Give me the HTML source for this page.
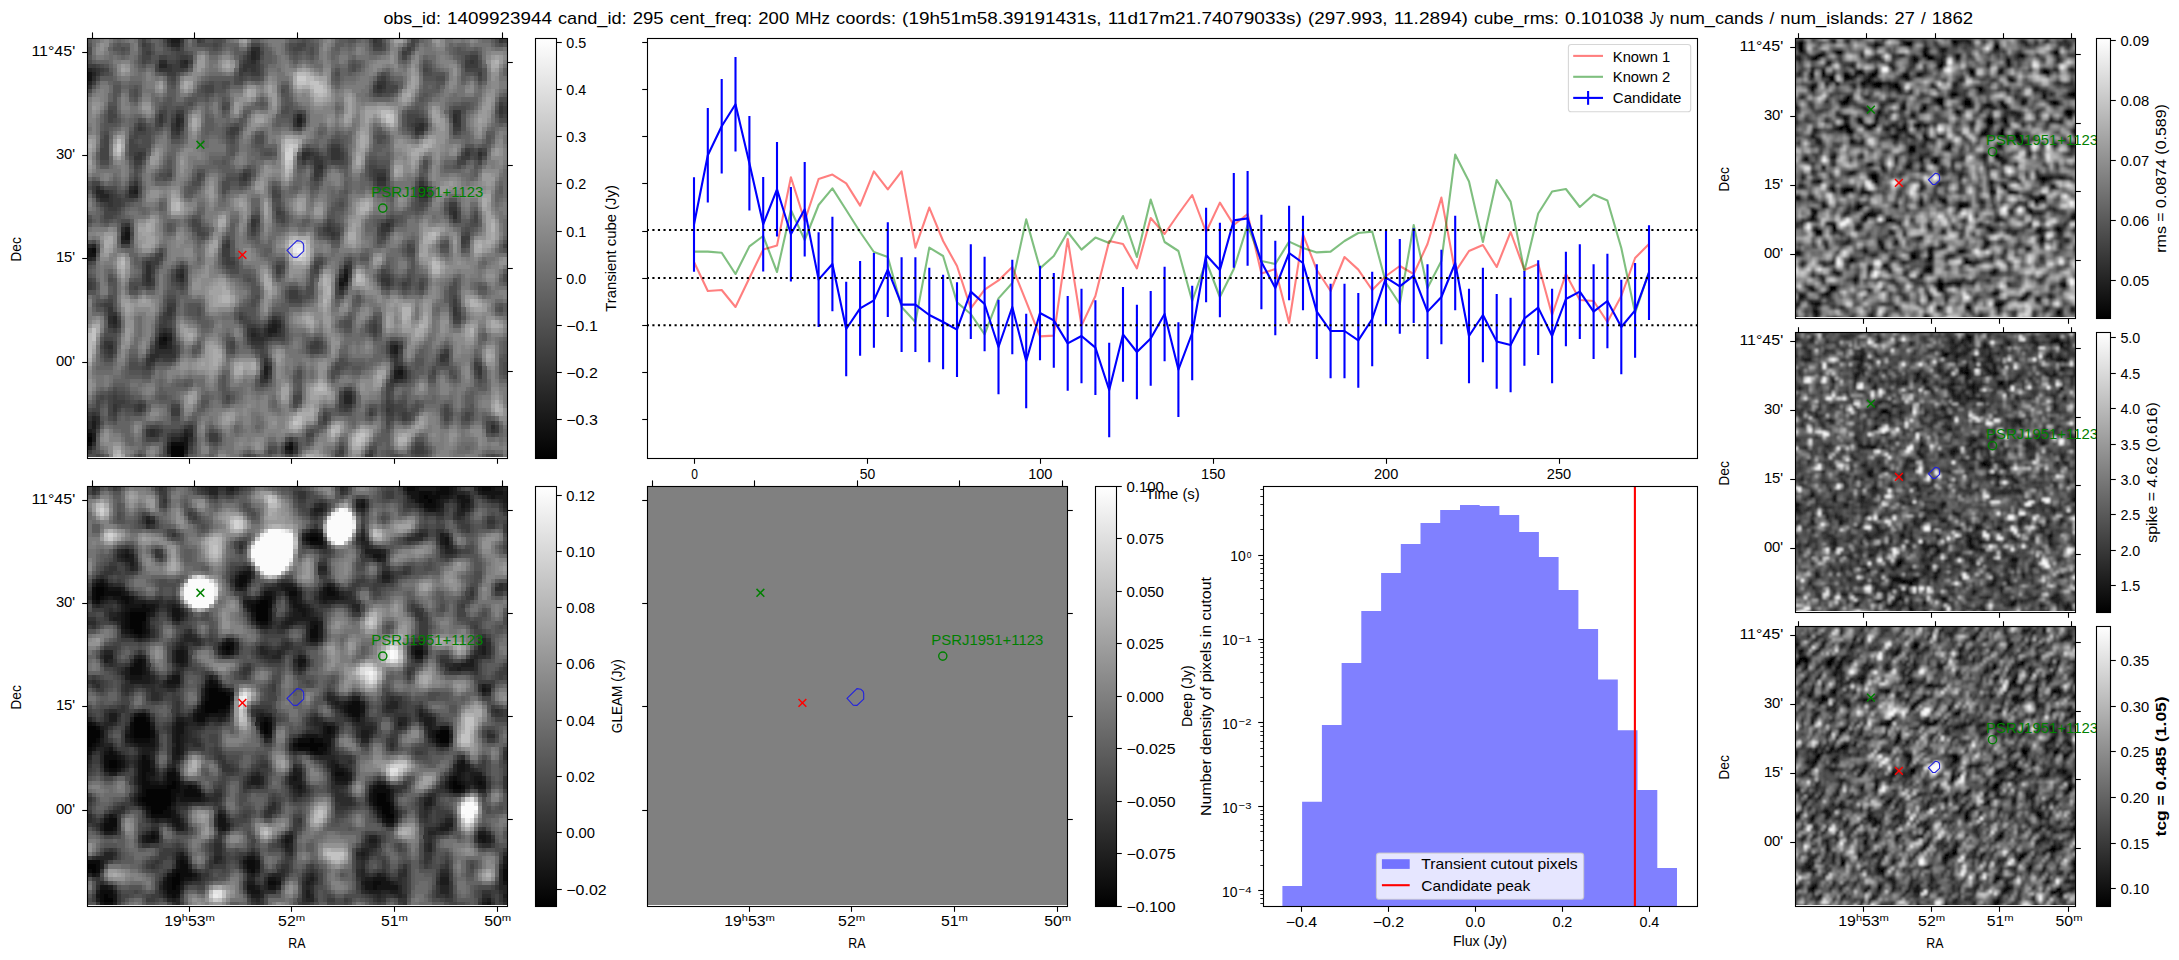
<!DOCTYPE html>
<html><head><meta charset="utf-8"><title>candidate 295</title>
<style>
html,body{margin:0;padding:0;background:#fff;}
body{width:2179px;height:960px;overflow:hidden;}
svg{display:block;font-family:"Liberation Sans",sans-serif;}
</style></head><body>
<svg width="2179" height="960" viewBox="0 0 2179 960">
<rect width="2179" height="960" fill="#fff"/>
<defs>
<filter id="sm" x="0" y="0" width="1" height="1"><feGaussianBlur stdDeviation="0.38"/></filter>
<filter id="sm2" x="0" y="0" width="1" height="1"><feGaussianBlur stdDeviation="0.36"/></filter>
<linearGradient id="gray" x1="0" y1="0" x2="0" y2="1"><stop offset="0" stop-color="#fff"/><stop offset="1" stop-color="#000"/></linearGradient>
</defs>
<text x="383.4" y="23.8" font-size="17.00" text-anchor="start" fill="#000" textLength="57.6" lengthAdjust="spacingAndGlyphs">obs_id:</text>
<text x="447.1" y="23.8" font-size="17.00" text-anchor="start" fill="#000" textLength="104.8" lengthAdjust="spacingAndGlyphs">1409923944</text>
<text x="558.0" y="23.8" font-size="17.00" text-anchor="start" fill="#000" textLength="68.6" lengthAdjust="spacingAndGlyphs">cand_id:</text>
<text x="632.7" y="23.8" font-size="17.00" text-anchor="start" fill="#000" textLength="30.9" lengthAdjust="spacingAndGlyphs">295</text>
<text x="669.7" y="23.8" font-size="17.00" text-anchor="start" fill="#000" textLength="82.5" lengthAdjust="spacingAndGlyphs">cent_freq:</text>
<text x="758.3" y="23.8" font-size="17.00" text-anchor="start" fill="#000" textLength="30.9" lengthAdjust="spacingAndGlyphs">200</text>
<text x="795.3" y="23.8" font-size="17.00" text-anchor="start" fill="#000" textLength="34.7" lengthAdjust="spacingAndGlyphs">MHz</text>
<text x="836.1" y="23.8" font-size="17.00" text-anchor="start" fill="#000" textLength="59.9" lengthAdjust="spacingAndGlyphs">coords:</text>
<text x="902.1" y="23.8" font-size="17.00" text-anchor="start" fill="#000" textLength="199.5" lengthAdjust="spacingAndGlyphs">(19h51m58.39191431s,</text>
<text x="1107.7" y="23.8" font-size="17.00" text-anchor="start" fill="#000" textLength="194.2" lengthAdjust="spacingAndGlyphs">11d17m21.74079033s)</text>
<text x="1308.0" y="23.8" font-size="17.00" text-anchor="start" fill="#000" textLength="79.6" lengthAdjust="spacingAndGlyphs">(297.993,</text>
<text x="1393.7" y="23.8" font-size="17.00" text-anchor="start" fill="#000" textLength="74.3" lengthAdjust="spacingAndGlyphs">11.2894)</text>
<text x="1474.1" y="23.8" font-size="17.00" text-anchor="start" fill="#000" textLength="84.8" lengthAdjust="spacingAndGlyphs">cube_rms:</text>
<text x="1565.1" y="23.8" font-size="17.00" text-anchor="start" fill="#000" textLength="78.4" lengthAdjust="spacingAndGlyphs">0.101038</text>
<text x="1649.6" y="23.8" font-size="17.00" text-anchor="start" fill="#000" textLength="13.9" lengthAdjust="spacingAndGlyphs">Jy</text>
<text x="1669.6" y="23.8" font-size="17.00" text-anchor="start" fill="#000" textLength="93.7" lengthAdjust="spacingAndGlyphs">num_cands</text>
<text x="1769.4" y="23.8" font-size="17.00" text-anchor="start" fill="#000" textLength="4.8" lengthAdjust="spacingAndGlyphs">/</text>
<text x="1780.3" y="23.8" font-size="17.00" text-anchor="start" fill="#000" textLength="108.1" lengthAdjust="spacingAndGlyphs">num_islands:</text>
<text x="1894.5" y="23.8" font-size="17.00" text-anchor="start" fill="#000" textLength="20.3" lengthAdjust="spacingAndGlyphs">27</text>
<text x="1920.9" y="23.8" font-size="17.00" text-anchor="start" fill="#000" textLength="4.8" lengthAdjust="spacingAndGlyphs">/</text>
<text x="1931.7" y="23.8" font-size="17.00" text-anchor="start" fill="#000" textLength="41.4" lengthAdjust="spacingAndGlyphs">1862</text>
<g clip-path="none">
<rect x="87.50" y="38.50" width="420.00" height="420.00" fill="#666"/><g transform="translate(87.50 38.50) scale(4.2000)"><rect width="100" height="100" fill="#6c6c6c"/><g transform="translate(.5 0)" fill="none" stroke-width="1.06" shape-rendering="crispEdges"><path stroke="#747474" d="M0 14v19m0 5v3m0 4v3m0 13v25M1 2v2m0 9v20m0 7v1m0 4v3m0 18v19M2 0v5m0 7v14m0 5v2m0 12v3m0 5v4m0 9v9m0 5v3M3 0v5m0 5v8m0 13v3m0 11v16m0 5v4m0 10v3m0 10v5M4 0v5m0 5v6m0 15v3m0 11v10m0 3v3m0 19v3m0 9v7M5 0v1m0 24v3m0 3v3m0 11v10m0 25v2m0 11v7M6 4v3m0 15v10m0 13v11m0 22v2m0 14v6M7 5v5m0 12v11m0 17v14m0 10v6m0 14v6M8 5v5m0 3v5m0 3v14m0 16v16m0 2v9m0 17v5M9 0v1m0 4v5m0 3v6m0 2v3m0 5v5m0 17v8m0 1v16m0 21v3M10 0v9m0 7v2m0 23v1m0 12v2m0 5v12m0 9v1m0 9v2m0 3v2M11 0v4m0 3v2m0 7v2m0 23v10m0 11v9m0 11v1m0 8v5m0 1v1M12 15v3m0 24v10m0 9v5m0 5v5m0 7v1m0 7v4M13 8v11m0 13v2m0 4v2m0 2v10m0 8v15m0 7v3M14 7v12m0 10v11m0 2v9m0 10v13m0 8v4m0 3v2m0 6v3M15 8v5m0 2v4m0 7v6m0 2v17m0 10v9m0 11v4m0 2v4m0 6v3M16 9v5m0 10v7m0 4v5m0 1v9m0 10v6m0 13v2m0 6v4m0 6v2M17 9v5m0 9v7m0 5v3m0 4v7m0 6v8m0 25v3M18 10v3m0 9v6m0 7v3m0 9v2m0 4v3m0 23v2m0 7v2M19 35v8m0 4v8m0 24v3M20 34v9m0 4v7m0 24v3M21 27v16m0 2v8m0 13v5m0 6v4M22 9v5m0 12v27m0 13v6m0 3v6m0 3v3M23 9v5m0 11v9m0 4v5m0 2v8m0 14v14m0 3v7M24 0v1m0 7v5m0 5v15m0 6v3m0 4v8m0 2v5m0 6v7m0 1v5m0 3v7M25 5v7m0 5v13m0 8v3m0 8v13m0 6v5m0 3v5m0 1v7M26 3v7m0 6v14m0 7v2m0 15v8m0 7v2m0 4v6m0 2v3m0 5v4M27 3v6m0 7v4m0 6v4m0 5v4m0 10v13m0 10v9m0 9v10M28 3v6m0 17v3m0 4v11m0 4v18m0 4v14m0 5v3m0 5v2M29 5v3m0 8v1m0 7v3m0 5v13m0 2v19m0 4v14m0 4v3M30 5v3m0 7v4m0 5v3m0 5v52m0 2v6M31 4v4m0 17v2m0 13v10m0 5v25m0 7v6m0 5v2M32 3v6m0 16v2m0 13v7m0 9v10m0 1v3m0 3v6m0 9v6m0 3v3M33 3v6m0 29v7m0 12v9m0 1v2m0 8v2m0 9v12M34 0v1m0 3v5m0 3v7m0 18v5m0 15v8m0 2v3m0 6v7m0 4v13M35 0v1m0 4v2m0 5v7m0 9v3m0 6v5m0 3v5m0 8v6m0 4v4m0 3v8m0 4v5m0 3v5M36 0v2m0 10v6m0 6v7m0 6v15m0 7v4m0 6v3m0 3v8m0 3v6m0 2v5M37 0v2m0 9v5m0 5v9m0 6v18m0 6v2m0 13v23M38 0v1m0 9v6m0 3v6m0 11v7m0 6v5m0 21v23M39 11v4m0 2v6m0 11v4m0 12v5m0 20v7m0 2v14M40 11v3m0 3v5m0 10v6m0 13v6m0 19v4m0 5v5m0 4v5M41 11v3m0 3v5m0 8v14m0 2v2m0 4v8m0 2v5m0 18v6m0 2v6M42 0v1m0 8v5m0 3v5m0 7v20m0 4v13m0 18v13M43 0v2m0 5v18m0 4v5m0 4v9m0 7v11m0 19v2m0 2v7M44 0v3m0 4v12m0 3v3m0 4v5m0 14v3m0 6v6m0 10v4m0 6v2m0 4v6M45 0v7m0 1v3m0 2v4m0 5v12m0 13v5m0 6v4m0 11v15m0 1v7M46 0v10m0 11v15m0 10v6m0 21v23M47 4v6m0 11v15m0 2v2m0 6v7m0 2v3m0 16v21M48 6v6m0 10v13m0 3v4m0 3v13m0 7v4m0 4v7m0 1v5m0 2v6M49 7v8m0 7v11m0 4v6m0 2v13m0 7v5m0 1v7m0 11v6M50 6v10m0 7v4m0 9v7m0 3v13m0 6v5m0 1v3m0 1v2m0 11v7m0 4v1M51 5v11m0 6v3m0 10v8m0 3v13m0 5v6m0 5v3m0 4v12m0 4v2M52 6v11m0 4v4m0 6v2m0 3v6m0 3v11m0 8v6m0 6v16m0 6v2M53 6v18m0 15v4m0 2v8m0 10v8m0 5v3m0 2v11m0 5v3M54 7v15m0 16v6m0 4v3m0 11v8m0 6v16m0 3v5M55 0v6m0 1v13m0 16v8m0 4v3m0 5v14m0 6v12m0 6v6M56 0v21m0 13v9m0 5v4m0 2v17m0 5v11m0 6v7M57 0v23m0 9v3m0 14v3m0 1v26m0 2v7m0 4v8M58 0v2m0 9v11m0 9v4m0 17v25m0 5v6m0 3v7M59 12v3m0 3v3m0 10v5m0 15v4m0 9v3m0 2v7m0 6v3m0 5v6M60 3v3m0 5v5m0 1v5m0 10v3m0 13v4m0 11v3m0 4v3m0 7v3m0 7v5M61 3v3m0 4v12m0 20v9m0 10v5m0 14v2m0 9v4M62 10v12m0 15v14m0 9v5m0 8v2m0 5v2m0 10v8M63 3v1m0 6v24m0 2v15m0 4v6m0 11v4m0 5v1m0 11v7M64 1v4m0 4v25m0 3v14m0 3v6m0 5v5m0 3v3m0 5v3m0 7v9M65 1v4m0 3v24m0 5v13m0 4v7m0 2v5m0 4v4m0 4v9m0 2v8M66 3v10m0 1v14m0 8v7m0 4v3m0 5v12m0 4v5m0 3v8m0 4v6M67 5v5m0 5v11m0 10v6m0 5v3m0 2v14m0 6v4m0 3v7m0 6v4M68 5v4m0 6v5m0 17v5m0 8v6m0 2v6m0 14v8m0 5v4M69 4v4m0 7v6m0 17v4m0 8v5m0 4v5m0 13v9m0 4v4M70 4v3m0 8v7m0 17v3m0 8v4m0 7v10m0 6v6M71 3v4m0 8v7m0 27v2m0 10v10m0 6v3M72 0v8m0 7v12m0 2v5m0 13v3m0 10v11m0 23v3M73 0v9m0 5v21m0 2v4m0 5v4m0 10v11m0 21v6M74 0v2m0 4v3m0 4v8m0 1v19m0 5v3m0 3v4m0 5v10m0 21v7M75 0v1m0 6v10m0 6v17m0 6v2m0 5v2m0 7v9m0 3v2m0 16v7M76 6v10m0 7v16m0 4v4m0 14v16m0 15v5M77 4v11m0 9v10m0 9v3m0 15v15m0 7v2m0 6v5M78 3v11m0 10v9m0 11v3m0 4v2m0 8v13m0 8v3m0 5v5M79 1v4m0 4v2m0 13v5m0 14v12m0 7v11m0 8v5m0 3v5M80 2v2m0 19v5m0 14v14m0 5v11m0 9v4m0 3v6M81 0v4m0 11v5m0 2v6m0 3v3m0 6v31m0 17v8M82 0v4m0 10v21m0 3v4m0 1v21m0 2v9m0 13v9m0 2v1M83 0v7m0 7v35m0 1v13m0 3v8m0 7v4m0 4v11M84 0v7m0 6v17m0 2v8m0 2v6m0 4v10m0 2v9m0 7v6m0 7v7M85 0v2m0 1v5m0 2v5m0 3v11m0 3v6m0 5v4m0 5v6m0 6v8m0 9v5m0 7v7M86 0v1m0 3v10m0 10v5m0 3v5m0 8v12m0 11v5m0 9v3m0 7v8M87 0v1m0 4v8m0 11v5m0 3v5m0 8v11m0 13v8m0 6v5m0 3v9M88 0v1m0 5v8m0 10v3m0 5v6m0 8v10m0 13v9m0 4v7m0 3v5m0 2v1M89 0v1m0 10v3m0 19v8m0 11v12m0 4v17m0 8v3m0 3v1M90 0v1m0 9v4m0 5v2m0 10v1m0 2v8m0 10v31m0 10v3m0 3v1M91 0v2m0 8v4m0 4v5m0 11v5m0 9v10m0 2v16m0 4v3m0 9v4m0 2v2M92 0v2m0 9v2m0 4v8m0 9v5m0 8v11m0 2v14m0 17v9M93 0v2m0 12v11m0 7v9m0 5v7m0 2v3m0 3v9m0 15v4m0 2v8M94 1v4m0 6v13m0 6v22m0 3v3m0 4v7m0 4v4m0 8v4m0 4v5M95 1v20m0 7v31m0 2v20m0 3v5m0 7v2M96 2v18m0 5v65m0 6v2M97 3v11m0 8v13m0 5v10m0 1v11m0 4v24m0 5v3M98 3v10m0 8v12m0 6v9m0 3v5m0 3v3m0 4v5m0 11v9m0 5v2M99 2v5m0 2v3m0 9v10m0 7v5m0 8v4m0 4v4m0 3v5m0 11v11m0 2v5"/><path stroke="#7c7c7c" d="M0 14v7m0 1v11m0 5v3m0 5v2m0 14v24M1 13v19m0 13v2m0 19v12m0 2v4M2 1v4m0 7v7m0 4v2m0 20v3m0 18v7M3 0v5m0 6v6m0 15v2m0 11v16m0 5v4m0 24v3M4 0v4m0 7v4m0 17v2m0 11v9m0 5v2m0 19v3m0 10v5M5 0v1m0 31v1m0 12v9m0 39v7M6 5v1m0 17v7m0 15v10m0 39v6M7 5v4m0 13v9m0 20v7m0 3v2m0 12v4m0 15v6M8 5v5m0 3v5m0 3v13m0 17v15m0 4v8m0 18v4M9 5v5m0 4v4m0 12v3m0 18v7m0 3v14m0 22v3M10 0v1m0 5v3m0 53v11m0 25v1M11 1v2m0 40v7m0 12v4m0 25v4M12 15v3m0 25v8m0 10v5m0 6v3m0 16v3M13 13v5m0 25v8m0 10v14m0 8v2M14 8v4m0 1v6m0 10v11m0 2v9m0 10v12m0 9v3m0 5v1m0 7v2M15 9v3m0 4v2m0 8v6m0 3v5m0 1v10m0 10v7m0 14v3m0 3v3m0 6v3M16 10v3m0 12v6m0 4v4m0 2v9m0 11v4m0 23v3m0 6v2M17 9v5m0 10v6m0 5v3m0 5v6m0 7v5m0 27v2M18 10v3m0 10v4m0 8v3M19 35v7m0 6v6m0 25v3M20 34v9m0 4v6m0 25v3M21 27v16m0 2v7m0 15v3m0 7v3M22 9v5m0 12v9m0 2v6m0 2v7m0 14v6m0 4v5m0 4v1M23 9v5m0 11v9m0 5v3m0 4v7m0 14v7m0 1v5m0 4v6M24 8v5m0 5v14m0 7v3m0 6v6m0 5v2m0 7v5m0 3v4m0 4v6M25 6v6m0 5v12m0 9v3m0 10v2m0 2v7m0 6v4m0 4v4m0 3v5M26 3v7m0 6v7m0 3v3m0 26v6m0 9v1m0 5v4m0 3v3m0 6v2M27 3v6m0 18v2m0 7v2m0 16v8m0 12v6m0 10v5m0 1v3M28 4v4m0 25v10m0 5v17m0 6v12m0 7v1m0 6v2M29 32v12m0 3v19m0 4v14m0 5v1M30 6v1m0 8v3m0 14v8m0 1v12m0 2v11m0 2v14m0 6v4M31 4v4m0 33v8m0 7v10m0 1v3m0 1v9m0 8v5m0 5v2M32 4v4m0 33v5m0 10v9m0 9v4m0 10v6m0 4v2M33 3v6m0 31v5m0 12v8m0 23v7m0 4v1M34 4v4m0 5v1m0 2v3m0 19v3m0 17v7m0 11v7m0 5v5M35 0v1m0 12v6m0 9v2m0 7v4m0 18v5m0 5v2m0 5v7m0 4v4m0 4v4M36 0v2m0 11v5m0 9v3m0 7v14m0 9v2m0 8v1m0 4v7m0 5v4m0 4v3M37 0v2m0 9v5m0 6v3m0 2v3m0 7v9m0 3v5m0 6v1m0 14v6m0 4v8m0 1v4M38 0v1m0 10v5m0 3v5m0 12v6m0 7v5m0 21v7m0 1v14M39 11v4m0 3v4m0 13v2m0 13v4m0 22v5m0 4v4m0 5v4M40 11v3m0 3v5m0 11v4m0 15v4m0 21v3m0 6v3m0 5v5M41 11v2m0 4v4m0 9v12m0 11v6m0 3v4m0 19v5m0 4v5M42 10v4m0 3v4m0 8v19m0 5v13m0 19v11M43 0v1m0 7v17m0 4v5m0 4v8m0 9v9m0 25v6M44 0v2m0 6v11m0 4v1m0 6v3m0 25v4m0 12v3m0 12v6M45 0v4m0 10v2m0 7v11m0 13v4m0 8v2m0 12v14m0 3v6M46 0v1m0 3v4m0 14v13m0 12v4m0 23v21M47 5v4m0 13v13m0 11v7m0 3v2m0 17v3m0 2v14M48 7v4m0 11v12m0 4v3m0 4v13m0 8v2m0 8v3m0 3v3m0 4v5M49 7v7m0 9v8m0 7v4m0 3v13m0 7v4m0 3v2m0 15v5M50 6v9m0 8v3m0 11v6m0 3v12m0 7v4m0 19v6M51 6v10m0 6v3m0 11v6m0 4v12m0 6v5m0 7v1m0 9v7m0 5v2M52 6v10m0 5v3m0 13v5m0 4v9m0 9v6m0 6v3m0 2v11m0 6v2M53 7v17m0 16v3m0 3v7m0 11v6m0 7v1m0 3v11m0 5v3M54 7v14m0 17v5m0 5v3m0 12v7m0 6v15m0 5v4M55 2v3m0 3v12m0 17v6m0 6v2m0 5v13m0 7v12m0 6v6M56 0v20m0 17v5m0 7v2m0 4v16m0 5v11m0 7v6M57 0v3m0 2v17m0 10v2m0 15v2m0 3v19m0 2v3m0 4v5m0 5v5m0 2v1M58 0v1m0 11v9m0 10v4m0 18v9m0 3v12m0 6v4m0 4v6M59 13v2m0 4v1m0 12v3m0 30v1m0 4v6m0 15v5M60 4v2m0 6v3m0 3v3m0 28v2m0 12v3m0 5v1m0 9v1m0 9v4M61 4v1m0 6v11m0 21v1m0 1v6m0 11v3m0 15v2m0 9v3M62 11v10m0 19v11m0 10v3m0 17v1m0 11v7M63 11v9m0 3v10m0 4v14m0 4v5m0 13v2m0 18v7M64 2v2m0 6v3m0 1v19m0 4v14m0 3v6m0 5v4m0 12v3m0 8v8M65 2v2m0 5v3m0 3v16m0 6v13m0 4v7m0 3v4m0 5v2m0 5v7m0 4v8M66 7v4m0 4v12m0 9v7m0 5v2m0 5v7m0 1v4m0 5v3m0 5v6m0 6v5M67 5v4m0 6v10m0 12v5m0 11v9m0 2v2m0 6v3m0 4v7m0 6v4M68 5v4m0 6v5m0 18v3m0 10v4m0 3v5m0 15v8m0 5v3M69 5v3m0 7v5m0 19v2m0 10v4m0 5v4m0 14v7m0 6v2M70 4v3m0 8v6m0 18v3m0 8v3m0 8v9m0 7v5M71 4v3m0 8v7m0 40v9m0 6v3M72 0v7m0 8v8m0 7v3m0 14v3m0 11v9M73 0v8m0 6v20m0 4v2m0 6v4m0 11v9m0 22v6M74 0v2m0 5v1m0 5v5m0 5v11m0 2v5m0 5v3m0 4v2m0 6v10m0 21v6M75 0v1m0 7v1m0 2v5m0 7v11m0 2v4m0 13v2m0 7v9m0 22v5M76 6v10m0 8v9m0 3v2m0 24v15m0 15v5M77 4v11m0 9v9m0 29v14m0 16v3M78 3v10m0 12v7m0 30v2m0 3v7m0 8v3m0 5v4M79 2v2m0 20v5m0 14v11m0 8v11m0 8v4m0 4v5M80 23v5m0 14v13m0 6v11m0 10v3m0 4v5M81 15v4m0 3v6m0 4v2m0 8v15m0 2v11m0 19v7M82 0v3m0 12v20m0 3v3m0 3v19m0 9v2m0 15v8M83 0v6m0 9v26m0 3v5m0 2v11m0 5v6m0 17v10M84 0v7m0 7v15m0 4v6m0 4v4m0 5v6m0 7v7m0 8v5m0 8v7M85 4v3m0 4v3m0 5v9m0 5v5m0 6v3m0 6v4m0 8v6m0 11v3m0 8v7M86 5v8m0 12v3m0 4v5m0 8v4m0 3v5m0 12v3m0 11v1m0 8v8M87 0v1m0 4v8m0 12v3m0 4v5m0 9v10m0 14v7m0 15v6M88 0v1m0 6v2m0 16v2m0 6v4m0 10v9m0 14v7m0 6v5m0 5v3M89 34v6m0 12v4m0 3v5m0 4v16M90 0v1m0 10v3m0 21v6m0 11v14m0 1v16m0 10v2m0 4v1M91 0v2m0 8v4m0 4v4m0 12v5m0 9v9m0 3v15m0 17v3m0 4v1M92 0v1m0 16v7m0 10v5m0 8v10m0 4v12m0 19v4m0 2v2M93 15v9m0 8v9m0 5v7m0 8v8m0 17v2m0 4v7M94 12v11m0 8v21m0 3v3m0 4v7m0 4v4m0 8v3m0 6v4M95 2v19m0 8v23m0 2v5m0 3v8m0 2v7m0 6v4m0 7v1M96 3v15m0 8v26m0 1v7m0 1v2m0 2v25m0 6v2M97 3v11m0 9v11m0 7v9m0 2v6m0 2v2m0 4v5m0 2v5m0 3v9m0 6v2M98 3v5m0 2v2m0 10v10m0 8v1m0 3v4m0 4v3m0 5v2m0 4v5m0 12v8m0 6v1M99 3v3m0 4v2m0 10v1m0 2v5m0 9v3m0 10v3m0 5v2m0 5v3m0 13v9m0 4v3"/><path stroke="#838383" d="M0 15v5m0 3v10m0 6v1m0 6v1m0 15v2m0 3v18M1 14v14m0 1v3m0 14v1m0 19v11m0 4v3M2 1v3m0 9v5m0 28v1m0 19v7M3 0v4m0 8v5m0 29v8m0 13v2m0 25v3M4 0v3m0 29v2m0 12v7m0 40v4M5 45v7m0 42v6M6 23v7m0 15v6m0 1v3m0 40v5M7 6v3m0 13v8m0 21v6m0 19v1m0 18v5M8 5v4m0 5v3m0 5v11m0 18v15m0 4v7m0 19v4M9 5v4m0 7v1m0 34v7m0 3v13m0 24v1M10 62v10M11 44v5m0 13v4m0 26v2M12 16v1m0 26v8m0 10v4m0 8v1m0 18v1M13 14v4m0 25v8m0 10v4m0 6v4M14 8v2m0 4v5m0 11v2m0 4v3m0 4v8m0 10v11m0 11v2m0 13v1M15 17v1m0 9v4m0 4v4m0 3v9m0 11v5m0 16v1m0 4v3m0 6v3M16 10v3m0 12v6m0 4v4m0 3v8m0 12v3m0 23v2M17 10v3m0 12v4m0 7v2m0 8v2M18 11v1m0 24v1M19 35v7m0 37v2M20 35v8m0 5v5m0 26v1M21 28v15m0 3v6m0 16v1m0 9v2M22 9v4m0 14v7m0 4v5m0 2v7m0 15v5m0 4v4M23 9v4m0 13v7m0 6v3m0 5v1m0 1v3m0 16v5m0 3v4m0 5v5M24 9v4m0 5v10m0 11v2m0 8v4m0 15v5m0 3v3m0 5v5M25 6v5m0 6v11m0 11v1m0 16v5m0 8v3m0 4v4m0 3v4M26 4v5m0 8v5m0 5v2m0 26v6m0 15v4M27 3v6m0 45v7m0 14v5m0 11v3m0 3v2M28 4v3m0 27v5m0 10v16m0 6v11m0 15v2M29 33v8m0 7v18m0 5v12M30 33v6m0 3v10m0 4v10m0 4v11M31 5v3m0 33v7m0 8v9m0 3v1m0 3v7m0 10v3m0 7v1M32 4v4m0 33v5m0 10v9m0 9v4m0 11v4m0 6v1M33 4v4m0 33v3m0 13v8m0 23v6M34 5v3m0 9v1m0 20v2m0 18v7m0 12v4m0 7v4M35 13v6m0 19v3m0 19v3m0 6v2m0 5v6m0 6v3m0 5v2M36 0v2m0 11v4m0 11v2m0 7v10m0 29v6m0 6v2m0 5v3M37 0v2m0 10v4m0 6v2m0 13v8m0 5v3m0 23v5m0 6v5m0 3v2M38 0v1m0 10v4m0 5v3m0 16v3m0 8v3m0 23v5m0 4v7m0 4v1M39 11v4m0 3v4m0 13v1m0 15v2m0 23v5m0 5v2m0 7v3M40 11v3m0 3v4m0 12v4m0 40v2m0 16v3M41 12v1m0 5v3m0 10v10m0 13v5m0 4v2m0 21v3m0 6v3M42 10v4m0 4v3m0 9v17m0 7v12m0 19v6m0 2v2M43 9v11m0 10v3m0 6v6m0 10v9m0 25v5M44 9v9m0 12v3m0 25v4m0 12v2m0 14v4M45 23v2m0 4v4m0 15v3m0 23v12m0 4v5M46 22v13m0 12v4m0 23v14m0 2v5M47 6v3m0 13v13m0 11v6m0 29v13M48 7v3m0 12v12m0 5v1m0 6v12m0 25v1m0 5v5M49 7v6m0 10v7m0 8v4m0 4v11m0 8v3m0 21v5M50 7v8m0 8v3m0 11v5m0 4v12m0 7v4m0 19v6M51 6v9m0 7v3m0 12v5m0 4v11m0 8v4m0 18v6m0 6v1M52 7v8m0 7v2m0 22v9m0 9v6m0 7v1m0 4v10m0 6v2M53 7v10m0 4v1m0 19v1m0 4v7m0 11v6m0 12v10m0 6v2M54 8v10m0 21v4m0 6v1m0 13v6m0 8v2m0 2v10m0 5v4M55 8v10m0 20v5m0 13v12m0 8v11m0 8v5M56 0v20m0 19v2m0 8v2m0 4v15m0 6v11m0 7v3m0 2v1M57 0v2m0 4v15m0 33v18m0 4v2m0 4v5m0 5v5M58 12v4m0 1v4m0 11v2m0 21v6m0 5v2m0 1v7m0 7v4m0 4v6M59 32v3m0 35v5m0 16v5M60 13v1m0 4v3m0 42v3m0 25v3M61 12v9m0 25v4m0 12v3m0 27v2M62 12v9m0 21v8m0 44v6M63 13v6m0 7v6m0 6v13m0 5v4m0 33v7M64 2v2m0 11v3m0 3v11m0 6v12m0 4v6m0 6v2m0 14v1m0 9v8M65 16v15m0 7v6m0 4v1m0 6v5m0 4v3m0 14v5m0 6v6M66 15v12m0 10v6m0 13v5m0 3v2m0 6v3m0 6v5m0 6v5M67 6v3m0 6v6m0 16v5m0 15v4m0 12v1m0 6v5m0 7v4M68 5v3m0 7v5m0 19v1m0 11v4m0 4v3m0 17v6m0 7v2M69 5v2m0 8v5m0 31v3m0 6v3m0 15v6M70 5v2m0 8v6m0 19v1m0 10v2m0 9v7m0 8v5M71 4v2m0 9v7m0 40v8m0 8v1M72 0v7m0 8v8m0 38v9M73 0v8m0 7v19m0 12v3m0 12v9m0 23v5M74 0v2m0 11v4m0 6v11m0 3v3m0 7v1m0 14v8m0 23v5M75 0v1m0 11v4m0 8v9m0 3v4m0 22v9m0 22v5M76 7v9m0 8v8m0 30v14m0 17v4M77 5v10m0 10v8m0 29v13m0 17v3M78 3v10m0 12v6m0 36v6m0 10v2m0 6v3M79 24v5m0 15v10m0 8v10m0 10v3m0 5v4M80 23v5m0 15v12m0 6v10m0 11v2m0 5v4M81 16v3m0 4v4m0 17v13m0 3v10m0 19v3m0 2v1M82 0v2m0 13v19m0 5v1m0 4v19m0 27v6M83 0v3m0 12v25m0 4v4m0 3v7m0 1v3m0 8v3m0 19v4m0 3v1M84 0v3m0 1v2m0 11v11m0 5v6m0 5v3m0 5v5m0 8v7m0 9v4m0 13v2M85 5v2m0 12v8m0 6v4m0 7v3m0 6v4m0 8v6m0 11v3m0 9v6M86 5v8m0 12v3m0 5v4m0 8v3m0 5v3m0 14v1m0 22v5M87 6v6m0 13v3m0 5v4m0 9v10m0 14v6m0 16v5M88 25v1m0 7v4m0 14v4m0 15v6m0 18v1M89 35v3m0 14v4m0 4v3m0 6v6m0 3v2M90 11v2m0 22v5m0 13v4m0 3v5m0 2v8m0 2v5M91 0v1m0 9v3m0 6v2m0 14v3m0 11v7m0 4v14m0 19v2M92 0v1m0 17v6m0 10v4m0 9v7m0 7v11m0 20v3M93 16v8m0 9v7m0 7v5m0 10v6m0 24v6M94 13v9m0 9v21m0 4v1m0 5v6m0 6v3m0 9v2m0 7v2M95 3v5m0 2v10m0 10v21m0 4v3m0 4v8m0 3v6m0 7v2M96 3v14m0 9v3m0 2v6m0 3v11m0 3v5m0 7v5m0 1v18m0 6v1M97 3v10m0 11v10m0 8v7m0 4v4m0 9v5m0 11v8m0 6v1M98 3v4m0 15v9m0 15v1m0 5v3m0 5v1m0 6v4m0 13v7M99 3v3m0 20v3m0 23v2m0 6v2m0 5v3m0 17v5m0 5v1"/><path stroke="#8b8b8b" d="M0 23v9m0 36v17M1 14v5m0 4v4m0 3v1m0 36v10m0 5v1M2 2v2m0 10v4m0 28v1m0 19v6M3 1v3m0 11v1m0 30v3m0 1v3m0 42v1M4 0v2m0 44v7m0 40v4M5 45v6m0 45v3M6 23v6m0 17v4m0 3v1m0 42v4M7 6v2m0 15v7m0 21v6m0 39v4M8 6v3m0 13v7m0 22v8m0 1v5m0 6v5m0 21v3M9 6v3m0 43v5m0 4v13M10 62v9M11 62v3m0 27v2M12 43v7m0 12v3M13 15v3m0 25v8m0 10v4m0 7v2M14 15v3m0 19v2m0 4v8m0 11v4M15 27v4m0 5v3m0 3v8m0 12v4m0 23v1m0 8v1M16 10v3m0 13v4m0 6v2m0 4v7m0 40v1M17 10v3m0 13v2m0 8v1M19 36v5M20 35v7M21 35v7m0 4v4m0 28v1M22 10v3m0 14v6m0 5v4m0 4v3m0 18v4m0 6v3M23 9v4m0 13v5m0 8v3m0 8v2m0 16v5m0 3v3m0 6v4M24 9v4m0 6v3m0 4v1m0 13v1m0 9v2m0 17v4m0 4v2m0 5v5M25 7v3m0 8v6m0 33v4m0 8v3m0 5v2m0 5v3M26 4v5m0 8v5m0 34v5m0 15v4M27 4v4m0 47v6m0 14v5m0 12v1M28 35v3m0 11v14m0 9v8M29 33v7m0 8v6m0 3v8m0 6v11M30 37v1m0 5v2m0 1v5m0 6v8m0 6v9M31 5v2m0 35v5m0 9v9m0 8v6m0 11v2m0 7v1M32 4v4m0 33v5m0 11v8m0 10v2m0 12v4m0 6v1M33 4v4m0 50v7m0 24v4M34 5v3m0 51v5m0 13v3m0 8v4M35 14v4m0 20v3m0 20v2m0 13v6m0 7v1M36 0v1m0 13v3m0 20v5m0 2v2m0 30v5m0 15v1M37 0v2m0 10v3m0 22v7m0 6v2m0 24v4m0 8v2M38 11v4m0 6v2m0 27v3m0 23v4m0 7v1M39 11v4m0 3v4m0 54v4m0 16v1M40 12v1m0 5v3m0 13v3m0 41v1m0 16v3M41 18v3m0 11v5m0 17v4m0 37v3M42 11v2m0 5v2m0 10v5m0 3v8m0 8v11M43 9v6m0 2v2m0 11v3m0 7v4m0 12v7m0 27v3M44 10v8m0 13v1m0 27v2m0 14v1m0 14v3M45 31v1m0 17v1m0 24v7m0 3v1M46 23v11m0 14v2m0 24v4m0 3v6m0 6v1M47 23v12m0 12v5m0 30v5m0 3v4M48 8v1m0 14v11m0 12v11m0 32v5M49 8v5m0 10v6m0 9v3m0 5v11m0 9v2m0 21v5M50 7v7m0 9v3m0 11v5m0 5v10m0 9v2m0 20v6M51 6v7m0 10v1m0 13v5m0 5v9m0 9v4m0 18v6m0 6v1M52 7v7m0 32v9m0 10v4m0 13v10m0 6v2M53 7v9m0 31v5m0 13v5m0 12v10m0 6v2M54 8v9m0 22v4m0 22v4m0 12v10m0 6v3M55 9v8m0 22v4m0 13v11m0 10v10m0 9v4M56 1v2m0 4v9m0 39v15m0 6v10m0 13v1M57 0v1m0 6v9m0 2v3m0 34v16m0 11v5m0 6v3M58 13v2m0 3v2m0 36v2m0 12v6m0 8v2m0 5v5M59 71v3m0 17v4M60 19v1m0 44v1m0 26v3M61 12v9m0 25v4m0 13v2M62 12v9m0 21v8m0 44v4M63 13v6m0 8v5m0 7v11m0 6v4m0 33v7M64 22v10m0 6v12m0 5v5m0 33v7M65 16v14m0 8v5m0 12v5m0 5v2m0 14v4m0 7v6M66 16v11m0 10v5m0 14v5m0 3v2m0 7v1m0 7v4m0 7v5M67 16v4m0 17v4m0 17v3m0 20v3m0 8v3M68 6v2m0 8v3m0 32v4m0 5v1m0 18v5m0 8v1M69 5v2m0 8v5m0 31v3m0 7v2m0 15v6M70 5v1m0 9v6m0 57v3M71 5v1m0 10v5m0 41v8M72 0v1m0 2v3m0 10v6m0 39v9M73 0v2m0 4v1m0 9v6m0 2v3m0 2v5m0 13v1m0 13v5m0 2v1m0 24v4M74 0v1m0 13v2m0 8v3m0 1v5m0 4v3m0 22v8m0 23v5M75 0v1m0 11v4m0 8v4m0 1v3m0 5v2m0 23v8m0 23v5M76 7v8m0 10v7m0 30v9m0 2v3m0 17v3M77 5v9m0 11v7m0 30v4m0 1v7m0 18v3M78 4v2m0 1v5m0 13v6m0 36v6m0 18v3M79 24v4m0 16v10m0 9v9m0 10v2m0 6v3M80 24v3m0 16v11m0 8v9m0 18v4M81 17v1m0 5v4m0 18v11m0 5v8M82 0v1m0 15v5m0 1v7m0 1v4m0 11v4m0 2v7m0 1v3m0 32v1M83 0v2m0 14v14m0 6v3m0 5v4m0 4v5M84 0v2m0 16v9m0 7v4m0 6v3m0 6v4m0 9v5M85 20v4m0 10v3m0 8v1m0 8v2m0 10v4M86 6v1m0 3v2m0 14v2m0 5v3m0 10v1m0 7v2m0 37v4M87 6v5m0 14v3m0 5v3m0 10v9m0 15v2m0 21v3M88 34v2m0 16v3m0 15v5M89 53v2m0 14v4M90 12v1m0 23v2m0 16v1m0 5v5m0 3v6m0 4v3M91 0v1m0 10v2m0 22v3m0 23v5m0 1v6m0 20v1M92 18v5m0 12v3m0 9v6m0 8v10m0 22v2M93 17v7m0 10v6m0 7v5m0 10v5m0 26v4M94 14v7m0 10v13m0 2v5m0 11v4m0 8v2M95 4v3m0 5v8m0 11v20m0 4v3m0 5v1m0 1v5m0 3v5M96 3v13m0 10v3m0 2v5m0 5v9m0 5v3m0 8v4m0 3v6m0 4v6M97 3v9m0 13v4m0 2v2m0 10v6m0 18v3m0 13v7M98 3v4m0 17v6m0 22v3m0 12v3m0 15v6M99 4v1m0 47v2m0 14v1m0 19v3"/><path stroke="#939393" d="M0 23v9m0 36v11m0 2v3M1 15v3m0 5v4m0 40v9M2 15v2m0 50v4M3 1v2m0 44v1m0 3v1M4 46v6m0 42v2M5 46v5M6 24v5m0 17v3m0 47v4M7 23v6m0 23v4m0 40v4M8 6v3m0 14v5m0 23v7m0 3v3m0 9v1m0 24v2M9 6v2m0 44v4m0 6v11M10 63v3m0 1v3M11 63v1M12 44v6m0 12v2M13 15v2m0 27v7m0 10v3M14 15v3m0 25v8m0 11v2M15 28v2m0 6v2m0 4v8m0 13v2M16 11v1m0 14v4m0 6v2m0 5v1m0 3v2M17 10v3M20 36v6M21 36v6m0 5v1M22 10v2m0 16v4m0 7v3m0 26v3m0 6v2M23 9v4m0 27v1m0 27v4m0 5v2m0 6v3M24 9v3m0 8v1m0 48v3m0 12v4M25 18v5m0 35v2m0 9v2m0 6v2m0 5v3M26 4v4m0 10v3m0 36v3m0 16v3M27 4v3m0 49v1m0 19v3M28 36v1m0 13v2m0 2v3m0 2v3m0 10v8M29 34v5m0 9v4m0 6v7m0 7v9M30 47v4m0 6v8m0 7v8M31 42v4m0 11v7m0 9v5M32 5v3m0 34v3m0 12v7m0 25v3M33 5v3m0 50v6m0 25v3M34 5v3m0 52v4m0 25v2M35 15v3m0 20v2m0 37v4M36 0v1m0 13v2m0 22v3m0 35v5M37 0v1m0 11v3m0 23v5m0 33v4M38 11v4m0 61v4M39 11v3m0 5v2m0 55v4M40 18v3m0 13v2m0 60v2M41 18v2m0 13v4m0 18v3M42 11v2m0 5v2m0 10v3m0 5v6m0 11v10M43 10v4m0 17v1m0 24v6M44 11v6m0 42v2m0 30v1M45 74v4M46 23v11m0 15v1m0 25v1m0 6v5M47 23v11m0 13v4m0 31v5m0 4v2M48 23v10m0 13v11m0 33v4M49 8v4m0 11v5m0 11v2m0 5v10m0 33v5M50 7v6m0 10v3m0 12v4m0 5v9m0 10v2m0 21v4M51 7v6m0 10v1m0 14v3m0 6v8m0 10v3m0 20v4m0 7v1M52 7v6m0 33v8m0 11v4m0 14v8m0 8v1M53 8v7m0 33v4m0 13v5m0 12v9m0 7v2M54 8v8m0 24v2m0 25v1m0 14v8m0 8v2M55 9v7m0 23v3m0 15v3m0 1v4m0 12v9m0 13v1M56 8v8m0 39v14m0 8v2m0 2v5M57 11v4m0 4v1m0 35v15m0 13v3m0 7v3M58 71v4m0 9v2m0 6v4M59 72v1m0 18v4M60 91v3M61 13v8m0 26v2m0 14v1M62 13v7m0 23v7m0 45v2M63 14v4m0 11v2m0 11v8m0 7v2m0 35v6M64 22v9m0 8v10m0 6v4m0 34v6M65 17v13m0 8v5m0 12v5m0 22v2m0 8v6M66 16v10m0 12v4m0 15v3m0 32v4M67 16v4m0 18v3m0 18v1m0 33v2M68 16v3m0 33v2m0 26v4M69 16v3m0 32v3m0 25v4M70 16v4m0 58v3M71 16v5m0 42v7M72 4v2m0 10v6m0 40v7M73 0v2m0 14v5m0 4v1m0 3v4m0 29v2m0 30v3M74 0v1m0 13v1m0 9v2m0 3v4m0 5v1m0 23v5m0 1v1m0 24v5M75 12v4m0 9v2m0 36v7m0 23v4M76 10v5m0 10v5m0 33v7m0 23v3M77 6v8m0 11v7m0 31v2m0 3v5m0 19v3M78 8v4m0 13v5m0 38v4m0 19v3M79 25v3m0 20v5m0 13v6m0 10v2m0 6v3M80 24v3m0 17v10m0 8v8m0 20v2M81 23v4m0 18v5m0 1v5m0 6v6M82 0v1m0 15v4m0 3v4m0 18v4m0 2v6M83 0v2m0 14v13m0 16v3m0 4v5M84 19v6m0 10v2m0 8v1m0 7v3m0 11v3M85 34v3m0 17v1m0 12v1M86 34v2m0 58v2M87 7v2m0 17v1m0 7v2m0 11v4m0 43v1M88 53v1M89 70v1M90 61v3m0 4v5M91 36v1m0 24v4m0 2v6M92 19v2m0 15v1m0 11v4m0 9v5m0 1v3M93 17v6m0 13v3m0 8v5m0 10v4M94 15v6m0 11v3m0 1v6m0 5v4m0 12v2M95 5v1m0 7v6m0 13v19m0 5v1m0 9v3m0 4v5M96 4v6m0 2v3m0 12v1m0 4v3m0 7v8m0 6v1m0 9v4m0 3v5m0 7v4M97 4v5m0 17v2m0 15v5m0 19v3m0 14v6M98 4v2m0 20v2m0 25v1m0 13v3m0 16v4M99 52v2m0 34v2"/><path stroke="#9b9b9b" d="M0 24v7m0 38v9M1 16v1m0 7v2m0 42v7M2 67v4M4 46v6M5 46v5M6 24v4m0 69v3M7 23v6m0 23v4m0 41v3M8 6v2m0 15v4m0 25v5m0 5v2m0 35v1M9 7v1m0 45v2m0 7v4m0 3v3M10 63v2M12 44v4m0 14v2M13 16v1m0 27v6m0 12v2M14 16v1m0 26v7m0 12v2M15 28v2m0 13v7M16 27v2M17 10v2M20 36v6M21 37v5M22 11v1m0 17v1m0 9v3m0 26v2M23 10v3m0 56v3M24 10v2m0 57v3m0 13v2M25 18v4m0 48v1m0 13v2M26 5v3m0 11v2m0 56v2M27 4v3m0 69v3M28 73v6M29 35v3m0 11v3m0 7v5m0 8v8M30 48v2m0 8v6m0 9v6M31 42v4m0 11v7m0 10v4M32 5v2m0 35v3m0 12v7m0 26v2M33 5v3m0 51v5m0 25v3M34 6v1m0 54v2m0 26v2M35 15v3m0 59v4M36 0v1m0 37v2m0 37v3M37 0v1m0 12v1m0 25v2m0 36v2M38 12v3m0 62v3M39 12v2m0 63v3M40 18v2m0 15v1M41 18v2m0 14v2M42 39v4m0 12v5M43 11v3m0 43v5M44 13v3M45 75v2M46 24v9m0 50v3M47 23v11m0 14v3m0 31v4M48 23v10m0 14v7m0 36v3M49 8v4m0 11v5m0 19v8m0 35v4M50 7v6m0 11v1m0 13v3m0 6v8m0 34v4M51 7v5m0 26v3m0 6v8m0 11v2m0 20v4M52 7v5m0 35v7m0 11v4m0 18v4m0 8v1M53 8v6m0 36v1m0 15v3m0 14v8m0 8v1M54 9v7m0 24v2m0 40v5m0 1v1m0 9v2M55 9v7m0 24v2m0 15v2m0 4v1m0 17v5m0 13v1M56 9v6m0 41v12m0 14v3M57 11v4m0 41v8m0 2v3m0 14v3m0 7v2M58 92v4M59 91v4M60 92v1M61 14v1m0 3v2M62 13v7m0 25v4M63 43v7m0 7v2m0 35v5M64 24v7m0 8v6m0 10v4m0 34v6M65 21v8m0 9v4m0 14v3m0 33v5M66 16v10m0 12v4m0 15v3m0 33v3M67 16v3m0 19v3m0 52v2M68 16v2m0 34v2m0 26v3M69 16v3m0 33v1m0 26v4M70 16v4m0 59v2M71 16v5m0 44v4M72 16v5m0 42v1m0 1v4M73 0v1m0 16v4m0 9v3m0 29v1m0 32v1M74 0v1m0 29v3m0 30v2m0 29v3M75 13v2m0 48v7m0 24v3M76 11v4m0 10v3m0 35v7m0 23v3M77 7v6m0 13v5m0 38v3m0 21v1M78 9v2m0 15v3m0 39v4m0 20v1M79 25v3m0 21v3m0 15v4m0 19v3M80 24v3m0 18v8m0 10v7M81 23v3m0 19v4m0 3v3M82 16v4m0 3v3m0 19v4m0 3v5M83 0v1m0 16v4m0 24v2m0 5v5M84 19v3m0 13v2m0 8v1m0 7v3M85 35v1M86 34v1M87 48v1M90 61v3m0 4v4M91 61v4m0 3v4M92 48v4m0 10v3m0 3v1M93 18v4m0 26v3m0 11v3M94 16v4m0 12v2m0 3v4m0 7v3m0 12v2M95 14v3m0 15v3m0 1v14m0 17v2m0 5v3M96 4v4m0 25v1m0 8v7m0 18v3m0 4v3m0 9v3M97 4v4m0 18v2m0 16v4m0 19v3m0 15v5M98 4v2m0 62v1m0 18v3"/><path stroke="#a3a3a3" d="M0 24v3m0 2v1m0 39v9M1 68v7M2 68v2M4 47v4M5 47v3M6 25v3m0 69v3M7 23v6m0 23v3m0 42v3M8 7v1m0 16v3m0 25v5m0 42v1M9 63v2M12 45v1M13 45v2m0 2v1m0 12v1M14 44v6M15 43v3m0 1v2M17 11v1M20 37v5M21 38v4M22 39v2M23 10v2m0 57v2M24 10v1m0 59v2m0 13v2M25 19v3M27 77v1M29 49v2m0 9v1m0 12v6M30 48v2m0 9v5m0 9v6M31 43v2m0 13v6m0 10v3M32 6v1m0 35v3m0 13v6M33 5v2m0 53v4m0 26v1M34 61v2M35 77v3M36 39v1m0 37v3M37 0v1m0 76v2M38 12v2m0 63v2M39 12v2m0 63v2M40 19v1M41 19v1M42 39v3m0 14v4M43 11v2m0 44v4M46 24v6m0 53v3M47 23v11m0 14v2m0 33v2M48 23v9m0 15v6m0 38v2M49 8v3m0 13v4m0 19v7m0 36v3M50 8v4m0 12v1m0 14v2m0 6v7m0 35v4M51 7v5m0 35v7m0 12v1m0 21v4M52 8v4m0 35v7m0 12v2m0 20v3m0 8v1M53 8v6m0 52v3m0 14v3m0 1v4m0 8v1M54 9v6m0 67v4m0 13v1M55 9v6m0 66v4M56 9v6m0 41v9m0 17v3M57 12v2m0 42v7m0 21v1M58 92v3M59 92v2M61 18v2M62 14v5m0 27v3M63 44v5m0 45v4M64 27v3m0 10v2m0 13v4m0 34v5M65 22v5m0 12v3m0 14v3m0 34v4M66 17v3m0 3v2m0 13v3m0 52v3M67 17v2m0 20v1M68 17v1M69 16v3m0 33v1m0 26v3M70 16v4m0 59v1M71 16v5m0 45v3M72 17v4M73 0v1m0 17v2m0 10v3M74 0v1m0 29v2m0 62v3M75 13v2m0 48v6m0 25v3M76 12v2m0 49v6m0 25v1M77 9v3m0 14v4M78 26v3m0 40v2m0 21v1M79 25v2m0 24v1m0 15v4m0 20v1M80 24v3m0 19v6m0 13v4M81 24v2m0 20v3m0 4v1M82 17v2m0 5v1m0 20v3m0 4v4M83 18v2m0 25v2m0 6v3M84 54v1M90 62v1m0 6v2M91 62v2m0 4v3M92 48v3m0 11v3M93 19v1m0 28v3m0 12v2M94 37v4m0 7v2M95 37v2m0 2v9m0 24v3M96 5v3m0 35v6m0 18v2m0 6v1m0 11v1M97 4v3m0 60v2m0 17v3M98 68v1m0 18v3"/><path stroke="#ababab" d="M0 25v1m0 43v8M1 68v6M2 68v2M4 48v2M5 47v2M6 25v3m0 70v2M7 24v4m0 25v2m0 43v2M8 25v1m0 26v4M14 44v2M20 38v3M21 38v3M23 10v2M24 70v1M25 19v2M30 74v4M31 43v2m0 16v2m0 12v1M32 43v1m0 15v4M33 6v1m0 53v3M35 78v2M36 77v3M38 12v2M39 77v2M42 56v3M43 58v2M46 25v2M47 24v9m0 16v1M48 24v8m0 15v6m0 38v2M49 9v2m0 13v3m0 20v7m0 36v3M50 8v4m0 35v7m0 35v4M51 8v4m0 35v7m0 35v2M52 8v4m0 35v6m0 13v2m0 21v1m0 9v1M53 9v4m0 54v1m0 20v2m0 9v1M54 9v6m0 68v2M55 10v5m0 67v3M56 10v4m0 42v8m0 18v3M57 57v5M58 92v3M59 92v2M62 46v2M63 46v2m0 47v3M64 28v2m0 26v3m0 35v4M65 23v3m0 13v3m0 14v3m0 34v4M66 39v2m0 52v2M69 17v1m0 62v1M70 17v3M71 17v3M72 17v4M73 31v1M74 95v2M75 64v4m0 26v2M76 13v1m0 50v3M77 27v1M78 26v2m0 41v2M79 26v1m0 41v2M80 25v1m0 21v2m0 17v3M81 24v2m0 20v3M82 46v2m0 4v4M83 46v1m0 6v3M91 62v2m0 5v2M92 49v2m0 11v2M93 48v3m0 12v1M94 38v2M95 48v1m0 26v1M96 5v2m0 36v5m0 19v2M97 5v2m0 61v1m0 17v3M98 88v1"/><path stroke="#b3b3b3" d="M0 70v7M1 69v4M6 26v1m0 72v1M7 24v4m0 70v2M8 52v3M20 39v2M21 39v2M32 61v2M33 61v2M36 78v1M47 24v9M48 24v7m0 17v4M49 24v3m0 20v6m0 37v3M50 8v4m0 36v5m0 37v2M51 8v3m0 37v6M52 8v3m0 37v5M53 9v3M54 10v4m0 69v1M55 10v4m0 68v2M56 11v3m0 43v2m0 3v1m0 20v1M57 59v2M58 93v2M59 92v2M63 95v2M64 56v2m0 36v3M65 40v1m0 16v1m0 35v3M66 39v2m0 53v1M70 17v2M71 17v3M72 17v4M74 95v1M75 64v3m0 28v1M76 64v2M79 68v1M80 25v1M81 46v2M82 46v2m0 5v3M83 53v3M91 62v2m0 5v1M92 63v1M93 49v1M96 44v2M97 5v1m0 81v2"/><path stroke="#bbbbbb" d="M0 70v6M1 69v3M7 24v4m0 71v1M8 53v1M21 39v2M47 24v8M48 24v7m0 17v4M49 25v1m0 22v5m0 38v1M50 8v3m0 37v5m0 37v2M51 8v3m0 37v5M52 9v2m0 38v3M53 9v3M54 10v3M55 11v3m0 69v1M56 12v1M58 93v1M64 56v2m0 36v3M65 94v2M70 17v2M71 17v3M72 18v2M82 46v1m0 6v2M83 54v1"/><path stroke="#c3c3c3" d="M1 69v3M7 25v2M47 25v6M48 25v5m0 18v3M49 25v1m0 22v5m0 38v1M50 9v2m0 37v5M51 9v2m0 37v5M53 10v1M54 10v3M55 11v2M64 95v1M65 94v1M71 18v2M72 18v2"/><path stroke="#cbcbcb" d="M7 25v2M47 26v4M48 25v4m0 20v2M49 48v4M50 9v1m0 38v5M51 9v1m0 38v4M71 18v1"/><path stroke="#d3d3d3" d="M47 27v2M48 26v3m0 20v1M49 48v4M50 48v4M51 49v3"/><path stroke="#dbdbdb" d="M49 49v3M50 49v3M51 49v2"/><path stroke="#e3e3e3" d="M49 49v2M50 49v3"/><path stroke="#ebebeb" d="M49 49v2M50 49v2"/><path stroke="#f3f3f3" d="M50 50v1"/><path stroke="#646464" d="M0 0v14m0 20v3m0 5v3m0 3v13m0 26v13M1 5v7m0 21v6m0 3v2m0 4v17m0 20v15M2 5v6m0 16v3m0 3v11m0 4v5m0 5v7m0 13v1m0 5v16M3 5v5m0 8v13m0 3v11m0 17v4m0 4v9m0 4v10m0 5v2M4 5v5m0 7v14m0 4v10m0 16v18m0 5v8m0 7v1M5 2v1m0 3v5m0 2v11m0 4v2m0 4v10m0 11v24m0 4v9M6 1v3m0 5v13m0 11v11m0 12v21m0 4v12M7 0v4m0 6v4m0 3v4m0 13v16m0 15v8m0 8v12M8 1v4m0 6v1m0 7v1m0 15v15m0 29v15M9 1v3m0 7v1m0 13v4m0 5v7m0 1v9m0 26v19M10 10v5m0 4v21m0 3v9m0 5v4m0 13v7m0 3v7m0 4v2M11 5v1m0 4v6m0 2v22m0 11v4m0 1v5m0 13v7m0 3v7m0 8v1M12 0v8m0 2v4m0 4v23m0 11v9m0 15v5m0 4v6m0 7v2M13 0v8m0 11v12m0 4v1m0 4v2m0 10v8m0 16v6m0 4v4m0 2v8M14 0v7m0 13v8m0 24v9m0 13v8m0 4v3m0 2v6M15 0v7m0 12v6m0 26v10m0 10v9m0 6v1m0 4v6M16 0v9m0 5v9m0 9v3m0 15v9m0 7v13m0 5v3m0 4v6M17 0v9m0 6v8m0 8v4m0 4v2m0 9v5m0 9v15m0 2v6m0 4v9M18 0v9m0 5v8m0 7v6m0 4v2m0 3v2m0 4v3m0 7v19m0 4v4m0 4v9M19 0v24m0 3v7m0 9v4m0 8v23m0 5v17M20 0v33m0 10v3m0 8v24m0 4v18M21 0v11m0 4v11m0 27v13m0 5v6m0 4v3m0 2v14M22 0v9m0 6v10m0 28v9m0 11v2m0 6v3m0 4v12M23 0v8m0 6v10m0 11v3m0 5v1m0 9v13m0 15v3m0 7v9M24 2v6m0 6v3m0 17v4m0 4v4m0 16v5m0 14v2m0 7v10M25 0v4m0 9v3m0 15v6m0 5v6m0 14v5m0 6v3m0 13v11M26 0v3m0 8v4m0 15v6m0 4v10m0 2v1m0 9v6m0 4v3m0 12v3M27 0v3m0 7v5m0 6v4m0 5v5m0 5v2m0 1v6m0 14v7m0 15v4M28 0v3m0 6v15m0 6v2m0 12v4m0 18v4m0 14v4m0 5v3M29 0v4m0 5v6m0 3v5m0 5v3m0 14v1m0 21v2m0 16v1m0 6v8M30 0v4m0 5v5m0 6v3m0 5v3m0 62v6M31 0v4m0 5v8m0 4v3m0 4v4m0 2v3m0 13v5m0 25v6m0 7v4M32 0v3m0 6v10m0 1v5m0 3v11m0 8v9m0 15v1m0 7v9M33 1v1m0 7v28m0 9v10m0 14v6m0 3v9M34 1v2m0 6v3m0 8v9m0 1v6m0 7v14m0 14v5m0 8v3M35 1v4m0 2v5m0 7v8m0 4v5m0 7v1m0 7v6m0 7v4m0 4v3m0 9v2m0 6v2M36 3v9m0 7v4m0 8v5m0 17v5m0 5v6m0 30v1M37 3v8m0 6v4m0 9v6m0 19v4m0 3v12m0 24v2M38 1v9m0 6v2m0 12v5m0 8v5m0 7v5m0 1v13m0 24v2M39 0v10m0 6v1m0 6v5m0 1v5m0 4v11m0 6v20m0 24v1M40 0v11m0 4v2m0 5v7m0 9v12m0 8v18m0 4v4m0 8v1m0 6v1M41 1v9m0 4v3m0 5v7m0 20v3m0 15v17m0 15v1M42 1v8m0 6v2m0 6v6m0 20v3m0 15v17m0 14v2M43 2v4m0 19v4m0 6v2m0 11v5m0 12v9m0 1v8m0 13v4M44 4v2m0 14v1m0 4v4m0 5v10m0 8v5m0 7v9m0 13v2m0 8v4M45 18v3m0 13v12m0 6v6m0 5v10m0 24v2M46 10v11m0 15v10m0 6v5m0 3v13m0 23v4M47 1v3m0 6v11m0 20v4m0 14v14m0 22v5M48 0v5m0 8v9m0 13v2m0 5v2m0 14v6m0 6v2m0 15v1m0 7v5M49 0v6m0 9v7m0 12v3m0 21v6m0 15v9m0 7v5M50 0v5m0 11v6m0 5v9m0 8v1m0 14v5m0 14v10m0 7v4M51 0v5m0 12v5m0 3v7m0 11v2m0 14v5m0 6v5m0 4v2m0 13v4M52 0v5m0 13v2m0 5v6m0 3v1m0 8v2m0 12v6m0 8v4m0 18v4M53 0v6m0 19v13m0 16v9m0 8v5m0 16v5M54 0v5m0 19v13m0 7v3m0 5v6m0 12v6m0 16v3M55 21v3m0 2v9m0 9v4m0 3v4m0 15v5m0 14v5M56 21v2m0 2v8m0 10v5m0 4v2m0 18v3m0 13v5M57 24v7m0 9v9m0 30v2m0 7v4M58 2v3m0 2v4m0 12v8m0 5v14m0 27v5m0 6v2m0 8v2M59 0v4m0 2v6m0 4v1m0 5v9m0 6v13m0 6v8m0 4v1m0 7v5m0 5v4m0 7v3M60 0v2m0 5v3m0 12v10m0 4v11m0 6v9m0 5v3m0 4v6m0 3v7m0 5v5M61 0v2m0 5v2m0 14v18m0 11v9m0 5v5m0 2v7m0 3v7m0 6v4M62 0v3m0 2v4m0 13v3m0 3v2m0 3v4m0 14v8m0 6v6m0 5v4m0 2v9M63 0v2m0 2v5m0 43v3m0 6v6m0 9v4m0 3v9M64 0v1m0 4v3m0 44v1m0 8v3m0 12v4m0 5v3M65 5v2m0 25v4m0 15v3m0 8v1m0 6v2m0 5v3M66 0v1m0 27v7m0 9v2m0 4v4m0 13v4m0 6v2m0 8v4m0 7v2M67 0v4m0 7v3m0 13v9m0 7v3m0 20v5m0 5v2m0 9v4m0 5v4M68 0v4m0 5v6m0 6v16m0 5v8m0 6v1m0 8v8m0 2v2m0 10v4m0 4v5M69 0v4m0 4v7m0 6v17m0 4v8m0 5v4m0 6v12m0 10v3m0 4v6M70 0v4m0 4v7m0 7v16m0 4v8m0 4v7m0 11v4m0 7v17M71 1v2m0 4v8m0 8v16m0 2v7m0 4v9m0 10v6m0 4v19M72 9v5m0 20v12m0 6v8m0 11v22m0 4v3M73 9v5m0 27v4m0 11v4m0 11v13m0 1v6m0 7v2M74 3v3m0 3v3m0 29v4m0 5v1m0 5v5m0 10v12m0 2v7m0 7v1M75 2v4m0 11v6m0 18v4m0 3v4m0 4v5m0 11v2m0 3v15m0 7v1M76 0v5m0 11v7m0 17v3m0 5v13m0 16v15m0 6v2M77 0v4m0 12v8m0 11v1m0 1v5m0 5v14m0 16v6m0 3v5m0 5v4M78 0v2m0 12v10m0 9v10m0 11v7m0 14v6m0 5v4m0 5v5M79 0v1m0 5v2m0 4v12m0 6v12m0 14v5m0 13v6m0 6v3m0 5v6M80 4v12m0 1v6m0 5v13m0 15v4m0 13v7m0 6v1m0 8v5M81 5v10m0 5v1m0 8v1m0 4v6m0 37v6m0 3v1m0 10v3M82 6v8m0 22v1m0 39v7m0 2v2M83 7v6m0 51v1m0 9v6M84 8v4m0 36v3m0 22v6m0 8v5M85 8v2m0 7v1m0 11v3m0 6v5m0 5v4m0 7v4m0 9v8m0 6v7M86 1v3m0 11v8m0 6v3m0 6v6m0 14v9m0 6v9m0 4v6M87 2v3m0 10v9m0 5v3m0 6v7m0 12v12m0 9v4m0 7v1M88 1v5m0 9v9m0 4v4m0 7v6m0 11v13m0 10v3m0 7v2M89 1v10m0 3v10m0 2v5m0 11v9m0 13v4m0 20v5M90 2v8m0 4v4m0 4v8m0 13v8m0 33v9m0 4v1M91 2v7m0 5v3m0 8v5m0 1v3m0 6v7m0 30v2m0 4v9M92 2v8m0 4v2m0 9v8m0 7v6m0 12v2m0 14v11m0 3v3M93 2v10m0 13v6m0 11v3m0 13v3m0 9v3m0 2v9M94 6v5m0 13v6m0 23v1m0 4v3m0 9v2m0 6v6m0 5v4m0 6v1M95 22v5m0 63v5m0 3v2M96 0v2m0 19v4m0 65v5m0 3v2M97 0v2m0 13v6m0 15v3m0 24v3m0 25v4m0 4v1M98 0v2m0 11v8m0 13v4m0 11v2m0 5v3m0 4v3m0 6v10m0 10v3m0 4v1M99 0v2m0 5v2m0 4v8m0 26v4m0 4v4m0 4v3m0 5v11"/><path stroke="#5c5c5c" d="M0 0v13m0 21v3m0 5v3m0 3v13m0 26v13M1 5v7m0 21v5m0 5v1m0 4v7m0 1v5m0 2v1m0 22v14M2 6v5m0 16v2m0 5v6m0 9v3m0 6v2m0 1v4m0 19v16M3 6v4m0 10v11m0 3v10m0 18v3m0 6v6m0 7v9m0 6v1M4 6v4m0 7v14m0 4v10m0 17v16m0 6v4m0 2v1m0 8v1M5 7v3m0 5v7m0 13v9m0 12v22m0 5v9M6 1v2m0 7v11m0 13v10m0 13v19m0 6v10M7 1v3m0 6v4m0 4v3m0 14v11m0 1v2m0 16v6m0 11v9M8 1v3m0 32v14m0 32v8M9 1v3m0 23v1m0 7v5m0 3v7m0 28v3m0 2v8M10 11v4m0 6v10m0 1v8m0 3v7m0 7v4m0 14v6m0 4v5M11 11v4m0 4v20m0 13v2m0 3v4m0 14v6m0 4v5m0 9v1M12 0v7m0 4v3m0 5v20m0 14v2m0 1v4m0 17v4m0 4v5m0 8v2M13 0v7m0 12v11m0 22v8m0 16v5m0 5v4m0 3v4m0 2v1M14 0v6m0 14v8m0 24v8m0 14v7m0 6v1m0 4v5M15 1v5m0 14v5m0 26v9m0 12v8m0 12v4M16 3v6m0 8v6m0 9v2m0 17v5m0 11v11m0 7v1m0 5v5M17 0v2m0 1v6m0 6v7m0 9v3m0 5v2m0 9v4m0 11v13m0 5v4m0 4v5m0 3v1M18 0v9m0 5v7m0 9v4m0 16v2m0 9v17m0 6v3m0 5v8M19 0v22m0 6v6m0 10v2m0 10v22m0 7v4m0 3v8M20 0v25m0 19v2m0 9v22m0 9v14M21 0v10m0 5v10m0 29v10m0 8v4m0 6v1m0 3v14M22 0v9m0 6v10m0 28v8m0 21v1m0 8v9M23 0v8m0 6v7m0 14v3m0 16v7m0 2v3m0 15v2m0 8v9M24 3v5m0 6v3m0 17v4m0 5v2m0 18v3m0 15v2m0 8v9M25 0v2m0 11v3m0 16v5m0 5v5m0 16v4m0 6v2m0 15v10M26 0v2m0 9v4m0 16v5m0 5v8m0 14v5m0 4v3m0 13v1M27 0v2m0 8v5m0 16v3m0 10v4m0 16v5m0 16v4M28 0v3m0 7v5m0 3v5m0 22v3m0 19v2m0 16v3m0 6v2M29 0v4m0 5v5m0 5v3m0 70v5m0 2v1M30 0v4m0 5v4m0 16v1m0 63v5M31 0v3m0 6v5m0 15v2m0 20v3m0 27v3m0 10v3M32 0v2m0 7v10m0 2v3m0 4v4m0 1v5m0 9v8m0 25v7M33 9v3m0 2v4m0 2v17m0 9v10m0 14v5m0 8v4M34 9v2m0 9v8m0 3v5m0 8v13m0 14v4m0 9v3M35 2v2m0 4v3m0 9v7m0 5v4m0 16v5m0 8v2m0 6v1M36 3v8m0 8v3m0 9v5m0 18v3m0 7v4M37 3v7m0 7v3m0 11v5m0 19v3m0 5v10m0 26v1M38 2v8m0 7v1m0 12v5m0 9v4m0 7v4m0 3v12m0 24v2M39 0v10m0 14v2m0 4v3m0 8v7m0 8v19m0 24v1M40 0v10m0 5v1m0 6v5m0 13v9m0 10v5m0 2v10m0 5v3m0 15v1M41 1v9m0 4v3m0 5v7m0 38v17M42 2v5m0 8v1m0 10v3m0 21v2m0 15v16m0 15v2M43 3v3m0 20v3m0 21v1m0 15v7m0 3v7m0 13v4M44 26v2m0 6v9m0 10v3m0 8v9m0 23v3M45 18v3m0 14v10m0 7v6m0 6v9m0 24v2M46 11v9m0 19v6m0 7v5m0 6v10m0 23v4M47 1v2m0 8v9m0 21v4m0 14v6m0 3v5m0 22v5M48 0v5m0 9v7m0 38v5m0 31v5M49 0v6m0 10v6m0 13v1m0 23v5m0 15v9m0 7v5M50 0v5m0 12v5m0 5v5m0 27v5m0 14v9m0 8v4M51 0v4m0 13v4m0 5v5m0 12v2m0 15v3m0 32v2M52 0v5m0 20v5m0 13v1m0 14v5m0 8v4m0 18v4M53 0v5m0 20v12m0 17v8m0 9v5m0 17v3M54 1v3m0 21v11m0 9v1m0 6v5m0 14v4m0 17v2M55 22v1m0 3v9m0 9v4m0 4v3m0 16v4m0 15v3M56 26v7m0 10v5m0 4v2m0 18v3m0 13v5M57 24v7m0 10v7m0 40v3M58 8v2m0 13v7m0 9v11m0 28v4m0 6v2M59 1v2m0 4v4m0 11v9m0 7v12m0 6v7m0 14v4m0 6v3m0 7v3M60 0v2m0 21v8m0 5v6m0 2v3m0 7v8m0 5v2m0 6v5m0 3v7m0 6v4M61 0v1m0 22v10m0 1v6m0 12v9m0 5v4m0 5v4m0 4v7m0 7v2M62 0v2m0 3v4m0 43v7m0 6v5m0 7v2m0 4v7M63 0v1m0 4v3m0 44v2m0 8v2m0 13v3m0 3v6M64 5v3m0 53v3m0 13v3M65 51v2m0 24v2M66 29v5m0 17v2m0 15v2m0 18v3m0 7v2M67 0v3m0 9v2m0 13v8m0 32v4m0 16v4m0 6v3M68 0v4m0 6v4m0 8v14m0 7v2m0 20v7m0 15v3m0 6v4M69 0v4m0 4v6m0 7v6m0 1v9m0 6v7m0 5v4m0 6v7m0 15v2m0 6v2M70 0v3m0 5v6m0 8v4m0 2v9m0 6v6m0 5v6m0 13v2m0 9v7m0 2v3m0 2v2M71 8v6m0 9v2m0 2v11m0 4v6m0 5v8m0 11v4m0 5v19M72 9v5m0 21v4m0 2v5m0 9v5m0 11v22m0 5v2M73 10v3m0 29v3m0 11v4m0 11v12m0 3v5m0 8v1M74 3v2m0 5v2m0 30v3m0 12v3m0 11v12m0 2v6m0 8v1M75 2v4m0 11v5m0 19v3m0 5v3m0 4v5m0 16v6m0 1v8m0 7v1M76 1v4m0 12v6m0 17v2m0 6v5m0 2v6m0 17v5m0 4v5m0 6v2M77 0v3m0 13v8m0 14v4m0 6v12m0 17v5m0 5v4m0 5v4M78 0v2m0 13v9m0 9v9m0 14v5m0 14v6m0 5v4m0 5v5M79 13v10m0 7v12m0 14v5m0 13v6m0 6v2m0 7v5M80 5v10m0 3v4m0 7v12m0 16v3m0 36v4M81 5v6m0 1v2m0 21v4m0 39v4m0 15v3M82 7v6m0 64v5M83 8v5m0 62v5M84 8v3m0 37v3m0 23v5m0 8v4M85 30v1m0 8v3m0 6v3m0 9v3m0 10v6m0 8v5M86 16v4m0 10v1m0 7v6m0 14v8m0 8v7m0 6v4M87 2v2m0 11v9m0 5v2m0 7v7m0 12v12m0 9v4M88 2v3m0 10v9m0 4v3m0 8v6m0 12v3m0 1v8M89 2v8m0 5v8m0 3v5m0 12v8m0 14v2m0 21v4M90 3v6m0 6v2m0 8v5m0 13v8m0 34v7M91 3v6m0 6v2m0 8v4m0 12v6m0 37v7M92 2v8m0 16v7m0 7v6m0 29v8M93 3v8m0 14v6m0 12v2m0 13v3m0 15v8M94 7v3m0 15v4m0 30v2m0 9v2m0 6v6m0 6v2m0 7v1M95 22v4m0 64v5m0 4v1M96 0v1m0 21v2m0 66v5m0 4v1M97 0v2m0 13v5m0 43v2m0 26v4m0 4v1M98 0v2m0 12v7m0 14v2m0 12v2m0 6v1m0 5v3m0 9v6m0 11v2m0 5v1M99 0v2m0 11v7m0 28v3m0 4v4m0 4v2m0 7v9"/><path stroke="#545454" d="M0 1v12m0 21v2m0 6v2m0 4v7m0 1v5m0 27v12M1 6v6m0 22v4m0 10v6m0 3v4m0 26v13M2 6v4m0 24v6m0 9v3m0 10v3m0 20v10m0 3v2M3 6v3m0 13v8m0 5v6m0 1v2m0 18v3m0 6v5m0 8v4m0 2v2m0 7v1M4 6v3m0 9v12m0 5v9m0 18v5m0 2v8m0 7v3M5 8v1m0 6v6m0 14v9m0 12v3m0 2v16m0 7v7M6 2v1m0 8v10m0 14v8m0 14v19m0 7v9M7 1v2m0 8v2m0 6v1m0 16v8m0 21v5m0 13v7M8 2v2m0 32v5m0 2v7m0 33v6M9 2v1m0 32v5m0 3v7m0 34v6M10 12v2m0 8v8m0 3v6m0 5v5m0 9v3m0 15v4m0 5v5M11 11v4m0 5v19m0 18v4m0 15v4m0 6v4m0 9v1M12 0v2m0 2v2m0 13v13m0 1v5m0 19v3m0 17v3m0 6v4m0 9v1M13 0v7m0 12v11m0 22v8m0 16v5m0 5v3m0 4v3m0 3v1M14 0v6m0 14v7m0 25v8m0 15v6m0 11v4M15 1v5m0 15v2m0 29v8m0 12v7m0 13v4M16 4v4m0 10v4m0 11v1m0 17v4m0 13v10m0 14v4M17 4v5m0 7v6m0 10v2m0 16v4m0 11v13m0 7v1m0 6v4m0 3v1M18 0v9m0 6v6m0 10v3m0 28v16m0 7v1m0 6v8M19 0v11m0 3v7m0 8v5m0 10v2m0 14v18m0 14v8M20 0v12m0 4v9m0 30v22m0 9v14M21 0v9m0 7v9m0 29v6m0 12v4m0 11v13M22 0v8m0 8v8m0 29v8m0 31v8M23 3v5m0 7v3m0 36v6m0 22v1m0 8v9M24 3v4m0 7v2m0 19v2m0 6v2m0 18v3m0 25v9M25 14v1m0 18v3m0 6v4m0 17v3m0 8v1m0 16v8M26 0v2m0 10v2m0 17v4m0 7v6m0 15v4m0 6v1M27 0v2m0 9v3m0 17v3m0 11v3m0 38v2M28 0v2m0 8v5m0 30v2m0 39v1m0 7v1M29 0v3m0 7v4m0 79v4M30 0v3m0 7v3m0 80v4M31 0v3m0 7v3m0 81v2M32 0v1m0 9v3m0 1v4m0 11v1m0 4v3m0 11v7m0 25v7M33 10v2m0 3v2m0 4v4m0 7v4m0 11v9m0 15v4m0 9v3M34 20v8m0 4v3m0 13v8m0 15v4m0 10v1M35 8v3m0 9v4m0 8v3m0 17v4m0 9v2M36 4v7m0 8v3m0 10v4m0 28v4M37 3v7m0 8v1m0 12v4m0 21v2m0 6v7m0 28v1M38 2v8m0 20v5m0 9v3m0 9v2m0 5v10m0 26v1M39 1v9m0 21v2m0 9v6m0 9v17m0 25v1M40 1v9m0 13v3m0 15v6m0 12v4m0 4v8m0 6v2M41 1v9m0 5v1m0 6v6m0 40v15M42 26v2m0 39v16M43 26v2m0 38v7m0 3v6m0 15v3M44 27v1m0 7v6m0 13v1m0 10v7m0 25v2M45 35v9m0 9v4m0 8v7M46 11v3m0 2v3m0 21v5m0 8v3m0 9v8m0 23v3M47 11v8m0 23v2m0 16v3m0 6v3m0 23v5M48 1v3m0 11v5m0 39v5m0 31v5M49 1v4m0 12v5m0 37v5m0 16v2m0 2v4m0 7v5M50 0v4m0 13v5m0 5v4m0 29v4m0 15v8m0 9v2M51 0v3m0 14v4m0 5v5m0 29v3M52 0v4m0 21v5m0 29v3m0 10v3m0 18v4M53 1v4m0 21v5m0 1v4m0 18v8m0 10v3m0 18v3M54 26v10m0 16v5m0 14v4m0 18v1M55 27v7m0 11v2m0 5v3m0 16v4m0 15v3M56 27v5m0 12v4m0 25v1m0 14v4M57 25v5m0 12v6m0 41v2M58 24v6m0 10v9m0 29v3M59 7v3m0 13v7m0 9v2m0 3v5m0 8v5m0 15v3m0 7v2m0 9v2M60 24v7m0 7v3m0 4v1m0 8v8m0 5v2m0 7v3m0 5v6m0 6v4M61 26v5m0 5v1m0 15v9m0 6v3m0 6v3m0 4v7M62 0v1m0 5v2m0 44v6m0 8v4m0 7v1m0 5v7M63 0v1m0 4v3m0 70v1m0 5v4M64 6v1m0 54v2m0 15v1M65 52v1M66 30v3m0 19v1m0 15v2m0 19v1m0 8v2M67 0v2m0 26v6m0 33v4m0 16v4m0 6v3M68 0v3m0 7v4m0 9v1m0 4v8m0 30v6m0 15v3m0 6v4M69 0v3m0 6v5m0 8v3m0 4v8m0 6v6m0 7v2m0 8v5M70 0v3m0 5v6m0 9v2m0 4v8m0 6v6m0 6v5m0 26v4M71 8v6m0 15v8m0 5v5m0 7v6m0 12v4m0 5v13m0 4v2M72 10v4m0 28v4m0 10v4m0 11v21m0 6v2M73 10v3m0 29v3m0 12v2m0 12v12m0 3v5m0 8v1M74 42v2m0 13v3m0 12v11m0 3v5m0 8v1M75 2v3m0 13v3m0 29v1m0 6v4m0 16v6m0 2v7M76 1v3m0 13v5m0 26v4m0 3v5m0 18v4m0 6v3M77 0v3m0 14v6m0 16v2m0 7v11m0 20v2m0 6v4m0 6v3M78 0v1m0 15v8m0 10v8m0 16v2m0 16v3m0 7v3m0 6v5M79 14v1m0 2v6m0 9v9m0 16v4m0 15v2m0 9v1m0 7v5M80 5v5m0 3v1m0 5v3m0 7v3m0 1v7m0 17v2m0 38v3M81 6v4m0 25v4m0 40v3m0 16v1M82 8v2m0 68v4M83 8v4m0 63v4M84 8v3m0 38v2m0 23v5m0 9v2M85 39v3m0 6v3m0 22v6m0 8v5M86 16v4m0 18v6m0 15v6m0 13v3m0 7v3M87 16v7m0 7v1m0 7v6m0 13v11m0 11v2M88 2v2m0 12v7m0 5v3m0 9v4m0 18v6M89 3v4m0 8v7m0 4v4m0 15v6m0 15v1m0 22v3M90 3v6m0 6v2m0 8v4m0 15v6m0 38v4M91 3v6m0 16v4m0 13v4m0 41v4M92 3v6m0 17v5m0 10v4m0 31v5M93 4v7m0 15v4m0 29v1m0 16v7M94 7v3m0 15v4m0 30v1m0 19v3M95 23v2m0 65v5m0 4v1M96 91v4m0 4v1M97 0v2m0 14v3m0 45v1m0 26v4m0 4v1M98 0v2m0 12v6m0 43v2m0 11v4m0 19v1M99 0v2m0 12v6m0 28v3m0 5v2m0 17v6"/><path stroke="#4c4c4c" d="M0 2v2m0 1v8m0 22v1m0 7v1m0 5v5m0 3v3m0 28v12M1 6v5m0 23v4m0 10v6m0 3v3m0 28v12M2 6v4m0 24v5m0 10v2m0 12v1m0 21v9m0 5v1M3 6v3m0 15v6m0 5v5m0 23v1m0 8v3m0 10v2m0 4v1m0 7v1M4 7v2m0 13v8m0 5v9m0 18v4m0 4v7m0 8v1M5 16v4m0 15v8m0 14v1m0 3v16m0 7v7M6 16v4m0 15v8m0 21v11m0 8v8M7 37v5m0 24v4m0 14v5M8 2v1m0 34v3m0 3v7m0 34v4M9 36v3m0 4v7m0 35v4M10 23v6m0 5v5m0 6v3m0 10v2m0 17v2m0 7v3M11 12v2m0 6v19m0 19v2m0 17v2m0 7v4M12 19v5m0 1v6m0 3v4m0 20v1m0 19v1m0 7v4m0 9v1M13 0v6m0 14v9m0 24v6m0 18v3m0 6v3M14 1v5m0 15v5m0 26v8m0 15v5m0 12v4M15 3v1m0 48v8m0 13v6m0 13v4M16 5v3m0 10v4m0 29v4m0 14v8m0 15v4M17 4v4m0 9v4m0 11v1m0 17v3m0 13v11m0 15v3M18 0v2m0 2v5m0 7v4m0 12v2m0 30v13m0 16v7M19 0v3m0 1v6m0 21v2m0 28v16m0 16v7M20 0v11m0 6v7m0 31v4m0 2v6m0 2v8m0 10v4m0 2v7M21 0v9m0 7v8m0 30v6m0 13v3m0 11v4m0 2v7M22 0v8m0 8v7m0 31v6m0 32v8M23 3v5m0 46v5m0 33v8M24 4v3m0 8v1m0 75v8M25 34v1m0 8v3m0 46v5M26 0v2m0 30v3m0 8v4m0 17v2M27 0v2m0 9v2m0 19v1m0 12v3M28 1v1m0 9v3m0 32v1M29 1v1m0 8v3m0 80v3M30 0v3m0 91v3M31 0v2m0 93v1M32 10v2m0 3v2m0 17v3m0 11v6M33 10v1m0 4v2m0 4v3m0 9v3m0 11v8m0 17v2m0 11v2M34 21v4m0 8v1m0 18v4m0 16v3M35 9v2m0 9v3m0 10v1m0 19v3M36 5v6m0 21v3m0 30v3M37 4v6m0 21v4m0 30v4m0 30v1M38 2v7m0 22v3m0 23v1m0 8v7m0 26v1M39 1v9m0 32v5m0 15v2m0 3v7m0 25v1M40 1v9m0 13v2m0 17v4m0 15v1m0 6v7M41 2v3m0 1v3m0 14v2m0 43v15M42 27v1m0 40v15M43 27v1m0 38v6m0 4v6m0 15v2M44 35v4m0 26v7m0 25v2M45 36v8m0 9v4m0 8v7M46 12v1m0 4v1m0 23v3m0 9v3m0 10v6m0 25v2M47 16v2m0 42v2m0 33v5M48 1v2m0 56v4m0 32v5M49 1v3m0 13v5m0 37v4m0 22v3m0 7v4M50 1v2m0 14v5m0 6v2m0 30v3m0 16v2m0 3v3M51 0v3m0 14v4m0 5v4m0 31v1M52 26v4m0 29v3m0 11v1m0 20v2M53 2v2m0 22v4m0 3v1m0 21v6m0 11v3m0 18v2M54 26v9m0 18v3m0 15v4M55 27v7m0 11v2m0 5v2m0 18v3m0 16v1M56 28v3m0 13v3m0 42v3M57 25v5m0 13v5m0 41v2M58 24v6m0 13v5m0 31v2M59 8v1m0 15v6m0 14v4m0 9v5m0 15v3m0 18v2M60 25v5m0 9v1m0 15v7m0 14v3m0 5v5m0 8v3M61 27v3m0 23v7m0 7v2m0 8v1m0 5v6M62 52v6m0 9v2m0 14v6M63 6v2m0 76v4M66 99v1M67 0v1m0 28v5m0 33v3m0 18v2m0 7v3M68 0v3m0 7v4m0 15v6m0 31v5m0 17v2m0 7v2M69 0v3m0 6v5m0 9v2m0 5v6m0 8v5m0 7v2m0 10v2M70 1v2m0 5v6m0 9v1m0 6v6m0 7v5m0 7v5m0 27v2M71 9v5m0 17v5m0 7v4m0 8v5m0 12v3m0 7v11M72 10v3m0 29v4m0 10v3m0 13v5m0 2v12m0 8v1M73 11v2m0 30v1m0 28v11m0 4v3m0 9v1M74 58v1m0 13v10m0 4v5M75 2v3m0 52v3m0 18v4m0 4v5M76 1v3m0 13v5m0 27v3m0 4v4m0 19v3m0 7v2M77 0v3m0 14v6m0 26v3m0 36v2m0 7v3M78 0v1m0 16v7m0 10v7m0 46v2m0 7v4M79 18v5m0 10v8m0 16v3m0 36v4M80 6v3m0 10v3m0 7v2m0 3v6m0 57v3M81 7v2m0 26v3m0 42v1M82 78v3M83 9v1m0 66v2M84 9v1m0 39v1m0 24v4M85 40v1m0 8v1m0 24v4m0 9v4M86 17v2m0 20v4m0 16v5m0 15v1m0 9v1M87 16v7m0 16v5m0 14v10m0 12v1M88 16v7m0 5v3m0 9v4m0 19v5M89 16v2m0 9v3m0 16v4m0 40v1M90 4v4m0 18v3m0 16v5m0 39v2M91 3v5m0 18v3m0 14v2m0 44v1M92 3v6m0 17v3m0 12v4m0 31v5M93 5v5m0 16v4m0 47v5M94 26v3M95 91v3m0 5v1M96 91v4m0 4v1M97 0v1m0 16v1m0 73v3m0 5v1M98 0v2m0 12v6m0 44v1M99 0v1m0 13v6m0 29v1m0 6v2m0 19v3"/><path stroke="#444444" d="M0 6v6m0 37v5m0 3v3m0 29v10M1 6v5m0 23v3m0 12v4m0 5v2m0 28v10M2 6v4m0 24v5m0 11v1m0 35v8m0 5v1M3 7v2m0 17v3m0 6v5m0 23v1m0 9v1m0 11v1M4 7v1m0 15v6m0 7v7m0 20v2m0 6v5M5 17v3m0 16v7m0 19v8m0 1v5m0 9v5M6 18v1m0 17v6m0 23v5m0 2v3m0 9v7M7 37v4m0 25v3m0 16v4M8 38v2m0 4v6m0 35v3M9 36v3m0 5v6m0 36v2M10 24v4m0 6v5m0 7v1m0 40v1M11 21v3m0 1v6m0 2v5m0 21v1m0 27v2M12 20v3m0 3v4m0 5v2m0 49v3m0 10v1M13 0v6m0 14v3m0 3v3m0 24v6m0 19v1m0 8v2M14 1v4m0 48v7m0 15v4m0 14v3M15 52v7m0 14v5m0 14v4M16 6v2m0 11v2m0 30v3m0 16v7m0 15v4M17 4v4m0 9v4m0 30v2m0 13v11m0 16v2M18 0v1m0 3v4m0 9v3m0 45v12m0 20v3M19 0v2m0 3v4m0 23v1m0 29v15m0 17v6M20 0v3m0 2v5m0 8v6m0 32v2m0 4v4m0 4v7m0 10v3m0 3v7M21 0v8m0 9v7m0 31v4m0 14v2m0 12v3m0 3v7M22 0v8m0 9v5m0 32v6m0 33v7M23 4v4m0 47v3m0 34v8M24 4v2m0 86v7M25 43v2m0 50v1M26 0v1m0 31v2m0 10v3M27 0v1m0 45v1M28 11v2M29 11v2m0 81v2M30 1v1m0 92v2M32 16v1m0 32v5M33 22v1m0 25v7m0 30v1M34 21v3m0 28v3m0 17v2M35 21v2M36 6v4m0 22v3m0 30v2M37 4v5m0 22v4m0 31v2M38 3v6m0 22v3m0 33v6m0 26v1M39 1v8m0 33v5m0 21v6M40 1v8m0 33v3m0 23v6M41 3v1m0 65v7m0 3v4M42 68v5m0 2v7M43 67v5m0 5v4m0 17v1M44 36v2m0 28v6M45 37v1m0 2v3m0 11v2m0 10v6M46 41v3m0 10v1m0 12v5m0 25v2M47 96v4M48 60v3m0 32v5M49 2v1m0 15v3m0 39v3m0 22v2m0 9v3M50 1v2m0 14v5m0 6v1m0 32v2m0 22v1M51 1v1m0 16v3m0 5v4M52 26v3m0 65v1M53 26v4m0 42v3m0 19v1M54 27v7m0 19v3m0 16v3M55 28v5m0 20v1m0 18v2M56 28v3m0 14v2m0 42v3M57 26v3m0 14v4M58 25v5m0 14v4M59 25v5m0 15v3m0 10v3m0 17v1m0 20v1M60 26v4m0 25v6m0 23v5m0 8v3M61 53v7m0 23v6M62 53v4m0 26v6M63 84v3M66 99v1M67 30v3m0 35v2m0 18v2m0 8v2M68 0v3m0 8v2m0 17v5m0 32v4M69 0v3m0 6v5m0 17v5m0 9v2M70 9v4m0 18v5m0 8v4m0 7v4M71 10v3m0 20v1m0 9v3m0 10v4m0 13v2m0 7v10M72 11v2m0 30v2m0 12v2m0 13v5m0 2v5m0 2v5M73 11v1m0 60v10m0 5v2M74 72v10m0 5v3M75 3v2m0 53v2m0 18v4m0 6v3M76 2v2m0 14v3m0 28v2m0 6v2m0 20v2m0 8v2M77 0v2m0 16v4m0 28v1m0 47v1M78 18v5m0 12v3m0 58v4M79 19v4m0 10v7m0 18v2m0 36v4M80 7v1m0 12v2m0 12v5m0 59v1M81 36v2M82 79v1M84 75v3M85 74v4m0 10v3M86 39v4M87 17v6m0 16v5m0 17v7M88 17v5m0 7v1m0 11v3m0 20v4M89 27v3m0 17v3M90 4v4m0 18v3m0 17v3m0 40v2M91 4v4m0 18v2M92 4v4m0 19v2m0 13v2m0 33v3M93 7v3m0 16v4m0 47v4M94 26v2M95 91v3M96 91v3m0 5v1M97 92v2M98 0v1m0 14v4M99 0v1m0 14v4m0 30v1"/><path stroke="#3c3c3c" d="M0 6v6m0 37v4m0 5v2m0 29v10M1 6v5m0 24v2m0 12v4m0 36v9M2 7v2m0 26v4m0 50v4M3 7v1m0 27v4M4 36v4m0 23v1m0 8v3M5 36v5m0 22v6m0 3v4M6 37v4m0 24v5m0 15v5M7 38v2m0 27v2m0 17v2M8 44v5m0 37v1M9 37v1m0 6v5M10 35v3M11 27v3m0 4v4m0 49v2M12 20v2m0 5v3m0 57v2M13 1v1m0 19v1m0 5v1m0 28v3m0 28v1M14 3v1m0 49v6m0 17v3m0 14v2M15 53v3m0 1v2m0 15v4m0 15v2M16 52v2m0 17v6m0 16v2M17 5v3m0 10v3m0 30v1m0 16v8m0 17v1M18 5v3m0 57v12M19 0v2m0 4v3m0 54v4m0 2v8m0 17v6M20 0v3m0 3v3m0 10v4m0 40v2m0 6v5m0 12v2m0 4v6M21 0v3m0 2v3m0 9v6m0 32v3m0 30v2m0 4v6M22 0v2m0 2v4m0 9v5m0 32v5m0 34v7M23 4v3m0 85v8M24 5v1m0 86v6M26 0v1M29 94v2M30 94v2M32 49v3M33 48v6M34 21v2m0 30v1M35 21v1M36 7v2m0 24v1m0 32v1M37 5v3m0 24v2M38 3v5m0 24v1m0 35v4M39 2v7m0 34v3m0 22v5M40 2v7m0 34v1m0 25v5M41 69v5m0 5v3M42 68v4m0 4v6M43 67v5m0 5v4M44 66v5M45 41v1m0 12v2m0 10v5M46 68v3M47 96v3M48 60v2m0 33v5M49 18v3m0 39v2m0 34v3M50 18v3M51 18v2m0 7v3M52 26v3M53 27v2m0 44v1M54 27v7m0 20v1m0 17v2M55 28v5M56 45v1m0 44v1M57 44v3M58 25v4m0 16v3M59 25v4m0 17v1M60 27v2m0 26v6m0 24v3m0 10v1M61 54v6m0 24v5M62 53v4m0 27v4M63 85v2M66 99v1M67 89v1m0 8v2M68 0v2m0 9v2m0 18v3m0 34v2M69 0v2m0 8v3m0 18v4M70 9v4m0 18v4m0 9v3m0 9v3M71 43v3m0 10v3m0 27v4M72 43v2m0 27v4m0 4v3m0 4v3M73 72v10M74 73v2m0 2v5M75 3v1m0 54v1m0 19v4m0 7v2M76 2v1M77 20v1M78 19v4m0 74v2M79 19v4m0 11v5m0 58v2M80 20v1m0 14v4M84 75v2M85 74v3M86 39v3M87 17v5m0 17v5m0 18v5M88 17v5m0 43v2M89 28v1m0 18v2M90 5v2m0 19v3m0 18v1M91 4v3M92 4v3m0 70v2M93 8v1m0 17v3m0 49v3M94 27v1M96 91v3M97 92v2M98 0v1m0 14v4M99 0v1m0 15v2"/><path stroke="#343434" d="M0 7v5m0 37v4m0 37v8M1 7v3m0 39v4m0 36v8M2 7v2m0 26v3m0 52v3M3 36v3M4 36v3m0 33v2M5 37v3m0 24v5m0 3v3M6 65v4m0 18v2M8 45v4M9 44v5M10 35v3M11 28v1m0 5v4M12 21v1m0 5v2m0 58v2M14 53v6m0 17v2m0 15v2M15 75v2m0 16v2M16 71v5m0 17v2M17 5v3m0 10v2m0 49v7M18 5v3m0 61v7M19 0v2m0 4v2m0 56v2m0 3v7m0 19v5M20 0v2m0 18v2m0 51v3m0 18v6M21 0v3m0 15v5m0 32v3m0 36v6M22 0v1m0 4v2m0 11v3m0 34v3m0 36v6M23 5v2m0 86v7M24 92v5M33 49v1M37 6v2m0 24v2M38 4v3m0 62v2M39 2v6m0 35v2m0 24v4M40 2v3m0 64v4M41 70v3m0 7v2M42 69v3m0 4v6M43 67v4m0 7v2M44 66v5M45 67v4M47 96v3M48 96v3M49 19v2m0 75v3M50 18v3M51 19v1m0 7v2M52 27v2M53 27v1M54 28v5M55 29v3M57 45v1M58 26v3m0 17v1M59 26v3M60 56v5M61 54v5m0 25v4M62 54v2m0 28v4M67 99v1M68 0v1M69 10v3m0 19v3M70 10v2m0 20v3m0 9v2m0 11v1M71 44v2m0 11v2m0 29v1M72 72v4m0 5v1M73 72v10M74 73v1m0 4v4M75 79v2M78 20v3M79 20v2m0 12v4M80 35v3M84 75v2M85 75v1M86 40v2M87 17v4m0 19v3m0 21v2M88 17v4M90 27v1M91 5v1M93 27v2m0 49v2M96 92v2M98 0v1m0 15v2"/><path stroke="#2c2c2c" d="M0 7v4m0 38v4m0 38v7M1 7v3m0 39v4m0 37v7M2 35v3m0 52v2M3 36v3M4 37v2M5 66v2m0 5v1M6 66v3M8 45v4M9 45v4M10 35v3M11 35v3M14 54v4M15 75v2m0 16v2M16 72v4M17 5v2m0 63v5M18 5v2m0 62v6M19 0v1m0 69v5m0 21v4M20 0v2m0 93v5M21 0v2m0 16v4m0 34v1m0 38v5M22 5v2m0 12v1m0 35v3m0 36v6M23 5v2m0 86v7M24 93v3M39 2v4m0 63v3M40 2v3m0 65v2M41 71v1M42 69v2m0 6v4M43 68v3m0 7v1M44 67v4M45 67v3M47 96v3M48 96v3M49 97v1M50 18v3M51 27v2M52 27v1M55 30v1M60 56v4M61 54v5m0 25v3M62 84v3M69 11v1m0 21v1M70 33v1M71 44v1M72 73v2M73 73v3m0 2v4M74 78v3M75 79v2M78 21v1M79 20v2m0 13v3M80 35v3M87 18v2m0 21v2M93 27v1M96 92v1"/><path stroke="#242424" d="M0 7v4m0 39v3m0 40v5M1 8v1m0 40v3m0 38v6M2 36v1M3 36v2M4 37v1M6 66v2M8 46v3M9 45v4M10 36v1M11 35v2M17 6v1m0 63v4M18 6v1m0 63v4M19 70v4m0 22v3M20 0v2m0 93v5M21 0v2m0 17v2m0 74v5M22 56v1m0 38v5M23 5v1m0 87v6M24 94v1M39 3v2m0 65v1M42 78v3M43 68v3M44 67v3M45 68v1M47 97v2M48 96v3M50 18v3M60 57v3M61 55v4m0 26v2M62 85v2M72 73v2M73 73v2m0 4v2M74 78v3M79 35v2M80 36v1"/><path stroke="#1c1c1c" d="M0 8v2m0 40v2m0 41v4M1 50v2m0 39v2m0 1v2M8 47v1M9 45v3M11 36v1M17 71v3M18 70v4M19 71v1m0 25v2M20 0v1m0 95v4M21 0v1m0 95v4M22 95v5M23 94v5M42 78v2M43 69v1M44 68v2M47 97v1M48 96v3M50 19v1M60 57v2M61 55v3M73 73v2m0 4v2M74 79v2"/><path stroke="#141414" d="M0 8v2m0 40v2m0 42v3M1 50v2M9 46v2M17 71v2M18 71v2M20 96v4M21 96v4M22 96v4M23 95v3M47 97v1M48 96v2M60 58v1M61 56v2M74 79v1"/><path stroke="#0c0c0c" d="M0 94v3M1 50v1M18 71v1M20 96v4M21 96v4M22 96v4M48 97v1"/><path stroke="#040404" d="M0 95v1M20 97v3M21 97v3M22 97v3"/></g></g>
</g>
<rect x="87.50" y="457.00" width="420.00" height="1.00" fill="#fff" stroke="none" stroke-width="1.1" />
<rect x="87.50" y="38.50" width="420.00" height="420.00" fill="none" stroke="#000" stroke-width="1.1" />
<line x1="92.50" y1="38.50" x2="92.50" y2="32.40" stroke="#000" stroke-width="1.1" />
<line x1="194.50" y1="38.50" x2="194.50" y2="32.40" stroke="#000" stroke-width="1.1" />
<line x1="297.50" y1="38.50" x2="297.50" y2="32.40" stroke="#000" stroke-width="1.1" />
<line x1="399.50" y1="38.50" x2="399.50" y2="32.40" stroke="#000" stroke-width="1.1" />
<line x1="502.50" y1="38.50" x2="502.50" y2="32.40" stroke="#000" stroke-width="1.1" />
<line x1="189.50" y1="458.50" x2="189.50" y2="463.80" stroke="#000" stroke-width="1.1" />
<line x1="291.50" y1="458.50" x2="291.50" y2="463.80" stroke="#000" stroke-width="1.1" />
<line x1="394.50" y1="458.50" x2="394.50" y2="463.80" stroke="#000" stroke-width="1.1" />
<line x1="497.50" y1="458.50" x2="497.50" y2="463.80" stroke="#000" stroke-width="1.1" />
<line x1="87.50" y1="52.50" x2="82.20" y2="52.50" stroke="#000" stroke-width="1.1" />
<line x1="87.50" y1="155.50" x2="82.20" y2="155.50" stroke="#000" stroke-width="1.1" />
<line x1="87.50" y1="258.50" x2="82.20" y2="258.50" stroke="#000" stroke-width="1.1" />
<line x1="87.50" y1="362.50" x2="82.20" y2="362.50" stroke="#000" stroke-width="1.1" />
<line x1="507.50" y1="62.50" x2="512.80" y2="62.50" stroke="#000" stroke-width="1.1" />
<line x1="507.50" y1="165.50" x2="512.80" y2="165.50" stroke="#000" stroke-width="1.1" />
<line x1="507.50" y1="268.50" x2="512.80" y2="268.50" stroke="#000" stroke-width="1.1" />
<line x1="507.50" y1="371.50" x2="512.80" y2="371.50" stroke="#000" stroke-width="1.1" />
<text x="75.2" y="56.1" font-size="14.17" text-anchor="end" fill="#000" textLength="43.8" lengthAdjust="spacingAndGlyphs">11°45'</text>
<text x="75.2" y="159.1" font-size="14.17" text-anchor="end" fill="#000" textLength="19.3" lengthAdjust="spacingAndGlyphs">30'</text>
<text x="75.2" y="262.1" font-size="14.17" text-anchor="end" fill="#000" textLength="19.3" lengthAdjust="spacingAndGlyphs">15'</text>
<text x="75.2" y="366.1" font-size="14.17" text-anchor="end" fill="#000" textLength="19.3" lengthAdjust="spacingAndGlyphs">00'</text>
<text transform="translate(21.1 249.5) rotate(-90)" font-size="14.17" text-anchor="middle" fill="#000" textLength="24.7" lengthAdjust="spacingAndGlyphs">Dec</text>
<path d="M196.5 140.9L204.3 148.7M196.5 148.7L204.3 140.9" stroke="#008000" stroke-width="1.5" fill="none"/>
<path d="M238.5 251.0L246.3 258.8M238.5 258.8L246.3 251.0" stroke="#ff0000" stroke-width="1.5" fill="none"/>
<circle cx="382.8" cy="208.1" r="4.1" fill="none" stroke="#008000" stroke-width="1.4"/>
<text x="371.3" y="196.5" font-size="14.17" text-anchor="start" fill="#008000" opacity="1.0" textLength="112.0" lengthAdjust="spacingAndGlyphs">PSRJ1951+1123</text>
<path d="M287.0 250.3L297.0 240.6L300.8 241.2L303.1 243.3L303.7 245.5L303.7 251.1L297.0 257.4L293.3 257.3Z" fill="none" stroke="#2020e0" stroke-width="1.1"/>
<rect x="535.50" y="38.50" width="21.00" height="420.00" fill="url(#gray)" stroke="none" stroke-width="1.1" />
<rect x="535.50" y="38.50" width="21.00" height="420.00" fill="none" stroke="#000" stroke-width="1.1" />
<line x1="556.50" y1="42.50" x2="561.80" y2="42.50" stroke="#000" stroke-width="1.1" />
<text x="566.3" y="47.8" font-size="14.17" text-anchor="start" fill="#000" textLength="19.9" lengthAdjust="spacingAndGlyphs">0.5</text>
<line x1="556.50" y1="89.50" x2="561.80" y2="89.50" stroke="#000" stroke-width="1.1" />
<text x="566.3" y="95.0" font-size="14.17" text-anchor="start" fill="#000" textLength="19.9" lengthAdjust="spacingAndGlyphs">0.4</text>
<line x1="556.50" y1="136.50" x2="561.80" y2="136.50" stroke="#000" stroke-width="1.1" />
<text x="566.3" y="142.2" font-size="14.17" text-anchor="start" fill="#000" textLength="19.9" lengthAdjust="spacingAndGlyphs">0.3</text>
<line x1="556.50" y1="183.50" x2="561.80" y2="183.50" stroke="#000" stroke-width="1.1" />
<text x="566.3" y="189.4" font-size="14.17" text-anchor="start" fill="#000" textLength="19.9" lengthAdjust="spacingAndGlyphs">0.2</text>
<line x1="556.50" y1="231.50" x2="561.80" y2="231.50" stroke="#000" stroke-width="1.1" />
<text x="566.3" y="236.6" font-size="14.17" text-anchor="start" fill="#000" textLength="19.9" lengthAdjust="spacingAndGlyphs">0.1</text>
<line x1="556.50" y1="278.50" x2="561.80" y2="278.50" stroke="#000" stroke-width="1.1" />
<text x="566.3" y="283.8" font-size="14.17" text-anchor="start" fill="#000" textLength="19.9" lengthAdjust="spacingAndGlyphs">0.0</text>
<line x1="556.50" y1="325.50" x2="561.80" y2="325.50" stroke="#000" stroke-width="1.1" />
<text x="566.3" y="331.0" font-size="14.17" text-anchor="start" fill="#000" textLength="31.5" lengthAdjust="spacingAndGlyphs">−0.1</text>
<line x1="556.50" y1="372.50" x2="561.80" y2="372.50" stroke="#000" stroke-width="1.1" />
<text x="566.3" y="378.2" font-size="14.17" text-anchor="start" fill="#000" textLength="31.5" lengthAdjust="spacingAndGlyphs">−0.2</text>
<line x1="556.50" y1="419.50" x2="561.80" y2="419.50" stroke="#000" stroke-width="1.1" />
<text x="566.3" y="425.4" font-size="14.17" text-anchor="start" fill="#000" textLength="31.5" lengthAdjust="spacingAndGlyphs">−0.3</text>
<text transform="translate(615.7 248.4) rotate(-90)" font-size="14.17" text-anchor="middle" fill="#000" textLength="126.5" lengthAdjust="spacingAndGlyphs">Transient cube (Jy)</text>
<g clip-path="none">
<rect x="87.50" y="486.50" width="420.00" height="420.00" fill="#666"/><g transform="translate(87.50 486.50) scale(4.2000)"><rect width="100" height="100" fill="#5c5c5c"/><g transform="translate(.5 0)" fill="none" stroke-width="1.06" shape-rendering="crispEdges"><path stroke="#040404" d="M0 57v5m0 28v1M1 57v4m0 29v2M2 24v3m0 31v2M3 24v2M4 97v2M5 65v2m0 31v1M6 65v2M10 30v4M11 30v5m0 20v5M12 30v5m0 20v5M13 30v2m0 23v5m0 14v1M14 56v4m0 12v4M15 72v6M16 72v6M17 72v6M18 72v5M19 71v5M20 70v2m0 21v3M21 92v3M28 51v3M29 48v6M30 48v6M31 49v4M32 49v4M33 38v1m0 11v2M40 28v4M41 27v5M42 27v5m0 24v3M50 61v1M51 61v1M52 61v1M53 12v1m0 47v3M54 12v1m0 48v2M55 61v1M69 73v3M70 73v5M71 75v4M72 78v1M80 2v1M81 3v1M83 59v1M84 58v3M85 58v3M87 70v2M88 71v1"/><path stroke="#0c0c0c" d="M0 56v1m0 5v1m0 26v1m0 1v1M1 24v3m0 34v1m0 27v1M2 23v1m0 3v1m0 29v1m0 2v1m0 28v3M3 23v1m0 2v1m0 69v3M4 24v2m0 38v3m0 13v2m0 14v1m0 2v1M5 25v1m0 37v2m0 2v1m0 11v3m0 14v2m0 1v1M6 25v1m0 38v1m0 2v1m0 11v2M7 25v1m0 39v2M8 26v1M9 26v2m0 2v4M10 29v1m0 4v1m0 8v2m0 11v4M11 29v1m0 12v3m0 15v1M12 29v1m0 5v1m0 5v4m0 9v1m0 5v1m0 13v1M13 28v2m0 2v3m0 19v1m0 5v1m0 3v10m0 1v1M14 29v1m0 25v1m0 4v1m0 4v3m0 2v2m0 4v1M15 58v2m0 11v1m0 6v1m0 4v1M16 71v1m0 6v1M17 71v1m0 6v1M18 71v1m0 5v2M19 68v3m0 5v3m0 14v4M20 68v2m0 2v3m0 17v1m0 3v2M21 70v3m0 18v1m0 3v2M22 89v5M23 72v2m0 16v3M24 71v3m0 18v1M25 72v2M26 54v2m0 17v1M27 52v4M28 48v3m0 3v1M29 46v2M30 47v1M31 48v1m0 4v1M32 38v1m0 14v1M33 37v1m0 1v1m0 9v1m0 2v1M34 37v2M36 21v3M37 21v2M38 89v2M39 28v2m0 59v3M40 27v1M41 32v1m0 23v2M42 26v1m0 5v1m0 22v1M43 26v3m0 27v3m0 35v1M44 94v1M48 25v1M49 25v1m0 35v1M50 60v1m0 1v1M51 60v1m0 1v1M52 12v1m0 47v1m0 1v1M53 11v1m0 1v1m0 20v2M54 11v1m0 1v1m0 19v3m0 24v1m0 2v1M55 12v2m0 46v1m0 1v2M56 61v2M57 24v2m0 31v2M58 25v1M59 68v1M60 68v1M62 52v2M63 51v4M64 51v4M68 72v4m0 18v2M69 71v2m0 3v1m0 17v1M70 71v2m0 5v1M71 72v3m0 4v1M72 76v2m0 1v1M76 0v1M77 0v1M78 39v1M79 1v3m0 35v1M80 1v1m0 1v2M81 1v2m0 1v1M82 2v3M83 1v2m0 55v1m0 1v1M84 0v2M85 0v2M86 70v2M87 69v1m0 2v1M88 70v1m0 1v1M89 71v1M93 70v1M94 0v1M95 0v1M99 91v3"/><path stroke="#141414" d="M0 63v1M1 27v1m0 28v1m0 5v1m0 29v1M2 61v1m0 35v1M3 22v1m0 35v2m0 35v1m0 3v1M4 23v1m0 2v1m0 36v1m0 3v1m0 11v1m0 15v1M5 24v1m0 37v1m0 15v1M6 24v1m0 1v1m0 36v1m0 17v1m0 15v2M7 24v1m0 1v1m0 37v1m0 2v1M8 25v1m0 1v1m0 2v4m0 31v2M9 16v1m0 11v2m0 4v1m0 24v1M10 26v3m0 16v1m0 14v1M11 28v1m0 6v1m0 5v1m0 3v1m0 8v1M12 28v1m0 16v1m0 15v1m0 3v6m0 2v1m0 1v1M13 35v1m0 5v4m0 16v1M14 28v1m0 1v1m0 3v1m0 26v1m0 2v1m0 3v2m0 7v1m0 5v2M15 28v2m0 27v1m0 2v2m0 5v2m0 1v1m0 11v1m0 1v1M16 70v1m0 12v1M18 70v1m0 23v2M19 46v1m0 45v1m0 4v1M20 29v2m0 14v2m0 20v1m0 7v1m0 1v3m0 11v1M21 29v3m0 7v3m0 3v2m0 9v8m0 5v1m0 3v1m0 5v2m0 8v2m0 6v1M22 39v3m0 14v3m0 12v4m0 13v1m0 5v1M23 71v1m0 2v1m0 14v1m0 3v1M24 74v1m0 16v1m0 1v1M25 54v2m0 15v1m0 2v1m0 17v1M26 53v1m0 18v1m0 1v1M27 51v1M28 47v1M29 54v1M30 46v1m0 7v1M31 54v1m0 23v3M32 37v1m0 1v1m0 8v1m0 5v1m0 24v3M33 53v1M34 39v1m0 9v1M35 22v2M37 20v1m0 2v1m0 65v1M38 20v2m0 5v2m0 59v1m0 2v1m0 3v1M39 27v1m0 2v1m0 57v1m0 6v2M40 32v1m0 56v2m0 5v1M41 26v1m0 28v1m0 2v1M42 25v1m0 33v1M43 25v1m0 3v3m0 23v1m0 3v1m0 33v1m0 1v1M44 93v1m0 1v1M45 94v1M47 24v1m0 59v1M48 24v1m0 1v1M49 24v1m0 1v3m0 33v1m0 6v1M50 28v2m0 11v2m0 28v1M51 29v2m0 10v1M52 11v1m0 47v1M53 32v2m0 2v1m0 22v1m0 3v1M54 32v1m0 3v1m0 22v1M55 11v1M56 24v3m0 30v4m0 2v1M57 26v1m0 32v3M58 24v1m0 1v1m0 30v2M59 25v2m0 39v2m0 1v1M60 67v1m0 1v1M61 52v2m0 14v2M62 51v1m0 2v1M64 55v1M65 4v1m0 47v2M66 94v2M67 73v2m0 19v2M68 16v1m0 54v1m0 21v1M69 16v1m0 60v1m0 15v1m0 1v1M70 79v1m0 13v3M71 94v2M72 75v1m0 19v1M73 95v1M76 1v1M77 1v2M78 0v4m0 34v1m0 1v1M79 38v1m0 1v1M81 5v1M82 1v1m0 3v1m0 52v2M83 0v1m0 2v2M84 2v1m0 54v1m0 3v1M85 2v1m0 9v2m0 43v1m0 3v1M86 0v2m0 67v1M88 2v1m0 63v4M89 2v3m0 60v3m0 2v1m0 1v1M90 3v1M92 69v2M93 0v1m0 68v1m0 1v1m0 11v1M94 1v1m0 46v1m0 21v2m0 11v2M95 1v1m0 97v1M96 0v3M97 1v1M98 1v1M99 90v1m0 3v1"/><path stroke="#1c1c1c" d="M1 23v1M2 22v1m0 69v1m0 3v1m0 1v1M3 27v1m0 29v1m0 2v2m0 18v2m0 7v2M4 40v2m0 20v1m0 19v1M5 26v1m0 13v1m0 13v2m0 12v1m0 13v1m0 12v1M6 31v1m0 22v2m0 12v1m0 9v1m0 17v1m0 2v1M7 27v1m0 2v2M8 16v1m0 7v1m0 3v2m0 4v1m0 29v1M9 15v1m0 1v1m0 7v1m0 17v3m0 12v1m0 1v1M10 16v3m0 16v1m0 6v1m0 3v1m0 8v1M11 27v1m0 18v1m0 14v1m0 12v1M12 27v1m0 12v1m0 5v1m0 17v1m0 6v2M13 27v1m0 17v2m0 15v2m0 12v1m0 6v2M14 8v1m0 22v3m0 1v1m0 8v3m0 7v1m0 7v2m0 14v1M15 30v1m0 25v1m0 5v1m0 2v2m0 2v1M16 28v1m0 50v1m0 2v1m0 1v1M17 70v1M18 69v1m0 23v1m0 2v1M19 47v1m0 19v1m0 11v1M20 28v1m0 2v1m0 15v1m0 9v4m0 1v3m0 11v1m0 3v1m0 17v1M21 55v1m0 8v1m0 3v1m0 5v1m0 3v1m0 2v1m0 6v1M22 30v1m0 7v1m0 3v1m0 12v1m0 3v5m0 6v1m0 9v2m0 5v1m0 7v1M23 39v3m0 14v1m0 31v1M25 93v1M26 52v1m0 3v1M27 50v1m0 5v1m0 16v2M28 46v1m0 8v1M29 45v1M31 38v1m0 8v1m0 7v1m0 25v1M32 78v1M33 36v1m0 11v1m0 31v1M34 0v1m0 49v1M35 21v1M36 20v1m0 3v1M37 27v1m0 62v1M38 22v1m0 6v1m0 64v1m0 1v1M39 31v1m0 37v2m0 21v1m0 1v1m0 2v1M40 55v1m0 13v2m0 20v1m0 3v1m0 1v1M41 33v1m0 20v1M42 33v1M43 32v1M44 25v2M45 93v1M46 23v2M47 23v1m0 1v1m0 6v1m0 50v1m0 1v1M48 23v1m0 3v1m0 3v2m0 36v2m0 12v2M49 29v3m0 28v1m0 6v2m0 1v2M50 25v3m0 2v2m0 8v1m0 27v3m0 1v1M51 12v1m0 15v1m0 2v1m0 10v1m0 16v1M52 13v1m0 15v3m0 62v1m0 1v2M53 10v1m0 20v1m0 61v1M54 5v1m0 4v1m0 20v1M55 5v1m0 8v1m0 10v2m0 5v4m0 23v1M56 27v1m0 28v1M57 23v1m0 38v2M58 59v1m0 5v4M59 51v1m0 18v1M60 26v1m0 25v1m0 17v1M61 51v1m0 15v1m0 2v1M62 68v2M63 50v1m0 4v1M64 4v1m0 45v1M65 3v1m0 8v1m0 38v1m0 2v1m0 3v2m0 27v1m0 6v1M66 15v1m0 42v2m0 33v1M67 15v1m0 56v1m0 2v1m0 8v1m0 8v1m0 2v1M68 15v1m0 60v1m0 7v1m0 11v1M69 15v1m0 1v1m0 52v1m0 7v1m0 13v1m0 3v1M70 16v1m0 4v1M71 21v1m0 49v1m0 8v1M72 72v3m0 5v1m0 13v1m0 1v1M73 77v2m0 17v1M74 56v1M75 0v1M77 38v2M79 0v1m0 3v1m0 32v1m0 16v1M80 0v1m0 4v1m0 49v2m0 18v1M81 0v1m0 54v5m0 14v2M82 0v1m0 59v1M83 5v1m0 55v1M84 3v2m0 6v3m0 67v1m0 11v2M85 14v1m0 55v2m0 8v2m0 11v2M86 2v1m0 56v1m0 12v1m0 7v1M87 0v2m0 66v1M88 3v1m0 39v1m0 21v1M89 5v1m0 36v1m0 25v2M90 2v1m0 1v1m0 37v1m0 23v2m0 2v2M91 41v2m0 25v3M92 68v1m0 2v1M93 1v1m0 66v1m0 13v1m0 1v1M94 38v2m0 7v1m0 21v1m0 12v1m0 16v1M95 2v1m0 45v1m0 34v2m0 13v1M97 0v1m0 1v1M98 0v1m0 1v1M99 1v3m0 84v2m0 7v1"/><path stroke="#242424" d="M0 55v1m0 8v1m0 27v1M2 28v1m0 27v1m0 5v1m0 25v1M3 62v4m0 22v1M4 22v1m0 4v1m0 11v1m0 16v2m0 3v1m0 16v1m0 8v2M5 23v1m0 6v2m0 7v1m0 1v1m0 14v1m0 4v1m0 25v2M6 30v1m0 51v1M7 16v1m0 15v1m0 30v1M8 15v1m0 1v1m0 26v1m0 22v1M9 35v1m0 21v1m0 7v2M10 19v1m0 41v1M11 26v1m0 13v1m0 24v2m0 2v2m0 2v1m0 1v1M12 36v1m0 25v2M13 40v1M14 7v1m0 19v1m0 15v1m0 38v1M15 8v1m0 18v1m0 17v2m0 16v2m0 14v1M16 27v1m0 1v1m0 29v3m0 6v2M17 79v1m0 15v1M18 46v2m0 20v1m0 10v1m0 17v1M19 28v2m0 15v1m0 52v1M20 39v3m0 14v1m0 4v1m0 3v2M21 28v1m0 9v1m0 3v1m0 1v1m0 2v1m0 27v1m0 11v1m0 10v2M22 29v1m0 1v1m0 5v1m0 37v1m0 3v1M23 35v2m0 1v1m0 3v1m0 12v1m0 1v4m0 14v1m0 18v1M24 35v2m0 18v2m0 33v1M25 36v1m0 16v1m0 2v1M26 92v2M27 48v2M28 74v1M29 0v2m0 53v1M30 0v2m0 53v1m0 32v2M31 39v1m0 37v1m0 10v1M32 55v1M33 0v1m0 53v1m0 26v1M34 36v1M35 24v1m0 12v2M37 24v1m0 3v1m0 59v1M38 19v1m0 50v1m0 21v2M39 87v1m0 5v1M40 26v1m0 27v1m0 1v1m0 11v1m0 19v1m0 9v1M41 38v2m0 29v2m0 25v2M42 39v1m0 14v1m0 5v1m0 33v2M43 24v1m0 8v1m0 20v1M44 24v1m0 2v1m0 12v1m0 51v1M45 23v2m0 14v2m0 51v1m0 2v1M46 32v2m0 50v1M47 31v1m0 1v1m0 52v1M48 28v1m0 1v1m0 30v2m0 22v2M49 32v1m0 8v1m0 30v1M50 43v1m0 23v1m0 5v1M51 11v1m0 28v1m0 30v2M52 28v1m0 3v5m0 26v1m0 29v1m0 1v1m0 2v1M53 29v2m0 61v1m0 1v1m0 2v2M54 6v1m0 7v1m0 40v2M55 4v1m0 14v1m0 7v1m0 8v1m0 19v3m0 5v1M56 13v2m0 4v1m0 44v1M57 27v1m0 22v1m0 5v1m0 7v3M58 23v1m0 3v1m0 22v2m0 4v1m0 7v1m0 4v1M59 24v1m0 27v1m0 4v1m0 7v1M60 25v1m0 25v1m0 1v1m0 12v1M61 26v1m0 27v1M63 28v1M64 3v1m0 24v2m0 26v1m0 30v1M65 5v1m0 5v1m0 1v1m0 41v3m0 2v1m0 25v1m0 1v1m0 2v3m0 1v1M66 13v2m0 42v1m0 2v1m0 25v2m0 8v1M67 16v1m0 40v2m0 12v1m0 11v1m0 1v1M68 83v1m0 1v1M69 97v1M70 15v1m0 1v1m0 2v1m0 1v1m0 47v1m0 21v1m0 3v1M71 20v1m0 1v1m0 29v1m0 40v1m0 2v1M72 51v2M73 51v2m0 26v1m0 14v1M74 55v1m0 39v3M75 55v2M76 2v1M77 3v1M78 37v1M79 11v1m0 41v1m0 1v1M80 39v1m0 14v1m0 19v1m0 1v1M81 82v1m0 2v2M82 55v3m0 24v1M83 57v1m0 23v1M84 5v1m0 74v1m0 11v1m0 2v2M85 3v1m0 7v1m0 3v1m0 63v1m0 12v1m0 2v2M86 14v2m0 27v1m0 14v1m0 1v1m0 18v1M87 2v1m0 39v2m0 22v2M88 1v1m0 2v3m0 35v1M89 1v1m0 4v1m0 36v1M90 5v1m0 35v1m0 1v1m0 24v2M91 43v1m0 23v1M92 0v1m0 39v1M93 38v2m0 32v1M94 36v2m0 11v1m0 22v1m0 25v1M95 47v1M98 3v1m0 87v5M99 0v1m0 3v1m0 90v2m0 1v1"/><path stroke="#2c2c2c" d="M0 26v1m0 5v1m0 32v1m0 12v2M1 0v1m0 21v1m0 5v1m0 3v1m0 13v1m0 16v1m0 24v1M2 47v1m0 32v1m0 14v1M3 21v1m0 6v1m0 11v1m0 15v1m0 9v1m0 12v1m0 14v1M4 54v2m0 2v3m0 7v1m0 20v1M5 27v1m0 1v1m0 12v1m0 10v1M6 23v1m0 3v1m0 25v1m0 2v1m0 5v1m0 14v1m0 9v1M7 15v1m0 1v1m0 5v1m0 4v2m0 24v1m0 22v1M8 35v1m0 7v1m0 32v1M9 18v1m0 27v3m0 12v1m0 2v1M10 15v1m0 25v1m0 5v1m0 6v1m0 10v1m0 8v1M11 18v2m0 16v1m0 27v1m0 2v2M13 36v1m0 10v1m0 5v1M14 9v1m0 37v1M15 34v2m0 11v4m0 4v1m0 25v1M16 46v1m0 2v2m0 7v1m0 3v1m0 4v1m0 13v1M17 27v2m0 18v1m0 21v1m0 24v1m0 1v1M18 28v1M19 27v1m0 2v1m0 17v1m0 17v1M20 27v1m0 16v1m0 3v1m0 50v1M21 32v1m0 4v1m0 5v1m0 10v1m0 10v1m0 10v2M22 36v1m0 6v1m0 20v1m0 31v1M23 30v1m0 6v1m0 23v2m0 7v1m0 9v2M24 34v1m0 19v1m0 2v4m0 9v1m0 4v1m0 18v1M25 35v1m0 1v1m0 19v1m0 2v2m0 29v1M26 36v2m0 19v1m0 3v1m0 9v1M28 0v1m0 44v1m0 10v1M29 74v1M30 45v1m0 27v2m0 4v2m0 4v3M31 37v1m0 35v1m0 8v1m0 2v3m0 1v1M32 77v1M33 1v1m0 77v1M34 1v1m0 20v1m0 25v1m0 2v1M35 0v1m0 19v1m0 18v1M36 14v1m0 74v1M37 19v1m0 6v1m0 64v1M38 26v1m0 42v1m0 1v1m0 15v1M39 20v2m0 10v1m0 35v1m0 29v1M40 33v1m0 19v1m0 17v1m0 20v1m0 6v1M41 25v1m0 27v1m0 41v1M42 24v1m0 13v1m0 1v1m0 52v1m0 2v1M43 39v2m0 19v1m0 15v2m0 14v1m0 3v1M44 32v1m0 6v1m0 15v2m0 18v2m0 19v1M45 25v1m0 7v1M46 38v2m0 45v1m0 5v2M47 37v2M48 29v1m0 38v1m0 2v1m0 10v1m0 4v1M49 23v1m0 18v1m0 20v1m0 2v1m0 6v1M50 24v1m0 7v1m0 26v1M51 13v1m0 13v1m0 4v1m0 10v1m0 26v1m0 23v5M52 58v1m0 33v1M53 5v2m0 7v1m0 22v1m0 17v2m0 1v1m0 36v2M54 4v1m0 21v1m0 3v1m0 6v1m0 19v2m0 5v1m0 28v1M55 6v1m0 3v1m0 9v1m0 3v1m0 6v1m0 23v1M56 4v2m0 14v1m0 2v1M57 49v1M58 60v4m0 6v2M59 27v1m0 22v1m0 7v1m0 5v1m0 6v4M60 0v1m0 26v1m0 43v1m0 1v3M61 25v1m0 1v1m0 38v1m0 7v2M62 25v3m0 22v1m0 4v1m0 9v1m0 1v1m0 6v2M63 27v1m0 1v1m0 26v1M64 5v1m0 6v1m0 44v3m0 28v1m0 2v2M65 10v1m0 3v1m0 74v2m0 5v1M66 4v1m0 11v1m0 39v1m0 27v2m0 2v1m0 3v1M67 14v1m0 41v1m0 2v1m0 26v1M68 17v1m0 39v1m0 12v1m0 6v1m0 14v1m0 4v1M69 84v1m0 13v1M70 97v1M71 51v1m0 1v1M72 21v1m0 28v1m0 2v1m0 7v1m0 9v1M73 72v1m0 3v1m0 20v1M74 57v1m0 34v3M75 1v1m0 89v2m0 4v1M76 3v1m0 8v1M77 12v1m0 27v1M78 4v1m0 6v2m0 28v1M79 12v1m0 23v1m0 4v1M80 11v1m0 26v1m0 18v1m0 19v2m0 6v2M81 54v1m0 5v1m0 12v1m0 2v1m0 4v1m0 1v2M82 73v3m0 5v1M83 6v1m0 75v1m0 11v1M84 6v1m0 7v1m0 56v1m0 10v1m0 8v1M85 42v1m0 26v1m0 2v1m0 18v1m0 5v1M86 13v1m0 28v1m0 25v1m0 12v1M87 3v1m0 11v1M88 7v1M89 64v1M90 1v1M91 3v2m0 35v1m0 30v1M92 39v1m0 1v3m0 23v1M93 37v1m0 2v1m0 6v2M94 2v1m0 37v1m0 44v1m0 11v1M95 37v3m0 9v1m0 9v1m0 22v1m0 2v1m0 11v1M96 3v1m0 55v1m0 24v1m0 14v1M97 3v1m0 20v1m0 28v1M98 23v2m0 65v1m0 5v1M99 5v1m0 81v1m0 11v1"/><path stroke="#343434" d="M0 25v1m0 5v1m0 14v1m0 19v1m0 7v1M1 1v1m0 29v1m0 1v1m0 13v1m0 7v1m0 23v2M2 0v1m0 20v1m0 24v1m0 16v1m0 17v1m0 11v2m0 4v1M3 39v1m0 27v1m0 14v1m0 8v1M4 20v2m0 6v3m0 11v1m0 10v1M5 19v2m0 7v1m0 28v1m0 19v1m0 8v1M6 19v1m0 9v1m0 2v1m0 8v2m0 45v1m0 6v1M7 33v1m0 9v2m0 8v1m0 1v1m0 12v1m0 7v1m0 1v4m0 15v2M8 23v1m0 21v1m0 1v2m0 3v2m0 9v1m0 13v1M9 19v1m0 22v1m0 6v1m0 6v1m0 10v1M10 25v1m0 22v1m0 15v1m0 1v1m0 8v1M11 17v1m0 29v1m0 14v1m0 8v2M12 26v1m0 12v1m0 7v1m0 5v1m0 22v1m0 6v2M13 7v2m0 68v1m0 4v1m0 2v1M14 36v1m0 5v1m0 5v1m0 30v1m0 5v1M15 7v1m0 1v1m0 21v1m0 1v1m0 10v1m0 35v1m0 9v1M16 15v2m0 13v1m0 14v1m0 1v2m0 31v1m0 8v1M17 0v1m0 15v1m0 9v1m0 2v1m0 16v1m0 1v3m0 17v1m0 28v1M18 3v1m0 23v1m0 1v1m0 18v1m0 18v1m0 24v1M19 57v2m0 21v1m0 10v1M20 11v1m0 20v1m0 5v1m0 3v1m0 12v1m0 25v1m0 5v2m0 1v1M21 51v3m0 13v1m0 18v1M22 35v1m0 8v3m0 7v1m0 21v1m0 1v1m0 7v1M23 31v1m0 2v1m0 41v1m0 10v1M24 37v1m0 23v1M25 58v2m0 10v1m0 4v1m0 18v1M26 60v1m0 14v1m0 18v1M27 0v1m0 46v1m0 9v1m0 17v1m0 16v2M28 1v1m0 71v1m0 18v1M29 73v1m0 15v2M30 2v1m0 53v1m0 15v1m0 2v1m0 2v1m0 5v1M31 0v1m0 45v1m0 9v1m0 7v1m0 7v1m0 1v1m0 1v1m0 6v2M32 0v1m0 35v1m0 3v1m0 24v3m0 14v1m0 5v2M33 40v1m0 14v1m0 10v2M34 21v1m0 1v1m0 43v1m0 12v1M36 13v1m0 5v1m0 68v1m0 1v1M37 25v1m0 17v2m0 25v2m0 22v2M38 23v1m0 6v1m0 12v1m0 53v1M39 26v1m0 26v2m0 16v1m0 14v1m0 12v1M40 38v2m0 17v1m0 9v1m0 19v1m0 6v1M41 40v1m0 18v1m0 6v1m0 1v1m0 2v1m0 26v2M42 34v1m0 18v1m0 12v1m0 10v2M43 38v1m0 2v1m0 36v1M44 23v1m0 4v1m0 1v2m0 1v1m0 7v1m0 15v1m0 19v1M45 32v1m0 1v1m0 3v1m0 2v1m0 49v1M46 22v1m0 2v1m0 5v1m0 2v1m0 2v1m0 45v1m0 6v1m0 2v1M47 22v1m0 3v1m0 3v1m0 38v2m0 16v1m0 2v2M48 33v1m0 3v2m0 21v1m0 11v1M49 40v1m0 2v1m0 30v1M50 1v2m0 36v1m0 4v1m0 18v1m0 2v1m0 12v1M51 1v2m0 60v1m0 9v1m0 19v1m0 5v1M52 10v1m0 26v1m0 3v2m0 13v1m0 15v1m0 26v1M53 28v1m0 28v1m0 33v1M54 7v1m0 1v1m0 15v1m0 1v1m0 1v1m0 24v1m0 37v1m0 1v1M55 18v1m0 9v1m0 1v1M56 15v1m0 2v1m0 9v1m0 36v1M57 28v1m0 22v1m0 15v1M58 49v1m0 2v1m0 19v1M59 53v1m0 2v1m0 6v1m0 11v2M60 1v1m0 52v1m0 9v2m0 6v1m0 3v1M61 0v1m0 54v1m0 8v2m0 5v1m0 1v1m0 2v1M62 28v1m0 35v1m0 1v1m0 3v1M63 26v1m0 48v1M64 13v1m0 72v1m0 2v2m0 2v1M65 6v1m0 8v1m0 69v1M66 3v1m0 8v1m0 39v1m0 2v1m0 18v1m0 8v1M67 76v1m0 10v1m0 4v1m0 4v1M68 56v1m0 1v1m0 27v1m0 11v1M69 21v2m0 56v1m0 3v1m0 1v1M70 18v2m0 32v2m0 26v1m0 10v1m0 6v1M71 19v1m0 30v1m0 41v1m0 4v1M72 20v1m0 1v1m0 37v1m0 1v1m0 30v1m0 3v1M73 50v1m0 2v5m0 13v1m0 21v1M74 50v3m0 1v1m0 16v2m0 4v2m0 12v1m0 6v1M75 20v1m0 33v1m0 2v1m0 13v1m0 18v1m0 2v4m0 1v2M76 4v1m0 39v1m0 10v1M77 4v1m0 32v1M78 29v2m0 22v2M79 5v1m0 4v1m0 19v2m0 20v1m0 21v5M80 6v1m0 3v1m0 26v1m0 15v1m0 4v1m0 20v1m0 1v4m0 2v3M81 6v1m0 70v1m0 9v2M82 6v1m0 54v1m0 21v1M83 10v3m0 59v1m0 7v1m0 12v1m0 1v3M84 10v1m0 4v1m0 25v1m0 20v1m0 7v1m0 1v1m0 6v1m0 17v1M85 16v1m0 24v1m0 1v1m0 34v1m0 3v1m0 7v1M86 3v1m0 8v1m0 3v1m0 40v1m0 20v1m0 15v4M87 6v2m0 65v1M88 0v1m0 63v1m0 8v1M89 7v1M90 65v1m0 6v1M91 2v1m0 22v1m0 40v1M92 1v1m0 42v1m0 38v2M93 36v1m0 30v1m0 17v1m0 13v1M94 35v1m0 32v1m0 12v1m0 14v1M95 3v1m0 4v1m0 27v1m0 3v1m0 17v1m0 11v2m0 24v1M96 8v1m0 44v1m0 29v1m0 14v1M97 54v1m0 40v1M98 4v1m0 48v2m0 42v2M99 23v2m0 38v2m0 4v3"/><path stroke="#3c3c3c" d="M0 24v1m0 2v1m0 5v1m0 20v1m0 12v1m0 7v1m0 1v1m0 2v1m0 7v1M1 29v1m0 15v1m0 18v2m0 12v1m0 14v1m0 3v2M2 29v1m0 2v1m0 15v1m0 15v2m0 13v1M3 20v1m0 8v1m0 11v1m0 4v3m0 6v1m0 31v1M4 19v1m0 11v1m0 6v1m0 47v1m0 7v1M5 18v1m0 3v1m0 9v1m0 5v1m0 21v1M6 0v1m0 15v3m0 1v1m0 7v1m0 9v3m0 2v1m0 17v1m0 14v1m0 9v1M7 20v1m0 1v1m0 19v1m0 9v1m0 3v1m0 5v1m0 19v1m0 13v1m0 2v1M8 18v1m0 17v1m0 5v1m0 3v1m0 2v1m0 8v5m0 5v1m0 6v1M9 14v1m0 5v1m0 3v1m0 11v1m0 15v4m0 6v2m0 11v2M10 20v1m0 15v1m0 32v2m0 2v1M11 16v1m0 36v1m0 9v1M13 26v1m0 51v1M14 41v1m0 7v2m0 2v1m0 27v1m0 8v1m0 7v1M15 32v1m0 21v1m0 30v1m0 3v1m0 7v2M16 26v1m0 4v1m0 2v2m0 21v1m0 5v1m0 2v1m0 18v1m0 4v1m0 5v2M17 1v1m0 13v1m0 67v2m0 2v3m0 3v1M18 0v3m0 1v1m0 44v1m0 7v1m0 28v3m0 9v1M19 31v1m0 24v1m0 2v5m0 1v1m0 20v2M20 26v1m0 10v1m0 5v1m0 5v6m0 31v1m0 2v1M21 27v1m0 8v1m0 11v1m0 1v1m0 15v1m0 15v1m0 2v1M22 32v1m0 14v1m0 21v1m0 7v1m0 4v1m0 14v1m0 1v1M23 29v1m0 13v1m0 10v1m0 8v1m0 15v1m0 2v1m0 12v1M24 6v1m0 31v1m0 1v3m0 19v1m0 26v1M25 7v1m0 54v1M26 0v1m0 50v1m0 6v2m0 2v1m0 28v1M27 1v1m0 34v2m0 23v2m0 9v1m0 21v1M28 44v1m0 30v1m0 15v1m0 1v1M29 2v1m0 33v1m0 19v1m0 18v1m0 9v2m0 1v1M30 37v2m0 23v3m0 25v1M31 1v1m0 61v1m0 1v1m0 5v1m0 3v1m0 14v1M32 1v1m0 45v1m0 16v1m0 21v2m0 2v1M33 68v1m0 9v1M34 20v1m0 19v1m0 11v1m0 13v1m0 1v1m0 10v1M35 1v1m0 17v1m0 16v1m0 30v1m0 20v1M36 0v1m0 14v1m0 9v1m0 18v1m0 42v1M37 13v1m0 15v1m0 15v1m0 23v1m0 2v1m0 5v1m0 8v1M38 31v1m0 10v1m0 1v1m0 23v1M39 67v1M40 40v1m0 11v1m0 13v1m0 26v1M41 24v1m0 9v1m0 2v1m0 14v1m0 12v1m0 1v1m0 22v2m0 2v1M42 23v1m0 13v1m0 3v1m0 10v1m0 12v1m0 1v4m0 21v1M43 23v1m0 10v1m0 17v2m0 21v1M44 29v1m0 4v1m0 3v1m0 8v2m0 5v1m0 19v1M45 26v1m0 4v1m0 43v2m0 7v2M46 36v1m0 3v1m0 45v1M47 27v1m0 8v1m0 2v1m0 42v1m0 5v2m0 2v1M48 22v1m0 40v1m0 9v1m0 14v1M49 1v1m0 36v2m0 19v1m0 19v5M50 3v1m0 34v1m0 35v1m0 5v1m0 18v1M51 3v1m0 21v2m0 6v1m0 2v2m0 1v1m0 18v1m0 9v2m0 22v1M52 14v1m0 12v1m0 27v1m0 1v1m0 13v1m0 1v1m0 17v1M53 7v1m0 19v1m0 26v1m0 9v1m0 25v1m0 8v1M54 28v1m0 62v1m0 6v1M55 3v1m0 11v1m0 5v1m0 7v1m0 35v1M56 17v1m0 3v2m0 27v1m0 4v1m0 10v1M57 15v1m0 6v1m0 75v1M58 73v1m0 24v1M59 54v2m0 3v1m0 17v1M60 24v1m0 25v1m0 4v2m0 20v1M61 1v1m0 48v1m0 21v1m0 25v1M62 24v1m0 51v1M63 23v3m0 4v1m0 18v1m0 7v1m0 7v1m0 2v1m0 5v1M64 11v1m0 10v2m0 3v1m0 2v1m0 63v2M65 9v1m0 6v2m0 4v1m0 27v1m0 10v1M66 5v1m0 11v1m0 33v1m0 1v2m0 6v1m0 11v1m0 1v1m0 13v1m0 1v1m0 5v1M67 17v1m0 37v1M68 14v1m0 8v2m0 53v1m0 8v1M69 23v1m0 45v1m0 21v1m0 7v1M70 23v1m0 27v1m0 37v2M71 1v2m0 12v1m0 33v1m0 4v1m0 5v2M72 1v2m0 51v1m0 4v1M73 20v2m0 36v4m0 11v1m0 1v1M74 0v1m0 19v1m0 32v1m0 45v1M75 2v3m0 7v1m0 6v1m0 31v3m0 16v1M76 13v1m0 5v2m0 22v1m0 1v1m0 8v1m0 1v1M77 11v1m0 16v2m0 11v1m0 1v1M78 36v1m0 15v1m0 2v1m0 7v1M79 29v1m0 2v4m0 20v1m0 6v1m0 15v1M80 31v6m0 3v1m0 18v1m0 13v1m0 6v1m0 9v1M81 61v1m0 16v3m0 8v1M82 54v1m0 17v1m0 3v1m0 3v1m0 3v3M83 7v1m0 5v1m0 42v1m0 5v1m0 8v1m0 1v1m0 2v4m0 12v1M84 7v1m0 8v1m0 23v1m0 1v1m0 13v1m0 20v2m0 11v1M85 4v2m0 34v1m0 15v1m0 5v1m0 14v1m0 11v1m0 8v1M86 41v1m0 2v1m0 16v1m0 5v1m0 5v1m0 18v2m0 4v1M87 4v2m0 8v1m0 1v1m0 27v1m0 20v1M88 8v1m0 6v1m0 28v1M89 8v2m0 18v1m0 12v1M90 6v1m0 2v2m0 15v1M91 1v1m0 3v1m0 18v1m0 1v1m0 17v1M92 33v1m0 4v1M93 2v1m0 32v1m0 5v1m0 4v1m0 19v1m0 14v1m0 16v1M94 46v1m0 18v3m0 5v1M95 7v1m0 1v1m0 36v1m0 13v1m0 8v1M96 7v1m0 1v1m0 36v2m0 4v1m0 1v1m0 3v1m0 1v1m0 24v1m0 10v2M97 23v1m0 1v1m0 70v1M98 5v1m0 19v1m0 18v2m0 43v1m0 9v1M99 6v1m0 2v2m0 32v2m0 8v2m0 7v1m0 2v1m0 20v1"/><path stroke="#444444" d="M0 0v2m0 21v1m0 6v1m0 14v1m0 1v1m0 5v1m0 14v1m0 4v1m0 2v1M1 30v1m0 23v1m0 11v2m0 6v1m0 6v1M2 1v1m0 29v1m0 1v1m0 11v1m0 9v1m0 10v1M3 31v2m0 20v2m0 13v1m0 9v1m0 14v1M4 32v1m0 10v1m0 2v2m0 21v1m0 7v1m0 5v1M5 21v1m0 21v1m0 8v1m0 5v1m0 10v1m0 13v1m0 5v1M6 15v1m0 6v1m0 14v1m0 6v1m0 7v1m0 4v1M7 0v1m0 17v2m0 1v1m0 12v5m0 6v1m0 29v1m0 11v2M8 14v1m0 4v4m0 27v2m0 2v4m0 39v2M9 50v2m0 16v1m0 5v1m0 22v1M10 14v1m0 25v1m0 8v1m0 3v1m0 8v2m0 3v2m0 7v1M11 20v1m0 4v1m0 13v1m0 8v1m0 27v1m0 19v1M12 8v1m0 28v1m0 44v1m0 2v1M13 6v1m0 2v1m0 29v1m0 8v1m0 30v1m0 1v1M14 80v1m0 8v1m0 7v1M15 36v1m0 14v1m0 39v1M16 0v1m0 7v2m0 22v2m0 17v1m0 4v1m0 31v1m0 2v1m0 2v2m0 2v1M17 2v3m0 12v1m0 12v1m0 14v1m0 11v2m0 2v1m0 5v1m0 12v1m0 4v2m0 3v1m0 1v1M18 26v1m0 3v1m0 14v1m0 4v1m0 5v1m0 1v1m0 32v1M19 10v2m0 14v1m0 11v4m0 2v1m0 4v2m0 13v1m0 23v1m0 10v1M20 10v1m0 74v1M21 11v1m0 21v1m0 1v1m0 13v1M22 28v1m0 4v2m0 16v3m0 31v1m0 12v1M23 32v2m0 43v2m0 7v1M24 7v1m0 22v2m0 1v1m0 5v1m0 3v1m0 9v1m0 27v1m0 6v1M25 6v1m0 27v1m0 3v1m0 4v1m0 8v1M26 1v1m0 33v1m0 59v1M27 44v3m0 11v1m0 1v1m0 30v1m0 3v1M28 36v1m0 20v1m0 32v1M29 35v1m0 1v1m0 6v1m0 12v1m0 1v2m0 1v2m0 23v1m0 3v3M30 36v1m0 2v1m0 17v1m0 1v3m0 9v1m0 4v2m0 3v1m0 1v1M31 40v1m0 21v1m0 3v1m0 3v1M32 56v1m0 11v6m0 2v1m0 8v1m0 5v1M33 2v1m0 62v1m0 21v3M34 2v1m0 16v1m0 4v1m0 28v1m0 11v1m0 15v1m0 6v1M35 13v2m0 10v1m0 40v1m0 1v1m0 10v2m0 6v1m0 1v1M36 26v1m0 11v1m0 4v1m0 1v1m0 32v2M37 0v1m0 13v1m0 3v1m0 23v1m0 34v1m0 1v1m0 12v2m0 2v1M38 72v1m0 4v2m0 7v1m0 11v1M39 22v1m0 16v1m0 12v1m0 13v1m0 17v2M40 65v1m0 20v1M41 41v1m0 9v1m0 12v1m0 24v1m0 2v2M42 35v2m0 14v1m0 9v1m0 9v1m0 4v1m0 20v1M43 35v1m0 1v1m0 4v1m0 4v5m0 9v1m0 5v1m0 6v1M44 35v1m0 6v1m0 3v1m0 2v2m0 2v1m0 4v1m0 14v1m0 11v1M45 22v1m0 12v1m0 1v1m0 4v1m0 12v1m0 18v1m0 2v1m0 12v1m0 5v1M46 35v1m0 5v1m0 47v1m0 4v1M47 28v2m0 4v1m0 36v1M48 39v1m0 19v1m0 7v1m0 6v1m0 14v3M49 0v1m0 1v1m0 30v1m0 3v1m0 6v1m0 19v2m0 12v1m0 5v3M50 0v1m0 3v1m0 28v1m0 3v1m0 40v1m0 2v1m0 16v1M51 4v2m0 4v1m0 3v1m0 20v1m0 2v1m0 5v1m0 22v1m0 6v1M52 1v2m0 2v2m0 33v1m0 5v1m0 43v1M53 4v1m0 4v1m0 15v2m0 45v1M54 3v1m0 4v1m0 15v1m0 70v3M55 7v1m0 9v1m0 5v1m0 13v1m0 54v3M56 3v1m0 2v1m0 5v1m0 3v1m0 12v1m0 4v2m0 13v1M57 4v1m0 9v1m0 1v1m0 3v1m0 27v1m0 6v1m0 12v5m0 24v1m0 1v1M58 28v1m0 26v1m0 43v1M59 23v1m0 38v1m0 15v1M60 57v1m0 5v1m0 14v1M61 24v1m0 3v1m0 48v1m0 21v1M62 29v1m0 26v1m0 16v1m0 24v1M63 58v1m0 5v1m0 1v2m0 1v1m0 6v1M64 14v1m0 34v1m0 10v1m0 14v1m0 20v1M65 7v2m0 9v1m0 2v1m0 1v1m0 4v2m0 54v1m0 12v1M66 11v1m0 10v2m0 48v1m0 9v1m0 7v1M67 23v2m0 35v1m0 9v1m0 6v1m0 4v1m0 5v1m0 9v1M68 22v1m0 2v1m0 29v1m0 3v1m0 22v1m0 8v1m0 7v1M69 14v1m0 3v1m0 1v1m0 3v2m0 60v3M70 1v2m0 47v1m0 3v1m0 28v2m0 3v1m0 10v1M71 0v1m0 15v1m0 6v1m0 38v1m0 7v1m0 10v1m0 8v2M72 0v1m0 22v1m0 25v1m0 5v1m0 2v1m0 22v1m0 10v1M73 22v1m0 39v1m0 11v1m0 5v1m0 11v1M74 1v1m0 19v1m0 36v1m0 17v1m0 8v2m0 3v1M75 5v1m0 7v1m0 36v1m0 21v1m0 4v1M76 5v1m0 32v2m0 11v3m0 16v1m0 19v7M77 13v1m0 28v1m0 1v1m0 7v4M78 5v1m0 22v1m0 2v1m0 10v1m0 19v1m0 12v1M79 6v1m0 44v1m0 10v1m0 26v1M80 7v1m0 1v1m0 2v1m0 17v1m0 29v4M81 10v2m0 78v1M82 10v2m0 65v3m0 7v1m0 8v2M83 8v2m0 45v1m0 18v2m0 7v1m0 7v1M84 9v1m0 59v1m0 3v1m0 2v1m0 21v1M85 6v1m0 3v1m0 6v1m0 26v1m0 23v1m0 4v1m0 14v1M86 4v1m0 6v1m0 65v1m0 4v1m0 8v1m0 7v1M87 79v3m0 17v1M88 9v1m0 18v3M89 0v1m0 9v1m0 4v1m0 11v1m0 1v2m0 13v1M90 7v2m0 6v1m0 9v1m0 1v1m0 12v1m0 3v1M91 0v1m0 31v2m0 5v1m0 50v1M92 2v1m0 29v1m0 1v1m0 10v1m0 20v1m0 5v1m0 9v1M93 34v1m0 7v4m0 3v1m0 46v2M94 3v1m0 46v1m0 7v2M95 35v1m0 14v1m0 21v1M96 4v1m0 33v2m0 55v1M97 4v1m0 3v1m0 35v2m0 6v1m0 2v1m0 3v1m0 34v1m0 2v3M98 43v1m0 11v1m0 31v2M99 8v1m0 5v1m0 27v1m0 2v1m0 9v1m0 10v3m0 3v1"/><path stroke="#4c4c4c" d="M0 52v1m0 45v1M1 21v1m0 26v1m0 4v1m0 14v1m0 6v1m0 20v1M2 20v1m0 9v1m0 9v1m0 12v2m0 12v1m0 10v1m0 3v1m0 4v1M3 19v1m0 10v1m0 11v1m0 2v1m0 3v1m0 2v1m0 33v1m0 5v1M4 18v1m0 29v1m0 3v1m0 37v1M5 0v1m0 16v1m0 19v1m0 6v1m0 1v2m0 11v1m0 16v1M6 21v1m0 23v1m0 14v1m0 14v1m0 7v1M7 6v2m0 6v1m0 24v1m0 1v1m0 4v3m0 2v1m0 5v1m0 3v1m0 21v1m0 2v1M8 37v1m0 58v1M9 21v1m0 15v1m0 3v1m0 27v1m0 7v1m0 18v1M10 37v1m0 33v2m0 23v2M11 15v1m0 21v1M12 7v1m0 1v1m0 9v1m0 18v1m0 9v1m0 31v2m0 14v1M13 37v1m0 42v1m0 9v1m0 6v1M14 6v1m0 19v1m0 13v1m0 10v1m0 39v1m0 7v1M15 15v1m0 10v1m0 16v1m0 44v1m0 10v1M16 36v1m0 7v1m0 10v1m0 8v2m0 26v2M17 22v4m0 5v2m0 18v1m0 4v1m0 2v2m0 1v1m0 19v1m0 8v1m0 6v1M18 22v2m0 7v1m0 48v1m0 4v1m0 3v2M19 23v1m0 13v1m0 13v1m0 3v1m0 29v1m0 3v2M20 12v1m0 10v3m0 10v1M21 12v1m0 9v1m0 11v1m0 49v1M22 48v3m0 14v1M23 44v1m0 8v1M24 5v1m0 26v1m0 43v1m0 5v1m0 12v1M25 0v1m0 7v1m0 22v1m0 10v1m0 1v1m0 45v1m0 4v1M26 7v2m0 29v1m0 4v2m0 2v4m0 19v1M27 9v1m0 21v1m0 11v1m0 15v1m0 3v1M28 30v2m0 5v1m0 20v6m0 21v2m0 2v1m0 4v1M29 34v1m0 23v1m0 2v1m0 2v1m0 7v1m0 11v1M30 3v1m0 31v1m0 22v1m0 11v1m0 20v1m0 1v1M31 2v1m0 33v1m0 20v1m0 11v1m0 21v2M32 2v1m0 60v1m0 10v1m0 8v1m0 8v1M33 20v3m0 24v1m0 8v1m0 7v1m0 4v1m0 12v1m0 7v2M34 18v1m0 28v1m0 6v1m0 9v1m0 22v1m0 1v1M35 15v1m0 2v1m0 21v1m0 3v2m0 18v2m0 12v1m0 7v1m0 3v1M36 1v1m0 16v1m0 8v1m0 9v1m0 1v1m0 27v9m0 1v1m0 2v1m0 10v1M37 4v1m0 7v1m0 17v1m0 37v1m0 4v2m0 1v1M38 0v1m0 4v1m0 18v2m0 6v1m0 12v1m0 21v1m0 8v1m0 2v1m0 2v2m0 1v1m0 13v1M39 6v1m0 12v1m0 13v1m0 4v1m0 1v1m0 1v2m0 11v1m0 16v1m0 4v1m0 5v1M40 25v1m0 11v1m0 3v1m0 16v1m0 5v1m0 7v1M41 23v1m0 11v2m0 23v1m0 11v1m0 4v2m0 9v1M42 42v1m0 5v3m0 13v1m0 7v1m0 18v1m0 6v2M43 36v1m0 29v1m0 1v1m0 4v1m0 11v2M44 36v2m0 7v1m0 5v2m0 6v1m0 18v1m0 7v1m0 4v1M45 27v1m0 8v1m0 6v4m0 7v1m0 18v1m0 12v1M46 26v1m0 3v1m0 11v1m0 12v1m0 14v1m0 3v1m0 12v2M47 21v1m0 13v1m0 25v2m0 9v2M48 0v1m0 20v1m0 14v1m0 3v3m0 38v1M49 3v1m0 71v1m0 11v1M50 5v1m0 39v1m0 12v1m0 6v1m0 9v1m0 1v1m0 15v2m0 2v1M51 0v1m0 5v1m0 17v1m0 9v1m0 10v2m0 8v3m0 33v1M52 3v2m0 20v2m0 11v1m0 4v1m0 3v1m0 6v1m0 19v1M53 1v3m0 4v1m0 29v1m0 2v2m0 3v2m0 5v1m0 17v1m0 1v1M54 2v1m0 12v1m0 22v1m0 14v1m0 11v1m0 24v1m0 8v1M55 8v2m0 6v1m0 5v1m0 31v1m0 36v1m0 3v1M56 30v4m0 2v1m0 30v1m0 28v3M57 5v1m0 13v1m0 1v1m0 7v1m0 17v1M58 15v1m0 6v1m0 23v1m0 1v1m0 4v1m0 20v1m0 22v1M59 0v1m0 27v1m0 20v1m0 29v1m0 18v2M60 2v1m0 25v1m0 29v1m0 39v2M61 56v1m0 6v1m0 14v1m0 18v1M62 0v1m0 22v1m0 53v1m0 19v1m0 1v1M63 3v2m0 17v1m0 36v1m0 26v6m0 5v1M64 2v1m0 3v1m0 11v2m0 1v1m0 2v1m0 51v1m0 8v1m0 11v1M65 2v1m0 16v1m0 55v1m0 7v1M66 6v1m0 55v1m0 8v1m0 4v1m0 21v1M67 13v1m0 8v1m0 29v1m0 25v1m0 12v1m0 7v1M68 26v1m0 42v1m0 9v1m0 8v1M69 19v1m0 32v8m0 22v1m0 6v2M70 0v1m0 2v1m0 3v1m0 6v1m0 9v1m0 23v2m0 19v1m0 12v1M71 3v1m0 13v2m0 14v1m0 14v1m0 10v1m0 29v1m0 8v1M72 19v1M73 0v3m0 46v1m0 35v1m0 5v1m0 6v1M74 2v2m0 8v2m0 5v1m0 53v1m0 5v1M75 21v1m0 22v1m0 41v1m0 2v1M76 11v1m0 16v2m0 10v1m0 1v1m0 7v1m0 18v1m0 1v1m0 17v1m0 7v1M77 5v1m0 13v2m0 6v1m0 2v1m0 5v1m0 14v1m0 10v2M78 10v1m0 2v1m0 21v1m0 15v1m0 12v1m0 9v1m0 1v2M79 9v1m0 32v1m0 18v1m0 2v1m0 15v1m0 4v4m0 1v1M80 8v1m0 10v1m0 32v1m0 11v1M81 7v1m0 1v1m0 8v2m0 13v1m0 15v2m0 2v1m0 8v1m0 9v1M82 7v1m0 1v1m0 39v2m0 11v1m0 25v3m0 4v1m0 2v1M83 14v1m0 25v2m0 7v1m0 4v1m0 8v1m0 26v1m0 7v1M84 8v1m0 8v1m0 10v2m0 13v1m0 11v1m0 7v1m0 11v1m0 7v1m0 4v2M85 7v1m0 68v1m0 10v1m0 11v1M86 5v3m0 48v1m0 32v2M87 8v1m0 32v1m0 22v1m0 32v2M88 16v1m0 10v1m0 3v1m0 9v1m0 57v1M89 26v1m0 4v1m0 41v1m0 25v1M90 0v1m0 13v1m0 9v1m0 6v2M91 9v2m0 3v2m0 7v1m0 48v1m0 16v1m0 1v1M92 3v2m0 15v6m0 5v1m0 3v3m0 8v1m0 49v2M93 20v2m0 9v3m0 31v1m0 7v1m0 21v1M94 8v2m0 20v1m0 3v1m0 6v1m0 3v1m0 18v1m0 9v1m0 11v1m0 8v1M95 4v1m0 36v1m0 9v1m0 5v1m0 7v4m0 7v2m0 3v1m0 13v1M96 6v1m0 30v1m0 2v1m0 4v1m0 2v1m0 8v1m0 12v1m0 11v1M97 7v1m0 1v1m0 36v1m0 11v1m0 1v1m0 24v2M98 6v3m0 24v1m0 18v1m0 12v2m0 3v1m0 5v1m0 9v1M99 7v1m0 3v1m0 1v1m0 1v1m0 9v1m0 5v2"/><path stroke="#545454" d="M0 22v1m0 5v2m0 4v1m0 34v1m0 11v1m0 11v1m0 3v1m0 1v1M1 2v1m0 31v1m0 41v2m0 16v2m0 3v1M2 19v1m0 19v1m0 9v1m0 2v1m0 15v1M3 0v1m0 17v1m0 14v1m0 4v1m0 12v1m0 17v1m0 13v1M4 17v1m0 19v1m0 6v2m0 3v1m0 35v1M5 16v1m0 28v1m0 2v1m0 36v1m0 8v1M6 1v1m0 31v1m0 2v1m0 9v2m0 3v1m0 6v1m0 10v1m0 15v1m0 3v1M7 1v1m0 2v2m0 2v1m0 31v1m0 8v2m0 7v1m0 1v1m0 28v1m0 5v1M8 6v3m0 29v1m0 2v1m0 32v1m0 3v1m0 8v2m0 10v1M9 22v2m0 74v1M10 21v1m0 2v1m0 13v2m0 10v1m0 1v1m0 42v1M11 8v2m0 28v1m0 56v1m0 1v1M12 6v1m0 11v1m0 6v1m0 51v3m0 15v1m0 1v1M13 38v1m0 10v1m0 2v1m0 36v1m0 1v1m0 4v1m0 1v1M14 37v1m0 14v1M15 52v2m0 42v1M16 1v1m0 5v1m0 9v1m0 4v2m0 1v1m0 28v1m0 31v2m0 11v1M17 9v1m0 23v3m0 19v1m0 25v1M18 5v1m0 4v1m0 5v1m0 7v2m0 25v1m0 3v1m0 3v4m0 3v1m0 17v1M19 0v1m0 2v1m0 18v1m0 1v2m0 6v1m0 9v2m0 8v1m0 1v1m0 26v1M20 22v1m0 10v1m0 48v1m0 1v1M21 23v1m0 2v1m0 56v1M22 11v2m0 70v2M23 4v3m0 38v3m0 4v1m0 11v1m0 18v1m0 1v1m0 10v1M24 44v1m0 7v1m0 27v1m0 6v1M25 1v1m0 30v2m0 7v1M26 9v1m0 21v1m0 10v1m0 2v2m0 49v1M27 8v1m0 1v1m0 19v1m0 40v1m0 24v1M28 2v1m0 6v1m0 25v1m0 28v1m0 3v1m0 3v1m0 14v1M29 3v1m0 27v3M30 34v1m0 30v1m0 16v1m0 9v1M31 45v1m0 12v4m0 5v2m0 24v1M32 75v1m0 8v1m0 8v1M33 19v1m0 15v1m0 27v1m0 6v1m0 6v1m0 8v1m0 5v1M34 35v1m0 19v1m0 7v1m0 5v1m0 8v1m0 7v1m0 3v1M35 2v1m0 60v1m0 5v1m0 11v1M36 12v1m0 3v2m0 22v1m0 1v1m0 20v2m0 11v1m0 9v1M37 1v1m0 3v1m0 9v1m0 22v4m0 25v1m0 7v1m0 4v2m0 4v1M38 4v1m0 1v1m0 5v1m0 5v1m0 19v2m0 1v1m0 31v1m0 1v1m0 4v2m0 2v1M39 5v1m0 1v1m0 15v1m0 17v1m0 22v2m0 10v1m0 1v1M40 21v2m0 11v1m0 7v1m0 20v1m0 21v1M41 42v1m0 5v1m0 1v1m0 10v1m0 1v1M42 47v1m0 14v2m0 11v1m0 3v1M43 46v1m0 15v1m0 2v1m0 3v2m0 1v1m0 6v1m0 11v1m0 5v1M44 43v2m0 15v1m0 11v1m0 11v1m0 12v1M45 28v1m0 1v1m0 16v3m0 6v1m0 26v1m0 5v1m0 7v1M46 0v1m0 42v1m0 10v1m0 14v1m0 1v3m0 1v1M47 0v1m0 39v1m0 14v1m0 4v1m0 7v1m0 5v1m0 18v1M48 1v1m0 41v1m0 13v2m0 5v1m0 10v1m0 16v1M49 4v1m0 17v1m0 35v1m0 18v1m0 10v1m0 2v1m0 7v1M50 6v1m0 5v1m0 10v1m0 12v1m0 9v2m0 9v1m0 6v1m0 11v1m0 5v1m0 9v1m0 2v2M51 15v1m0 31v1m0 18v1m0 8v1m0 2v3M52 0v1m0 6v1m0 1v1m0 14v1m0 14v1m0 5v1m0 24v1M53 24v1m0 20v1m0 43v1M54 46v1m0 4v2m0 18v2M55 2v1m0 47v2m0 14v1m0 5v1m0 23v3M56 48v1m0 2v1m0 19v2m0 22v1M57 3v1m0 13v2m0 27v1m0 5v1m0 43v1M58 16v1m0 28v1m0 1v1m0 6v1m0 20v1m0 3v2M59 1v2m0 57v2m0 18v1M60 62v1m0 16v1m0 12v1M61 57v1M62 1v1m0 28v1m0 18v1m0 7v2m0 4v1m0 7v2m0 8v1M63 13v1m0 78v2m0 2v1m0 1v1M64 10v1m0 4v1m0 1v1m0 2v1m0 5v1m0 47v1M65 20v1m0 41v1m0 11v1m0 1v1m0 5v1m0 15v1M66 2v1m0 4v2m0 1v1m0 7v1m0 2v1m0 28v1m0 19v1M67 3v2m0 20v1m0 25v1m0 1v2m0 24v1m0 9v2M68 21v1m0 30v1m0 1v1m0 34v1M69 1v3m0 22v1m0 24v1m0 28v1M70 6v1m0 1v1m0 16v1m0 33v2m0 20v1m0 3v1m0 1v1M71 7v1m0 6v1m0 9v1m0 9v1m0 12v1m0 34v3m0 3v1M72 3v1m0 10v1m0 9v1m0 8v1m0 22v2m0 5v1m0 27v1m0 6v1M73 3v1m0 9v1m0 5v1m0 3v1m0 62v1m0 12v1M74 4v2m0 43v1m0 12v1m0 7v1m0 16v1m0 1v1M75 6v1m0 36v1m0 1v1m0 3v1m0 8v1m0 17v1m0 1v1m0 6v1m0 1v2M76 18v1m0 2v1m0 5v1m0 9v1m0 3v1m0 4v1m0 10v1m0 14v1m0 25v1M77 18v1m0 26v1m0 10v1m0 12v1m0 5v2M78 19v2m0 11v3m0 8v1m0 6v1m0 10v1m0 16v1M79 7v2m0 10v2m0 7v1m0 21v1m0 6v1m0 15v1m0 7v2m0 1v1m0 6v1M80 18v1m0 1v1m0 20v1m0 8v2m0 13v1m0 25v1M81 8v1m0 3v1m0 4v1m0 13v2m0 1v1m0 4v1m0 23v3m0 25v1m0 5v1M82 8v1m0 3v1m0 5v2m0 43v1m0 27v4M83 15v3m0 11v1m0 20v1m0 19v1m0 13v1m0 1v4M84 26v2m0 11v1m0 9v2m0 23v1m0 12v1M85 39v1m0 9v2m0 4v1m0 7v1m0 11v1m0 7v1M86 17v1m0 22v1m0 11v2m0 8v1m0 3v1m0 7v1m0 1v1m0 11v1M87 52v2m0 24v1m0 3v1m0 12v2M88 10v1m0 3v1m0 48v1m0 19v1M89 16v1m0 15v1M90 11v1m0 4v1m0 11v1m0 35v1m0 24v4m0 6v1M91 6v1m0 1v1m0 2v1m0 1v1m0 2v1m0 4v2m0 4v1m0 3v1m0 2v1m0 10v1m0 46v1M92 9v2m0 5v4m0 6v1m0 20v2m0 36v1m0 3v2m0 4v1m0 2v2M93 3v1m0 5v1m0 8v2m0 2v1m0 7v1m0 55v1M94 4v1m0 2v1m0 21v1m0 1v1m0 10v3m0 12v1m0 2v1m0 14v2m0 3v1M95 5v2m0 27v1m0 10v1m0 6v2m0 32v1M96 5v1m0 18v2m0 9v2m0 4v1m0 2v1m0 6v1m0 3v1m0 13v1m0 1v1m0 5v1m0 8v1M97 5v2m0 26v2m0 8v1m0 12v2m0 12v1m0 5v2m0 6v1m0 8v1M98 9v1m0 4v1m0 7v1m0 11v1m0 7v1m0 3v1m0 9v1m0 7v1m0 2v3m0 1v1m0 3v1m0 1v1m0 7v1M99 12v1m0 9v1m0 7v1m0 2v1m0 12v1m0 9v1m0 16v4m0 5v2m0 1v1"/><path stroke="#646464" d="M0 2v1m0 18v1m0 18v1m0 3v1m0 6v1m0 30v1m0 13v1M1 39v2m0 3v1m0 4v1m0 37v1M2 2v1m0 13v2m0 16v1m0 6v1m0 2v1m0 5v1m0 18v1m0 6v1m0 6v1m0 2v1M3 15v1m0 59v2m0 7v1M4 33v1m0 41v1M5 1v1m0 31v1m0 15v2m0 23v1M6 3v4m0 7v1m0 19v2m0 13v2m0 33v1m0 9v1M7 69v1M8 9v1m0 30v1m0 28v1M9 7v1m0 1v1m0 29v1m0 31v2m0 13v1m0 12v1M10 7v1m0 2v1m0 11v2m0 63v1m0 2v1m0 7v1M11 6v1m0 3v1m0 10v1m0 2v1m0 27v1m0 25v1m0 3v2m0 1v1m0 3v2M12 5v1m0 4v1m0 6v1m0 6v1m0 24v1m0 39v1m0 1v1M13 5v1m0 82v1m0 6v1M14 10v1m0 11v1m0 15v2m0 46v1m0 5v1M15 6v1m0 7v1m0 6v1m0 1v1m0 13v1m0 48v2m0 5v3M16 21v1m0 2v1m0 18v1M17 7v1m0 6v1m0 6v1m0 31v1M18 6v1m0 1v1m0 6v1m0 5v1m0 14v1m0 1v1m0 13v3m0 10v1M20 0v1m0 8v1m0 24v1M21 13v1m0 7v1m0 2v1M22 3v2m0 9v3m0 50v1M23 2v1m0 11v1m0 3v1m0 2v1m0 27v2m0 46v2M24 1v1m0 2v1m0 13v1m0 27v1m0 1v1m0 28v1m0 1v1m0 6v1m0 9v1M25 9v1m0 5v5m0 20v1m0 7v1m0 2v1m0 11v1m0 12v1m0 19v1M26 11v1m0 6v2m0 10v1m0 1v1m0 1v1m0 34v1m0 20v1M27 2v1m0 15v1m0 13v1m0 9v1m0 26v2m0 5v1M28 7v1m0 26v1m0 3v1m0 32v1m0 4v1m0 7v1m0 10v1M29 4v1m0 3v2m0 58v1M30 5v1m0 25v1M31 4v1m0 30v1M32 3v1m0 16v1m0 14v1M33 17v1m0 6v1m0 20v2m0 15v1m0 30v1M34 15v2m0 45v1m0 7v1m0 6v1M35 3v1m0 8v1m0 13v1m0 8v1m0 5v1m0 1v1m0 3v2m0 13v1m0 7v3m0 3v1m0 14v1M36 5v1m0 23v2m0 31v1m0 29v2m0 2v1m0 2v1M37 32v1m0 29v1m0 1v3m0 18v1m0 13v1M38 3v1m0 3v1m0 5v1m0 19v1m0 3v1m0 24v1m0 1v2M39 8v1m0 15v1m0 20v2m0 15v1m0 10v2m0 4v1m0 1v1M40 5v1m0 2v1m0 26v1m0 7v1m0 3v1m0 12v1m0 13v3M41 74v2m0 9v1M42 22v1m0 20v1m0 2v1m0 38v1m0 1v1M43 45v1m0 17v2M44 0v1m0 21v1m0 44v1m0 1v1m0 1v1M45 51v2m0 16v3m0 16v1M46 21v1m0 23v1m0 7v1M47 43v1m0 13v3m0 15v1M48 20v1m0 14v1m0 8v1m0 31v2m0 15v1M49 5v1m0 28v1m0 11v2m0 2v3m0 3v1m0 36v1M50 35v1m0 13v7m0 27v1m0 1v2m0 3v1M51 48v1m0 4v1m0 10v1M52 8v1m0 60v1m0 19v1M53 0v1m0 43v1m0 6v1m0 13v1m0 18v1m0 2v2M54 16v2m0 3v2m0 21v1m0 21v1m0 21v1M55 38v1m0 1v3m0 2v4m0 3v2m0 13v1m0 2v1m0 2v1M56 2v1m0 42v1m0 8v1m0 14v1m0 3v1m0 7v1m0 8v1M57 31v1m0 3v1m0 18v1m0 40v1M58 21v1m0 74v1M59 15v2m0 30v2M60 36v1m0 12v1m0 9v1m0 22v1m0 8v1m0 1v1M61 23v1m0 38v1m0 19v1m0 8v1m0 1v1M62 22v1m0 36v1m0 19v1m0 2v1m0 8v3M63 5v1m0 8v1m0 3v3m0 27v1m0 11v1m0 2v1m0 6v1m0 2v1m0 8v1m0 2v1m0 13v1M64 7v1m0 1v1m0 30v1m0 22v1m0 1v4m0 8v1m0 3v4M65 40v1m0 32v1m0 3v1m0 3v1M66 19v2m0 7v1m0 9v2m0 29v1M67 2v1m0 2v1m0 12v1m0 31v1m0 11v1M68 1v1m0 2v1m0 22v1M69 4v1m0 1v1m0 1v1m0 59v1M70 5v1m0 56v1M71 4v1m0 3v1m0 17v1m0 58v1m0 1v1M72 25v1m0 8v1m0 9v1m0 1v2m0 22v1m0 15v1m0 2v1m0 9v1M73 4v1m0 40v1m0 24v1m0 16v1m0 1v1M74 23v2m0 19v2m0 14v1m0 2v1m0 10v1m0 9v1M75 11v1m0 2v1m0 7v1m0 2v1m0 20v1m0 28v1M76 14v1m0 15v1m0 42v2m0 11v2M77 6v1m0 3v1m0 14v1m0 9v1m0 10v1m0 26v1m0 3v1m0 18v2M78 9v1m0 39v1m0 15v1m0 7v1m0 5v1m0 8v1m0 2v4M79 21v1m0 21v1m0 5v1m0 10v1m0 31v2M80 17v1m0 48v1m0 5v1m0 20v1m0 3v1M81 37v1m0 13v2m0 40v3M82 13v1m0 2v1m0 9v1m0 2v2m0 1v1m0 1v1m0 4v2m0 7v1m0 2v1M83 43v1m0 4v1m0 2v1m0 1v1M84 48v1m0 2v1m0 1v1M85 18v1m0 7v1m0 18v1m0 2v1m0 3v2m0 10v1M86 8v2m0 16v2m0 17v1m0 18v1m0 18v1M87 10v1m0 15v1m0 4v2m0 12v1m0 4v1m0 26v1m0 14v1M88 50v3m0 31v1m0 12v1M89 21v1m0 29v1m0 31v1m0 8v1M90 20v1m0 8v1m0 15v1m0 3v2m0 43v1m0 2v1M91 18v2m0 15v3m0 11v1m0 33v2m0 9v1M92 12v2m0 13v1m0 2v1m0 34v1m0 15v1m0 9v1m0 2v1M93 16v1m0 6v1m0 5v1m0 28v2m0 29v2m0 3v1M94 5v2m0 11v3m0 7v1m0 22v1m0 9v1m0 1v1M95 32v2m0 20v3m0 17v1m0 4v1M96 10v1m0 15v1m0 5v1m0 32v1m0 15v1m0 12v1M97 14v1m0 21v6m0 9v1m0 9v1m0 3v1m0 9v1m0 2v1m0 3v1m0 7v3M98 10v1m0 2v1m0 21v1m0 5v1m0 5v1m0 11v3m0 10v1m0 10v2M99 57v1m0 23v1"/><path stroke="#6c6c6c" d="M0 6v2m0 33v1m0 7v1m0 20v1m0 1v1m0 10v1M1 8v1m0 2v1m0 7v1m0 31v1m0 31v1M2 11v1m0 3v1m0 57v1m0 11v1M3 1v1m0 68v1m0 3v1M4 15v1m0 20v1m0 34v1m0 1v2m0 18v1M5 8v1m0 62v3M6 70v1m0 2v1M7 9v1m0 63v1M8 1v3m0 9v1m0 59v1m0 5v1m0 1v1m0 8v1M9 6v1m0 71v1m0 5v2m0 4v1M10 86v1m0 7v1M11 13v1m0 36v1m0 28v3m0 4v3m0 5v1m0 3v1M12 15v2m0 4v1m0 65v2m0 5v1m0 3v1M13 10v1m0 8v3m0 2v1m0 62v1M14 15v1m0 5v1m0 1v1m0 1v1m0 61v1M15 25v1m0 15v1M16 2v1m0 3v1m0 30v1M17 6v1m0 11v1m0 18v1m0 26v2M18 7v1m0 25v1m0 1v1m0 3v5m0 20v1m0 16v1m0 1v1M19 5v1m0 2v1m0 12v1m0 11v1m0 48v2M20 21v1M21 25v1M22 2v1m0 7v1m0 6v1M23 0v2m0 5v1m0 3v3m0 5v2M24 2v2m0 10v1m0 4v1m0 31v1m0 17v1m0 8v1m0 5v2M25 2v1m0 7v1m0 3v1m0 34v1m0 19v1m0 10v1m0 2v1m0 3v1m0 1v1M26 2v1m0 30v1m0 7v1m0 34v1m0 9v1M27 6v1m0 4v1m0 52v1m0 1v1m0 20v1m0 9v1M28 3v1m0 16v1m0 12v1m0 31v2m0 3v1M29 5v3m0 21v1m0 9v1m0 3v1m0 21v1m0 13v2m0 2v1M30 29v2m0 35v1m0 1v1m0 25v1M31 27v1m0 13v1m0 52v1M32 19v1m0 2v1m0 18v1m0 3v1m0 12v1m0 2v1M33 14v3m0 8v1m0 15v1m0 16v1m0 15v1m0 1v1m0 8v1M34 41v1m0 29v4m0 7v1m0 9v1M35 4v1m0 37v1m0 15v1m0 26v1M36 31v1m0 50v1m0 2v1M37 6v1m0 4v1m0 24v1m0 24v1m0 21v2m0 13v1M38 2v1m0 49v1m0 1v1m0 6v1M39 4v1m0 6v1m0 22v1m0 16v1m0 5v5m0 18v1M40 20v1m0 25v1m0 1v1m0 12v1m0 21v1M41 43v1m0 2v1m0 32v1M42 88v2M43 0v1m0 21v1m0 21v1m0 39v1m0 5v1m0 7v2M44 62v1m0 7v1m0 8v1m0 8v2m0 8v1M45 1v1m0 55v1m0 10v1m0 29v1M46 46v1m0 1v3m0 10v2m0 5v1m0 9v1m0 17v3M47 2v1m0 41v1m0 8v1m0 22v3m0 2v1m0 12v1M48 3v1m0 44v3m0 4v1m0 42v2M49 6v1m0 13v2m0 13v1m0 19v1m0 41v1M50 7v1m0 2v1m0 6v1m0 66v1m0 4v1M51 8v2m0 6v1m0 6v1m0 28v1m0 12v1m0 16v1m0 2v2m0 2v1M52 48v1m0 3v1m0 14v2m0 7v2m0 6v1M53 23v1m0 24v1m0 21v1M54 48v2m0 20v1m0 12v5M55 1v1m0 37v1m0 3v2m0 37v2m0 5v1M56 7v1m0 29v1m0 14v1m0 29v1M57 32v1m0 1v1m0 1v1m0 16v1m0 25v1m0 11v1m0 2v1M58 14v1m0 2v1m0 1v2m0 9v1m0 13v1M59 22v1m0 6v1m0 14v1m0 37v1m0 9v1M60 3v1m0 11v2m0 12v1m0 5v1m0 1v1M61 30v1m0 4v1m0 13v1m0 46v1M62 2v1m0 28v1m0 58v1m0 3v2M63 0v2m0 10v1m0 19v1m0 8v1m0 36v1m0 1v1M64 8v1m0 30v1m0 8v1m0 13v1m0 6v1M65 37v1m0 26v1m0 13v1m0 20v1M66 27v1m0 1v1m0 7v1m0 26v1M67 1v1m0 4v2m0 19v1m0 9v1m0 25v1M68 0v1m0 19v1m0 29v1m0 17v1M69 5v1m0 21v1m0 21v1M70 27v1m0 4v1m0 13v1m0 9v2m0 5v1M71 5v1m0 7v1m0 13v1m0 16v1m0 11v2m0 28v1M72 4v1m0 1v2m0 4v1m0 3v1m0 1v1m0 68v2M73 5v1m0 9v1m0 9v1m0 18v1m0 3v1m0 32v1m0 6v1M74 7v1m0 10v1m0 6v1M75 24v1m0 1v4m0 12v1m0 5v1m0 12v1m0 1v1m0 10v1m0 4v1M76 22v1m0 1v1m0 11v1m0 10v2m0 12v1m0 16v1m0 6v1M77 14v1m0 2v1m0 4v1m0 1v1m0 6v1m0 2v1m0 14v1m0 18v1m0 2v2m0 5v1m0 9v1M78 7v1m0 18v1m0 17v1m0 41v2m0 7v2M79 17v1m0 9v1m0 30v2m0 6v1m0 27v3m0 2v1M80 13v1m0 7v1m0 6v1m0 13v1m0 51v3m0 1v2M81 16v1m0 12v1m0 6v1m0 11v1m0 50v1M82 15v1m0 5v1m0 3v1m0 1v2m0 2v1m0 9v1M83 21v1m0 2v1m0 8v2m0 31v1m0 2v1M84 19v1m0 32v1m0 12v1m0 1v1m0 16v2M85 25v1m0 4v1m0 34v2M86 28v3m0 8v1m0 8v1m0 37v1M87 11v2m0 4v1m0 15v1m0 6v1m0 14v5m0 2v1m0 12v2m0 11v2m0 1v1M88 11v1m0 21v1m0 11v1m0 7v1m0 20v1m0 6v1m0 11v1m0 2v1M89 22v1m0 1v1m0 8v1m0 6v1m0 4v1m0 3v1m0 34v1m0 4v3m0 1v1m0 3v1M90 17v1m0 16v1m0 4v1m0 48v1m0 6v2M91 28v1m0 1v1m0 15v3m0 39v1M92 6v2m0 80v1m0 3v2M93 5v1m0 1v1m0 3v1m0 16v1m0 45v1m0 12v2M94 17v1m0 3v1m0 34v1m0 5v1m0 24v1M95 28v1m0 33v2M96 31v1m0 40v1m0 2v1m0 3v2m0 6v1M97 10v1m0 4v1m0 32v1m0 30v1m0 1v1m0 6v2M98 16v1m0 14v1m0 4v1m0 3v1m0 33v1m0 3v1m0 3v1M99 16v1m0 9v1m0 8v1m0 4v1m0 6v1m0 10v1m0 1v1"/><path stroke="#747474" d="M0 8v4m0 3v2m0 18v1m0 3v1m0 2v2m0 6v1m0 43v1M1 7v1m0 7v4m0 22v1m0 8v1m0 19v1m0 1v1M2 8v1m0 5v1m0 23v1m0 3v2m0 26v1m0 13v1M3 9v1m0 4v1m0 19v1m0 2v1m0 33v1m0 1v1M4 1v1m0 70v1m0 18v1M5 2v1m0 4v1m0 26v2m0 54v1M6 71v2m0 17v1M7 13v1m0 76v1m0 3v1M8 80v1M9 0v1m0 4v1m0 4v1m0 72v1m0 10v1M10 6v1m0 4v2m0 65v1m0 5v2m0 5v1m0 7v1M11 5v1m0 5v1m0 10v2m0 27v1m0 39v1M12 4v1m0 9v1m0 7v2m0 26v2m0 47v1M13 22v2m0 68v1m0 1v1M14 0v1m0 4v1m0 8v1m0 5v1m0 72v1m0 1v1M15 1v1m0 15v1m0 6v1M16 3v2m0 13v1m0 23v1M17 11v1m0 31v1M18 34v1m0 47v1M19 6v2m0 27v1M20 1v1m0 1v2m0 8v1M21 0v1m0 2v1M22 0v2m0 3v1m0 14v1m0 6v1M23 10v1m0 17v1m0 36v1M24 9v3m0 1v1m0 6v1m0 28v2M25 11v1m0 38v1m0 35v1m0 1v1M26 15v3m0 21v1m0 41v2m0 2v1m0 1v1m0 9v1M27 20v1m0 13v1m0 49v1m0 3v2M28 5v2m0 11v1m0 23v1M29 10v1m0 8v2m0 19v1m0 26v1m0 9v2M30 9v1m0 18v1m0 12v1m0 25v1M31 5v1m0 14v1m0 7v1m0 5v1m0 9v1M32 4v1m0 13v1m0 4v1m0 2v2m0 31v2m0 33v1M33 4v1m0 8v1m0 30v1m0 30v1m0 7v1m0 15v1M34 4v1m0 7v1m0 13v1m0 16v1m0 15v1m0 15v2m0 8v1m0 12v1M35 30v2m0 17v1m0 7v1m0 1v1m0 22v1m0 9v1m0 5v1M36 32v1m0 2v1m0 25v1m0 35v2M37 33v1m0 1v1M38 10v1m0 23v1m0 1v1m0 23v1M39 1v1m0 7v2m0 1v1m0 22v2m0 10v1M40 0v1m0 3v1m0 4v1m0 34v1m0 5v1m0 28v1M41 5v2M42 0v1M43 88v2M44 66v1m0 16v1M45 61v2m0 19v1M46 2v1m0 44v1m0 3v2m0 4v1M47 48v3m0 1v1m0 11v1m0 2v1m0 30v1M48 4v1m0 40v3m0 3v4M49 19v1m0 33v2m0 39v1M50 87v2M51 49v1m0 1v1m0 31v2M52 23v1m0 41v2m0 11v1m0 1v4m0 3v2M53 16v1m0 33v1m0 15v1m0 8v1m0 7v1M54 0v1m0 66v1m0 6v1m0 7v1M55 68v2m0 14v1M56 40v2m0 2v1m0 8v1m0 26v1m0 2v1M57 2v1m0 10v1m0 19v1m0 10v1m0 29v1m0 7v1m0 9v2M58 0v1m0 1v1m0 15v1m0 16v1m0 46v1M59 17v1m0 17v2m0 54v1m0 1v1m0 2v1M60 38v1m0 6v1m0 15v1m0 21v1m0 12v1M61 15v1m0 6v1m0 11v1m0 1v1m0 22v1m0 23v1m0 6v1m0 3v1M62 3v1m0 10v1m0 6v1m0 10v1m0 1v1m0 27v1m0 20v4m0 2v1M63 15v1m0 1v1m0 15v2m0 5v1m0 38v1m0 3v2M64 1v1m0 30v3m0 3v1m0 2v1m0 31v1m0 25v1M65 1v1m0 23v2m0 9v1m0 28v1m0 2v3m0 1v1m0 6v2M66 1v1m0 23v1m0 10v1m0 3v1m0 8v1m0 18v1M67 0v1m0 7v1m0 3v1m0 7v1m0 7v1m0 7v1m0 1v2m0 24v1m0 3v1M68 5v1m0 1v1m0 5v1m0 5v1m0 41v1M69 48v1m0 12v1M70 9v1m0 3v1M71 31v1m0 32v1M72 5v1m0 20v1m0 4v1M73 6v2m0 10v1m0 13v2m0 12v1m0 36v1M74 11v1m0 34v1m0 1v1m0 31v1M75 7v1m0 15v1m0 23v1m0 11v1m0 24v1M76 17v1m0 5v1m0 34v1m0 9v1M77 23v1m0 8v2m0 13v2m0 8v1m0 29v1m0 10v2M78 8v1m0 8v1m0 4v1m0 25v1m0 8v1m0 2v1m0 7v2m0 10v1m0 4v1m0 11v1m0 1v1M79 26v1m0 40v1m0 29v2M80 16v1m0 10v1m0 39v1M81 13v1m0 7v1m0 4v1m0 14v1m0 25v1M82 14v1m0 37v1m0 14v1M83 22v1m0 8v2m0 11v1m0 7v1m0 14v2M84 20v1m0 3v1m0 6v1m0 2v1m0 10v1m0 20v1M85 47v1m0 36v2M86 18v1m0 6v1m0 5v4m0 49v2M87 34v1m0 14v1m0 10v2m0 22v1m0 2v1m0 2v1M88 17v1m0 3v1m0 3v1m0 28v1m0 33v1m0 3v1m0 1v2M89 12v2m0 3v1m0 2v1m0 2v1m0 58v1m0 5v1m0 5v3M90 19v1m0 28v1m0 2v1m0 11v1m0 9v1m0 9v2M91 29v1m0 20v1m0 34v1M92 28v2m0 20v1m0 35v1M93 6v1m0 8v1m0 8v4m0 29v1m0 2v1m0 2v1m0 15v1M94 11v1m0 10v1m0 4v1m0 66v1M95 18v1m0 7v2m0 59v1m0 6v1M96 22v1m0 4v1m0 2v1M97 13v1m0 13v1m0 3v1m0 30v1m0 1v1m0 7v1m0 7v1M98 27v1m0 2v1m0 6v1m0 1v1m0 11v1m0 21v1m0 7v1M99 28v1m0 7v2m0 21v1m0 18v1m0 1v1"/><path stroke="#7c7c7c" d="M0 3v1m0 1v1m0 6v3m0 5v1m0 50v1m0 12v1m0 2v1m0 7v1M1 12v1m0 1v1m0 20v1m0 6v2m0 40v1m0 1v1M2 12v2m0 58v1M3 10v1m0 61v1M4 14v1m0 19v2M5 3v1m0 10v1M6 9v1M7 70v1m0 1v1M8 70v3m0 21v1M9 12v1M10 83v1m0 9v1M11 0v1m0 11v1m0 86v1M12 0v1m0 91v1M13 0v1m0 3v1m0 10v1m0 2v1m0 74v1M14 1v1m0 14v1m0 7v1m0 69v1M15 20v1m0 17v1m0 1v1M16 5v1m0 5v1m0 8v1M17 19v2m0 20v2M18 12v1m0 1v1m0 3v1M19 34v1M20 2v1m0 5v1M21 1v2m0 1v1m0 4v1m0 4v2M22 6v1m0 11v1M23 8v1M24 12v1m0 51v1m0 32v1m0 1v1M25 4v1m0 7v2m0 6v1m0 63v2M26 5v1m0 6v1m0 1v1m0 5v1m0 19v1m0 27v1m0 11v1m0 2v2m0 4v1M27 17v1m0 15v1m0 5v1m0 1v1m0 23v1M28 4v1m0 6v1m0 27v1m0 56v1M29 66v1m0 14v1M30 6v1m0 1v1m0 11v1M31 9v1m0 9v1m0 1v1m0 4v1m0 2v1m0 1v3M32 17v1m0 6v2m0 2v1m0 15v1M33 26v1m0 32v1m0 1v1m0 22v1m0 9v1M34 30v2m0 2v1m0 26v1m0 31v1M35 5v1m0 21v1m0 4v1m0 28v1m0 31v5M36 11v1m0 35v1m0 36v1M37 34v1m0 25v1M38 17v1m0 17v1m0 11v1m0 11v1M39 3v1M40 10v1m0 34v1m0 3v1M41 0v1m0 3v1m0 2v2m0 75v1M42 44v2M43 80v1M44 63v1m0 1v1m0 33v1M45 58v1m0 1v1m0 18v1M46 60v1m0 2v1M47 3v1m0 16v1m0 24v3m0 3v1m0 27v2m0 16v1m0 1v1M48 5v1M49 7v1m0 88v1M50 8v2m0 8v1m0 3v1M51 50v1m0 36v1M52 16v1m0 34v1m0 27v1M53 49v1m0 19v1m0 12v1M54 69v1M55 74v1m0 6v1M56 1v1m0 9v1m0 27v1m0 2v2m0 40v1m0 4v1M57 6v1m0 71v1m0 4v1m0 6v1M58 1v1m0 29v1m0 4v1m0 46v1m0 7v3m0 1v1M59 4v1m0 13v4m0 8v1m0 6v1m0 5v1m0 39v1M60 17v1m0 4v1m0 7v1m0 3v1m0 4v3m0 2v1m0 1v1m0 13v1m0 33v1M61 16v1m0 14v1m0 1v1m0 6v2m0 42v1m0 10v1M62 15v1m0 4v1m0 12v1m0 1v1m0 5v1m0 6v1m0 11v1m0 26v2M63 16v1m0 30v1m0 13v2m0 8v2M64 35v1m0 1v1m0 40v1m0 1v1M65 31v1m0 3v1m0 30v2m0 3v1M66 26v1m0 38v1M67 19v1m0 29v1M68 6v1m0 1v1m0 27v2m0 11v1M69 13v1m0 20v2m0 26v1M70 28v1m0 2v1m0 3v1m0 28v1m0 3v1M71 9v1m0 18v1m0 6v1m0 7v1M72 8v1m0 8v1m0 9v1m0 15v1m0 20v1M73 11v1m0 14v1m0 20v1M74 15v1m0 10v1m0 16v1m0 3v1M75 17v1m0 12v1m0 7v1m0 21v1M76 35v1m0 28v1m0 14v1M77 60v1m0 4v1m0 13v1m0 5v2M78 14v1m0 10v1m0 40v2m0 4v1m0 9v3m0 13v1M79 48v1m0 19v1m0 3v1M80 26v1m0 21v1M81 25v1m0 1v2m0 42v1M82 22v1m0 1v1m0 10v1m0 2v1m0 3v1m0 27v1M83 23v1M84 21v1m0 1v1m0 9v1m0 13v1M85 19v1m0 4v1m0 6v1m0 1v2m0 3v1m0 7v1M86 46v2M87 25v1m0 59v2M88 13v1m0 6v1m0 13v1m0 5v1m0 8v1m0 12v1m0 17v1m0 4v1m0 1v1m0 1v1m0 1v1M89 52v1m0 32v1M90 18v1m0 16v2m0 9v1M91 64v1m0 17v1M92 64v1m0 8v1m0 13v1M93 12v3m0 46v2m0 28v1M94 16v1m0 6v1m0 28v1m0 35v3M95 17v1m0 1v2m0 2v3M96 14v2m0 12v2m0 32v1m0 1v1M97 16v1m0 4v1m0 27v2m0 12v1M98 11v2m0 8v1m0 6v2m0 8v1m0 9v1m0 30v2M99 21v1m0 5v1m0 10v2m0 8v1m0 2v1m0 27v1"/><path stroke="#838383" d="M0 4v1m0 12v1m0 20v1M1 3v1m0 9v1m0 24v1m0 32v1m0 13v1M2 35v1m0 35v1M3 2v1m0 5v1m0 4v1m0 21v2M4 2v1m0 5v2m0 82v1M5 4v1m0 1v1m0 2v1M7 71v1M9 4v1m0 6v1m0 70v1m0 8v1m0 1v1M10 0v1m0 4v1m0 73v1m0 2v1m0 9v1M11 4v1m0 87v2M12 1v1m0 1v1m0 89v1M13 1v1m0 12v1m0 1v2M14 19v1M15 11v1m0 1v1m0 4v2m0 19v1M16 13v1m0 5v1m0 21v1M17 38v1M18 20v1M19 13v1m0 2v1M20 5v3M21 16v1m0 3v1M22 19v1m0 3v1M23 9v1m0 56v1m0 1v1M24 98v1M25 3v1m0 73v1m0 1v1m0 17v1M26 13v1m0 50v1m0 2v1m0 20v1M27 5v1m0 10v1m0 23v1m0 57v1M28 29v1m0 10v2m0 57v1M29 41v2m0 39v1M30 7v1m0 2v1m0 8v1m0 23v1M31 8v1m0 13v1m0 7v1M32 5v1m0 3v1m0 6v1m0 17v1M33 12v1m0 14v1m0 6v1m0 8v1m0 16v1M34 5v1m0 26v2m0 8v1m0 17v1m0 33v1M35 28v2m0 3v2m0 25v1M36 33v2m0 23v3m0 22v1M37 47v1m0 11v1M38 8v1m0 5v1m0 40v1m0 2v1M39 2v1M40 3v1m0 78v1M41 9v1m0 11v1m0 22v2M42 84v1M44 1v1m0 62v1m0 15v1M45 59v1m0 3v1m0 3v1M46 58v2m0 19v1m0 1v1m0 17v1M47 95v1M48 6v1m0 87v1m0 2v1M49 8v1m0 8v2m0 76v1M50 19v2M51 17v1m0 70v1M52 49v1M53 17v1m0 4v1m0 44v2m0 7v1m0 4v1M54 68v1M55 0v1m0 84v1m0 2v1M56 38v1m0 35v1M57 37v1m0 3v1m0 33v1m0 1v1m0 6v1M58 5v1m0 26v1m0 1v1m0 8v1m0 40v1m0 9v1M59 31v1m0 2v1m0 3v1m0 3v1m0 41v1m0 9v2M60 18v4m0 9v1m0 1v1m0 8v2m0 3v2m0 35v1m0 5v1m0 4v1M61 3v1m0 10v1m0 2v1m0 3v1m0 10v1m0 4v3m0 20v2M62 4v1m0 8v1m0 2v4m0 20v1m0 1v1m0 18v1M63 35v1m0 3v1m0 2v1M64 0v1m0 35v1m0 10v1m0 22v1m0 8v1M65 34v1m0 6v1m0 6v1M66 0v1m0 34v1m0 30v2M67 9v1m0 25v1m0 4v1m0 24v3M68 28v1m0 6v1m0 2v2m0 22v2m0 3v1M69 9v1m0 18v1m0 4v1m0 2v1m0 10v1m0 15v1m0 3v1M70 45v1M71 12v1m0 16v2m0 38v1M72 11v1M73 16v1m0 14v1m0 2v1m0 8v1m0 20v1m0 17v1M74 17v1m0 9v1m0 41v1M75 15v1m0 21v1m0 1v1m0 1v1M76 7v1m0 2v1m0 4v2m0 14v1m0 27v2m0 23v1M77 7v1m0 8v1m0 50v1m0 16v1M78 23v2m0 20v1m0 1v1m0 22v1m0 10v1M79 14v1m0 1v1m0 5v1M80 43v1M81 14v2m0 26v1M82 23v1m0 19v1m0 3v1M83 38v1m0 6v1m0 1v1M84 22v1m0 9v1m0 5v1m0 7v1M85 32v1M86 19v1m0 15v1M87 35v1m0 12v1M88 12v1m0 9v1m0 1v1m0 30v1m0 23v1m0 6v1m0 3v1M89 34v2m0 51v1M90 37v2m0 8v1m0 37v1M91 51v1M92 80v1M93 51v1m0 23v1m0 2v1m0 14v1M94 25v2m0 28v1M95 11v1m0 4v1m0 4v2m0 65v1M96 13v1m0 2v6m0 41v1m0 9v2m0 13v2M97 28v3m0 43v1M98 17v1M99 17v1"/><path stroke="#8b8b8b" d="M0 18v2m0 16v1M1 6v1M5 5v1m0 87v1M6 13v1M8 10v1m0 1v1m0 78v1M9 1v1m0 1v1m0 75v1m0 12v1M10 80v2M12 2v1m0 8v1m0 1v1M13 2v2M14 11v1m0 5v2M15 2v1m0 2v1M16 38v1M17 12v2m0 25v2M18 13v1m0 5v1M19 15v1m0 1v1M21 5v1m0 11v1M22 7v1m0 1v1M23 22v1m0 44v1M25 78v1m0 20v1M26 3v1m0 94v1M27 3v1m0 8v1m0 2v1m0 64v2m0 1v1m0 15v1M28 17v1m0 59v1m0 5v1m0 13v1M29 18v1m0 76v1M30 21v1m0 20v1M31 6v1m0 3v1m0 7v1m0 6v1m0 16v1M32 10v1m0 4v1m0 13v1m0 12v1m0 56v1M33 5v1m0 5v1m0 16v4m0 10v1m0 55v1M34 11v1m0 15v1m0 1v1m0 53v2m0 10v1m0 1v1M35 11v1m0 38v1m0 5v1m0 26v2M36 6v1M37 7v1m0 2v1m0 47v1M38 9v1m0 47v1M39 48v1M40 1v1m0 78v2M41 3v1M42 80v1M44 82v1M45 2v1m0 18v1m0 58v2m0 17v1M46 3v1m0 63v1M47 4v2m0 59v2m0 29v1M48 7v1m0 11v1M49 16v1M50 21v1M51 22v1M52 22v1m0 27v1M53 18v4M54 75v1m0 5v1M55 86v2M56 0v1M57 0v2m0 38v1m0 1v2m0 32v1M58 33v1m0 3v1m0 52v1M59 14v1m0 24v3M60 14v1m0 17v1M61 18v3m0 21v1m0 2v1m0 2v1m0 36v1M62 36v1m0 10v1M63 36v1m0 9v1M64 72v1M65 0v1M66 30v1M67 29v1M68 40v1m0 23v1m0 1v1M69 37v1m0 26v1M70 29v2m0 5v1m0 6v2M71 10v2M72 9v2m0 17v1m0 1v1m0 4v1M73 8v1m0 8v1m0 9v1M74 8v1m0 7v1m0 11v5m0 50v1M75 16v1m0 14v1m0 4v1m0 3v1m0 23v1m0 3v1m0 11v1M76 32v3M77 9v1m0 5v1m0 42v2M78 16v1m0 29v1m0 11v2m0 11v1M79 25v1m0 18v1m0 24v1M80 14v2m0 6v1m0 2v1m0 42v1M81 22v1m0 24v1m0 20v1M82 44v3m0 21v1M83 35v1m0 10v1M84 35v1M85 20v1m0 2v1m0 11v1M86 24v1m0 13v1M87 18v1m0 1v2m0 17v1m0 6v1M88 23v1m0 11v1m0 10v1m0 9v1M89 18v2m0 16v1m0 9v1m0 1v1m0 4v1m0 8v1m0 23v1M90 52v1m0 29v1m0 4v1M91 86v2M92 58v3m0 2v1M93 56v1m0 35v1M94 12v1m0 2v1m0 8v1m0 28v2M95 15v1m0 73v2M96 11v1m0 78v1m0 2v1M97 11v2m0 4v4m0 52v1M98 18v1m0 1v1m0 28v2M99 49v1"/><path stroke="#939393" d="M0 37v1m0 47v2M1 36v2M2 3v1m0 3v1m0 29v1M3 11v1M4 3v1M6 93v1M7 10v1m0 80v1m0 1v1M8 93v1M9 2v1m0 77v2M10 4v1M11 1v1m0 1v1M12 12v1M13 11v1m0 1v1M14 2v1m0 1v1m0 8v1M15 12v1M16 12v1m0 26v2M19 14v1m0 5v1M20 14v1m0 5v1M21 6v3M22 8v1M24 21v1M25 29v1m0 34v1m0 3v1m0 29v1M26 4v1m0 72v1m0 1v1m0 19v1M27 4v1m0 9v1m0 62v1m0 4v1M28 79v2m0 17v1M29 11v1m0 9v1m0 77v1M30 18v1m0 8v1M31 7v1m0 15v1m0 19v1M32 6v1m0 1v1m0 2v1m0 1v2m0 15v4m0 9v1M33 10v1m0 21v2m0 61v1M34 28v1m0 67v1M35 55v1M38 51v1m0 4v1M39 18v1m0 31v1M40 2v1m0 8v1M41 80v1M42 4v3m0 1v1M43 83v1M44 81v1M45 64v1m0 1v1M46 4v3m0 57v1m0 15v1M47 6v3M48 8v1m0 86v2M49 9v1M51 18v3M52 17v1M53 77v1M55 80v1M56 8v1m0 70v1m0 5v1M57 39v1m0 45v1m0 3v1M58 40v3m0 42v1M59 32v2m0 51v1m0 4v1M60 85v1M61 43v2m0 1v2m0 41v1M62 39v1m0 3v1m0 2v1M63 6v1m0 4v1m0 25v2M64 42v1m0 3v1m0 24v1M65 32v2M67 10v2M68 9v1m0 24v1m0 6v1m0 6v1m0 16v1M69 29v1m0 2v1m0 5v1m0 26v2M70 10v1m0 1v1m0 52v1M71 65v1M72 29v1M73 10v1m0 19v1M74 33v1m0 30v1M75 8v1m0 1v1m0 21v1M76 80v1M77 8v1m0 57v1m0 13v1m0 2v1M78 15v1M79 15v1m0 31v1M80 71v1M81 24v1m0 18v1M82 36v2m0 31v1M85 21v2M86 20v2m0 1v1M87 19v1m0 2v3m0 22v1M88 19v1m0 16v1m0 11v1m0 8v1m0 17v1m0 2v1M89 39v1m0 7v1M90 62v1m0 23v1M91 63v1m0 9v1M92 51v1m0 9v2M93 76v2M94 13v2m0 76v1M95 12v3M96 12v1m0 78v1M98 19v1M99 18v1m0 1v1m0 29v1"/><path stroke="#9b9b9b" d="M1 4v2M2 36v1M3 12v1M4 7v1m0 5v1M5 91v1M6 91v1M8 11v1m0 80v1M10 1v1m0 1v1M11 2v1M14 3v1m0 8v1M15 3v2M19 18v1M20 15v2M21 18v2M24 65v1m0 2v1M26 65v2m0 11v1M27 13v1m0 65v1M28 16v1m0 61v1m0 2v2M30 99v1M31 17v1m0 6v1m0 74v1M32 7v1m0 4v1m0 82v1M33 6v1m0 2v1m0 87v1M34 6v1M35 6v1m0 44v4M36 57v1M38 15v2M41 1v2m0 7v1m0 72v1M42 1v1m0 5v1m0 1v1M43 1v1m0 6v1M44 8v1M45 5v4m0 56v1M46 7v2M49 10v1M51 21v1M52 18v4M53 78v1m0 1v1M55 75v1M56 75v1m0 12v1M57 38v1M58 38v2M60 4v1M61 86v1M62 37v2m0 5v2M63 43v1m0 1v1M65 47v1M66 34v1m0 6v1m0 6v1M67 34v1m0 6v1m0 6v1M68 29v1M69 30v2m0 7v4m0 3v1M70 11v1m0 25v1m0 4v1m0 23v2M71 36v1M73 9v1m0 18v2m0 5v1M74 10v1m0 23v1m0 7v1m0 38v1M75 33v3m0 47v1M76 8v1m0 56v1m0 1v1m0 15v1M77 81v2M79 23v2m0 45v2M80 44v1m0 2v1M81 23v1m0 20v1m0 1v1m0 23v1M85 36v2M86 22v1m0 13v2M87 36v1M88 18v1m0 28v1m0 10v1m0 2v1M89 37v1m0 36v1m0 6v1M91 52v1m0 9v1m0 18v1M92 57v1M93 52v1m0 2v1M94 93v1M96 92v1M99 19v1"/><path stroke="#a3a3a3" d="M3 3v1M4 10v1M5 13v1m0 78v1M6 10v1M7 12v1m0 79v1M10 2v1M13 12v1M19 19v1M20 17v1M22 26v1M24 66v1M27 29v1m0 48v1M28 12v1m0 1v2M29 17v1m0 10v1M30 11v1m0 83v1M31 11v1M32 98v1M33 7v2m0 87v1M36 48v1M37 57v1M39 49v1M43 7v1m0 73v1M44 6v2M45 3v1M46 65v2M47 9v1M48 9v1M49 15v1M53 79v1M54 76v1m0 3v1M60 89v1M61 88v1M68 12v1M71 42v1M72 65v1M73 69v1M74 9v1M75 9v1M76 9v1M79 45v2M80 23v2m0 44v2M81 45v1m0 23v1M83 36v2M84 37v1M87 38v1M88 39v1m0 19v1M89 38v1m0 15v1M90 53v1M91 53v1m0 7v1M92 52v1m0 26v1M94 92v1M95 91v1m0 1v1"/><path stroke="#ababab" d="M3 7v1M4 4v1M6 92v1M7 11v1M20 18v2M24 67v1M25 67v1M28 13v1m0 7v1M30 17v1m0 4v1M31 16v1m0 78v1M34 10v1M36 10v1M37 8v2m0 43v1M38 48v1M39 13v1M41 81v1M42 3v1m0 17v1m0 61v1M43 5v2m0 2v1m0 72v1M44 5v1M45 4v1M46 9v1M49 11v1M56 10v1m0 65v1m0 1v1m0 7v1M58 86v1m0 2v1M59 86v1M60 86v1M61 4v1m0 82v1M63 44v1M64 45v1M65 46v1M66 31v1m0 1v1M67 30v1M68 33v1m0 8v1m0 4v1M69 10v1m0 1v1m0 30v1M70 38v1M72 36v1m0 5v1m0 26v1M73 42v1M74 35v3m0 44v1M75 81v1M76 66v1m0 14v2M80 45v2M84 36v1M87 37v1M88 37v1m0 22v1m0 15v2M89 55v3M91 59v2M92 53v4M93 53v2"/><path stroke="#b3b3b3" d="M2 6v1M4 6v1M5 10v1M6 12v1M22 24v1M25 65v2M26 29v1M29 12v1m0 3v1m0 81v1M31 12v4M34 7v1M35 10v1M36 7v1m0 48v1M37 54v1m0 1v1M40 19v1M41 82v1M42 2v1m0 78v1M44 2v1m0 6v1m0 11v1M45 9v1M46 20v1M54 77v1M55 76v1m0 2v1M56 9v1m0 67v1m0 9v1M57 86v1m0 1v1M59 89v1M62 5v1M65 42v1M66 47v1M68 30v1M69 45v1M70 41v1M71 37v1m0 28v1m0 1v1M73 36v1m0 28v1M74 38v1m0 29v1M75 67v1m0 14v1M88 38v1M89 58v1m0 2v1m0 18v1M90 54v1m0 6v1m0 19v1M91 54v1m0 3v1M92 74v1M95 92v1"/><path stroke="#bbbbbb" d="M2 4v1M4 5v1m0 6v1M24 28v1M29 13v3m0 80v1M30 12v2m0 2v1M34 9v1M35 7v1M37 48v1m0 3v1m0 2v1M43 4v1M44 4v1M48 18v1M49 12v1m0 1v1M54 78v2M60 88v1M61 13v1M64 43v1M66 32v1M67 33v1m0 13v1M68 10v1m0 20v2M69 11v1m0 32v1M74 41v1m0 23v1M75 65v1M91 57v1m0 22v1"/><path stroke="#c3c3c3" d="M2 5v1M3 4v1M4 11v1M6 11v1M22 25v1M30 14v2m0 10v1M31 98v1M32 96v2M34 8v1M36 55v1M38 50v1M42 82v1M43 2v1m0 18v1M44 3v1M49 13v1M55 77v2M57 87v1M58 87v2M59 87v2M60 87v1M62 12v1M64 44v1M65 45v1M66 42v1M67 31v1m0 10v1M68 11v1M70 39v2M71 67v1M73 37v1M74 39v1M89 59v2M90 55v6M91 55v2M92 78v1"/><path stroke="#cbcbcb" d="M3 6v1M5 12v1M23 27v1M25 21v1M29 97v1M30 98v1M36 8v2m0 39v1m0 3v2M38 49v1M40 12v1M41 20v1M42 10v1M43 3v1M47 19v1M48 10v1M59 5v1M63 7v1m0 2v1M66 46v1M67 32v1M68 43v1m0 2v1M71 38v1M72 37v1m0 28v1M74 40v1m0 26v1M75 66v1M89 79v1"/><path stroke="#d3d3d3" d="M3 5v1M5 11v1M27 21v1M30 23v1M35 8v2M57 12v1M58 13v1M71 41v1M73 66v1m0 1v1M74 66v1M90 74v1m0 5v1"/><path stroke="#dbdbdb" d="M29 22v1M36 52v1M37 51v1M39 17v1M57 7v1M65 43v2M66 45v1M67 46v1M68 45v1M72 68v1M73 38v1m0 2v1"/><path stroke="#e3e3e3" d="M23 23v1M26 21v1M30 96v1M31 96v2M37 49v1M41 11v1M47 10v1M66 43v1M67 43v1M68 44v1M72 38v1m0 2v1m0 25v1M73 67v1M89 75v1M91 74v1m0 4v1M92 75v1"/><path stroke="#ebebeb" d="M30 24v2m0 71v1M36 50v2M39 14v1M48 17v1M58 6v1M63 8v1M66 44v1M67 45v1M71 39v2M92 77v1"/><path stroke="#f3f3f3" d="M37 50v1M46 10v1M61 5v1M63 9v1M67 44v1M73 39v2M89 78v1M90 79v1"/><path stroke="#fbfbfb" d="M23 24v3M24 22v6M25 22v7M26 22v7M27 22v7M28 22v7M29 23v5M39 15v2M40 13v6M41 12v8M42 11v10M43 10v11M44 10v11M45 10v11M46 11v9M47 11v8M48 11v6M57 8v4M58 7v6M59 6v8M60 5v9M61 6v7M62 6v6M72 39v2M89 76v2M90 75v4M91 75v4M92 76v1"/></g></g>
</g>
<rect x="87.50" y="905.00" width="420.00" height="1.00" fill="#fff" stroke="none" stroke-width="1.1" />
<rect x="87.50" y="486.50" width="420.00" height="420.00" fill="none" stroke="#000" stroke-width="1.1" />
<line x1="92.50" y1="486.50" x2="92.50" y2="480.40" stroke="#000" stroke-width="1.1" />
<line x1="194.50" y1="486.50" x2="194.50" y2="480.40" stroke="#000" stroke-width="1.1" />
<line x1="297.50" y1="486.50" x2="297.50" y2="480.40" stroke="#000" stroke-width="1.1" />
<line x1="399.50" y1="486.50" x2="399.50" y2="480.40" stroke="#000" stroke-width="1.1" />
<line x1="502.50" y1="486.50" x2="502.50" y2="480.40" stroke="#000" stroke-width="1.1" />
<line x1="189.50" y1="906.50" x2="189.50" y2="911.80" stroke="#000" stroke-width="1.1" />
<line x1="291.50" y1="906.50" x2="291.50" y2="911.80" stroke="#000" stroke-width="1.1" />
<line x1="394.50" y1="906.50" x2="394.50" y2="911.80" stroke="#000" stroke-width="1.1" />
<line x1="497.50" y1="906.50" x2="497.50" y2="911.80" stroke="#000" stroke-width="1.1" />
<line x1="87.50" y1="500.50" x2="82.20" y2="500.50" stroke="#000" stroke-width="1.1" />
<line x1="87.50" y1="603.50" x2="82.20" y2="603.50" stroke="#000" stroke-width="1.1" />
<line x1="87.50" y1="706.50" x2="82.20" y2="706.50" stroke="#000" stroke-width="1.1" />
<line x1="87.50" y1="810.50" x2="82.20" y2="810.50" stroke="#000" stroke-width="1.1" />
<line x1="507.50" y1="510.50" x2="512.80" y2="510.50" stroke="#000" stroke-width="1.1" />
<line x1="507.50" y1="613.50" x2="512.80" y2="613.50" stroke="#000" stroke-width="1.1" />
<line x1="507.50" y1="716.50" x2="512.80" y2="716.50" stroke="#000" stroke-width="1.1" />
<line x1="507.50" y1="819.50" x2="512.80" y2="819.50" stroke="#000" stroke-width="1.1" />
<text x="75.2" y="504.1" font-size="14.17" text-anchor="end" fill="#000" textLength="43.8" lengthAdjust="spacingAndGlyphs">11°45'</text>
<text x="75.2" y="607.1" font-size="14.17" text-anchor="end" fill="#000" textLength="19.3" lengthAdjust="spacingAndGlyphs">30'</text>
<text x="75.2" y="710.1" font-size="14.17" text-anchor="end" fill="#000" textLength="19.3" lengthAdjust="spacingAndGlyphs">15'</text>
<text x="75.2" y="814.1" font-size="14.17" text-anchor="end" fill="#000" textLength="19.3" lengthAdjust="spacingAndGlyphs">00'</text>
<text x="164.2" y="926.1" font-size="14.17" text-anchor="start" fill="#000" textLength="17.6" lengthAdjust="spacingAndGlyphs">19</text>
<text x="181.8" y="920.8" font-size="9.92" text-anchor="start" fill="#000" textLength="6.1" lengthAdjust="spacingAndGlyphs">h</text>
<text x="188.0" y="926.1" font-size="14.17" text-anchor="start" fill="#000" textLength="17.6" lengthAdjust="spacingAndGlyphs">53</text>
<text x="205.6" y="920.8" font-size="9.92" text-anchor="start" fill="#000" textLength="9.4" lengthAdjust="spacingAndGlyphs">m</text>
<text x="278.1" y="926.1" font-size="14.17" text-anchor="start" fill="#000" textLength="17.6" lengthAdjust="spacingAndGlyphs">52</text>
<text x="295.7" y="920.8" font-size="9.92" text-anchor="start" fill="#000" textLength="9.4" lengthAdjust="spacingAndGlyphs">m</text>
<text x="380.9" y="926.1" font-size="14.17" text-anchor="start" fill="#000" textLength="17.6" lengthAdjust="spacingAndGlyphs">51</text>
<text x="398.5" y="920.8" font-size="9.92" text-anchor="start" fill="#000" textLength="9.4" lengthAdjust="spacingAndGlyphs">m</text>
<text x="484.2" y="926.1" font-size="14.17" text-anchor="start" fill="#000" textLength="17.6" lengthAdjust="spacingAndGlyphs">50</text>
<text x="501.8" y="920.8" font-size="9.92" text-anchor="start" fill="#000" textLength="9.4" lengthAdjust="spacingAndGlyphs">m</text>
<text x="296.8" y="948.0" font-size="14.17" text-anchor="middle" fill="#000" textLength="17.2" lengthAdjust="spacingAndGlyphs">RA</text>
<text transform="translate(21.1 697.5) rotate(-90)" font-size="14.17" text-anchor="middle" fill="#000" textLength="24.7" lengthAdjust="spacingAndGlyphs">Dec</text>
<path d="M196.5 588.9L204.3 596.7M196.5 596.7L204.3 588.9" stroke="#008000" stroke-width="1.5" fill="none"/>
<path d="M238.5 699.0L246.3 706.8M238.5 706.8L246.3 699.0" stroke="#ff0000" stroke-width="1.5" fill="none"/>
<circle cx="382.8" cy="656.1" r="4.1" fill="none" stroke="#008000" stroke-width="1.4"/>
<text x="371.3" y="644.5" font-size="14.17" text-anchor="start" fill="#008000" opacity="1.0" textLength="112.0" lengthAdjust="spacingAndGlyphs">PSRJ1951+1123</text>
<path d="M287.0 698.3L297.0 688.6L300.8 689.2L303.1 691.3L303.7 693.5L303.7 699.1L297.0 705.4L293.3 705.3Z" fill="none" stroke="#2020e0" stroke-width="1.1"/>
<rect x="535.50" y="486.50" width="21.00" height="420.00" fill="url(#gray)" stroke="none" stroke-width="1.1" />
<rect x="535.50" y="486.50" width="21.00" height="420.00" fill="none" stroke="#000" stroke-width="1.1" />
<line x1="556.50" y1="495.50" x2="561.80" y2="495.50" stroke="#000" stroke-width="1.1" />
<text x="566.3" y="500.5" font-size="14.17" text-anchor="start" fill="#000" textLength="28.7" lengthAdjust="spacingAndGlyphs">0.12</text>
<line x1="556.50" y1="551.50" x2="561.80" y2="551.50" stroke="#000" stroke-width="1.1" />
<text x="566.3" y="556.8" font-size="14.17" text-anchor="start" fill="#000" textLength="28.7" lengthAdjust="spacingAndGlyphs">0.10</text>
<line x1="556.50" y1="607.50" x2="561.80" y2="607.50" stroke="#000" stroke-width="1.1" />
<text x="566.3" y="613.1" font-size="14.17" text-anchor="start" fill="#000" textLength="28.7" lengthAdjust="spacingAndGlyphs">0.08</text>
<line x1="556.50" y1="663.50" x2="561.80" y2="663.50" stroke="#000" stroke-width="1.1" />
<text x="566.3" y="669.4" font-size="14.17" text-anchor="start" fill="#000" textLength="28.7" lengthAdjust="spacingAndGlyphs">0.06</text>
<line x1="556.50" y1="720.50" x2="561.80" y2="720.50" stroke="#000" stroke-width="1.1" />
<text x="566.3" y="725.7" font-size="14.17" text-anchor="start" fill="#000" textLength="28.7" lengthAdjust="spacingAndGlyphs">0.04</text>
<line x1="556.50" y1="776.50" x2="561.80" y2="776.50" stroke="#000" stroke-width="1.1" />
<text x="566.3" y="782.0" font-size="14.17" text-anchor="start" fill="#000" textLength="28.7" lengthAdjust="spacingAndGlyphs">0.02</text>
<line x1="556.50" y1="832.50" x2="561.80" y2="832.50" stroke="#000" stroke-width="1.1" />
<text x="566.3" y="838.3" font-size="14.17" text-anchor="start" fill="#000" textLength="28.7" lengthAdjust="spacingAndGlyphs">0.00</text>
<line x1="556.50" y1="889.50" x2="561.80" y2="889.50" stroke="#000" stroke-width="1.1" />
<text x="566.3" y="894.6" font-size="14.17" text-anchor="start" fill="#000" textLength="40.3" lengthAdjust="spacingAndGlyphs">−0.02</text>
<text transform="translate(622.2 696.2) rotate(-90)" font-size="14.17" text-anchor="middle" fill="#000" textLength="73.9" lengthAdjust="spacingAndGlyphs">GLEAM (Jy)</text>
<g clip-path="none">
<rect x="647.50" y="486.50" width="420.00" height="420.00" fill="#808080"/>
</g>
<rect x="647.50" y="905.00" width="420.00" height="1.00" fill="#fff" stroke="none" stroke-width="1.1" />
<rect x="647.50" y="486.50" width="420.00" height="420.00" fill="none" stroke="#000" stroke-width="1.1" />
<line x1="652.50" y1="486.50" x2="652.50" y2="480.40" stroke="#000" stroke-width="1.1" />
<line x1="754.50" y1="486.50" x2="754.50" y2="480.40" stroke="#000" stroke-width="1.1" />
<line x1="857.50" y1="486.50" x2="857.50" y2="480.40" stroke="#000" stroke-width="1.1" />
<line x1="959.50" y1="486.50" x2="959.50" y2="480.40" stroke="#000" stroke-width="1.1" />
<line x1="1062.50" y1="486.50" x2="1062.50" y2="480.40" stroke="#000" stroke-width="1.1" />
<line x1="749.50" y1="906.50" x2="749.50" y2="911.80" stroke="#000" stroke-width="1.1" />
<line x1="851.50" y1="906.50" x2="851.50" y2="911.80" stroke="#000" stroke-width="1.1" />
<line x1="954.50" y1="906.50" x2="954.50" y2="911.80" stroke="#000" stroke-width="1.1" />
<line x1="1057.50" y1="906.50" x2="1057.50" y2="911.80" stroke="#000" stroke-width="1.1" />
<line x1="647.50" y1="500.50" x2="642.20" y2="500.50" stroke="#000" stroke-width="1.1" />
<line x1="647.50" y1="603.50" x2="642.20" y2="603.50" stroke="#000" stroke-width="1.1" />
<line x1="647.50" y1="706.50" x2="642.20" y2="706.50" stroke="#000" stroke-width="1.1" />
<line x1="647.50" y1="810.50" x2="642.20" y2="810.50" stroke="#000" stroke-width="1.1" />
<line x1="1067.50" y1="510.50" x2="1072.80" y2="510.50" stroke="#000" stroke-width="1.1" />
<line x1="1067.50" y1="613.50" x2="1072.80" y2="613.50" stroke="#000" stroke-width="1.1" />
<line x1="1067.50" y1="716.50" x2="1072.80" y2="716.50" stroke="#000" stroke-width="1.1" />
<line x1="1067.50" y1="819.50" x2="1072.80" y2="819.50" stroke="#000" stroke-width="1.1" />
<text x="724.2" y="926.1" font-size="14.17" text-anchor="start" fill="#000" textLength="17.6" lengthAdjust="spacingAndGlyphs">19</text>
<text x="741.8" y="920.8" font-size="9.92" text-anchor="start" fill="#000" textLength="6.1" lengthAdjust="spacingAndGlyphs">h</text>
<text x="748.0" y="926.1" font-size="14.17" text-anchor="start" fill="#000" textLength="17.6" lengthAdjust="spacingAndGlyphs">53</text>
<text x="765.6" y="920.8" font-size="9.92" text-anchor="start" fill="#000" textLength="9.4" lengthAdjust="spacingAndGlyphs">m</text>
<text x="838.1" y="926.1" font-size="14.17" text-anchor="start" fill="#000" textLength="17.6" lengthAdjust="spacingAndGlyphs">52</text>
<text x="855.7" y="920.8" font-size="9.92" text-anchor="start" fill="#000" textLength="9.4" lengthAdjust="spacingAndGlyphs">m</text>
<text x="940.9" y="926.1" font-size="14.17" text-anchor="start" fill="#000" textLength="17.6" lengthAdjust="spacingAndGlyphs">51</text>
<text x="958.5" y="920.8" font-size="9.92" text-anchor="start" fill="#000" textLength="9.4" lengthAdjust="spacingAndGlyphs">m</text>
<text x="1044.2" y="926.1" font-size="14.17" text-anchor="start" fill="#000" textLength="17.6" lengthAdjust="spacingAndGlyphs">50</text>
<text x="1061.8" y="920.8" font-size="9.92" text-anchor="start" fill="#000" textLength="9.4" lengthAdjust="spacingAndGlyphs">m</text>
<text x="856.8" y="948.0" font-size="14.17" text-anchor="middle" fill="#000" textLength="17.2" lengthAdjust="spacingAndGlyphs">RA</text>
<path d="M756.5 588.9L764.3 596.7M756.5 596.7L764.3 588.9" stroke="#008000" stroke-width="1.5" fill="none"/>
<path d="M798.5 699.0L806.3 706.8M798.5 706.8L806.3 699.0" stroke="#ff0000" stroke-width="1.5" fill="none"/>
<circle cx="942.8" cy="656.1" r="4.1" fill="none" stroke="#008000" stroke-width="1.4"/>
<text x="931.3" y="644.5" font-size="14.17" text-anchor="start" fill="#008000" opacity="1.0" textLength="112.0" lengthAdjust="spacingAndGlyphs">PSRJ1951+1123</text>
<path d="M847.0 698.3L857.0 688.6L860.8 689.2L863.1 691.3L863.7 693.5L863.7 699.1L857.0 705.4L853.3 705.3Z" fill="none" stroke="#2020e0" stroke-width="1.1"/>
<rect x="1095.50" y="486.50" width="21.00" height="420.00" fill="url(#gray)" stroke="none" stroke-width="1.1" />
<rect x="1095.50" y="486.50" width="21.00" height="420.00" fill="none" stroke="#000" stroke-width="1.1" />
<line x1="1116.50" y1="486.50" x2="1121.80" y2="486.50" stroke="#000" stroke-width="1.1" />
<text x="1126.4" y="491.7" font-size="14.17" text-anchor="start" fill="#000" textLength="37.5" lengthAdjust="spacingAndGlyphs">0.100</text>
<line x1="1116.50" y1="538.50" x2="1121.80" y2="538.50" stroke="#000" stroke-width="1.1" />
<text x="1126.4" y="544.2" font-size="14.17" text-anchor="start" fill="#000" textLength="37.5" lengthAdjust="spacingAndGlyphs">0.075</text>
<line x1="1116.50" y1="591.50" x2="1121.80" y2="591.50" stroke="#000" stroke-width="1.1" />
<text x="1126.4" y="596.7" font-size="14.17" text-anchor="start" fill="#000" textLength="37.5" lengthAdjust="spacingAndGlyphs">0.050</text>
<line x1="1116.50" y1="643.50" x2="1121.80" y2="643.50" stroke="#000" stroke-width="1.1" />
<text x="1126.4" y="649.2" font-size="14.17" text-anchor="start" fill="#000" textLength="37.5" lengthAdjust="spacingAndGlyphs">0.025</text>
<line x1="1116.50" y1="696.50" x2="1121.80" y2="696.50" stroke="#000" stroke-width="1.1" />
<text x="1126.4" y="701.7" font-size="14.17" text-anchor="start" fill="#000" textLength="37.5" lengthAdjust="spacingAndGlyphs">0.000</text>
<line x1="1116.50" y1="748.50" x2="1121.80" y2="748.50" stroke="#000" stroke-width="1.1" />
<text x="1126.4" y="754.2" font-size="14.17" text-anchor="start" fill="#000" textLength="49.1" lengthAdjust="spacingAndGlyphs">−0.025</text>
<line x1="1116.50" y1="801.50" x2="1121.80" y2="801.50" stroke="#000" stroke-width="1.1" />
<text x="1126.4" y="806.7" font-size="14.17" text-anchor="start" fill="#000" textLength="49.1" lengthAdjust="spacingAndGlyphs">−0.050</text>
<line x1="1116.50" y1="853.50" x2="1121.80" y2="853.50" stroke="#000" stroke-width="1.1" />
<text x="1126.4" y="859.2" font-size="14.17" text-anchor="start" fill="#000" textLength="49.1" lengthAdjust="spacingAndGlyphs">−0.075</text>
<line x1="1116.50" y1="906.50" x2="1121.80" y2="906.50" stroke="#000" stroke-width="1.1" />
<text x="1126.4" y="911.7" font-size="14.17" text-anchor="start" fill="#000" textLength="49.1" lengthAdjust="spacingAndGlyphs">−0.100</text>
<text transform="translate(1192.0 696.2) rotate(-90)" font-size="14.17" text-anchor="middle" fill="#000" textLength="61.8" lengthAdjust="spacingAndGlyphs">Deep (Jy)</text>
<g clip-path="none">
<rect x="1795.50" y="38.50" width="280.00" height="280.00" fill="#666"/><g transform="translate(1795.50 38.50) scale(2.8000)" filter="url(#sm)"><rect width="100" height="100" fill="#717171"/><g transform="translate(.5 0)" fill="none" stroke-width="1.06" shape-rendering="crispEdges"><path stroke="#050505" d="M0 24v1m0 51v1m0 18v1m0 3v1M1 1v3m0 72v1M2 1v4m0 75v1m0 11v1M3 43v1M5 12v2m0 3v1m0 46v1m0 24v1M6 7v1m0 9v1m0 43v3m0 25v1M7 6v2m0 60v2m0 24v1m0 2v2M8 5v2m0 61v2m0 24v1M9 5v1m0 6v1m0 72v1M10 5v1m0 6v1m0 46v1m0 20v1m0 10v1M11 91v1M12 8v1m0 4v2m0 73v2M13 0v1m0 12v2m0 27v1m0 10v1m0 12v2m0 20v2M14 4v1m0 63v1m0 14v1M15 4v2m0 26v1m0 50v1M16 4v1m0 26v2M17 13v1m0 8v2m0 4v1m0 2v1m0 22v2M18 12v2m0 7v2m0 8v2m0 20v2M19 13v1m0 6v1m0 11v2m0 19v1m0 25v1M20 9v1m0 23v1m0 2v1m0 16v1m0 24v2M21 85v2M22 12v1m0 46v2m0 6v1M23 12v1m0 16v1m0 29v2M24 15v3m0 36v1m0 8v2m0 10v1M25 63v1M26 14v1m0 16v1m0 13v1m0 9v1m0 6v1m0 19v1M27 12v2m0 17v1m0 16v3m0 11v1M28 2v1m0 9v1m0 3v1m0 13v2m0 16v4M29 2v1m0 12v3m0 8v3M30 15v2m0 55v3M31 46v1M32 32v1m0 48v1M33 64v1M34 10v1m0 11v1m0 42v1m0 3v1m0 8v1M35 16v2m0 16v2m0 36v1M36 16v2m0 17v1M37 18v1M38 13v1m0 9v2m0 7v1M39 1v1m0 10v2m0 16v2m0 13v1m0 37v1M40 1v2m0 36v2m0 4v1M41 1v1m0 25v1m0 10v3m0 36v1M42 7v1m0 19v1m0 11v2m0 36v2M43 7v1m0 22v2M44 12v1m0 17v1m0 12v1m0 14v1m0 12v1m0 12v1M45 24v2m0 20v1m0 5v2M46 3v4m0 17v2m0 8v2m0 46v1m0 16v1M47 6v2m0 70v1m0 3v1M48 6v2m0 67v4m0 3v1M49 43v2M50 22v1m0 20v2M51 9v2m0 10v3m0 62v4m0 6v1M52 8v2m0 11v3m0 33v1m0 29v3M53 58v1M54 38v2m0 47v1M55 20v1m0 17v1m0 48v1M56 0v2m0 17v2m0 66v1M57 1v1m0 4v1m0 12v2m0 5v1m0 60v1M58 6v1m0 19v1m0 32v2m0 26v1M59 0v1m0 13v1m0 44v2m0 14v2M60 0v1m0 21v2m0 35v1m0 15v1m0 3v1M61 22v2m0 35v1m0 19v2m0 14v2M62 11v2m0 9v2m0 56v1m0 15v1M63 11v2m0 67v1M65 17v2M66 17v2M67 33v1m0 7v2M68 23v1m0 4v2m0 43v1M69 23v1m0 3v4m0 20v1m0 15v2M70 29v2m0 23v2m0 12v1m0 14v1M71 2v2m0 37v2m0 40v1m0 6v2M72 2v2m0 34v1m0 3v1m0 21v1m0 25v1m0 3v2M73 11v1m0 11v1m0 8v3m0 3v1m0 55v1M74 23v2m0 3v2m0 3v2m0 17v2M75 7v1m0 16v1m0 4v2M76 8v2m0 4v1M77 14v1M78 34v1M79 33v3M80 5v2m0 29v2M81 6v1m0 15v2m0 13v1m0 54v1M82 91v2M83 61v1m0 13v1M84 61v2M85 57v1M86 57v2m0 9v1m0 24v1M87 56v2m0 10v1m0 3v1M88 11v1m0 8v1m0 28v2m0 5v2m0 13v1M89 11v2m0 37v1M90 12v1M92 5v1m0 16v2M93 4v2m0 61v2m0 28v1M94 29v1m0 38v1m0 28v2M95 87v2M96 26v1M97 25v3M98 19v2m0 5v2m0 10v1M99 19v2m0 12v1m0 29v1"/><path stroke="#0f0f0f" d="M0 56v1M1 4v1m0 2v1M2 49v1m0 15v1m0 25v1M3 42v1M5 56v1m0 31v1M6 10v1m0 2v1m0 50v1m0 29v1M7 99v1M8 50v2M9 13v1m0 55v1m0 21v1M10 60v1m0 12v1M12 53v1m0 36v1M13 54v1m0 13v1M14 15v1m0 51v1m0 20v2M16 22v1M17 53v1M18 0v1m0 13v1m0 13v1m0 1v1m0 2v1M19 21v1m0 26v1m0 5v1m0 23v1M20 37v1m0 9v1m0 6v1M21 60v1M22 28v2M23 30v1m0 6v1M25 15v1m0 9v1m0 5v1m0 30v1m0 1v1m0 10v1M26 15v1m0 65v1M27 16v1M28 11v1m0 1v1M29 51v1M30 17v1m0 8v1M32 80v1M33 65v1M34 9v1m0 54v1M35 22v1m0 36v1m0 5v1m0 12v1M36 34v1M37 32v1M38 25v1M39 2v1m0 29v1M40 13v2M41 2v1m0 75v1M42 6v1m0 31v1M43 12v1M44 13v1m0 17v1m0 10v1m0 42v1M45 30v1m0 11v1M46 36v1M47 35v1m0 39v1m0 3v1m0 1v1M48 74v1m0 17v1M49 17v1M50 21v1M52 4v1m0 69v1M55 19v1m0 57v1M58 75v2M59 48v1M60 80v1M61 21v1M63 30v1M65 66v1M66 34v1M67 34v1m0 39v1M68 30v1m0 1v2m0 33v1m0 4v1M69 31v1m0 46v1M70 24v1m0 26v1m0 1v1m0 2v1m0 34v1M71 95v1M72 37v1m0 58v1M73 22v1M74 32v1m0 10v2m0 49v1M75 18v1m0 33v1M76 54v1M77 54v1M78 35v1M79 36v1M80 34v1M81 30v1M82 75v1M83 41v1M84 56v1M85 98v1M87 49v2m0 20v1M88 51v1M89 20v1m0 28v1m0 46v1M90 11v1m0 38v1M91 22v1m0 26v1M92 4v1m0 32v2M93 22v2m0 74v1M94 49v1M95 49v1M96 88v1M97 20v1M98 11v1M99 62v1m0 1v1m0 3v1"/><path stroke="#191919" d="M0 57v1M1 12v1m0 44v1m0 19v1m0 14v1M2 20v1m0 31v1M4 43v1M5 18v1m0 75v1M6 16v1m0 1v1m0 15v2m0 61v1M7 32v1m0 18v1m0 9v2m0 32v1M8 36v2M9 6v1m0 4v1m0 47v1m0 20v1m0 3v1m0 1v1M10 13v1m0 32v1m0 11v1m0 13v1M11 8v1m0 7v1m0 63v1m0 9v1M12 66v1m0 13v1M13 79v2m0 2v1M14 16v1m0 15v1m0 66v1M15 16v1m0 10v1m0 56v1M16 5v1m0 17v1M17 12v1m0 1v1m0 15v1M18 20v1m0 2v1m0 38v1m0 9v1M19 14v1m0 16v1m0 4v1m0 35v1M20 10v1m0 2v1m0 34v1m0 50v1M21 12v2M22 11v1m0 49v1M23 11v1m0 3v2m0 11v1m0 25v2M24 12v1m0 17v1m0 22v1M25 14v1m0 30v1m0 8v1m0 21v1M26 13v1m0 18v1m0 11v1m0 18v1m0 25v1M27 63v1m0 13v1m0 20v2M28 15v1m0 1v1m0 10v1m0 33v2M29 49v1m0 22v1M30 2v1M31 45v1m0 28v2m0 5v1M32 64v2M33 15v2m0 65v1M34 16v2m0 12v1m0 4v1M35 10v1m0 19v1m0 5v1M36 18v1m0 13v1m0 26v1m0 12v1m0 23v1M37 17v1M38 1v1m0 29v1M39 14v1m0 69v1M40 34v1m0 9v1m0 1v1M42 8v1m0 26v1m0 40v1M44 25v1m0 31v1m0 1v1M45 4v2m0 6v1m0 25v1m0 4v2m0 2v1m0 10v1m0 25v1M46 30v2M47 66v2m0 15v1m0 8v1M48 43v1m0 37v1M49 7v1M50 42v1m0 53v1M51 57v1M52 3v1m0 3v1m0 50v1m0 9v1m0 21v1M53 3v1m0 35v1m0 17v1M54 77v1M55 37v1M56 67v1m0 9v1M57 0v1m0 6v1m0 8v1m0 8v1M59 42v2m0 14v1m0 11v1M60 35v1m0 29v1M61 0v1M62 1v1m0 22v1m0 5v1m0 48v1M63 87v1M66 33v1m0 24v1M69 24v1m0 29v1m0 28v1M70 28v1M71 82v1m0 11v1M72 33v1m0 7v1m0 55v1M73 12v1m0 29v2m0 20v1m0 30v1M75 28v1m0 6v1m0 17v1M76 7v1M77 15v1m0 10v1m0 23v1M78 26v1m0 23v1m0 4v1M79 6v1m0 20v1M80 27v1m0 7v1m0 57v1M81 93v1M82 22v1m0 14v1M83 40v1M85 18v1m0 39v1M86 62v1m0 29v1M87 62v1m0 4v1m0 1v1M88 12v1m0 6v1m0 1v1m0 46v1m0 3v1M90 49v1m0 10v1M91 28v2m0 22v1m0 39v1M94 67v1m0 1v1m0 3v2m0 12v1M96 87v1M97 19v1M98 25v1m0 37v1m0 32v1M99 32v1m0 5v1"/><path stroke="#222222" d="M0 77v1m0 16v1M1 6v1m0 45v1m0 3v1m0 34v1M4 42v1M5 7v1m0 15v1m0 33v1m0 5v1m0 29v1M6 0v1m0 5v1m0 4v2m0 19v2m0 13v1m0 3v1m0 5v1m0 10v1m0 15v1m0 11v1M7 16v1m0 18v2m0 13v1m0 45v1M9 46v1m0 3v1M10 11v1M11 13v1m0 8v1m0 43v1M12 42v1M13 1v1m0 39v1m0 2v2M14 5v1m0 35v2M15 31v1M16 54v1m0 41v1M17 21v1m0 5v1m0 4v1m0 29v1m0 10v1M18 29v1M19 9v1m0 24v1m0 2v1m0 9v1m0 12v1M20 14v1m0 1v2m0 14v1M21 37v1m0 9v1m0 19v1m0 19v1M22 58v1m0 7v1m0 1v1M23 5v1m0 36v1m0 21v1m0 2v1M24 24v1m0 12v1m0 17v1m0 20v1M25 16v1m0 4v1m0 33v1M26 25v1m0 22v1m0 41v1M27 15v1m0 14v1m0 13v2m0 15v1M28 1v1m0 4v1m0 22v1m0 47v1M29 6v2m0 3v2m0 12v1m0 24v1m0 11v1M30 7v1m0 17v1m0 9v1M31 16v1m0 6v1m0 11v1m0 37v1M32 15v1m0 24v1m0 34v1M33 17v1m0 4v1m0 9v1M34 31v1m0 2v1m0 33v1m0 17v1M35 31v1m0 11v1m0 52v1M36 65v1M37 6v1m0 26v1m0 31v1M38 12v1m0 66v2M39 33v1m0 12v1M40 38v1M41 34v2m0 8v2m0 30v1M43 13v1m0 57v1m0 5v2M44 53v1M45 20v1m0 5v1m0 18v1m0 13v1M46 23v1m0 59v1M47 3v1m0 1v1m0 30v1m0 39v1m0 14v1M48 79v1m0 3v1M49 6v1m0 9v1m0 5v1m0 7v1m0 11v1M50 87v2M51 8v1m0 38v1m0 3v2M52 6v1m0 3v1m0 13v1m0 9v2m0 10v3m0 20v1m0 3v1M53 4v1M54 37v1m0 40v1M55 39v1M56 16v1M57 2v1M58 0v2m0 12v1m0 33v2m0 8v1m0 29v1M59 15v1m0 70v1M60 21v1m0 36v1m0 5v1m0 11v1m0 1v1M61 1v1m0 22v1m0 33v1M62 10v1m0 76v1m0 7v1M63 13v1M64 17v1m0 61v2m0 11v2M66 25v1m0 40v1m0 31v1M67 23v2m0 7v1m0 10v1m0 29v1M68 9v1m0 14v1m0 6v1m0 2v1M69 52v1M70 45v1m0 32v1m0 5v1M71 54v1M72 12v1m0 21v1m0 28v1M73 10v1m0 41v1M74 76v2M75 8v2m0 21v1m0 11v1m0 24v1M76 68v1M77 61v2M78 20v1m0 12v1m0 35v1M79 5v1m0 20v1m0 23v1M81 0v2m0 19v1m0 14v1M82 1v2m0 52v1m0 3v1M83 66v1m0 24v1M85 17v1m0 44v1m0 36v1M86 17v2m0 28v2M87 86v1M88 18v1M89 0v2m0 17v1m0 1v1m0 46v1M90 29v1m0 66v1M91 19v1m0 3v1m0 29v1m0 6v1M92 29v1m0 19v1m0 2v2m0 7v1M93 6v2m0 3v1m0 3v1m0 33v1M94 7v1m0 62v1M95 68v1M96 0v1m0 24v1m0 40v1m0 5v1M97 2v1m0 69v1M98 10v1m0 4v1m0 81v1M99 18v1m0 2v1m0 74v1"/><path stroke="#2c2c2c" d="M0 6v2m0 15v1m0 1v1m0 3v2m0 35v1M1 93v2M2 21v1m0 59v1M3 65v1m0 14v1m0 11v1M4 64v1m0 23v1M5 10v2m0 2v1m0 19v2m0 25v1M6 95v1m0 2v1M7 10v1m0 6v1m0 15v1m0 3v1m0 26v1m0 2v1M8 95v1m0 2v1M9 10v1m0 14v1m0 11v1m0 7v1m0 12v1m0 1v1m0 7v1M10 45v1m0 39v1M11 9v1m0 5v1m0 13v1m0 44v1m0 17v1M12 0v1m0 14v1m0 4v1m0 70v1M13 12v1m0 2v1m0 16v1m0 10v1m0 25v1m0 25v1M15 22v1m0 3v1M16 27v1m0 25v1m0 15v1M17 29v1M18 1v1m0 25v1m0 20v1m0 12v1m0 11v1m0 5v1m0 1v1M19 22v1m0 48v1M20 8v1m0 11v1m0 65v1M21 17v1m0 41v1m0 1v1m0 17v1M22 37v1m0 47v1M23 6v1m0 34v1m0 33v1M24 14v1m0 10v1m0 10v1m0 28v1m0 8v1M25 20v1m0 5v1M26 12v1m0 3v1m0 3v1m0 28v1m0 33v1m0 14v1M27 2v1m0 4v1m0 6v1m0 2v1m0 37v1M28 3v1m0 3v1M29 1v1m0 27v1m0 18v1m0 24v1M30 23v2m0 2v1M31 0v1m0 14v1m0 31v1m0 41v1M32 16v1m0 10v1m0 3v1m0 66v1M33 9v1m0 21v1m0 37v1M34 77v1M35 6v1m0 8v1m0 26v1m0 26v1m0 3v1m0 13v1M36 15v1m0 15v1m0 1v1m0 2v1m0 5v1m0 30v1M37 13v1m0 5v1m0 4v2m0 22v1m0 17v1M38 92v1M39 24v1m0 4v1m0 39v1m0 22v1M40 12v1m0 6v1M41 7v1m0 2v1m0 7v2m0 21v1m0 4v1m0 39v1M42 31v1M43 8v1m0 23v1m0 43v1M44 46v2m0 6v1M45 6v1m0 27v1m0 2v1m0 13v1m0 19v1m0 11v1m0 3v1M46 2v1m0 8v2m0 7v1m0 16v1m0 3v1m0 39v1M47 30v1m0 10v1m0 35v1m0 21v1M48 36v1m0 20v1m0 9v1m0 25v1M49 21v1M50 2v1m0 4v1m0 9v1M51 3v1m0 3v1m0 26v1m0 8v1M52 5v1M53 6v1m0 31v1m0 34v1m0 13v1m0 4v1M56 2v1m0 14v2m0 24v2m0 1v2M57 5v1m0 9v1m0 1v1m0 12v1M58 5v1m0 1v1m0 19v1m0 22v1m0 10v1M59 22v2m0 15v1m0 7v1m0 1v1m0 2v2m0 11v1m0 2v2m0 17v1M60 19v1m0 4v1m0 35v1m0 25v1M61 78v1M62 6v1m0 90v1M64 63v1m0 22v1M65 19v1m0 15v1m0 17v1m0 25v1m0 19v1M66 19v1m0 22v1m0 56v1M67 18v1m0 39v1m0 12v2M68 41v1m0 4v1m0 39v1M69 8v2m0 22v1m0 1v1m0 15v1m0 2v1m0 1v1m0 17v1M70 23v1m0 28v1m0 14v1m0 9v1M71 1v1m0 2v1m0 19v1m0 39v1m0 3v1M72 11v1m0 31v1m0 47v1m0 1v1M73 24v1m0 3v1m0 8v1m0 6v1m0 27v1M74 4v1m0 22v1m0 2v1m0 17v1m0 29v1M75 6v1m0 16v1m0 1v3M76 18v1m0 7v1m0 53v1m0 6v1M77 55v1m0 13v1M78 27v1m0 16v1m0 9v1m0 13v1M79 7v1m0 20v1m0 26v1m0 2v1m0 14v1M80 0v1m0 21v1m0 35v1m0 33v1M81 5v1m0 49v1M82 48v1m0 11v1m0 13v1M83 56v1m0 3v1m0 1v1m0 11v1M84 57v1M85 1v1M86 26v1m0 1v1m0 20v1m0 19v1M87 18v1m0 6v1m0 47v1m0 4v1m0 13v2M88 37v1m0 32v1m0 14v1M89 18v1m0 38v1m0 39v1M90 22v1m0 68v2M91 91v1M92 11v1m0 48v1M93 8v1m0 20v1m0 15v1M94 1v2m0 20v1m0 47v1m0 24v1m0 2v1M95 29v1m0 37v1m0 18v1m0 10v1M96 1v1m0 14v1m0 10v1m0 21v1M97 16v1m0 24v1M98 16v1m0 20v1m0 1v1m0 10v1m0 13v1M99 11v1m0 14v1m0 7v1m0 62v1"/><path stroke="#363636" d="M0 1v1m0 32v1m0 32v1m0 28v1M1 8v1m0 4v1m0 23v1m0 15v1m0 11v2M2 0v1m0 4v1m0 37v1m0 4v1m0 1v1m0 2v1m0 12v1m0 12v1m0 13v1M3 4v2m0 85v1M4 6v1m0 10v1m0 11v1m0 26v2m0 31v1m0 3v1M5 6v1m0 9v1m0 7v1m0 35v1M6 44v1m0 3v1m0 1v1m0 5v1m0 3v1m0 12v1m0 19v1M7 42v1m0 27v1m0 22v1M8 10v1m0 59v1m0 22v1m0 3v1M9 4v1m0 33v3m0 51v1M10 6v1m0 15v1m0 2v1m0 3v1M11 25v1m0 33v1m0 13v1M12 48v2m0 15v1m0 26v2M13 4v1m0 47v1m0 37v1m0 8v1M14 27v1m0 3v1m0 34v1m0 17v1M15 6v2m0 11v1m0 18v1m0 60v1M16 55v1m0 17v1m0 21v1M17 9v1m0 53v1m0 8v1m0 23v1M18 9v1m0 50v1m0 19v1M19 0v1m0 58v1m0 1v2m0 36v1M20 22v1m0 62v1M21 11v1m0 4v1m0 6v1m0 12v1m0 41v1m0 5v1M22 0v1m0 41v1m0 43v1M23 24v1m0 11v1m0 29v1M24 13v1m0 6v1m0 10v1m0 27v1M25 13v1m0 10v1m0 7v1m0 25v1m0 11v1M26 7v1m0 13v1m0 32v1m0 44v1M27 32v1m0 14v1m0 33v1m0 15v1M28 27v1m0 19v1M29 52v1m0 18v1M30 44v2m0 15v2m0 12v1M31 8v1m0 15v1m0 7v1m0 47v1m0 13v1M32 22v1m0 5v1m0 6v1m0 11v1m0 22v1m0 11v1M33 18v1m0 2v1m0 12v2m0 27v1m0 4v1m0 14v1m0 2v1m0 7v1M34 5v2m0 1v1m0 6v1M35 7v1m0 29v1m0 6v1m0 15v1m0 3v1m0 6v1m0 14v1m0 8v1M36 6v1m0 23v1m0 12v1m0 16v1m0 26v1M37 0v1m0 25v1m0 27v2m0 35v1M38 0v1m0 1v1m0 3v1m0 7v1m0 7v1m0 5v1m0 1v1m0 2v1m0 57v1M39 34v1m0 23v1m0 11v1m0 8v2m0 12v1M40 10v2m0 29v1m0 1v1M41 6v1m0 1v2m0 16v1m0 16v1m0 20v1M42 9v1m0 16v1m0 1v1m0 1v1m0 19v1m0 35v1M43 6v1m0 68v1m0 11v1M44 20v1m0 5v1m0 2v1m0 8v1m0 2v1m0 28v1m0 5v1m0 10v1M45 3v1m0 9v1m0 9v1m0 7v1m0 3v1m0 5v1m0 15v1m0 24v1M46 1v1m0 8v1m0 22v1m0 4v1m0 8v1m0 31v1m0 18v1M47 4v1m0 69v1m0 5v1m0 9v1m0 2v1M48 16v2m0 62v1M49 36v2m0 16v2m0 18v2m0 11v1M50 1v1m0 6v3m0 12v1m0 3v1m0 2v1m0 3v1m0 17v1m0 2v1M51 4v1m0 6v1m0 30v1m0 1v1m0 11v1m0 17v1m0 20v1M52 45v1m0 5v1m0 34v1m0 9v1M53 47v1m0 11v1m0 8v1m0 5v1m0 3v1m0 9v1m0 1v2m0 1v1M54 51v1m0 40v1M55 0v1m0 20v1M56 21v1m0 23v1M57 18v1m0 24v1m0 42v1m0 1v1M58 15v1m0 3v2m0 4v1m0 16v2m0 10v1m0 31v1M59 1v1m0 11v1m0 40v1M60 1v1m0 1v1m0 14v1m0 1v1m0 21v1m0 5v1M61 87v1M62 0v1m0 1v1m0 18v1m0 9v1M63 23v1m0 5v1m0 1v1m0 47v1m0 6v1M65 36v1m0 20v1m0 34v1M66 24v1m0 32v1m0 1v2M67 1v1m0 27v1M68 8v1m0 59v1m0 5v1m0 3v1M69 5v1m0 27v1m0 38v1m0 13v1M70 4v1m0 9v1m0 10v1m0 5v1m0 27v2m0 21v1m0 7v1M71 38v1m0 16v1m0 9v1m0 18v1M72 4v1m0 34v1m0 25v1m0 17v1M73 29v1m0 9v1m0 53v1M74 22v1m0 2v2m0 4v1m0 3v1m0 6v1m0 8v1m0 12v1m0 10v1M75 17v1m0 26v1M76 13v1m0 41v1m0 5v1m0 26v1M77 27v1m0 21v1m0 18v1m0 29v1M78 6v1m0 14v1m0 6v1m0 16v1m0 3v1m0 9v1m0 37v2M79 18v1m0 1v1m0 47v1m0 5v1m0 10v1M80 1v1m0 2v1m0 18v1m0 2v1m0 1v1m0 4v1m0 39v1M81 31v1M82 21v1m0 14v1m0 1v1m0 19v1m0 2v1M83 2v1m0 36v1m0 15v1m0 11v1m0 22v1M84 30v1m0 4v1m0 49v1M85 2v1m0 32v1m0 20v1m0 40v1M86 1v1m0 23v1m0 1v1m0 22v1m0 5v1M87 11v1m0 29v1m0 6v1m0 2v1m0 18v1M88 7v1m0 54v1m0 6v1m0 8v1M89 30v2m0 13v1m0 5v1M90 0v1m0 29v1m0 17v1M91 20v1m0 29v1m0 37v1M92 10v1m0 56v2M93 16v1m0 20v1m0 23v1m0 7v1m0 1v1M94 15v2m0 13v1m0 57v1M95 1v1m0 33v1m0 14v1m0 11v1m0 6v1m0 28v2M96 2v1m0 17v1m0 15v1m0 34v1M97 1v1m0 1v1m0 24v1m0 8v1m0 7v1M98 18v1m0 2v1m0 6v1m0 11v2M99 0v1m0 16v1m0 7v1m0 11v1m0 7v1m0 29v1"/><path stroke="#404040" d="M0 2v1m0 9v2m0 12v3m0 8v1m0 37v1M1 11v1m0 9v1m0 3v1m0 47v1m0 1v1m0 4v1m0 14v1M2 7v1m0 2v2m0 52v1m0 11v1M3 20v1m0 7v2m0 19v1m0 38v1m0 8v1m0 1v1M4 5v1m0 22v1m0 6v1M5 29v1m0 14v1m0 20v1m0 18v1M6 14v1m0 4v1m0 4v2m0 15v1m0 41v1m0 4v1m0 1v1m0 8v1M7 5v1m0 20v1m0 14v1m0 5v1m0 15v1M8 25v2m0 5v1m0 2v1m0 2v1m0 41v1m0 3v2M9 36v1m0 42v1m0 14v1M10 9v2m0 4v1m0 58v1m0 4v1m0 1v1m0 4v2m0 4v1M11 14v1m0 13v1m0 31v1m0 4v1m0 28v1M12 9v1m0 23v1m0 7v1m0 10v1m0 42v1M13 31v1m0 8v1m0 8v1m0 15v1m0 16v1m0 13v1M14 0v2m0 17v1m0 6v1m0 10v2m0 15v1m0 14v1m0 25v1M15 33v1m0 25v1m0 8v2m0 18v1M16 7v2m0 19v1m0 4v1m0 38v1m0 10v1M17 0v1m0 14v1M18 47v1m0 49v1M19 12v1m0 3v1m0 6v1m0 6v1m0 12v1M20 21v1m0 38v2m0 36v1M21 9v1m0 38v1M22 30v1m0 53v1M23 53v1m0 11v1M24 6v1m0 14v1M25 17v1m0 12v1m0 13v1m0 41v1M26 2v1m0 5v1m0 17v1m0 34v1m0 8v1m0 6v1M27 82v1M28 61v1m0 14v1M29 10v1m0 3v1m0 15v1m0 30v1m0 4v1m0 19v1M30 1v1m0 4v1m0 36v1m0 2v1m0 19v1m0 4v1m0 22v1M31 26v2m0 3v1m0 8v1m0 3v1m0 10v1m0 10v1m0 5v1M32 23v1m0 9v1m0 12v1m0 29v1m0 17v1m0 4v1M33 26v1m0 6v1m0 47v1m0 9v1M34 7v1m0 3v1m0 6v1m0 2v1m0 4v1m0 21v1m0 10v1m0 19v1m0 3v1m0 3v1m0 6v1M35 5v1m0 3v1m0 1v1m0 6v1m0 2v1m0 36v1m0 16v1m0 1v1M36 14v1m0 4v1m0 9v1m0 26v1m0 21v1m0 9v1m0 6v1M37 5v1m0 8v1m0 1v1m0 6v1m0 10v2m0 43v1m0 8v3M38 19v1m0 28v1m0 20v1m0 23v1M39 11v1m0 7v1m0 2v2m0 1v1m0 2v1m0 6v1m0 1v1m0 2v1m0 3v1m0 12v1m0 2v2M40 33v1m0 8v1m0 18v1m0 17v1m0 3v1M41 14v1m0 13v1m0 21v1m0 14v1m0 13v1M42 36v1m0 34v1m0 3v1m0 11v1M43 43v1m0 28v1m0 12v2M44 21v1m0 15v1m0 6v1m0 6v1m0 8v1m0 11v1m0 4v1M45 0v1m0 18v1m0 19v1m0 45v1M46 9v1m0 22v1m0 9v1m0 10v1m0 36v1M47 12v1m0 7v1m0 10v1m0 8v1M48 30v1m0 11v1m0 15v1m0 9v1M49 1v1m0 29v1m0 21v1m0 2v1M50 6v1m0 21v1m0 27v1m0 32v1m0 5v1M51 6v1m0 21v1m0 6v1m0 12v1m0 36v1m0 4v1M52 25v1M53 5v1m0 2v1m0 20v1m0 16v1m0 1v1m0 2v1m0 17v1M54 3v1m0 16v1m0 61v1m0 5v1m0 2v1m0 1v1M55 18v1m0 59v1M56 15v1m0 70v1M57 33v1m0 13v1m0 11v3M58 30v1m0 2v1m0 13v1m0 4v2M59 19v2m0 5v1m0 13v2m0 4v1M60 2v1m0 33v1m0 9v1M61 2v1m0 7v2m0 6v1m0 41v1m0 14v1m0 18v1M62 13v1m0 45v1M63 24v1m0 44v2m0 22v1m0 4v1M64 27v1m0 34v1M65 26v1m0 7v1m0 2v1m0 16v1m0 3v1m0 8v1m0 12v1m0 17v1M66 14v1m0 11v1m0 14v1m0 37v1M67 14v1m0 2v1m0 1v1m0 24v1m0 14v2m0 37v1M68 10v1m0 2v1m0 28v1m0 2v1m0 1v1M69 15v2m0 9v1m0 19v1m0 22v1m0 9v1m0 4v1m0 6v1M70 3v1m0 11v1m0 30v1m0 3v1m0 6v2m0 10v1m0 9v1M71 14v1m0 45v1m0 2v1m0 25v1M72 1v1m0 4v1m0 11v1m0 53v1M73 17v1m0 13v1m0 16v1m0 2v1m0 6v1m0 18v2m0 17v1M74 10v2m0 37v1m0 7v1m0 35v1M75 10v1m0 23v1m0 1v1m0 32v1m0 5v2m0 3v1m0 6v1m0 5v1M76 10v1m0 14v1m0 1v1m0 3v1m0 4v1m0 13v1m0 11v1m0 4v1m0 1v1m0 11v1m0 1v1M77 60v1m0 27v1m0 8v1M78 5v1m0 1v1m0 6v1m0 21v1m0 37v1M79 4v1m0 3v2m0 9v1m0 1v1m0 7v1m0 7v1m0 13v1m0 7v1m0 33v1M80 7v1m0 10v1m0 2v1m0 8v1m0 37v1m0 16v1M81 7v1m0 50v2m0 8v1M82 6v1m0 16v1m0 6v1m0 36v1M83 11v1m0 26v1m0 3v1M84 16v2m0 18v1m0 18v1m0 7v1M85 19v1m0 10v1M86 6v1m0 79v1M87 37v1m0 2v1m0 22v2m0 14v1m0 5v1m0 1v1M88 10v1m0 14v1m0 12v1m0 13v1m0 20v1m0 5v1m0 6v1m0 10v1M89 10v1m0 37v1m0 7v1m0 4v1M90 19v1m0 31v1M91 11v1m0 36v1m0 12v1m0 27v1M92 19v1m0 68v1m0 3v1M93 3v1m0 42v1m0 1v1m0 21v1m0 5v1m0 22v1M94 5v1m0 42v1m0 13v1m0 9v1M95 0v1m0 1v1m0 13v1m0 3v1m0 7v1m0 1v1m0 35v1m0 3v5m0 14v1m0 6v1M96 35v1m0 29v1m0 1v1M97 21v1m0 16v1m0 10v1m0 14v2m0 5v1M98 2v1m0 2v2m0 7v1m0 2v1m0 31v1M99 5v2m0 9v1m0 33v1"/><path stroke="#4a4a4a" d="M0 3v1m0 27v1m0 1v1m0 31v1m0 24v1m0 7v1M1 0v1m0 4v1m0 14v1m0 3v1m0 5v1m0 3v1m0 32v1m0 22v1M2 6v1m0 5v1m0 3v1m0 25v1m0 14v1m0 19v1M3 1v1m0 14v1m0 35v2m0 10v1M4 7v1m0 8v1m0 6v1m0 70v1m0 2v1M5 22v1m0 15v1m0 8v1m0 7v1m0 6v1m0 32v1M6 23v1m0 14v1m0 6v2m0 18v1m0 1v1m0 6v1M7 34v1m0 8v1m0 4v2m0 7v2m0 6v1m0 23v2M8 1v1m0 5v1m0 25v1m0 6v2m0 49v1M9 1v1m0 12v1m0 11v1m0 24v1m0 35v1M10 4v1m0 9v1m0 1v1m0 15v1m0 5v1m0 8v1m0 42v1M11 21v1m0 1v1m0 9v1m0 59v1M12 29v1m0 2v1m0 10v2m0 9v1m0 24v1m0 14v1m0 4v1M13 19v2m0 9v1m0 2v1m0 3v2m0 11v2m0 26v1m0 14v2M14 18v1m0 31v1m0 10v1m0 10v1m0 3v1m0 5v1M15 15v1m0 21v1m0 34v1m0 3v1m0 18v1M16 6v1m0 12v1m0 4v1m0 45v1m0 13v1M17 8v1m0 1v2m0 12v1m0 8v1m0 13v2m0 48v1M18 8v1m0 6v1m0 36v1m0 2v1m0 15v1m0 10v1m0 3v1M19 1v1m0 6v1m0 10v1m0 7v2m0 13v1m0 30v1m0 6v1m0 4v2M20 19v1m0 3v1m0 10v2m0 36v1m0 19v1M21 10v1m0 3v1m0 38v2m0 3v1m0 7v1m0 1v1M22 13v1m0 9v2m0 22v1m0 7v1m0 22v1m0 3v2M23 0v1m0 3v1m0 12v1m0 20v1m0 39v1M24 29v1m0 15v1m0 6v1m0 9v1m0 14v1M25 46v1m0 12v1m0 11v1m0 2v1m0 14v1M26 17v1m0 1v1m0 19v1m0 7v1m0 8v1m0 12v1m0 6v1M27 6v1m0 4v1m0 10v1m0 37v1m0 15v1m0 19v1M28 8v1m0 77v1m0 10v1m0 1v1M29 54v1m0 19v1m0 1v2m0 16v1M30 8v1m0 9v1m0 3v1m0 13v1m0 12v3m0 33v1M31 1v2m0 14v1m0 4v1m0 2v1m0 17v1m0 10v1m0 10v1m0 4v2M32 17v1m0 16v1m0 18v1m0 9v1m0 31v1M33 4v1m0 3v1m0 18v1m0 2v1m0 9v1m0 37v3m0 11v1m0 2v1M34 36v1m0 12v1m0 41v1m0 3v1M35 8v1m0 23v2m0 12v1M36 37v1m0 6v1m0 3v1m0 6v1m0 10v1m0 30v1M37 2v1m0 24v2m0 2v1m0 9v1m0 7v1m0 6v1m0 23v1m0 16v1M38 5v1m0 12v1m0 7v2m0 1v1m0 5v2m0 10v1m0 4v2m0 14v1m0 1v1m0 12v2M39 0v1m0 35v1m0 15v1m0 6v1m0 22v1m0 8v1M40 0v1m0 6v3m0 25v1m0 37v1m0 6v1m0 11v2M41 0v1m0 10v1m0 25v1m0 4v1m0 39v1M42 10v1m0 2v1m0 20v1m0 2v1m0 3v1m0 1v1m0 35v1m0 1v1M43 29v1m0 8v3m0 1v1m0 7v1m0 43v1M44 7v1m0 16v1m0 7v1m0 6v2m0 9v1m0 1v1m0 22v1m0 2v1m0 7v1M45 11v1m0 9v1m0 7v1m0 6v1m0 17v1M46 0v1m0 6v1m0 18v1m0 12v2m0 5v1m0 5v1m0 25v1m0 1v1m0 8v1M47 23v2m0 17v1M48 23v1m0 32v1m0 9v1M49 2v1m0 20v1m0 3v1m0 1v1m0 27v1m0 20v1M50 29v1m0 23v2m0 20v1m0 10v1M51 2v1m0 2v1m0 12v1m0 1v1m0 6v1m0 1v1m0 15v2m0 50v1M52 28v2m0 9v1m0 12v1m0 3v1M53 7v1m0 1v1m0 4v1m0 9v1m0 27v1m0 1v1m0 22v1M54 4v1m0 14v1m0 9v1m0 22v1m0 5v1m0 22v1M55 1v1m0 38v1m0 2v4m0 39v1m0 1v1M56 3v1m0 1v2m0 61v1M57 3v1m0 10v1m0 12v1m0 3v1m0 10v1m0 5v1m0 9v1m0 3v1m0 13v2M58 2v1m0 10v1m0 2v3m0 21v2m0 9v1m0 3v1m0 12v1m0 1v1M59 18v1m0 2v1m0 13v1m0 2v1m0 16v1m0 15v1m0 8v2M60 14v1m0 32v1m0 18v1m0 7v1m0 12v1m0 8v1M61 3v4m0 29v1m0 11v1m0 27v1m0 9v1m0 10v1M62 5v1m0 23v1m0 7v1m0 56v1M63 2v1m0 4v1m0 2v1m0 70v1m0 10v1M64 85v1m0 13v1M65 42v1m0 13v1m0 28v1M66 23v1m0 43v1m0 15v1M67 0v1m0 24v1m0 40v2m0 2v1m0 7v1m0 4v1m0 2v1M68 5v1m0 10v1m0 1v2m0 2v1m0 4v1m0 15v2m0 3v1M69 14v1m0 3v1m0 3v1m0 2v1m0 9v1m0 9v1m0 20v1m0 10v1M70 34v1m0 57v1M71 0v1m0 4v1m0 19v1m0 3v2m0 3v1m0 5v1m0 4v2m0 4v1m0 7v1m0 2v1m0 4v1m0 24v2M72 5v1m0 16v1m0 59v1m0 1v1m0 4v1m0 8v1M73 4v1m0 11v1m0 1v1m0 78v1M74 5v1m0 6v1m0 4v2m0 39v1m0 6v1m0 2v1m0 3v1M75 19v1m0 22v1m0 22v1m0 17v1M76 15v1m0 3v1m0 4v1m0 5v1m0 4v1m0 5v1m0 40v1m0 1v1m0 7v2M77 9v1m0 3v1m0 11v1m0 9v1m0 51v1m0 4v1M78 15v1m0 3v1m0 9v1m0 40v1m0 16v2M79 44v1m0 9v1m0 14v1M80 8v2m0 10v1m0 43v1M81 2v1m0 24v1m0 1v1m0 8v1m0 28v1M82 49v1m0 6v1m0 33v1M83 16v1m0 19v2m0 19v1M84 2v1m0 8v1m0 42v1m0 43v1M85 0v1m0 25v1m0 9v1m0 24v1m0 1v1m0 4v2m0 23v1M86 2v1m0 2v1m0 34v1m0 20v1m0 5v1m0 4v1M87 6v2m0 4v1m0 4v1m0 1v1m0 22v1m0 9v1m0 5v1m0 2v1m0 15v1m0 16v1M88 1v1m0 42v2m0 2v1m0 12v1m0 2v2m0 1v1m0 12v1m0 15v1M89 22v1m0 6v1m0 2v1m0 51v1M90 1v1m0 11v1m0 4v1m0 1v1m0 10v1m0 27v1m0 1v1m0 6v1m0 26v1M91 4v2m0 6v1M92 6v1m0 8v2m0 7v1m0 23v1m0 13v1m0 13v1m0 21v2M93 1v1m0 8v1m0 22v1m0 4v1m0 5v1m0 8v1m0 3v1m0 4v1m0 3v1m0 15v1m0 13v1M94 6v1m0 1v1m0 13v1m0 5v1m0 21v1m0 10v1m0 4v1m0 8v1m0 6v1M95 7v1m0 28v1m0 11v1m0 12v1M96 21v1m0 19v1m0 3v1m0 4v1m0 11v1m0 18v1m0 4v1m0 7v1M97 0v1m0 4v2m0 3v2m0 5v1m0 6v1m0 53v1M98 1v1m0 10v1m0 19v2m0 11v1m0 16v1m0 32v1M99 10v1m0 1v1m0 2v1m0 23v2m0 33v1"/><path stroke="#535353" d="M0 53v1M1 9v1m0 16v1m0 2v1m0 6v1m0 14v1m0 6v1M2 8v2m0 3v1m0 37v1m0 15v1M3 3v1m0 2v1m0 14v1m0 13v1m0 5v1m0 6v1m0 30v1m0 13v1m0 4v1M4 13v1m0 8v1m0 4v1m0 16v1m0 20v1m0 30v1m0 1v2M5 36v1m0 6v1m0 7v1m0 38v1m0 5v2M6 8v2m0 5v1m0 10v1m0 2v1m0 6v2m0 20v1m0 13v1M7 0v1m0 2v1m0 11v1m0 9v1m0 1v1m0 10v1m0 13v1m0 21v1m0 9v1M8 2v1m0 36v1m0 18v1m0 2v1m0 17v1m0 12v1m0 3v1m0 2v1M9 32v1m0 8v1m0 5v1m0 22v1M10 23v2m0 3v1m0 65v1M11 5v1m0 1v1m0 9v1m0 6v1m0 7v1m0 39v1m0 2v1m0 5v1m0 7v1m0 9v1M12 1v1m0 5v1m0 4v1m0 6v1m0 3v2m0 14v2m0 4v1M13 11v1m0 27v1m0 21v2m0 21v1M14 12v1m0 4v1m0 15v1m0 6v1m0 3v2m0 7v1m0 5v2m0 16v1m0 12v1M15 8v1m0 9v1m0 1v2m0 1v1m0 26v1m0 22v1m0 1v1m0 13v1m0 6v1M16 9v1m0 27v1m0 25v1m0 10v1M17 1v1m0 2v1m0 14v2m0 31v1m0 3v1m0 4v1m0 7v2m0 8v1M18 11v1m0 7v1m0 39v1m0 18v1M19 3v1m0 6v1m0 18v1m0 5v1m0 16v1m0 24v1M20 15v1m0 2v1m0 19v1m0 38v1M21 0v1m0 7v1m0 13v1m0 5v1m0 9v1m0 36v1m0 16v1m0 1v2m0 2v1M22 38v1m0 36v1m0 3v1m0 7v1m0 6v1M23 13v1m0 6v1m0 2v1m0 21v2m0 9v1m0 6v1m0 4v1m0 2v1m0 4v1M24 5v1m0 1v1m0 3v1m0 6v1m0 19v1m0 3v1m0 15v1m0 12v1m0 6v1m0 7v1m0 5v1M25 7v2m0 3v1m0 34v2m0 20v1m0 7v1m0 14v1M26 22v1m0 23v1m0 12v1M27 3v1m0 4v1m0 9v2m0 1v1m0 17v2m0 37v1m0 11v1m0 4v1M28 5v1m0 4v1m0 3v1m0 6v2m0 3v1m0 68v2m0 1v1M29 13v1m0 7v2m0 47v1m0 4v1m0 9v1M30 14v1m0 13v1m0 5v1m0 7v1m0 9v1m0 1v1m0 12v2M31 7v1m0 26v1m0 1v1m0 5v1m0 24v1m0 8v1m0 5v1m0 16v1M32 0v1m0 17v1m0 2v1m0 33v1m0 10v1m0 4v1m0 14v1M33 3v1m0 15v1m0 3v1m0 46v1m0 4v1m0 14v1m0 2v1m0 3v1M34 47v1m0 15v1m0 6v1m0 4v1m0 6v1m0 10v1M35 3v2m0 9v1m0 14v1m0 15v1m0 30v1m0 20v1M36 5v1m0 1v1m0 2v1m0 2v1m0 7v2m0 31v1m0 2v2m0 5v1m0 25v2M37 1v1m0 27v1m0 6v1m0 10v1m0 5v1m0 10v1m0 2v1M38 40v2m0 3v2m0 20v1m0 13v1M39 38v2m0 1v1m0 5v1m0 8v1m0 11v1M40 3v1m0 33v1m0 19v1m0 14v1m0 3v1m0 5v1m0 2v1M41 3v1m0 9v1m0 22v1m0 10v1m0 23v1m0 9v1M42 0v2m0 3v1m0 58v3m0 5v1m0 15v2M43 0v1m0 20v1m0 5v2m0 7v2m0 3v1m0 16v1m0 15v1m0 6v1m0 6v1m0 4v1M44 0v1m0 3v1m0 1v1m0 12v1m0 25v1m0 10v1m0 22v1m0 1v1m0 1v1m0 10v2M45 1v1m0 31v1m0 6v1m0 19v1m0 9v1m0 8v1m0 1v1m0 4v1m0 1v1m0 6v1m0 3v1M46 13v1m0 45v1m0 27v2m0 6v1M47 2v1m0 8v1m0 13v1m0 8v1m0 4v1m0 28v1m0 29v1M48 5v1m0 15v2m0 12v1m0 1v1m0 2v2M49 0v1m0 27v1m0 48v1M50 3v1m0 9v1m0 4v1m0 7v1m0 18v1m0 11v1m0 16v1M51 58v1m0 16v1M52 14v1m0 5v1m0 51v1m0 24v1M53 15v1m0 9v1m0 2v1m0 5v2m0 17v1m0 2v1m0 3v1m0 18v1m0 9v1M54 5v1m0 41v1m0 6v1m0 4v1M55 3v3m0 41v1m0 19v1m0 23v1M56 4v1m0 19v1m0 1v1m0 15v1m0 16v1m0 6v1m0 11v1M57 8v1m0 4v1m0 10v1m0 42v2m0 6v1M58 29v1m0 4v1m0 4v1M59 2v2m0 8v1m0 12v1m0 1v1m0 6v1m0 29v1m0 9v1m0 7v2m0 1v1M60 25v1m0 15v1m0 1v1m0 9v2m0 13v1m0 16v1m0 9v1M61 7v1m0 12v1M62 3v2m0 2v1m0 24v1m0 5v3m0 17v1M63 3v1m0 13v1m0 4v1m0 9v1M64 13v1m0 4v1m0 18v1m0 14v2m0 12v2m0 10v1m0 12v1m0 2v1M65 14v1m0 10v1m0 1v1m0 13v1m0 6v1m0 1v1m0 1v1m0 2v1m0 30v1m0 4v1M66 0v1m0 15v1m0 18v1m0 7v1m0 9v1m0 16v2m0 2v1m0 9v3m0 5v1M67 13v1m0 14v1m0 16v1m0 11v1m0 17v1m0 3v1m0 4v1m0 14v1M68 14v1m0 2v1m0 2v2m0 29v1m0 14v1m0 2v1m0 1v1m0 7v1m0 3v1m0 3v1m0 3v1m0 6v1M69 6v1m0 6v1m0 5v1m0 29v1m0 6v1m0 7v1m0 22v1M70 5v1m0 21v1m0 4v2M71 15v1m0 45v1M72 23v2m0 42v2M73 25v1m0 1v1m0 13v1m0 3v1m0 1v1m0 1v1m0 23v1m0 9v2M74 6v2m0 31v3m0 14v1m0 38v1M75 13v1m0 35v1m0 1v1m0 2v1m0 9v1m0 2v1m0 6v1m0 4v1m0 4v1m0 9v1M76 6v1m0 10v1m0 19v1m0 6v1m0 4v1m0 3v1M77 6v3m0 25v1m0 6v1m0 2v1m0 25v1m0 12v1m0 15v1M78 18v1m0 41v1m0 12v1m0 1v1m0 1v1m0 14v1m0 6v1M79 0v2m0 8v1m0 11v1m0 26v1m0 22v1m0 4v1m0 6v1m0 1v3m0 3v1M80 2v1m0 16v1m0 9v1m0 8v1m0 12v1m0 3v1m0 16v1m0 1v1m0 9v1m0 1v1M81 73v1m0 17v1M82 0v1m0 13v3m0 16v1m0 5v1m0 1v1m0 5v1m0 45v1M83 3v1m0 11v1m0 18v1m0 19v1M84 24v1m0 15v2m0 24v1m0 17v1m0 14v1M85 16v1m0 5v1m0 6v1m0 1v1m0 21v1m0 31v1m0 6v1M86 19v1m0 9v1m0 29v1m0 3v1m0 16v2m0 12v1m0 2v2M87 21v1m0 4v1m0 1v1m0 9v2m0 15v1m0 18v1m0 5v1M88 8v1m0 49v1m0 18v1m0 6v1M89 44v1m0 13v1m0 1v1m0 24v1m0 5v1m0 3v1M90 21v1m0 1v1m0 4v1m0 18v1m0 49v1M91 51v1m0 7v1m0 12v1m0 20v1m0 2v1m0 2v1M92 20v2m0 49v1m0 5v1m0 13v1m0 5v1M93 2v1m0 9v1m0 4v1m0 63v1M94 17v1m0 58v1m0 4v1m0 8v1M95 23v1m0 2v1m0 36v1m0 11v1m0 9v1m0 7v3M96 3v1m0 13v1m0 1v1m0 28v1m0 24v1m0 15v1M97 18v1m0 21v1m0 9v1M98 24v1m0 43v1M99 31v1m0 9v1m0 4v1m0 14v1m0 7v1m0 25v1"/><path stroke="#5d5d5d" d="M0 0v1m0 4v1m0 16v1m0 35v1m0 14v1m0 15v1m0 3v1M1 10v1m0 22v1m0 4v1m0 10v1m0 24v1M2 19v1m0 9v2m0 3v1m0 23v1m0 14v1m0 16v1M3 2v1m0 7v2m0 38v1m0 6v1m0 29v1m0 2v1m0 5v1M4 18v1m0 5v1m0 9v1m0 23v1m0 1v1m0 2v1m0 10v1m0 17v1M5 0v1m0 7v1m0 10v1m0 5v1m0 2v1m0 8v1m0 4v1m0 5v1m0 4v2M6 1v1m0 18v1m0 9v2m0 10v1m0 6v1m0 2v1m0 18v1m0 13v1M7 1v1m0 29v1m0 12v1M8 4v1m0 37v1m0 6v1m0 17v1m0 18v1M9 24v1m0 36v1m0 10v1m0 20v1m0 1v1M10 1v1m0 24v1m0 10v1m0 19v1m0 26v1M11 12v1m0 40v1m0 25v1m0 8v1M12 16v1m0 4v2m0 5v1m0 21v1m0 16v1m0 1v1m0 11v1m0 1v1m0 12v1M13 3v1m0 4v1m0 20v1m0 51v1M14 3v1m0 3v1m0 12v3m0 20v1m0 7v1m0 3v1m0 17v1m0 20v1m0 1v1M15 3v1m0 13v1m0 10v1m0 29v1m0 32v1M16 10v3m0 3v1m0 4v1m0 4v1m0 20v2m0 10v1m0 2v1m0 5v1m0 2v1m0 16v1m0 10v1M17 16v1m0 64v1m0 6v1m0 6v1M18 16v1m0 7v1m0 9v1m0 14v1m0 13v1m0 21v1m0 10v1m0 1v1M19 2v1m0 12v1m0 1v1m0 20v1m0 19v1m0 22v1m0 16v1M20 52v1m0 6v1m0 2v1m0 10v1m0 13v1m0 3v1M21 15v1m0 8v1m0 4v1m0 2v2m0 42v2m0 4v2m0 7v1m0 1v1m0 5v1M22 27v1m0 8v1m0 4v1m0 1v1m0 10v1m0 1v1m0 8v1m0 10v1M23 7v1m0 6v1m0 4v1m0 14v2m0 7v1m0 14v1m0 2v1M24 23v1m0 2v1m0 19v1m0 23v1m0 22v1M25 1v1m0 36v1m0 43v1m0 4v1m0 8v1m0 1v2M26 1v1m0 16v1m0 5v1m0 5v1m0 27v1m0 12v1m0 3v1m0 4v1m0 3v1m0 1v1m0 4v1M27 1v1m0 18v1m0 4v1m0 25v1m0 34v1m0 2v1M28 4v1m0 4v1m0 34v1m0 15v1m0 5v1m0 27v1M29 3v1m0 1v1m0 2v1m0 26v1m0 2v1m0 14v1m0 6v1m0 8v1m0 25v1M30 29v1m0 39v2m0 5v1m0 18v1M31 18v1m0 9v1m0 1v1m0 2v1m0 7v1m0 6v3m0 2v1m0 2v1m0 5v1m0 32v1M32 8v1m0 17v1m0 9v1m0 2v1m0 1v1m0 6v1m0 3v1m0 1v1m0 14v1m0 19v1m0 7v1M33 14v1m0 5v1m0 4v1m0 2v2m0 18v1m0 28v1m0 9v1m0 10v1M34 4v1m0 18v1m0 1v1m0 3v1m0 2v1m0 27v1m0 11v1m0 3v1m0 8v1m0 4v1m0 1v1m0 3v2M35 47v2m0 19v1m0 1v1m0 3v1m0 4v1M36 26v1m0 14v1m0 7v1m0 24v1m0 14v1M37 15v1m0 6v1m0 55v1m0 8v1m0 8v1m0 1v1M38 34v1m0 2v1m0 16v2m0 6v1m0 12v1m0 12v1M39 6v1m0 3v1m0 4v1m0 4v2m0 54v1M40 6v1m0 8v1m0 2v1m0 8v2m0 1v2m0 15v1m0 3v1m0 6v1m0 18v1m0 6v1m0 1v1M41 5v1m0 19v1m0 46v1m0 7v1M42 11v2m0 29v1m0 1v1m0 2v1m0 14v1m0 17v1M43 22v1m0 3v1m0 20v1m0 11v1m0 1v1m0 5v1m0 5v1m0 5v2m0 10v2M44 11v1m0 49v1m0 18v1M45 75v2m0 3v1M46 75v1M47 1v1m0 35v1m0 20v1m0 6v1m0 28v1M48 3v1m0 8v1m0 7v1m0 8v1m0 14v1m0 10v1m0 31v1m0 3v1M49 8v1m0 17v1m0 31v1m0 17v1m0 2v1m0 1v2M50 5v1m0 5v1m0 2v1m0 16v1m0 3v1m0 15v1m0 45v1M51 12v2m0 10v1m0 1v1m0 33v1m0 8v1m0 3v1M52 42v1m0 16v2m0 34v1M53 21v1m0 15v1m0 17v1m0 26v1m0 11v1m0 3v1M54 18v1m0 21v1m0 14v1m0 23v1m0 6v1M55 2v1m0 48v1M56 25v1m0 6v1m0 4v2m0 9v1M57 4v1m0 16v1m0 7v1m0 2v1m0 21v1M58 8v1m0 12v1m0 1v1m0 4v1m0 2v1m0 33v1m0 3v1m0 1v1m0 2v1m0 2v1m0 3v1M59 11v1m0 4v2m0 26v1m0 6v1m0 15v1m0 9v1m0 10v1M60 4v1m0 10v1m0 18v1m0 4v1m0 12v1m0 2v1m0 11v1m0 1v1m0 3v1m0 25v1M61 9v1m0 2v1m0 6v1m0 10v1m0 6v1m0 11v1m0 15v1m0 6v2M62 17v1m0 68v1m0 3v1m0 7v1M63 1v1m0 4v1m0 20v1m0 10v2m0 48v1m0 5v1m0 2v1M64 8v1m0 3v1m0 3v1m0 2v1m0 8v1m0 13v1m0 11v4M65 9v1m0 6v1m0 3v1m0 28v1m0 1v1m0 7v2m0 23v1m0 8v1M66 1v1m0 2v1m0 27v1m0 21v1m0 6v1m0 3v1M67 9v1m0 6v1m0 23v1m0 28v1m0 15v1m0 4v1M68 6v2m0 4v1m0 22v1m0 13v2m0 1v1m0 31v2M69 4v1m0 5v1m0 6v1m0 29v1m0 15v1m0 21v1m0 6v1M70 0v1m0 17v1m0 16v1m0 28v1m0 8v1m0 2v1M71 6v1m0 11v1m0 4v1m0 9v1m0 5v1m0 3v1m0 9v1m0 42v1M72 7v1m0 2v1m0 2v1m0 1v1m0 1v1m0 11v1m0 2v1m0 13v1m0 4v1m0 10v1m0 10v1M73 3v1m0 26v1m0 15v1m0 16v1m0 1v1m0 24v1M74 9v1m0 28v1m0 6v1m0 1v1m0 25v2m0 8v2M75 4v2m0 8v1m0 17v1m0 4v1m0 3v1m0 24v1m0 6v1m0 3v1M76 28v2m0 12v2m0 19v1m0 33v1M77 20v1m0 15v1m0 3v1m0 22v1m0 3v1m0 12v1m0 3v1M78 4v1m0 5v1m0 14v1m0 6v1m0 7v1m0 35v1m0 7v3M79 32v1m0 12v1m0 2v1m0 22v1M80 3v1m0 55v1m0 9v1m0 10v1m0 6v1M81 15v1m0 1v1m0 2v1m0 5v1m0 6v2m0 29v1m0 4v1m0 4v1m0 5v1M82 3v1m0 1v1m0 28v1m0 5v1m0 1v1m0 11v1m0 11v1m0 9v1M83 1v1m0 8v1m0 13v1m0 10v1m0 49v1m0 6v1M84 3v1m0 11v1m0 7v1m0 5v1m0 1v1m0 21v1m0 15v1m0 5v1m0 14v2M85 3v1m0 19v1m0 3v1m0 19v1m0 32v1M86 16v1m0 5v1m0 18v1m0 9v1m0 1v1m0 17v1M87 20v1m0 22v1m0 21v1M88 6v1m0 10v1m0 13v2m0 6v1m0 2v1m0 12v1m0 7v1m0 10v1m0 12v1m0 3v1m0 3v1M89 17v1m0 28v2m0 24v1M90 10v1m0 41v1m0 19v1M91 18v1m0 2v1m0 5v1m0 62v1m0 4v1M92 3v1m0 4v2m0 18v1m0 4v1m0 5v1m0 4v2m0 4v1m0 6v3m0 27v1m0 1v1m0 6v1M93 0v1m0 13v1m0 9v1m0 5v1m0 16v1m0 2v1m0 7v1m0 1v1m0 13v1m0 2v1m0 9v1M94 20v1m0 36v1m0 7v1m0 20v1m0 4v1M95 17v1m0 9v1m0 13v1m0 39v2m0 7v1M96 37v1m0 23v1m0 1v2m0 3v1m0 6v1m0 9v1m0 9v1m0 3v1M97 15v1m0 47v1m0 2v1m0 13v2m0 12v1M98 0v1m0 12v1m0 32v1m0 8v1m0 42v1M99 14v1m0 12v1m0 23v1m0 4v1m0 10v1m0 8v1m0 7v1m0 13v1"/><path stroke="#676767" d="M0 4v1m0 3v1m0 7v1m0 15v1m0 2v2m0 15v1M1 16v1m0 14v1m0 16v1m0 1v1m0 8v1m0 21v1M2 15v1m0 15v1m0 1v1m0 7v1m0 5v1m0 8v1m0 11v2M3 7v1m0 19v1m0 2v2m0 2v1m0 9v1m0 13v1m0 15v2m0 13v1M4 30v1m0 10v1m0 11v1m0 5v1m0 15v1m0 14v1m0 4v1M5 9v1m0 5v1m0 11v1m0 5v1m0 7v1m0 3v1m0 4v1m0 1v1m0 5v1m0 14v2m0 8v1m0 14v1M6 3v1m0 18v1m0 20v1m0 25v1m0 6v1M7 2v1m0 1v1m0 3v2m0 8v3m0 8v2m0 29v1m0 12v1M8 27v1m0 6v1m0 8v1m0 3v1m0 4v1m0 6v2m0 4v1m0 10v1m0 13v1M9 9v1m0 23v1m0 23v1m0 15v1m0 2v1m0 21v1M10 33v1m0 5v1m0 10v1m0 15v1m0 4v1m0 3v1M11 6v1m0 19v1m0 20v1M12 4v1m0 20v1m0 21v1m0 3v1m0 16v1m0 15v1m0 2v1M13 48v1m0 11v1m0 9v1m0 20v2M14 6v1m0 4v1m0 22v1m0 21v1m0 14v1M15 25v1m0 15v1m0 12v1m0 19v1m0 12v1M16 3v1m0 14v1m0 30v1m0 2v1m0 39v1m0 4v1M17 5v1m0 65v1m0 2v1m0 5v1m0 5v2m0 10v1M18 2v1m0 7v1m0 29v1m0 29v1m0 16v1M19 4v1m0 44v1m0 20v1m0 11v1m0 8v2m0 4v1M20 0v1m0 3v1m0 26v1m0 10v1m0 28v1m0 12v1m0 8v1m0 1v1M21 18v1m0 33v1m0 4v1m0 4v1m0 2v1m0 6v1m0 1v1m0 5v1m0 7v1M22 4v2m0 9v2m0 17v1m0 11v1m0 10v1m0 13v1m0 5v1m0 3v1m0 7v1m0 5v1M23 25v1m0 1v1m0 16v1m0 2v1m0 22v1m0 6v1M24 8v1m0 10v1m0 15v1m0 5v1m0 2v1m0 2v1m0 39v1m0 8v1M25 2v1m0 19v1m0 4v1m0 53v1m0 1v3M26 40v1m0 27v1m0 16v1m0 11v1M27 54v1m0 13v1m0 1v1m0 20v1M28 0v1m0 17v1m0 6v1m0 8v1m0 10v1m0 6v1m0 1v2m0 8v1m0 10v1m0 2v1M29 0v1m0 17v1m0 5v1m0 9v1m0 9v1m0 2v1m0 7v1m0 7v1m0 3v2M30 0v1m0 46v1m0 5v1m0 1v1m0 4v1m0 21v1m0 3v1m0 2v1M31 29v1m0 9v1m0 12v1m0 4v1m0 10v2m0 16v1m0 11v1M32 3v2m0 9v1m0 4v1m0 4v1m0 4v1m0 26v2m0 9v2m0 5v1m0 4v1M33 36v1m0 12v1m0 3v1m0 22v1m0 19v1M34 33v1m0 24v1m0 12v1M35 2v1m0 35v1m0 2v1m0 15v1m0 30v1m0 2v1M36 0v1m0 24v1m0 19v1m0 15v1m0 9v1m0 3v1m0 1v1m0 1v1M37 12v1m0 17v1m0 31v1m0 11v2m0 16v1M38 15v1m0 1v1m0 3v1m0 37v1m0 4v1m0 22v1m0 1v2m0 7v1M39 9v1m0 17v1m0 14v1m0 5v1m0 4v1m0 1v1m0 6v1m0 10v1M40 20v1m0 29v1m0 9v1m0 1v1m0 28v1M41 49v1m0 11v1m0 1v1m0 2v1m0 18v1M42 25v1m0 20v1m0 14v1m0 12v1m0 7v1m0 15v1M43 11v1m0 4v1m0 3v1m0 12v1m0 1v1m0 30v1m0 3v1m0 13v1M44 3v1m0 1v1m0 10v1m0 5v1m0 10v1m0 21v1m0 26v1m0 5v1M45 2v1m0 6v2m0 39v1m0 21v1M46 19v1m0 1v1m0 22v2m0 12v1m0 1v1m0 23v1m0 6v1m0 4v1M47 0v1m0 12v1m0 3v1m0 29v1m0 7v1m0 1v1m0 31v1M48 0v3m0 21v1m0 39v2m0 7v1M49 5v1m0 29v1m0 2v1m0 41v1m0 11v1M50 4v1m0 7v1m0 20v1m0 26v1M51 14v1m0 4v1m0 21v1m0 13v1m0 5v1m0 10v1M52 2v1m0 8v1m0 3v1m0 3v1m0 6v2m0 10v1m0 10v1m0 11v1m0 5v1m0 7v1m0 9v1m0 5v1M53 0v1m0 1v1m0 33v1m0 8v1m0 35v1m0 13v1M54 2v1m0 18v1m0 8v1m0 5v1m0 13v1m0 2v1m0 40v1M55 36v1m0 13v1m0 15v1m0 9v1m0 5v1M56 30v2m0 1v1m0 24v1m0 17v1m0 11v1m0 2v1M57 34v1m0 6v1m0 7v2m0 34v1m0 8v1M58 3v1m0 7v2m0 9v1m0 34v1m0 24v1m0 6v1m0 4v1M59 5v2m0 21v1m0 7v2m0 7v1m0 4v1m0 15v1m0 12v1M60 11v1m0 25v1m0 2v1m0 4v1m0 3v1m0 20v1m0 6v1m0 5v1M61 8v1m0 8v1m0 11v1m0 5v1m0 10v2m0 26v1m0 15v1M62 9v1m0 40v2m0 23v2m0 1v1m0 2v1m0 6v1M63 0v1m0 27v1m0 4v1m0 6v1m0 11v1m0 25v1m0 20v1M64 3v1m0 5v1m0 1v1m0 2v1m0 11v1m0 7v1m0 3v1m0 2v1m0 28v1m0 10v1m0 5v1m0 10v1M65 3v1m0 17v2m0 20v1m0 17v2m0 2v1M66 2v1m0 2v1m0 3v1m0 5v1m0 6v1m0 27v1m0 24v1m0 2v1m0 8v1m0 3v1m0 5v1M67 5v1m0 1v1m0 7v1m0 14v2m0 36v1m0 18v1m0 1v1m0 1v2m0 1v1M68 11v1m0 3v1m0 9v2m0 11v1m0 1v1m0 22v1m0 26v1m0 1v1M69 7v1m0 12v2m0 26v1m0 11v1m0 21v1M70 8v1m0 10v1m0 24v1m0 16v1m0 3v2m0 5v1m0 13v1M71 37v1m0 14v1m0 5v1m0 7v1m0 2v1m0 16v1M72 0v1m0 13v1m0 1v1m0 8v1m0 2v1m0 1v1m0 9v1m0 25v1m0 10v1m0 8v1m0 5v1M73 5v2m0 2v1m0 16v1m0 8v1m0 21v1m0 9v1m0 3v1M74 3v1m0 63v1m0 11v1M75 11v2m0 45v1m0 19v1M76 51v1m0 27v1m0 18v1M77 5v1m0 12v2m0 8v1m0 30v1m0 14v1M78 8v2m0 12v1m0 25v1m0 14v1m0 19v1M79 2v1m0 8v1m0 5v1m0 5v1m0 23v1m0 16v1m0 5v1m0 4v2M80 17v1m0 13v1m0 31v1m0 3v1m0 2v2m0 5v1m0 3v1M81 3v2m0 3v1m0 2v1m0 2v1m0 1v1m0 11v1m0 27v1m0 6v1m0 13v2m0 2v1M82 7v1m0 3v2m0 44v1m0 4v1m0 5v1M83 6v1m0 2v1m0 11v1m0 8v1m0 2v1m0 14v2m0 15v1m0 3v2M84 1v1m0 8v1m0 14v1m0 38v2m0 1v1m0 6v1M85 5v2m0 13v2m0 3v1m0 8v1m0 15v2m0 2v1M86 0v1m0 20v1m0 21v1m0 2v1m0 32v1m0 5v1m0 1v1M87 2v1m0 7v1m0 13v1m0 2v1m0 1v1m0 17v1m0 33v1m0 9v1M88 24v1m0 15v2m0 1v1m0 48v1m0 5v1M89 7v1m0 54v1m0 4v1M90 46v1m0 6v1m0 29v1m0 6v1m0 2v1M91 1v1m0 8v1m0 19v1m0 31v1m0 24v1M92 7v1m0 28v1m0 9v1m0 16v1m0 18v1M93 9v1m0 11v1m0 34v1m0 15v2m0 1v1m0 7v1m0 4v1M94 0v1m0 32v2m0 21v1m0 6v2m0 24v1M95 19v1m0 1v1m0 12v1m0 18v2m0 9v2m0 10v1M96 24v1m0 3v1m0 15v1m0 9v1m0 19v1m0 5v1m0 12v1M97 4v1m0 37v1m0 3v1m0 26v1m0 5v1m0 8v1m0 6v3M98 3v1m0 38v1m0 13v1m0 15v1M99 1v1m0 2v1m0 8v1m0 21v1m0 8v1"/><path stroke="#7b7b7b" d="M0 14v1m0 35v1m0 9v1m0 1v2m0 4v1m0 3v1m0 18v1M1 22v1m0 45v2m0 26v1M2 14v1m0 10v1m0 2v1m0 11v1m0 3v1m0 14v1m0 10v1m0 4v1m0 11v1m0 11v1M3 0v1m0 14v1m0 35v1m0 4v1m0 2v1m0 13v1m0 3v2M4 10v2m0 3v1m0 9v2m0 11v1m0 13v1m0 20v1m0 5v1m0 4v1m0 6v1M5 1v1m0 3v1m0 33v1m0 6v1m0 12v1m0 17v1m0 14v1m0 6v1M6 39v2m0 29v1m0 4v1m0 6v1M7 11v1m0 2v1m0 9v1m0 20v1m0 25v1m0 3v1m0 7v1m0 7v1M8 3v1m0 9v2m0 4v1m0 26v1m0 10v1m0 4v1m0 12v1m0 2v1m0 10v1M9 2v1m0 12v1m0 13v1m0 5v1m0 20v1m0 14v1m0 18v1M10 7v1m0 23v1m0 8v1m0 27v1m0 19v1m0 4v1m0 1v1M11 4v1m0 15v1m0 6v1m0 10v2m0 1v1m0 3v2m0 2v1m0 4v1m0 12v1m0 16v1m0 2v1m0 10v1M12 37v1m0 23v1m0 13v1m0 6v1M13 2v1m0 13v1m0 6v2m0 10v1m0 37v1M14 23v1m0 12v1m0 15v1m0 4v1m0 7v1m0 25v1m0 1v1M15 11v2m0 11v1m0 15v1m0 4v1m0 10v1m0 4v1m0 20v1m0 11v1M16 15v1m0 1v1m0 7v1m0 10v1m0 21v1m0 16v1m0 11v1m0 1v1m0 4v1M17 3v1m0 3v1m0 10v1m0 32v1m0 47v1M18 4v1m0 31v2m0 1v1m0 1v1m0 9v1m0 4v2m0 10v1m0 14v2M19 11v1m0 6v1m0 5v1m0 16v1m0 2v1m0 12v1m0 25v1m0 12v1M20 3v1m0 20v1m0 2v4m0 15v1m0 2v1m0 5v1m0 2v1m0 15v1m0 1v1m0 5v2m0 10v1M21 30v2m0 3v1m0 6v1m0 13v1m0 14v1m0 18v1m0 6v1M22 1v1m0 4v1m0 7v1m0 2v1m0 7v1m0 7v1m0 10v2m0 7v1m0 10v1m0 4v1m0 10v1m0 7v1M23 3v1m0 4v1m0 30v2m0 11v1m0 16v1m0 4v1m0 7v1m0 10v2M24 1v1m0 20v1m0 4v1m0 15v1m0 12v1m0 3v1m0 7v2M25 18v2m0 17v1m0 1v1m0 9v1m0 18v1m0 3v2m0 4v1m0 12v1M26 41v1m0 22v1m0 14v1m0 12v1m0 3v1M27 26v1m0 44v1m0 2v1m0 5v1M28 32v1m0 6v1m0 28v2m0 2v1m0 1v1m0 16v1M29 9v1m0 10v1m0 10v1m0 33v1m0 12v1M30 12v1m0 26v3m0 35v1m0 3v1m0 8v1M31 63v1M32 9v1m0 10v1m0 4v1m0 23v1m0 1v1m0 20v1m0 10v1m0 9v1M33 12v1m0 28v1m0 16v2m0 1v2m0 4v1M34 2v1m0 9v1m0 7v1m0 40v1m0 12v1M35 23v1m0 32v1m0 5v2m0 19v2m0 5v1M36 3v1m0 5v1m0 18v1m0 9v1m0 7v1m0 6v1M37 37v1m0 2v1m0 11v1m0 6v3m0 31v1M38 44v1m0 4v1m0 7v1m0 7v1m0 31v1M39 5v1m0 1v2m0 45v1M40 29v1m0 18v2m0 2v1m0 28v1m0 12v1M41 15v1m0 1v1m0 15v1m0 14v1m0 25v1m0 14v1m0 3v1m0 5v1M42 3v1m0 14v2m0 4v1m0 4v1m0 3v1m0 17v1m0 21v1m0 23v1m0 1v1M43 23v1m0 1v1m0 31v1M44 17v2m0 48v1m0 5v1m0 18v1M45 14v1m0 1v2m0 78v1m0 1v1M46 22v1m0 43v1m0 30v1M47 9v1m0 6v1m0 4v1m0 7v1m0 13v1m0 16v1m0 1v2m0 5v1m0 14v1m0 2v1m0 7v1M48 4v1m0 3v1m0 6v1m0 15v1m0 16v1m0 4v1m0 5v1m0 9v1M49 24v1m0 7v1m0 6v1m0 1v1m0 29v1m0 14v1m0 6v1M50 0v1m0 15v1m0 20v1m0 20v2m0 10v1m0 14v1m0 7v1M51 1v1m0 28v1m0 22v1M52 18v1m0 21v2m0 1v1m0 9v1m0 1v1M53 13v1m0 5v1m0 3v1m0 2v2m0 21v1m0 11v2m0 9v1M54 0v1m0 23v2m0 54v1m0 2v2M55 24v1m0 16v1m0 6v2m0 8v1m0 5v1m0 20v1m0 4v1M56 49v3M57 44v1m0 6v1m0 14v1m0 7v1m0 3v1M58 24v1m0 19v1m0 1v1m0 17v1m0 27v1M59 7v1m0 21v1m0 1v1m0 1v1m0 22v1m0 27v1m0 7v1m0 5v1M60 5v1m0 1v1m0 4v1m0 15v3m0 13v1m0 26v1m0 9v2m0 5v1m0 5v1M61 52v1m0 3v1m0 9v1m0 10v1m0 21v1M62 8v1m0 9v1m0 6v1m0 7v1m0 36v1m0 3v1M63 9v1m0 11v1m0 4v1m0 10v1m0 3v1m0 9v1m0 21v1m0 11v1M64 7v1m0 27v1m0 7v1m0 3v1m0 3v1m0 8v1M65 28v1m0 4v1m0 13v1M66 3v1m0 2v1m0 14v1m0 6v1m0 7v1m0 15v1m0 19v1m0 20v1M67 22v1m0 12v1m0 2v1m0 8v1m0 13v1m0 2v1m0 23v1m0 8v1M68 54v1m0 4v2m0 9v1m0 18v1m0 7v1M69 0v1m0 10v2m0 25v2m0 19v1m0 5v1M70 6v1m0 6v1m0 2v1m0 22v1m0 40v1m0 8v1m0 5v1M71 8v1m0 13v1m0 21v1m0 28v1m0 7v1m0 6v1m0 8v1M72 31v1m0 12v2m0 1v2m0 3v1m0 5v2m0 1v1M73 13v1m0 36v1m0 34v1m0 12v1M74 13v1m0 23v1m0 8v1m0 3v1m0 3v1m0 11v1m0 2v1m0 1v1M75 1v1m0 18v1m0 12v1m0 6v1m0 7v1m0 7v2m0 23v2m0 3v1m0 5v1M76 1v2m0 13v1m0 6v1m0 8v1m0 1v1m0 5v1m0 19v1m0 3v1m0 8v1m0 11v1m0 13v1M77 16v2m0 11v1m0 2v1m0 4v1m0 5v1m0 31v1M78 23v1m0 17v1m0 19v1m0 31v1M79 30v1m0 15v1m0 42v1m0 7v1M80 11v1m0 20v1m0 21v1m0 23v1M81 32v1m0 37v1m0 1v1m0 13v1M82 8v2m0 3v1m0 3v1m0 2v1m0 3v1m0 10v1m0 14v1m0 20v1m0 8v2M83 5v1m0 1v1m0 6v1m0 2v1m0 7v1m0 17v1m0 1v2m0 21v1M84 19v1m0 22v1m0 3v1m0 5v1m0 15v1m0 1v1M85 40v1m0 3v1m0 1v1m0 8v1m0 23v1m0 1v1m0 2v1m0 4v1M86 7v1m0 23v1m0 2v3m0 7v1m0 9v1m0 18v1M87 5v1m0 10v1m0 5v1m0 8v1m0 13v1m0 42v2m0 5v1M88 9v1m0 65v1m0 5v1m0 17v1M89 8v1m0 16v1m0 33v1m0 9v1m0 7v1m0 2v1m0 2v1m0 14v1M90 4v2m0 48v1m0 3v1m0 23v1M91 17v1m0 16v3m0 1v1m0 8v1m0 10v1m0 12v1m0 1v1m0 3v2m0 4v1m0 14v1M92 0v1m0 50v1m0 17v1m0 11v1m0 8v1M93 13v1m0 4v3m0 7v1m0 3v1m0 1v1m0 55v1m0 1v1M94 4v1m0 6v1m0 2v1m0 4v1m0 4v1m0 1v1m0 4v2m0 4v1m0 8v2m0 5v1m0 4v1m0 33v1M95 18v1m0 5v1m0 6v1m0 5v1m0 2v1m0 4v1M96 5v1m0 1v1m0 7v1m0 2v1m0 3v2m0 5v2m0 22v1m0 23v1m0 1v1m0 2v1m0 15v1M97 67v2m0 20v1m0 8v1M98 61v1m0 7v1m0 5v1m0 18v1M99 7v1m0 22v1m0 5v1m0 36v1m0 9v1"/><path stroke="#848484" d="M0 15v1m0 30v2m0 3v1m0 9v1m0 7v2m0 15v1M1 15v1m0 7v1m0 4v1m0 3v1m0 10v2m0 1v1m0 13v1m0 9v1m0 7v1M2 17v1m0 18v1m0 1v2m0 21v1m0 10v1m0 1v1m0 13v1m0 5v1m0 1v1M3 8v1m0 15v2m0 36v2m0 22v1M4 20v1m0 27v1m0 1v2m0 24v1m0 3v1m0 6v1M5 40v1m0 31v1m0 5v1m0 6v1m0 1v1M6 21v1m0 31v1m0 5v1m0 6v1m0 25v1M7 23v1m0 16v1m0 15v1m0 2v1m0 26v1M8 0v1m0 11v1m0 2v2m0 6v1m0 21v1m0 2v1m0 17v1M9 22v1m0 4v2m0 20v1m0 4v1m0 7v1m0 4v1m0 7v1m0 2v1m0 9v1m0 7v1M10 30v1m0 5v1m0 18v2m0 12v1m0 6v1m0 20v3M11 10v1m0 8v1m0 14v1m0 5v1m0 10v2M12 2v1m0 2v1m0 20v1m0 4v1m0 2v1m0 1v1m0 26v1m0 9v1M13 22v1m0 4v2m0 35v1m0 11v1m0 21v1M14 8v1m0 16v1m0 44v1m0 4v1m0 2v1m0 6v1m0 6v1M15 1v1m0 33v2m0 5v1m0 14v1m0 28v1m0 6v1M16 35v1m0 25v1m0 2v1m0 20v2m0 4v1m0 1v1M17 6v1m0 10v1m0 16v1m0 2v1m0 12v1m0 32v3m0 3v1M18 17v1m0 24v2m0 2v1m0 3v1m0 18v1m0 19v1m0 1v2M19 40v1m0 47v1m0 1v1M20 1v2m0 2v1m0 33v1m0 17v1m0 5v1m0 1v1m0 9v1M21 5v1m0 19v1m0 8v1m0 14v1m0 14v1m0 24v1m0 6v1M22 3v1m0 18v1m0 8v1m0 3v1m0 26v1m0 7v1m0 1v1m0 25v1M23 1v1m0 8v1m0 10v1m0 4v1m0 45v1m0 10v1m0 2v1m0 8v1m0 3v1M24 3v1m0 35v1m0 11v1m0 9v1m0 26v1M25 0v1m0 5v1m0 4v1m0 21v1m0 19v1m0 25v1m0 13v1M26 23v1m0 19v1m0 44v1M27 23v1m0 3v3m0 11v1m0 24v1m0 12v1m0 12v1M28 20v1m0 12v1m0 1v1m0 2v1m0 4v1m0 15v1m0 13v1m0 19v1M29 39v1m0 2v1m0 16v1m0 36v1M30 3v1m0 15v1m0 1v1m0 9v1m0 33v1m0 12v1m0 14v1M31 14v1m0 4v1m0 40v1m0 18v1M32 2v1m0 10v1m0 48v1m0 10v1m0 16v1m0 1v1m0 3v1M33 24v1m0 12v1m0 12v1m0 4v1m0 29v1m0 13v1M34 40v3m0 55v1M35 0v1m0 19v1m0 4v1m0 66v1M36 8v1m0 3v1m0 10v1m0 39v1m0 16v1m0 3v1M37 43v2m0 12v1m0 10v1m0 7v1m0 7v1m0 10v1M38 7v1m0 1v1m0 1v1m0 39v1m0 14v1m0 11v1m0 20v1M39 26v1m0 40v1m0 6v1m0 15v1m0 3v1M40 5v1m0 15v2m0 1v3m0 32v1m0 10v1m0 4v1m0 14v1m0 6v1M41 20v1m0 2v1m0 43v1m0 22v1M42 15v3m0 2v1m0 11v1m0 25v1m0 11v1m0 21v1m0 1v1M43 3v1m0 5v1m0 4v2m0 1v1m0 16v1m0 16v1m0 30v1m0 12v1m0 2v1M44 8v1m0 5v1m0 12v2m0 5v1m0 13v2m0 16v1m0 24v1m0 1v1M45 8v1m0 9v1m0 55v1m0 2v1M46 17v1m0 30v1m0 18v1m0 8v1m0 9v1m0 7v1M47 18v1m0 3v1m0 30v2m0 18v1m0 14v1M48 27v2m0 9v1m0 8v1m0 46v1M49 4v1m0 4v1m0 2v1m0 32v1m0 18v1m0 4v2m0 2v1M50 41v1m0 4v1m0 20v1m0 1v1m0 22v1m0 1v1M51 59v1m0 7v1m0 16v1m0 8v2M52 12v2m0 16v1m0 23v1m0 15v1m0 22v1m0 5v1M53 1v1m0 61v1m0 16v1m0 4v1m0 10v2M54 1v1m0 12v1m0 12v1m0 28v1m0 3v1m0 11v1m0 1v1M55 6v1m0 9v1m0 13v1m0 23v1m0 13v1m0 3v1m0 10v2M56 12v1m0 26v1m0 15v1m0 1v1m0 15v1m0 21v1M57 11v1m0 16v1m0 9v1m0 1v1m0 16v1m0 5v1m0 27v1M58 9v1m0 46v1m0 5v1m0 4v1m0 23v1M59 61v1m0 11v1m0 19v1M60 6v1m0 3v1m0 52v1m0 20v1M61 31v1m0 6v1m0 2v1m0 8v1m0 38v1m0 8v1M62 48v1m0 7v1m0 16v1m0 3v1m0 11v1m0 3v1M63 4v1m0 13v1m0 6v1m0 36v2m0 4v1m0 2v1m0 5v1M64 2v1m0 33v1m0 3v1m0 4v2m0 1v1m0 20v1m0 2v1m0 10v1m0 6v1M65 0v1m0 1v1m0 2v1m0 4v1m0 13v1m0 13v1m0 6v1m0 41v1M66 8v1m0 1v1m0 16v1m0 1v1m0 7v1m0 2v1m0 3v1m0 3v2m0 6v1m0 11v1m0 13v1m0 6v1M67 11v2m0 8v1m0 15v1m0 1v1m0 8v1m0 16v1M68 57v1m0 19v1m0 10v1M69 36v1m0 24v1m0 18v1m0 7v1M70 1v1m0 5v1m0 1v1m0 28v1M71 12v1m0 6v1m0 11v2m0 17v1m0 47v1M72 8v1m0 40v1M73 2v1m0 12v1m0 5v1m0 34v1m0 17v2M74 16v1m0 19v1m0 18v1m0 40v2M75 2v2m0 34v1m0 24v1M76 45v1m0 12v1m0 6v1m0 9v1M77 2v2m0 17v1m0 20v1m0 5v1m0 4v1m0 19v1m0 11v1m0 3v1M78 0v4m0 12v1m0 20v1m0 5v1m0 3v1m0 23v2m0 16v1m0 6v1M79 24v1m0 32v1M80 47v1m0 31v1M81 10v1m0 8v1m0 27v1m0 4v1m0 13v1m0 4v1m0 3v2M82 32v1m0 12v2M83 20v1m0 37v2m0 13v1m0 10v1M84 0v1m0 6v1m0 4v1m0 7v2m0 21v3m0 5v1m0 40v1M85 4v1m0 10v1m0 27v1m0 5v1m0 14v1m0 5v1m0 20v1m0 2v1M86 3v1m0 19v1m0 53v1m0 10v2m0 1v1m0 4v1M87 30v1m0 15v1m0 43v1m0 5v1m0 1v1M88 26v1m0 9v1m0 9v1m0 29v1m0 11v1m0 1v1m0 3v1M89 5v2m0 16v1m0 66v1M90 27v1m0 39v1m0 10v1M91 0v1m0 5v1m0 2v1m0 3v1m0 18v2M92 2v1m0 11v1m0 11v1m0 5v1m0 1v1m0 37v1m0 20v1M93 26v1m0 9v1m0 15v1m0 36v1M94 25v1m0 1v1m0 7v2m0 4v1m0 12v2m0 27v1m0 9v1m0 1v1M95 42v1M96 34v1m0 11v1m0 22v1m0 27v1M97 31v1m0 12v1m0 16v1m0 14v2m0 15v1m0 5v1M98 22v2m0 5v1m0 1v1m0 2v1m0 12v2m0 2v1m0 2v1m0 21v2M99 2v1m0 44v1m0 22v1m0 28v1"/><path stroke="#8e8e8e" d="M0 17v1m0 23v1m0 2v1m0 47v1M1 14v1m0 12v1m0 26v1m0 30v2M2 22v1m0 1v1m0 12v1m0 25v1m0 18v1m0 3v1m0 2v1m0 8v1M3 9v1m0 2v2m0 9v1m0 2v1m0 6v1m0 20v1m0 5v2m0 4v1m0 3v1M4 1v1m0 2v1m0 3v1m0 12v1m0 39v1m0 16v1M5 68v1m0 2v1M6 2v1m0 51v1m0 32v1m0 3v1M7 13v1m0 25v1m0 32v1m0 7v1m0 7v1m0 3v1M8 17v2m0 1v1m0 7v1m0 34v1m0 10v1m0 12v2M9 7v1m0 10v2m0 14v1m0 28v1m0 10v1m0 8v1m0 15v1M10 18v1m0 2v1m0 5v1m0 13v1m0 9v1m0 2v1m0 23v1M11 0v1m0 17v1m0 12v1m0 5v1m0 4v1m0 33v1m0 19v2M12 27v1m0 36v1m0 5v1m0 27v1M13 17v1m0 8v1m0 20v1m0 26v1m0 22v1M14 13v1m0 60v1m0 4v1m0 18v1M15 44v1m0 17v1m0 4v1m0 9v1M16 1v1m0 27v1m0 15v1m0 14v1m0 21v1m0 15v1M17 2v1m0 23v1m0 9v1m0 21v1m0 33v1M18 18v1m0 16v1m0 2v1m0 35v1M19 46v1m0 8v1m0 11v2m0 7v1M20 41v1m0 22v1m0 2v1m0 13v1m0 6v1M21 19v1m0 7v1m0 15v1m0 7v1M22 7v1m0 18v1m0 22v2m0 41v1m0 6v1M23 33v1m0 28v1m0 24v2M24 2v1m0 6v1m0 23v2m0 13v1m0 46v1M25 35v2m0 43v1m0 14v1M26 3v1m0 30v1m0 7v1m0 24v1m0 19v1m0 6v1M27 4v1m0 4v1m0 77v1m0 5v1M28 40v1m0 5v1m0 45v1M29 41v1m0 4v1m0 43v2m0 7v1M30 11v1m0 1v1m0 18v1m0 26v1m0 24v1m0 14v1M31 3v1m0 1v1m0 31v1m0 52v1M32 37v1m0 5v1m0 16v2m0 15v1m0 7v1m0 5v1M33 2v1m0 8v1m0 1v1m0 24v1m0 33v1m0 11v1m0 4v1M34 13v1m0 13v1m0 10v2m0 40v2M35 55v1m0 37v1M36 4v1m0 22v1m0 40v2m0 15v1m0 12v1M37 10v1m0 34v2m0 4v1m0 20v1m0 13v1m0 12v1M38 8v1m0 29v2m0 2v1m0 28v1m0 2v1M39 3v1m0 14v1m0 67v2m0 9v1M40 23v1m0 29v1m0 10v2m0 1v2m0 29v1M41 22v1m0 60v1m0 8v1m0 4v1M42 21v1m0 26v1m0 42v1M43 24v1m0 20v1m0 3v1m0 47v1M44 15v1M45 27v1m0 27v1m0 17v1M46 14v1m0 36v1m0 3v1m0 1v1m0 4v1M47 44v1M48 10v1m0 3v1m0 83v1M49 18v1m0 15v1m0 25v1m0 11v1m0 11v1m0 11v1M50 24v2m0 12v1m0 29v1m0 2v1m0 4v1M51 17v1m0 21v2m0 9v1m0 3v1m0 11v1m0 3v2m0 6v1m0 13v1M52 0v1m0 32v1m0 3v1m0 33v1m0 5v1m0 1v1m0 4v1M53 18v1m0 23v1m0 32v1M54 13v1m0 12v1m0 22v1m0 15v1m0 1v1m0 27v1M55 15v1m0 13v1m0 22v1m0 3v1m0 16v1m0 20v1M56 8v1m0 45v1m0 5v2m0 10v1m0 11v1m0 7v1m0 1v1m0 1v1M57 9v1m0 12v1m0 16v1m0 25v1m0 7v1m0 18v2m0 2v2M58 10v1m0 55v1m0 17v1m0 5v1m0 4v1M59 32v1m0 39v1m0 21v1M60 8v1m0 7v1m0 10v1m0 23v1m0 4v2M61 39v1m0 5v1m0 9v1m0 15v1m0 12v2M62 20v1m0 20v1m0 10v1m0 46v1M63 5v1m0 13v2m0 23v1m0 8v1m0 6v2m0 27v2M64 0v1m0 20v3m0 9v1m0 10v1m0 14v1m0 5v1m0 8v1m0 20v1M65 23v1m0 16v1m0 3v1m0 1v1m0 25v2m0 7v2m0 11v1M66 7v1m0 23v1m0 23v1M67 4v1m0 22v1m0 8v1m0 26v1m0 13v1m0 4v1M68 82v1M69 40v1m0 48v1m0 8v1M70 42v1m0 19v1m0 11v2m0 5v1m0 6v1M71 35v1m0 40v1m0 2v1M72 19v1m0 1v1m0 47v1M73 0v1M74 19v1m0 1v1m0 41v1M75 0v1m0 38v1m0 5v1m0 39v1m0 9v2m0 1v1M76 3v1m0 1v1m0 5v2m0 39v1m0 6v1m0 12v1m0 16v1M77 24v1M78 12v1m0 11v1m0 39v1M79 12v1m0 1v2m0 22v2m0 16v1m0 21v1m0 19v1M80 15v1m0 23v1m0 17v1m0 18v1m0 5v2M81 13v1m0 25v1m0 8v1m0 8v1m0 4v1m0 2v1m0 21v1m0 8v1M82 4v1m0 5v1m0 61v1m0 12v1M83 0v1m0 43v1m0 8v1m0 27v1m0 4v1m0 2v1M84 5v1m0 8v1m0 17v1m0 17v1m0 22v1m0 2v1m0 12v1M85 11v1m0 29v1m0 3v1M86 15v1m0 29v1m0 9v1M87 9v1m0 26v1m0 38v2m0 7v1m0 14v1M88 5v1m0 27v1m0 13v1m0 41v1M89 2v1m0 6v1m0 14v1m0 8v1m0 3v1m0 17v1m0 7v1m0 1v1m0 10v1m0 4v1m0 5v1M90 9v1m0 6v1m0 18v1m0 8v1m0 12v1m0 4v1m0 13v2m0 7v1m0 1v1m0 11v1M91 2v2m0 22v1m0 4v1m0 25v1m0 17v1m0 10v1M92 40v1m0 2v1m0 31v1m0 3v1m0 6v1M93 39v2m0 2v1m0 20v1m0 15v1M94 60v1m0 24v1M95 5v1m0 78v1M96 4v1m0 27v1m0 10v1m0 26v1m0 19v1M97 74v1M98 7v1m0 57v1m0 7v1m0 9v1m0 15v1M99 3v1m0 4v1m0 13v1m0 19v1m0 5v1m0 5v1m0 2v1m0 13v1m0 6v1"/><path stroke="#989898" d="M0 20v1m0 33v1m0 23v1m0 6v1m0 1v1M1 17v1m0 23v2m0 18v1m0 27v1M2 26v1m0 27v1m0 5v1m0 24v1M3 36v1m0 31v1m0 16v1m0 8v1M4 0v1m0 30v1m0 5v1m0 11v1m0 12v1m0 14v1m0 5v1m0 1v1M5 20v1m0 11v1m0 16v1m0 29v1m0 11v1M6 86v1M7 22v1m0 55v2M8 8v1m0 20v1m0 1v1m0 22v2m0 15v1m0 11v1M9 0v1M10 2v1m0 41v1m0 17v2m0 1v1m0 4v1m0 6v1m0 18v1M11 11v1m0 32v1m0 12v1m0 3v1m0 9v1m0 13v1M12 6v1m0 3v1m0 6v1m0 17v1m0 23v1m0 12v1m0 5v1m0 18v1M13 10v1m0 14v1m0 30v1m0 18v1M14 2v1m0 21v1m0 4v1m0 50v2M15 0v1m0 45v1m0 5v1M16 0v1m0 13v1M17 25v1m0 14v1m0 26v1M18 26v1m0 63v1M19 5v1m0 20v1m0 42v1m0 19v1m0 3v1M20 7v1m0 36v1m0 21v1m0 1v1m0 21v1M21 1v1m0 1v1m0 17v1m0 17v1m0 1v1m0 8v1m0 12v1M22 8v1m0 1v1m0 28v1m0 23v1m0 10v1M23 2v1m0 6v1m0 12v1m0 27v2m0 5v1m0 26v2m0 6v1M24 40v1m0 56v2M25 29v1m0 12v2m0 22v2M26 9v1m0 56v1m0 5v2m0 19v1M27 5v1m0 18v1m0 13v1m0 3v1m0 30v1M28 19v1m0 16v1m0 16v1m0 2v1m0 33v1M29 4v1m0 28v1m0 6v1m0 15v1m0 35v1M30 9v1m0 10v1m0 35v1m0 1v1M31 6v1m0 2v1m0 28v1m0 20v1m0 4v1m0 12v1m0 9v1M32 38v1m0 5v1m0 33v1M33 0v1m0 45v1m0 4v1m0 22v1M34 0v1m0 42v1m0 10v2m0 11v1m0 20v1M35 54v1m0 34v1m0 8v1M36 1v1m0 22v1m0 42v1m0 26v1M37 3v1m0 4v2m0 1v1m0 65v1m0 16v1M38 10v1m0 32v1m0 42v1m0 7v1M39 49v1m0 13v1m0 14v1m0 19v1M40 4v1m0 50v1m0 7v1m0 2v1m0 2v1M41 30v2m0 38v1m0 23v1M43 10v1m0 8v1m0 33v1m0 1v2m0 8v1m0 17v1m0 15v1M44 2v1m0 32v1m0 26v1m0 33v1M45 28v1m0 20v1m0 44v1M46 16v1m0 1v1m0 44v1m0 5v3m0 13v1m0 6v1M47 14v1m0 37v1M48 9v1m0 8v1m0 33v1m0 7v2m0 1v1m0 7v2m0 13v1M49 33v1m0 13v1m0 13v1m0 1v1m0 33v1M50 19v1m0 12v1m0 6v2m0 21v1m0 15v1m0 1v2m0 2v1m0 5v1M51 36v1m0 12v1m0 15v1m0 14v2m0 16v2M52 1v1m0 79v2m0 11v1M53 16v1m0 14v2m0 11v1m0 25v1m0 5v1m0 6v2M54 15v1m0 26v2m0 1v1m0 16v1m0 3v1m0 1v1m0 20v1m0 8v1M55 25v2m0 4v1m0 25v1m0 5v1m0 29v1M56 9v1m0 12v1m0 4v1m0 1v1m0 4v1m0 28v1m0 17v2m0 14v1M57 52v2m0 10v1m0 6v1m0 9v1m0 2v1m0 4v1M58 37v1m0 34v2m0 4v1M59 8v1m0 80v1m0 7v1M60 31v1M61 13v1m0 67v1M62 16v1m0 2v1m0 24v1m0 2v1m0 23v2m0 10v1M63 34v1m0 8v1m0 6v1m0 4v5m0 24v1M64 4v1m0 19v2m0 5v1m0 7v1m0 9v2m0 17v1m0 8v1m0 4v1M65 15v1m0 48v1m0 9v1M66 30v1m0 31v1m0 1v1M67 49v6m0 25v1M68 4v1m0 56v1m0 13v1m0 4v1m0 12v1m0 1v1M69 37v1m0 3v1m0 55v1M70 17v1m0 2v2m0 14v1m0 56v2m0 1v1M71 9v1m0 6v1m0 4v1M72 35v1m0 14v1m0 20v1m0 15v1M73 1v1m0 6v1m0 27v1m0 18v1m0 10v1m0 19v1m0 2v1M74 0v1m0 89v1M75 15v2m0 5v1M76 38v1m0 31v1m0 5v1m0 14v1m0 2v1M77 1v1m0 20v2m0 15v1m0 18v1m0 7v1m0 4v1m0 19v1m0 4v1M78 39v1m0 16v1m0 34v1M79 16v1m0 24v1m0 40v1m0 7v1M80 16v1m0 31v1m0 16v1m0 9v1m0 18v1m0 2v1M81 25v1m0 25v1m0 1v1m0 6v1m0 21v1m0 14v1M82 26v1m0 16v2m0 32v1m0 6v1M83 4v1m0 21v1m0 4v2m0 18v1m0 19v1m0 21v1M84 4v1m0 3v2m0 17v1m0 9v1m0 9v1m0 10v1m0 21v1m0 6v1m0 8v1M85 67v1m0 7v1m0 11v2m0 1v1M86 4v1m0 6v2m0 20v1m0 5v1m0 42v1m0 12v1M87 0v1m0 14v1m0 16v1m0 21v1m0 4v1M88 13v1m0 79v1M89 4v1m0 21v1m0 16v1M90 14v2m0 10v1m0 9v1m0 18v1m0 7v1m0 22v1m0 11v1M91 8v1m0 5v1m0 10v1m0 58v1M92 13v1m0 13v1m0 7v1m0 18v1m0 1v1m0 27v1M93 31v1m0 22v1m0 10v1m0 12v1m0 7v1M94 13v1m0 26v1m0 1v1m0 1v1m0 14v1m0 34v1M95 3v1m0 29v1m0 10v1m0 1v2m0 3v1m0 6v1M96 11v1m0 35v1m0 36v1m0 7v1M97 9v1m0 3v2m0 14v1m0 3v1m0 13v1m0 39v1m0 2v1M98 36v1m0 7v1m0 22v1m0 2v1m0 3v1m0 6v2m0 1v1M99 23v1m0 4v1m0 36v1m0 6v1m0 9v1"/><path stroke="#a2a2a2" d="M0 19v1m0 22v1m0 28v1m0 8v1M1 18v1m0 20v1m0 5v1m0 16v1m0 8v1m0 10v1m0 14v2M2 18v1m0 8v1m0 18v1m0 8v1m0 15v1m0 23v1M3 14v1m0 3v1m0 19v3m0 14v1m0 16v1m0 22v1M4 33v1m0 5v1m0 29v1M5 4v1m0 16v1m0 60v1M6 78v1M7 21v1m0 31v1M8 53v1m0 2v1m0 24v1M9 3v1m0 27v1m0 10v1m0 5v1M10 34v1m0 13v2m0 39v1M11 2v1m0 32v2m0 31v1m0 14v1M12 11v1m0 6v1m0 52v1m0 4v1M13 6v1m0 2v1m0 49v1M14 46v1m0 39v1M15 9v1m0 20v1m0 17v1M16 40v2m0 2v1M17 35v1m0 5v1m0 15v1m0 35v2M18 5v1m0 1v1m0 69v1M19 51v1m0 22v1M20 25v1m0 14v1m0 15v1M21 7v1M22 2v1m0 15v2m0 20v1m0 10v2m0 38v1M23 48v1m0 32v1m0 8v1M24 50v1m0 6v1m0 24v1m0 2v1M25 9v1m0 18v1m0 5v1m0 6v1m0 18v1M26 0v1m0 27v1M27 0v1m0 9v1m0 54v1m0 6v1m0 10v1m0 1v1m0 2v1M28 23v1m0 13v1m0 47v1M29 19v1m0 37v2m0 23v1m0 4v1m0 9v1M30 10v1m0 46v1m0 5v1m0 19v1M31 4v1m0 8v1m0 7v1m0 61v1m0 9v1M32 1v1m0 10v1m0 46v1M33 7v1m0 34v1m0 13v2m0 15v1m0 14v1M34 24v1m0 20v1m0 4v1m0 5v2m0 31v1m0 9v1M35 1v1M36 50v1m0 19v1m0 10v1m0 1v1m0 8v1M37 58v1m0 10v1m0 13v1M38 3v1m0 46v1m0 34v1m0 10v1M39 50v1m0 26v1m0 11v1M40 54v1m0 32v1m0 8v1m0 2v1M41 16v1m0 12v1m0 30v1m0 27v1m0 2v1M42 57v1m0 1v2M43 2v1m0 15v1m0 29v1m0 14v2M44 65v1M45 15v1m0 46v1m0 6v1m0 19v2m0 6v1M46 27v1m0 28v1m0 8v1m0 2v1m0 4v1m0 3v1M48 19v1m0 29v1m0 38v1M49 46v1m0 4v1m0 14v1m0 32v1M50 15v1m0 48v1m0 1v1m0 5v2m0 5v1M51 76v1m0 2v1M52 62v1m0 17v1m0 2v1M53 12v1m0 28v1m0 1v1m0 55v1M54 17v1m0 13v1m0 3v1m0 5v1m0 2v1m0 24v1M55 13v2m0 7v2m0 3v1m0 4v1m0 62v1M56 36v1m0 19v1m0 8v1m0 8v2m0 7v1m0 6v1M57 10v1m0 26v1m0 7v1m0 10v1m0 12v1m0 2v1m0 9v1m0 7v1M58 45v1m0 34v1m0 16v2M59 91v1M60 89v1M61 28v1m0 15v1m0 8v1m0 7v1m0 1v1m0 18v1M62 28v1m0 17v1m0 21v1m0 15v1m0 7v1M63 42v1m0 11v1m0 11v2m0 4v1m0 9v2M64 6v1m0 8v1m0 81v1M65 6v2m0 60v2M66 38v1m0 6v1m0 1v1m0 15v1m0 30v2M67 96v1M68 55v1m0 9v1m0 28v1m0 1v1M69 1v1m0 1v1m0 58v1m0 7v2m0 3v2m0 19v1M70 37v1m0 5v1m0 3v1m0 1v1M71 11v1m0 5v1m0 29v1M72 36v1m0 37v1m0 1v1m0 4v1m0 6v1M73 19v1m0 59v1m0 2v1m0 8v2m0 6v1M74 14v1m0 44v1m0 20v1m0 4v3M75 61v1m0 27v1M76 0v1m0 3v1m0 34v1M77 31v1m0 32v1m0 7v1m0 3v1m0 2v1M78 78v1m0 3v1M79 13v1m0 17v1m0 11v1m0 16v1m0 19v1m0 10v1m0 2v1m0 1v1M80 12v1m0 1v1m0 29v1m0 4v1m0 6v1m0 32v1m0 1v1m0 4v1M81 83v1m0 10v1M82 53v1m0 9v1m0 1v1m0 12v2m0 9v1M83 13v1m0 49v1M84 33v1m0 5v1m0 53v3M85 7v1m0 24v1m0 27v1m0 11v2m0 2v1m0 1v1m0 16v1M86 60v1m0 13v1m0 1v1m0 13v1M87 3v1m0 19v1m0 9v1M88 28v1m0 31v1m0 22v1M89 28v1m0 7v1m0 3v1m0 41v1m0 5v2m0 4v1m0 4v1M90 6v1m0 17v1m0 8v2m0 29v1m0 8v1M91 7v1m0 31v1m0 4v1m0 1v1M92 31v1m0 41v1m0 6v1m0 14v1M93 41v1m0 13v1m0 23v1m0 4v1M94 38v1m0 45v1M95 12v1m0 19v1m0 10v1m0 8v1m0 4v1m0 25v1M96 12v1m0 20v1m0 4v1m0 19v1M97 7v1m0 27v1m0 17v1m0 6v1m0 8v2m0 11v1M98 60v1m0 29v1M99 29v1m0 13v1m0 8v1m0 7v1m0 33v1"/><path stroke="#acacac" d="M0 18v1m0 69v1M1 63v1m0 23v1M3 47v1m0 36v1M4 2v1m0 6v1m0 22v1m0 14v1m0 22v1m0 1v1m0 13v1M5 2v1m0 28v1m0 35v1M6 81v1M7 12v1m0 42v1m0 25v1m0 5v1M8 30v1m0 42v1M9 16v1m0 72v1M10 0v1m0 34v1M11 3v1m0 58v1m0 1v1m0 4v1m0 8v1m0 3v1m0 3v1M13 85v1M14 63v1M15 2v1m0 7v1m0 32v1m0 19v1m0 2v1m0 30v2M16 2v1m0 36v1m0 17v1m0 18v1m0 1v1M17 43v1m0 1v1m0 18v1m0 10v1m0 15v1M18 25v1m0 18v1m0 48v1M19 7v1m0 17v1m0 24v1m0 5v1m0 9v1M20 26v1m0 43v1M21 6v1m0 13v1m0 5v1m0 17v1M22 32v1m0 63v2M23 73v1m0 22v1m0 1v1M24 10v1m0 69v2m0 1v1m0 10v1M25 3v1m0 36v1M26 35v1M27 35v1m0 22v1M28 41v2m0 38v2m0 5v2M29 84v1m0 4v1M30 79v1M31 78v1m0 18v1M32 5v1M34 1v1m0 26v1m0 15v1m0 8v1M35 39v1m0 40v1m0 1v1m0 16v1M37 38v2m0 30v2m0 13v1M38 73v1M39 64v1m0 23v1m0 7v1m0 2v1M40 95v1M41 21v1m0 34v1m0 2v1m0 8v1m0 27v1M42 95v1M43 68v1M44 64v1m0 4v1m0 19v2m0 7v2M45 66v1m0 24v1M46 28v1m0 35v1m0 7v1m0 20v1M47 15v1m0 11v1m0 18v1m0 23v1m0 15v1m0 9v2M48 50v2m0 10v1m0 7v1m0 19v1M49 85v1m0 8v2M50 48v1m0 14v1m0 13v1m0 4v2M51 0v1m0 32v1m0 4v1m0 23v1m0 14v1m0 13v1M52 16v1m0 59v1M53 10v1M54 22v1m0 38v1m0 13v1M55 28v1m0 24v1m0 8v1m0 16v2m0 17v1M56 11v1m0 23v1m0 57v1m0 4v1M57 83v1m0 14v1M58 35v1m0 27v1m0 32v1m0 2v1M59 10v1m0 84v2M60 9v1M61 34v1m0 19v1m0 12v1m0 1v2m0 20v1M62 26v1m0 18v1m0 9v1m0 5v1M63 15v1m0 31v1m0 27v2M64 88v2M65 29v2m0 1v1m0 55v2m0 5v2M66 77v1m0 3v1m0 14v1M67 56v1M68 62v1M69 43v1m0 37v1m0 17v1M70 12v1M71 36v1m0 37v2m0 4v1M72 26v2m0 29v1m0 41v1M73 14v1m0 54v1M74 1v2m0 12v1m0 4v1m0 61v1M75 21v1m0 40v1m0 8v1m0 18v2M76 33v1m0 14v1m0 7v1m0 14v1m0 24v1M77 11v1m0 34v1m0 30v1M78 30v1m0 22v1m0 12v1m0 23v1M79 52v1m0 9v1m0 2v1m0 15v1m0 17v1M80 46v1m0 6v1M81 42v1m0 3v1m0 2v1m0 11v1m0 26v1m0 1v1M82 25v1m0 1v1m0 23v1m0 30v1m0 3v1M83 52v1m0 27v1m0 6v1M84 13v1m0 14v1m0 52v1m0 1v1m0 4v1M85 12v1m0 1v1m0 18v1m0 8v1m0 28v1m0 2v1m0 2v1m0 4v2M86 32v1m0 4v1m0 37v1M87 13v1m0 46v1m0 21v1M88 3v1m0 12v1m0 6v1m0 29v1M89 16v1m0 22v1m0 30v1m0 2v1m0 1v1m0 17v1M90 2v1m0 4v2m0 16v1m0 30v1m0 22v1M91 45v1m0 9v1m0 10v1m0 7v1m0 4v1m0 1v1m0 3v1M92 41v1m0 32v1m0 10v1M93 27v1m0 14v1m0 50v1M94 43v1M95 55v1m0 4v1m0 17v1M96 8v1m0 42v1m0 3v1m0 35v1M97 30v1m0 25v1m0 27v2M98 30v1m0 4v1m0 21v1m0 21v1m0 9v1m0 3v1M99 53v1m0 36v1"/><path stroke="#b5b5b5" d="M0 39v2m0 2v1m0 35v1m0 1v1m0 2v1M1 40v1m0 43v1M2 23v1M3 71v1m0 10v1M4 40v1m0 4v1m0 25v1m0 9v1M5 3v1m0 62v1m0 2v2m0 9v2m0 4v1M7 54v1M8 22v1M9 8v1m0 8v1m0 46v1m0 1v1M10 3v1m0 15v1m0 62v2M11 63v1m0 13v1M12 77v1m0 7v1M13 57v1M14 48v1m0 48v1M15 47v1m0 17v1M16 90v1M17 38v1m0 3v1m0 1v1M18 66v1m0 8v1m0 19v1M19 75v1M20 6v1m0 38v1m0 5v1m0 37v1M21 40v1m0 4v1m0 23v1M22 9v1m0 10v1m0 52v1M23 80v1M24 49v1m0 34v1m0 5v2M25 50v1m0 43v1M26 29v1m0 35v1M27 57v1M28 24v1m0 32v1M29 98v1M30 4v1m0 86v2M31 12v1m0 7v1m0 63v1M32 7v1m0 76v1M33 6v1M35 40v1m0 12v1m0 13v1m0 13v1M36 39v2m0 11v1m0 40v1m0 5v1M37 4v1m0 77v1M38 4v1m0 67v1M39 16v1M40 89v1M41 52v1m0 42v1M42 68v1m0 14v1m0 12v1M43 69v1m0 26v1M44 9v2m0 52v1m0 4v1M45 64v2m0 1v1M47 28v1m0 20v1m0 21v1M48 34v1M49 62v1m0 2v1m0 23v1m0 1v1m0 6v1M50 65v1m0 32v2M51 15v1m0 21v1m0 44v2M52 17v1m0 48v1M53 17v1m0 53v1M54 23v1m0 9v1m0 36v1M55 12v1m0 20v1m0 1v1m0 24v1m0 10v1m0 2v2m0 13v1M56 10v1m0 41v1m0 11v1m0 4v1m0 1v1M57 70v1M58 36v1M59 63v1m0 26v1M60 50v1M61 16v1m0 9v1m0 15v1m0 25v1m0 24v1M62 14v1m0 28v1m0 22v1m0 15v1m0 2v1M63 36v1m0 8v2m0 1v2m0 14v1M64 1v1m0 30v1M65 1v1m0 29v1m0 43v1M66 76v1M67 3v1m0 58v1m0 13v1M68 2v1m0 53v1M69 42v1m0 50v1M70 70v1m0 26v2M71 26v1M72 53v1m0 1v1M73 54v1M74 70v1m0 18v1m0 2v1m0 5v1M75 59v1m0 10v1m0 28v1M76 77v1m0 12v1M77 0v1m0 11v1m0 17v1m0 7v1m0 17v1m0 8v1m0 28v1M78 42v1m0 22v1m0 14v1M79 53v1M80 62v1m0 3v1M81 44v2m0 4v1m0 48v1M82 28v1m0 23v1m0 11v1M83 64v1m0 7v1m0 9v1m0 11v1m0 4v1M84 79v1M85 10v1M86 84v1M87 4v1M88 4v1m0 22v1m0 31v1m0 22v1M89 38v1m0 3v1m0 23v1M90 71v1m0 3v1m0 5v1M91 40v4m0 12v1m0 7v1M92 42v1M93 35v1m0 15v1m0 33v1M95 11v1m0 1v2m0 23v1M96 10v1m0 2v1m0 25v1m0 20v1M97 34v1m0 8v1m0 7v1M98 8v1m0 44v1m0 26v1M99 88v2m0 1v1"/><path stroke="#bfbfbf" d="M1 83v1M2 45v1m0 38v1M3 67v1m0 15v1M4 3v1M6 79v1M7 82v1M8 72v1M9 21v1m0 8v1m0 12v1m0 21v1m0 16v1M10 53v1m0 10v1M11 43v1m0 26v1M13 58v1M14 10v1m0 53v1M15 13v1m0 15v1m0 34v1M16 42v2m0 23v1m0 9v1m0 3v1M17 39v1M18 6v1m0 69v1M19 45v1m0 18v1m0 30v1M20 50v1M21 2v1m0 67v1M22 21v1M23 32v1m0 16v1M25 5v1M26 10v1m0 26v1M28 58v1M29 32v1m0 31v1M30 80v1m0 15v1M31 96v1M34 52v1M35 28v1M38 77v1M39 66v1m0 28v1M41 32v1m0 36v1M42 56v1m0 12v1M44 97v1M45 63v1m0 28v1M47 45v1m0 5v1m0 20v1M48 32v1m0 52v1M49 19v1M51 64v1M52 31v1M53 64v1M54 9v1m0 2v1m0 3v1m0 15v1m0 1v1m0 36v1M55 69v1M56 28v1m0 50v2M57 80v1M59 9v1M60 61v1m0 28v1m0 2v1M61 14v1m0 17v1m0 10v1m0 18v1M62 27v1m0 6v2m0 29v1M63 65v1M64 5v1m0 90v1M65 11v1m0 27v1m0 37v1M66 11v2m0 26v1m0 6v1M67 55v1M69 2v1M70 10v2m0 87v1M71 20v1m0 6v1m0 21v1m0 49v1M72 56v1m0 18v1m0 3v1M73 60v1m0 9v1M76 21v2m0 34v1m0 20v1m0 16v1M77 90v1m0 4v1M78 31v1m0 6v1m0 18v1m0 23v1m0 12v2M79 66v1m0 12v1M80 13v1m0 26v1m0 2v1m0 1v1m0 44v1M81 43v1m0 51v1M82 18v1m0 68v1m0 6v1m0 1v1m0 2v1M83 19v1m0 68v1m0 9v1M84 48v2m0 27v1m0 4v1M85 13v1M86 8v1m0 1v1m0 3v1m0 50v1M87 14v1m0 19v1M88 15v1M89 3v1m0 10v2m0 25v1m0 11v1M90 3v1m0 36v1M92 64v1M93 95v1M94 9v1m0 41v2M95 4v1m0 75v1M96 14v1m0 37v1m0 4v1m0 25v1M97 57v1m0 1v1m0 23v1m0 2v1m0 4v2M98 43v1m0 41v1m0 2v1m0 2v1M99 79v1m0 13v1"/><path stroke="#c9c9c9" d="M2 83v1M3 37v1m0 7v1M4 68v1M6 80v1M9 20v1m0 31v2M11 55v2M12 55v1m0 30v1M13 86v1M15 14v1M16 79v1M18 45v1M19 6v1m0 58v1m0 28v1M20 69v1M23 97v1M26 5v1M27 52v1M29 81v1M30 98v1M31 92v1M33 1v1m0 41v1M35 24v1m0 2v1m0 22v1M36 82v1M38 95v1M39 4v1m0 60v1M40 16v1M41 84v1M42 54v1M43 52v1M45 68v1M46 15v1M47 50v1m0 34v1M48 33v1m0 11v2m0 42v1m0 5v1M49 48v1M50 91v1M52 65v1M53 66v1M54 7v1M55 9v1m0 51v1M56 53v1m0 35v1m0 9v1M57 35v1m0 63v1M60 32v2M61 33v1M62 53v1m0 8v1m0 4v1M63 35v1M65 12v1M67 81v1M68 81v1M69 95v1M70 48v1m0 22v1M71 10v1m0 37v1M72 20v1m0 33v1M73 62v1m0 24v1M74 81v1m0 6v1m0 2v1m0 7v1M75 47v1M77 47v1m0 30v1M79 95v1M80 42v1m0 52v1m0 2v1M81 41v1m0 47v1m0 8v1M82 19v1m0 63v1m0 4v1m0 8v1M83 18v1m0 8v2m0 48v1m0 5v1m0 11v1M84 59v1m0 11v2m0 5v1M85 65v1M86 13v1M87 83v1M88 14v1M89 27v1m0 6v2M90 65v1m0 3v1M91 69v1M92 55v1m0 38v1M94 10v1m0 28v1m0 38v1m0 1v1M95 39v1m0 16v1m0 2v1M96 9v1M97 58v1M98 52v1M99 81v1"/><path stroke="#d3d3d3" d="M0 83v1M1 88v1M4 82v1M8 21v1M12 58v1M14 9v1m0 37v1M15 81v1M16 65v1M17 77v1m0 12v1M18 94v1M23 91v1M25 10v1m0 41v1M26 4v1M27 36v2m0 46v1M28 79v1M29 83v1m0 4v1M30 87v2M31 91v1M33 45v1M36 51v1M40 17v1M41 53v1M42 55v1m0 28v1M45 93v1M46 50v1M48 97v1M50 50v1M52 63v2M54 96v2m0 1v1M55 10v1m0 23v1m0 61v2m0 1v1M57 79v1M58 79v1M61 27v1M71 70v2M72 70v1M73 20v1m0 60v1M75 46v1m0 13v1M77 52v1M78 79v1M79 42v1M80 41v1m0 57v1M81 40v1M83 96v2M84 38v1M85 37v1M86 38v1m0 27v1m0 16v1M88 34v1M89 54v1m0 19v1M90 37v1m0 5v1m0 36v1M96 59v1M97 8v1M98 66v1M99 58v2m0 6v1m0 19v1m0 5v1"/><path stroke="#dddddd" d="M0 82v1M3 46v1M10 20v1m0 21v1m0 9v1M12 57v1M16 80v1M25 4v1M26 36v1m0 14v1m0 1v1M27 53v1M34 51v1M35 52v1M40 88v1M46 49v1M49 90v1M51 16v1m0 14v1M52 32v1M53 11v1m0 53v1M55 11v1m0 58v1M56 70v1M57 36v1M60 91v1M61 15v1M62 15v1m0 26v1m0 11v1M65 76v1M68 76v1M72 80v1M73 61v1m0 18v1M74 62v1M76 46v1M77 57v1M78 52v1M79 61v1M80 60v1M82 95v1m0 2v1M83 78v2M85 8v1m0 30v1m0 26v1M86 9v1M87 35v1M88 54v1M90 39v1m0 1v1m0 24v1M91 65v1m0 4v1M92 65v1M95 9v1m0 69v1M97 52v1M98 92v1M99 80v1m0 6v1"/><path stroke="#e6e6e6" d="M4 46v1m0 19v1M8 82v1M12 56v1M15 78v1M17 76v1M25 51v1M29 79v1M30 97v1M39 17v1M41 54v2M42 52v2M48 96v1M49 50v1M51 63v1M54 8v1m0 1v1M55 7v1M59 62v1M60 62v1m0 29v1M64 75v2M69 94v1M73 88v1M90 42v1m0 31v1M91 80v1M93 94v1M98 59v1"/><path stroke="#f0f0f0" d="M17 66v1M18 64v1M28 80v1M32 6v1M33 44v1M62 63v2M68 3v1M85 9v1M88 35v1M94 79v1M95 10v1M96 56v1"/><path stroke="#fafafa" d="M4 67v1M10 43v1M15 79v2M16 66v1M17 65v1M18 65v1M26 52v1M28 83v2M29 80v1M30 64v1M31 10v2M32 10v2M35 51v1M49 49v1M50 49v1M51 32v1M54 11v1M55 8v1M61 92v1M74 60v2M76 47v1M80 61v1M85 38v1M90 38v1m0 31v1M98 58v1m0 27v2"/></g></g>
</g>
<rect x="1795.50" y="317.00" width="280.00" height="1.00" fill="#fff" stroke="none" stroke-width="1.1" />
<rect x="1795.50" y="38.50" width="280.00" height="280.00" fill="none" stroke="#000" stroke-width="1.1" />
<line x1="1798.50" y1="38.50" x2="1798.50" y2="33.20" stroke="#000" stroke-width="1.1" />
<line x1="1866.50" y1="38.50" x2="1866.50" y2="33.20" stroke="#000" stroke-width="1.1" />
<line x1="1935.50" y1="38.50" x2="1935.50" y2="33.20" stroke="#000" stroke-width="1.1" />
<line x1="2003.50" y1="38.50" x2="2003.50" y2="33.20" stroke="#000" stroke-width="1.1" />
<line x1="2071.50" y1="38.50" x2="2071.50" y2="33.20" stroke="#000" stroke-width="1.1" />
<line x1="1863.50" y1="318.50" x2="1863.50" y2="323.80" stroke="#000" stroke-width="1.1" />
<line x1="1931.50" y1="318.50" x2="1931.50" y2="323.80" stroke="#000" stroke-width="1.1" />
<line x1="1999.50" y1="318.50" x2="1999.50" y2="323.80" stroke="#000" stroke-width="1.1" />
<line x1="2068.50" y1="318.50" x2="2068.50" y2="323.80" stroke="#000" stroke-width="1.1" />
<line x1="1795.50" y1="47.50" x2="1790.20" y2="47.50" stroke="#000" stroke-width="1.1" />
<line x1="1795.50" y1="116.50" x2="1790.20" y2="116.50" stroke="#000" stroke-width="1.1" />
<line x1="1795.50" y1="185.50" x2="1790.20" y2="185.50" stroke="#000" stroke-width="1.1" />
<line x1="1795.50" y1="254.50" x2="1790.20" y2="254.50" stroke="#000" stroke-width="1.1" />
<line x1="2075.50" y1="54.50" x2="2080.80" y2="54.50" stroke="#000" stroke-width="1.1" />
<line x1="2075.50" y1="123.50" x2="2080.80" y2="123.50" stroke="#000" stroke-width="1.1" />
<line x1="2075.50" y1="191.50" x2="2080.80" y2="191.50" stroke="#000" stroke-width="1.1" />
<line x1="2075.50" y1="260.50" x2="2080.80" y2="260.50" stroke="#000" stroke-width="1.1" />
<text x="1783.2" y="51.1" font-size="14.17" text-anchor="end" fill="#000" textLength="43.8" lengthAdjust="spacingAndGlyphs">11°45'</text>
<text x="1783.2" y="120.1" font-size="14.17" text-anchor="end" fill="#000" textLength="19.3" lengthAdjust="spacingAndGlyphs">30'</text>
<text x="1783.2" y="189.1" font-size="14.17" text-anchor="end" fill="#000" textLength="19.3" lengthAdjust="spacingAndGlyphs">15'</text>
<text x="1783.2" y="258.1" font-size="14.17" text-anchor="end" fill="#000" textLength="19.3" lengthAdjust="spacingAndGlyphs">00'</text>
<text transform="translate(1728.6 179.5) rotate(-90)" font-size="14.17" text-anchor="middle" fill="#000" textLength="24.7" lengthAdjust="spacingAndGlyphs">Dec</text>
<path d="M1867.0 105.7L1874.8 113.5M1867.0 113.5L1874.8 105.7" stroke="#008000" stroke-width="1.5" fill="none"/>
<path d="M1895.0 179.0L1902.8 186.8M1895.0 186.8L1902.8 179.0" stroke="#ff0000" stroke-width="1.5" fill="none"/>
<circle cx="1992.5" cy="151.7" r="4.1" fill="none" stroke="#008000" stroke-width="1.4"/>
<text x="1986.0" y="144.5" font-size="14.17" text-anchor="start" fill="#008000" opacity="1.0" textLength="112.0" lengthAdjust="spacingAndGlyphs">PSRJ1951+1123</text>
<path d="M1928.5 179.7L1935.2 173.3L1937.7 173.7L1939.2 175.1L1939.6 176.5L1939.6 180.3L1935.2 184.5L1932.7 184.4Z" fill="none" stroke="#2020e0" stroke-width="1.1"/>
<rect x="2096.50" y="38.50" width="14.00" height="280.00" fill="url(#gray)" stroke="none" stroke-width="1.1" />
<rect x="2096.50" y="38.50" width="14.00" height="280.00" fill="none" stroke="#000" stroke-width="1.1" />
<line x1="2110.50" y1="40.50" x2="2115.80" y2="40.50" stroke="#000" stroke-width="1.1" />
<text x="2120.4" y="45.5" font-size="14.17" text-anchor="start" fill="#000" textLength="28.7" lengthAdjust="spacingAndGlyphs">0.09</text>
<line x1="2110.50" y1="100.50" x2="2115.80" y2="100.50" stroke="#000" stroke-width="1.1" />
<text x="2120.4" y="105.6" font-size="14.17" text-anchor="start" fill="#000" textLength="28.7" lengthAdjust="spacingAndGlyphs">0.08</text>
<line x1="2110.50" y1="160.50" x2="2115.80" y2="160.50" stroke="#000" stroke-width="1.1" />
<text x="2120.4" y="165.7" font-size="14.17" text-anchor="start" fill="#000" textLength="28.7" lengthAdjust="spacingAndGlyphs">0.07</text>
<line x1="2110.50" y1="220.50" x2="2115.80" y2="220.50" stroke="#000" stroke-width="1.1" />
<text x="2120.4" y="225.8" font-size="14.17" text-anchor="start" fill="#000" textLength="28.7" lengthAdjust="spacingAndGlyphs">0.06</text>
<line x1="2110.50" y1="280.50" x2="2115.80" y2="280.50" stroke="#000" stroke-width="1.1" />
<text x="2120.4" y="285.9" font-size="14.17" text-anchor="start" fill="#000" textLength="28.7" lengthAdjust="spacingAndGlyphs">0.05</text>
<text transform="translate(2165.9 178.4) rotate(-90)" font-size="14.17" text-anchor="middle" fill="#000" textLength="148.6" lengthAdjust="spacingAndGlyphs">rms = 0.0874 (0.589)</text>
<g clip-path="none">
<rect x="1795.50" y="332.50" width="280.00" height="280.00" fill="#444"/><g transform="translate(1795.50 332.50) scale(2.8000)" filter="url(#sm2)"><rect width="100" height="100" fill="#535353"/><g transform="translate(.5 0)" fill="none" stroke-width="1.06" shape-rendering="crispEdges"><path stroke="#050505" d="M0 61v1M4 75v1M5 58v1M7 86v1M13 17v1M14 65v1M21 97v1M23 40v1M24 47v1M25 40v1M26 40v1m0 9v1M27 40v1M28 19v1m0 13v1m0 6v1m0 14v1M29 1v1m0 67v1M30 28v1m0 56v1M31 28v1m0 19v1M32 28v1M34 54v1m0 34v1m0 7v1M35 88v1m0 7v1M36 82v2m0 4v1M37 81v2m0 5v1m0 5v1M38 72v1m0 15v1M39 88v1M40 76v1m0 12v1m0 8v1M41 89v1m0 8v2M42 88v1M45 40v1M46 17v1M47 83v1M49 63v1M50 76v3m0 6v1M52 95v1M53 7v2m0 86v1M54 7v1M55 30v1m0 3v1m0 7v1M57 8v1M59 3v1m0 41v1M60 14v1M61 1v1m0 10v3M62 1v2m0 70v2m0 1v1M63 18v1m0 57v1M64 70v1M66 74v1M67 4v1m0 41v2M69 7v2M70 89v1M71 14v1M72 51v1m0 17v2M73 17v2M74 47v1M77 81v1m0 14v2M78 81v1M79 15v1M80 32v1M81 86v1M88 39v1M90 67v1M91 72v1M92 15v1M93 2v1M94 9v1m0 10v1M95 9v1m0 10v1M96 23v1M97 97v1M99 59v1"/><path stroke="#0f0f0f" d="M0 62v2M5 67v1m0 21v1M10 43v1M11 65v1M12 31v1M13 77v1M14 58v2m0 15v1M16 50v1m0 16v2M17 93v1M21 15v1M22 12v1m0 27v1m0 52v1M24 40v1m0 24v1M25 64v1m0 7v1M26 17v1m0 31v1m0 1v1M27 10v1m0 30v1m0 7v1M28 30v1M29 8v1m0 24v1m0 36v1m0 25v1M30 95v1M31 27v1m0 67v1M32 27v1m0 20v1M33 28v1m0 62v1M34 88v1M35 97v1M36 95v1M37 28v1m0 43v1M38 60v1m0 28v1M39 69v1M41 45v1m0 27v1m0 14v1M42 67v1M43 14v2m0 72v1M44 43v1M45 17v1m0 21v1m0 36v1m0 4v1M46 66v1m0 29v1M47 76v1M48 76v1m0 3v1M49 87v1M50 64v1m0 22v1M51 77v2m0 5v2M52 19v1m0 10v1m0 12v1m0 17v1m0 5v1M54 14v1m0 15v1M55 18v1m0 1v1M56 18v1m0 1v1m0 21v1M59 2v1m0 10v2m0 10v1M60 7v1m0 37v1m0 44v1M61 15v2m0 6v1m0 48v1M62 19v1M63 9v1m0 9v1m0 1v1m0 16v1m0 3v1m0 49v1M64 38v1m0 30v1M65 20v1m0 48v1M66 23v1m0 17v1m0 4v1m0 30v1M67 99v1M68 13v1m0 33v1m0 46v1M69 90v1M70 90v1M71 37v1m0 12v1M72 18v1m0 35v1M73 91v1M75 3v1M76 89v1M78 73v1m0 22v1M79 23v1M80 31v1m0 36v1M82 40v1M84 73v1m0 9v1M85 3v1M87 97v1M89 14v1M90 15v1m0 56v1M91 3v1m0 4v1m0 6v1m0 59v1M92 2v2m0 10v1m0 48v1M94 3v2m0 90v1M95 3v3m0 6v2m0 30v1M96 98v1M97 3v1m0 49v1M98 15v1m0 83v1M99 99v1"/><path stroke="#191919" d="M0 2v1M1 19v2m0 40v1M2 52v1M3 5v1m0 3v1M4 9v1M5 2v1m0 6v1M6 57v2m0 6v1m0 1v1M7 29v1M9 32v1M10 62v1M11 40v1m0 25v1M12 56v1M13 25v1m0 33v1m0 15v1M14 66v1m0 7v1M16 84v1M17 53v1m0 7v1M18 61v1M19 79v2m0 7v1M21 9v1m0 6v1m0 20v1m0 7v1m0 47v1M22 9v1m0 4v2m0 53v1m0 11v1m0 14v2M23 8v3m0 47v1m0 16v1M24 13v1m0 69v1m0 4v1M25 84v2M26 73v1m0 5v1m0 4v1M27 51v1m0 3v1m0 23v1M28 26v1m0 7v1M29 2v1m0 27v1m0 59v1m0 4v1M30 24v1m0 40v2m0 17v1M31 41v1m0 43v1m0 6v1M33 29v1m0 67v1M34 74v1m0 9v1m0 2v1m0 2v2M35 26v1m0 60v1m0 7v1M36 81v1m0 5v1M37 60v1m0 26v1m0 7v1M38 18v1m0 32v1m0 43v1M39 17v1m0 29v1m0 41v1m0 2v1M40 45v1m0 42v1m0 1v1m0 2v1M41 3v1m0 80v1m0 5v1M42 17v1m0 30v1m0 38v1M43 16v1m0 37v1M44 14v1m0 25v1m0 14v1M45 44v1m0 21v2m0 7v1m0 20v1M46 77v1m0 21v1M47 19v1m0 57v1m0 6v1M48 81v1M49 76v1M50 63v1m0 8v1m0 13v1M51 13v1M52 7v1m0 18v2m0 34v1m0 31v1M53 30v1m0 30v1m0 5v1m0 26v1M54 15v1m0 18v1M55 2v1M56 3v1m0 17v2m0 20v1m0 20v1M57 4v1m0 5v1m0 31v1m0 21v1m0 14v1M58 13v1m0 8v2m0 45v2M59 12v1M60 4v1m0 8v1M61 2v1m0 8v1m0 7v1m0 65v1M62 3v1m0 19v1m0 15v2m0 7v1m0 26v1m0 5v1M63 20v1m0 61v1M64 77v1m0 14v1M65 19v1m0 3v1m0 49v2M66 47v1m0 21v1M67 5v1m0 6v1m0 53v1m0 7v1M68 45v2m0 3v1m0 39v1M69 0v1m0 8v2m0 2v2m0 32v1M70 10v2m0 2v1m0 19v1M71 12v2m0 22v1m0 51v1M72 7v1m0 6v1m0 2v1m0 34v1M73 70v1m0 21v1M74 17v1m0 1v1m0 28v1m0 29v1M75 31v1m0 15v1m0 40v1M76 3v2m0 12v2M77 17v1m0 34v1m0 20v1m0 6v1m0 2v1M78 26v1m0 4v1m0 21v1m0 26v1m0 14v1M79 31v1m0 21v1m0 2v1M80 56v1m0 10v1m0 27v1M81 66v1m0 20v1M84 1v1M86 4v1M87 69v1m0 20v1M88 97v1M89 8v1m0 76v1M90 7v2m0 64v1m0 1v1M91 94v1M92 25v3m0 66v1M93 3v1m0 5v1m0 36v1m0 46v1m0 2v1M94 8v1m0 78v1m0 2v1M95 19v1m0 3v1m0 43v1M96 5v1m0 3v1m0 36v1M99 75v1"/><path stroke="#222222" d="M0 72v1M1 63v2m0 10v1m0 2v1M2 9v1m0 23v1M3 41v1M4 46v1m0 29v1M5 6v1m0 49v2M6 2v1m0 65v1m0 1v1m0 20v1m0 7v1M7 30v1m0 54v1m0 1v1M8 27v1M9 14v1m0 34v1M10 0v1m0 39v1m0 22v1M11 3v1m0 27v1M12 11v1m0 60v1m0 2v1m0 7v1m0 15v1M13 31v1m0 26v1m0 14v2m0 1v1m0 7v1m0 14v1M14 57v1m0 6v1m0 34v1M15 67v2M16 66v1m0 26v1M18 96v1M19 23v1m0 59v2M20 44v1m0 35v1M21 8v1m0 5v1m0 2v2m0 32v1M22 11v1M23 6v2m0 3v1m0 1v1m0 33v1m0 4v1m0 6v2m0 7v1m0 5v1M24 7v2m0 5v1m0 18v1m0 7v1m0 16v2m0 6v1m0 18v1m0 7v1M25 50v1m0 14v1m0 7v1m0 9v1M26 10v1m0 5v1m0 24v1M27 34v1m0 15v1m0 38v1M28 7v1m0 10v1m0 22v1m0 12v1m0 1v1m0 4v1m0 6v1m0 3v1m0 16v1m0 1v2M29 3v1m0 20v2m0 13v1m0 6v1m0 9v1m0 14v1m0 4v2M30 2v1m0 26v1m0 40v2m0 4v1M31 13v1m0 17v1m0 38v1m0 5v2m0 6v1M32 36v1m0 33v1m0 21v1m0 1v1m0 2v1M33 30v1m0 56v1m0 2v1m0 7v1M34 17v1m0 8v1m0 46v1m0 22v1M35 84v1M36 4v1m0 12v1m0 76v1M37 83v1m0 5v1m0 2v2m0 4v1M38 28v1m0 44v1m0 7v1m0 15v1M39 18v1m0 26v2m0 1v1m0 21v1m0 22v1M40 58v1m0 2v1m0 22v1m0 7v1m0 4v1M41 27v1m0 43v2m0 23v1M42 45v1m0 8v1m0 13v1M43 42v2m0 9v1m0 1v2m0 1v1m0 9v1m0 18v1M44 13v1m0 12v1m0 3v1m0 8v1m0 1v2m0 1v1m0 11v1m0 11v1M45 43v1m0 19v1m0 16v1m0 4v2m0 10v1M46 16v1m0 11v2m0 33v1m0 11v2m0 6v1m0 2v1M47 10v1m0 4v1m0 4v1m0 36v1m0 6v1M48 6v1m0 13v1M49 31v1m0 47v1m0 5v2m0 1v1M50 17v2m0 54v1m0 5v1M51 11v1m0 18v1m0 5v1m0 6v1m0 28v1M52 6v1m0 1v1m0 51v1m0 37v2M53 15v1m0 11v1m0 1v1m0 3v1M54 0v1m0 7v1m0 10v2m0 8v1m0 19v1m0 31v1m0 9v1M55 3v1m0 3v1m0 11v1m0 6v1m0 2v1m0 13v1M56 2v1m0 2v2m0 9v2m0 5v1m0 17v1M57 5v1m0 1v1m0 1v1m0 5v1m0 6v2m0 17v1m0 27v2M58 7v2m0 5v1m0 50v1m0 13v1M59 7v1m0 13v1M60 2v1m0 9v1m0 12v1m0 54v1M61 0v1m0 4v2m0 11v1m0 21v1m0 27v1m0 5v3m0 7v1M62 5v2m0 7v2m0 22v1m0 33v1m0 4v1m0 2v1m0 14v1M63 5v1m0 16v2m0 13v1m0 3v1m0 3v1m0 2v1m0 28v1m0 3v1m0 11v1M64 9v1m0 2v1m0 6v2m0 2v1m0 17v1m0 26v1m0 4v1M65 70v1m0 4v1m0 1v1m0 20v1M66 18v1m0 18v1m0 56v1m0 2v2M67 3v1m0 20v1m0 2v2m0 48v1m0 20v1M68 4v1m0 3v3m0 1v1m0 38v1m0 28v1M69 5v2m0 36v2m0 1v1m0 1v1m0 40v1M70 9v1m0 2v1m0 2v1m0 22v1m0 19v1m0 27v1m0 1v1M71 11v1m0 3v1m0 35v1m0 18v1m0 16v1M72 46v1m0 6v1M73 4v2m0 33v1m0 6v1m0 20v1M74 18v1m0 1v1m0 21v2m0 13v1m0 21v1M75 21v1m0 26v1m0 2v1m0 32v2M76 51v1m0 36v1m0 8v1M77 51v1M78 17v1m0 24v1m0 9v1m0 3v1m0 25v2M79 22v1m0 9v1m0 48v1M80 15v1m0 17v1m0 23v1m0 11v1m0 26v1M82 39v1m0 10v1M83 23v1m0 6v1m0 8v3m0 53v1M84 2v2m0 12v1m0 27v1m0 17v1m0 23v1m0 11v1M85 5v1m0 35v1m0 41v1m0 10v2M86 3v1m0 34v1m0 55v1M87 39v1m0 10v1m0 9v1M88 38v1m0 32v1M89 39v1m0 29v1M90 1v1m0 40v1m0 23v1m0 7v1M91 7v1m0 1v1m0 20v1m0 31v1m0 8v1m0 1v1m0 21v1M92 22v2m0 11v1m0 59v1M93 33v1m0 41v1m0 18v1M94 2v1m0 16v1m0 47v1m0 13v1m0 4v1M95 18v1m0 24v1m0 1v2m0 19v1m0 20v1M96 10v1m0 86v1m0 1v1M97 2v1m0 49v1m0 45v1M98 37v1m0 60v1M99 13v1m0 1v1m0 42v1m0 1v1"/><path stroke="#2c2c2c" d="M0 8v1m0 29v1m0 21v1m0 7v1m0 7v1m0 16v1M1 2v1m0 10v2m0 13v2m0 22v1m0 14v1m0 8v1m0 16v1M2 5v1m0 21v1m0 4v1m0 18v1m0 2v1M3 10v1m0 48v1m0 3v1m0 12v1M4 0v1m0 5v2m0 20v1m0 16v1m0 16v2m0 25v1M5 3v1m0 3v2m0 19v1m0 13v1m0 19v1m0 3v1m0 1v1m0 10v1m0 8v1M6 1v1m0 62v1m0 6v1m0 10v1m0 7v1M7 28v1m0 8v1m0 21v3M8 30v1m0 49v1m0 5v2m0 5v2M9 21v1m0 7v1m0 3v1m0 19v1M10 6v2m0 25v1m0 8v1m0 1v1m0 1v1m0 2v1m0 3v1m0 10v1m0 6v1M11 6v1m0 55v1m0 1v1m0 7v1m0 17v1M12 25v1m0 14v1m0 6v1m0 14v1m0 4v1m0 22v1m0 3v1M13 16v1m0 9v1m0 5v1m0 15v1m0 11v1m0 31v1M14 3v1m0 56v1m0 10v1m0 1v1m0 2v1m0 8v1m0 12v1M15 50v1m0 14v2M16 5v1m0 46v1m0 12v1m0 13v1m0 3v1M17 1v1m0 48v1m0 11v1m0 4v1M18 1v1m0 19v1m0 29v1m0 2v1m0 4v1m0 2v1m0 11v1m0 4v1m0 13v1M19 0v1m0 58v1m0 13v1m0 13v1M20 1v1m0 7v1m0 33v1m0 4v1m0 15v1m0 7v2M21 38v1m0 13v1M22 0v1m0 7v1m0 4v1m0 24v2m0 20v1m0 16v2m0 3v1M23 12v1m0 26v1m0 1v1m0 13v1m0 5v2m0 15v1m0 4v1m0 5v2m0 2v1M24 6v1m0 2v1m0 5v1m0 18v1m0 25v1m0 11v1m0 21v1M25 41v1m0 4v2m0 1v1m0 10v1m0 1v1m0 8v1M26 39v1m0 32v1m0 4v1m0 2v1m0 4v1M27 19v1m0 28v1m0 7v2m0 15v1m0 3v1M28 14v1m0 5v1m0 32v1m0 3v1m0 11v1m0 8v1m0 11v1M29 13v2m0 23v1m0 33v1m0 13v2m0 3v1M30 17v1m0 9v1m0 18v1m0 1v1m0 26v1m0 12v1m0 2v1m0 4v1M31 17v1m0 6v1m0 15v1m0 8v1m0 21v1m0 3v1M32 7v1m0 5v1m0 10v1m0 52v1m0 15v1M33 12v1m0 7v2m0 9v1m0 6v2m0 14v1m0 19v1m0 7v2M34 29v1m0 8v1m0 14v1m0 29v1m0 14v1M35 64v1m0 18v1M36 18v1m0 7v1m0 62v1m0 6v1m0 2v1M37 18v1m0 10v2m0 42v2m0 5v1M38 17v1m0 7v1m0 22v1m0 1v1m0 1v1m0 16v1m0 1v1m0 10v1M39 15v2m0 41v1m0 9v1m0 16v1M40 46v1M41 4v1m0 41v1m0 14v1m0 12v1m0 18v1m0 1v1m0 1v1M42 7v1m0 6v1m0 38v1m0 12v1m0 7v1m0 14v1m0 9v1M43 17v1m0 48v1m0 22v1M44 15v2m0 14v1m0 26v1m0 10v1M45 16v1m0 15v1m0 21v1m0 22v1M46 18v2m0 20v1m0 19v1m0 1v1m0 15v1m0 2v1m0 2v2m0 11v1M47 28v1m0 25v1m0 8v1m0 25v1M48 21v1m0 10v2m0 20v1m0 2v1m0 2v1m0 2v1m0 15v1M49 6v1m0 14v2m0 4v3m0 22v2m0 2v1m0 3v1m0 3v1m0 10v1M50 29v1m0 1v1m0 56v1M51 12v1m0 1v1m0 51v1m0 6v1m0 19v2M52 13v1m0 52v1M53 14v1m0 45v1m0 5v1m0 9v1m0 4v1M54 18v1m0 14v1m0 22v1m0 11v2m0 5v1m0 19v1M55 1v1m0 2v3m0 9v1m0 4v1m0 9v1m0 1v1m0 15v1m0 29v3M56 4v1m0 2v1m0 36v1m0 38v1m0 9v1M57 18v1m0 18v1m0 15v1m0 11v1m0 9v1m0 2v1m0 4v1M58 3v2m0 7v1m0 5v1m0 5v1m0 17v1m0 21v1m0 8v1m0 4v1m0 4v1m0 3v1M59 20v1M60 3v1m0 2v1m0 1v1m0 7v2m0 2v3m0 23v1M61 7v1m0 9v1m0 4v1m0 1v1m0 25v1m0 3v1m0 12v1m0 5v1m0 21v1m0 2v1M62 13v1m0 2v1m0 1v1m0 1v1m0 16v1m0 7v1m0 7v2m0 2v1m0 24v1M63 1v1m0 6v1m0 1v1m0 6v1m0 14v1m0 10v2m0 26v1m0 1v1m0 1v1M64 10v1m0 7v1m0 2v1m0 34v1m0 41v1M65 0v1m0 17v1m0 21v2m0 14v1m0 11v1m0 3v1M66 5v1m0 1v1m0 7v1m0 8v1m0 11v1m0 3v1m0 34v1m0 2v1M67 10v2m0 3v1m0 7v1m0 17v1m0 3v1m0 19v1m0 1v1m0 26v1M68 5v1m0 8v1m0 26v2m0 5v1m0 3v1m0 12v2m0 3v1m0 13v1m0 14v1M69 50v2m0 28v1m0 3v2m0 8v1M70 13v1m0 21v1m0 1v1m0 12v2m0 5v1m0 9v1m0 5v1m0 4v1m0 2v1M71 46v1m0 35v1m0 6v1M72 19v1m0 7v1m0 15v1m0 13v1M73 11v1m0 33v1m0 1v1m0 3v1m0 4v2m0 11v1m0 20v1M74 46v1m0 9v1M75 19v1m0 10v1m0 11v1m0 14v1m0 21v1m0 7v1m0 1v1m0 3v2m0 2v1M76 47v1m0 8v2m0 23v1m0 4v1m0 3v1m0 5v1M77 31v3m0 21v2m0 15v1m0 9v1m0 7v1M78 16v1m0 6v1m0 6v1m0 1v1m0 41v1m0 9v1m0 12v1M79 9v1m0 6v1m0 50v2m0 11v1M80 66v1M81 95v1M82 38v1m0 3v1m0 37v1m0 14v1M83 11v1m0 4v1m0 27v1m0 22v1M84 40v2m0 30v1m0 9v1m0 2v1m0 3v1m0 4v1M85 2v1m0 3v1m0 11v1m0 2v2m0 17v1m0 12v1m0 8v1m0 17v1M86 37v1m0 17v1m0 12v1m0 2v1m0 18v2M87 12v1m0 24v2m0 22v1m0 8v2m0 26v1M88 34v1m0 28v1m0 5v2m0 14v1M89 1v1m0 7v1m0 5v1m0 18v1m0 32v1M90 14v1m0 20v1m0 32v1m0 30v1M91 2v1m0 13v1m0 5v1m0 8v1m0 3v1m0 27v1m0 10v1m0 1v1M92 9v1m0 3v1m0 39v2m0 9v1m0 28v1m0 2v1M93 1v1m0 6v1m0 1v1m0 4v1m0 5v1m0 4v1m0 20v1m0 42v1m0 4v1m0 1v1M94 5v1m0 1v1m0 2v1m0 1v2m0 7v1m0 6v1m0 4v1m0 9v2m0 15v4m0 4v1m0 11v1m0 13v1M95 80v1m0 5v1m0 9v2M96 3v1m0 8v1M97 4v3m0 5v1m0 2v1m0 14v1m0 3v1m0 11v1m0 49v1M98 16v3m0 17v1m0 22v1M99 14v1m0 22v1m0 18v2m0 4v2"/><path stroke="#363636" d="M0 1v1m0 5v1m0 2v1m0 12v1m0 3v1m0 22v1m0 13v1m0 2v1M1 22v1m0 15v1m0 7v1m0 1v1m0 13v1m0 14v1M2 8v1m0 6v1m0 3v1m0 21v1m0 22v1M3 4v1m0 1v1m0 18v2m0 4v1m0 8v1m0 28v1M4 3v1m0 4v1m0 1v1m0 13v2m0 32v1m0 9v1m0 5v1m0 15v1M5 10v1m0 32v1m0 1v2m0 26v3m0 6v1M6 3v1m0 70v1m0 2v1M7 62v1m0 11v1m0 1v2m0 13v3M8 18v1m0 6v2m0 2v1m0 1v1m0 27v1m0 1v1M9 50v1m0 1v1m0 8v2m0 8v1m0 23v1M10 1v1m0 59v1m0 11v1M11 2v1m0 38v1m0 1v1m0 9v2m0 16v1m0 1v1M12 6v1m0 9v1m0 9v2m0 4v1m0 6v1m0 1v1m0 4v1m0 8v1m0 9v1m0 7v2m0 13v1m0 2v1M13 6v1m0 11v2m0 20v1m0 21v1m0 2v1m0 6v1m0 18v1M14 25v1m0 55v1m0 2v1m0 1v1M15 4v1m0 16v1m0 22v1m0 6v1m0 10v1M16 1v1m0 7v1m0 32v1m0 42v1m0 3v1M17 5v2m0 2v1m0 32v1m0 11v3m0 26v4m0 5v1m0 1v1M18 2v1m0 36v1m0 15v1m0 10v2m0 19v2m0 6v1M19 1v1m0 28v1m0 12v1m0 14v1m0 11v3m0 1v1m0 3v1m0 2v1m0 9v1M20 0v1m0 7v1m0 5v1m0 9v1m0 5v1m0 14v1m0 7v1m0 25v1m0 4v1m0 2v2M21 7v1m0 4v1m0 31v1m0 10v1m0 8v1m0 4v1M22 6v1m0 9v1m0 11v2m0 2v1m0 2v3m0 3v2m0 2v1m0 9v1m0 3v1m0 29v2M23 0v1m0 13v1m0 6v1m0 55v1m0 1v2m0 13v1M24 10v1m0 10v1m0 9v2m0 2v1m0 10v1m0 1v1m0 3v1m0 8v2m0 1v1m0 21v1m0 2v1M25 27v2m0 10v1m0 8v1m0 12v1m0 1v1M26 0v1m0 23v1m0 2v2m0 9v1m0 9v1m0 7v1m0 2v3m0 2v1m0 9v1m0 1v1m0 1v1M27 14v1m0 12v1m0 30v1m0 2v1m0 6v1m0 3v1m0 5v1M28 8v1m0 4v1m0 11v1m0 1v1m0 3v1m0 7v1m0 31v1m0 5v1m0 1v1m0 16v1m0 2v1M29 0v1m0 27v2m0 15v1m0 1v1m0 20v1m0 4v1m0 4v1m0 10v1m0 9v1M30 8v1m0 16v1m0 19v1m0 3v1m0 22v1m0 19v1M31 36v1m0 28v1m0 13v2m0 10v1m0 1v1M32 14v1m0 5v1m0 42v1m0 12v1m0 5v1m0 8v1m0 3v1m0 2v1M33 15v3m0 6v2m0 6v1m0 9v1m0 22v1m0 6v1m0 3v1m0 9v1M34 23v1m0 1v1m0 6v1m0 16v1m0 5v1m0 8v1M35 4v1m0 8v1m0 3v1m0 11v1m0 19v2m0 6v1m0 24v1m0 6v3m0 2v1M36 3v1m0 10v1m0 1v1m0 2v1m0 17v2m0 11v1m0 24v1m0 10v1m0 4v1m0 5v2M37 3v1m0 5v1m0 6v2m0 7v3m0 22v2m0 7v1m0 11v1m0 25v1M38 31v1m0 2v3m0 10v1m0 1v1m0 5v1m0 5v1m0 6v1m0 1v1m0 9v1m0 13v1m0 1v1M39 14v1m0 67v1m0 4v1m0 9v1M40 35v1m0 8v1m0 2v2m0 4v1m0 6v1m0 10v1m0 1v1m0 1v1m0 9v1m0 10v1M41 9v2m0 15v1m0 21v1m0 5v1m0 15v1m0 6v1m0 7v1m0 1v1M42 0v1m0 8v1m0 6v1m0 18v1m0 10v1m0 38v1m0 12v1M43 34v1m0 24v1m0 7v1m0 1v1m0 27v1M44 34v1m0 2v2m0 24v1m0 3v1m0 2v1m0 10v1m0 3v1m0 1v1M45 2v1m0 10v1m0 4v1m0 12v1m0 2v1m0 37v1m0 6v1m0 2v1m0 1v1m0 2v1m0 11v1M46 2v1m0 12v1m0 4v1m0 6v1m0 4v1m0 9v1m0 1v1m0 1v1m0 1v1m0 5v1m0 10v1m0 1v1m0 6v1m0 4v2m0 1v1M47 6v1m0 10v1m0 15v1m0 14v2m0 10v1m0 19v3m0 2v4M48 53v1m0 10v1m0 5v1m0 4v1m0 11v1M49 30v1m0 1v1m0 36v1m0 8v1m0 15v1M50 5v1m0 6v2m0 16v1m0 44v1m0 8v1m0 8v2M51 27v1m0 16v1m0 16v2m0 1v1m0 21v1m0 12v1M52 14v3m0 1v1m0 14v1m0 10v1m0 4v1m0 20v1m0 6v1m0 18v1M53 19v1m0 6v1m0 1v1m0 3v1m0 1v1m0 14v1m0 5v2m0 18v1m0 1v1m0 12v1m0 5v1M54 1v1m0 1v1m0 6v1m0 2v1m0 9v1m0 7v1m0 7v1m0 2v1m0 9v2m0 25v2m0 15v1M55 13v1m0 3v1m0 4v1m0 15v1m0 2v1m0 8v1m0 17v1m0 13v1m0 3v1m0 4v1m0 1v1m0 2v2M56 8v3m0 8v1m0 7v1m0 8v1m0 26v1m0 20v1m0 5v2m0 6v1M57 6v1m0 13v1m0 3v1m0 2v1m0 6v1m0 5v1m0 2v1m0 30v1M58 21v1m0 3v1m0 19v1m0 9v2m0 9v1M59 6v1m0 1v1m0 13v3m0 19v1m0 11v1m0 19v2m0 10v1m0 8v1m0 1v1M60 0v2m0 3v1m0 9v1m0 7v2m0 1v1m0 20v1m0 8v1m0 15v1m0 6v1m0 9v1m0 7v1m0 1v1M61 3v2m0 15v1m0 17v1m0 6v2m0 1v1m0 7v1m0 14v1m0 8v2M62 42v2m0 3v1m0 4v1m0 2v1m0 12v1m0 14v2m0 13v1M63 2v1m0 12v1m0 10v1m0 12v1m0 34v1m0 5v1m0 2v1m0 7v1m0 7v1M64 5v1m0 11v1m0 19v1m0 4v1m0 8v1m0 19v2m0 3v1m0 1v1m0 1v1m0 2v1M65 21v1m0 15v1m0 17v1m0 20v1M66 6v1m0 1v1m0 1v3m0 4v1m0 4v1m0 4v2m0 13v1m0 17v1m0 7v1m0 1v1m0 12v1m0 15v1M67 6v3m0 4v1m0 4v1m0 18v1m0 6v1m0 33v1m0 17v1M68 1v1m0 13v1m0 10v1m0 8v1m0 7v2m0 36v1m0 3v1m0 3v1M69 1v1m0 24v1m0 11v3m0 4v1m0 6v1m0 3v1m0 5v1m0 7v1m0 3v1m0 4v1m0 11v1M70 7v2m0 7v1m0 4v2m0 1v1m0 14v1m0 4v1m0 11v1m0 11v1m0 5v1m0 4v1m0 5v1m0 13v1M71 7v1m0 12v2m0 7v1m0 11v1m0 2v2m0 8v1m0 2v1m0 16v1m0 6v1m0 4v1m0 3v1m0 8v1M72 1v1m0 26v1m0 13v1m0 2v1m0 36v1m0 4v1m0 3v1M73 6v1m0 12v1m0 73v1m0 1v1M74 2v7m0 46v1m0 11v1m0 6v1m0 5v1m0 3v2m0 1v2m0 4v2m0 1v2M75 2v1m0 1v1m0 2v1m0 10v1m0 1v1m0 1v1m0 18v1m0 7v1m0 5v2m0 11v1m0 5v1m0 3v1m0 4v1m0 2v1M76 31v1m0 36v1m0 3v2m0 5v1m0 2v2m0 3v1m0 5v1m0 1v1M77 24v3m0 8v1m0 18v1m0 24v1m0 9v1M78 9v1m0 17v1m0 5v1m0 4v1m0 18v1m0 28v1M79 14v1m0 9v1m0 5v1m0 26v1m0 3v1m0 1v1m0 10v1m0 3v1m0 16v1M80 0v1m0 13v1m0 46v1m0 8v2M81 13v2m0 2v3m0 3v1m0 9v1m0 33v1m0 17v1m0 10v1M82 6v1m0 16v1m0 17v1m0 9v2m0 14v1m0 24v2m0 2v1M83 3v1m0 34v1m0 3v1m0 2v1m0 16v1m0 5v1m0 7v1m0 6v1m0 1v1m0 7v2M84 5v1m0 11v1m0 3v1m0 3v1m0 13v1m0 2v2m0 9v1m0 4v1m0 15v1m0 9v1m0 3v1m0 6v1M85 1v1m0 2v1m0 31v1m0 5v1m0 1v1m0 13v1m0 4v1m0 9v1m0 7v2M86 36v1m0 24v1M87 13v1m0 39v1m0 8v1m0 5v1m0 8v1m0 6v1M88 3v1m0 9v2m0 34v2m0 11v1m0 36v1M89 13v1m0 8v1m0 12v1m0 2v1m0 18v1m0 7v1m0 2v1m0 3v1m0 26v1M90 0v1m0 2v1m0 46v1m0 11v1m0 6v1m0 6v1m0 21v1M91 17v1m0 24v1m0 7v1M92 24v1m0 9v1m0 8v1m0 3v1m0 7v1m0 6v1m0 12v3M93 14v1m0 12v2m0 5v1m0 1v1m0 11v1m0 5v1m0 8v1m0 6v1m0 9v2M94 16v1m0 19v1m0 5v1m0 5v1m0 17v1m0 4v1m0 3v1m0 15v1m0 1v1m0 2v1M95 8v1m0 6v3m0 77v1M96 6v1m0 6v1m0 1v1m0 6v1m0 1v1m0 18v1m0 3v1m0 16v1M97 1v1m0 5v3m0 26v1m0 10v2m0 15v1m0 21v1M98 7v1m0 30v1m0 9v1m0 8v2m0 1v1m0 3v1m0 8v2m0 22v1M99 7v2m0 18v1m0 11v1m0 1v1m0 2v1m0 3v1m0 2v1m0 40v1"/><path stroke="#404040" d="M0 3v1m0 2v1m0 11v3m0 7v1m0 8v1m0 11v1m0 2v1m0 20v1m0 17v2M1 15v1m0 2v1m0 8v1m0 5v1m0 6v1m0 4v1m0 1v1m0 1v1m0 3v1m0 11v1m0 8v1m0 4v1M2 3v1m0 8v1m0 1v1m0 5v1m0 4v1m0 2v2m0 1v1m0 8v1m0 7v1m0 10v1m0 1v3m0 5v1m0 8v1M3 3v1m0 3v2m0 45v2m0 19v1m0 8v1M4 19v1m0 6v2m0 3v1m0 10v1m0 4v1m0 4v1m0 2v1m0 13v1M5 50v3m0 2v1m0 7v1m0 1v1m0 5v2m0 17v1m0 8v1M6 10v1m0 11v1m0 5v2m0 3v1m0 3v1m0 3v1m0 14v1m0 5v2m0 2v1m0 6v1m0 14v1M7 18v2m0 20v1m0 1v1m0 15v1m0 14v1m0 1v1m0 8v1m0 9v1m0 4v1M8 8v1m0 2v2m0 1v1m0 17v1m0 4v1m0 20v1m0 1v1m0 24v1m0 5v1m0 4v1M9 15v1m0 7v1m0 6v2m0 7v1m0 2v1m0 8v1m0 20v1m0 7v1m0 10v1M10 3v1m0 20v1m0 7v1m0 1v1m0 4v1m0 1v1m0 5v1m0 2v3m0 7v1m0 11v1M11 0v1m0 6v1m0 19v1m0 18v2m0 11v1m0 3v1m0 6v1m0 13v2M12 3v1m0 8v1m0 2v1m0 1v1m0 1v3m0 8v1m0 11v1m0 10v1m0 5v1m0 6v1m0 2v2m0 5v1m0 5v1m0 1v1m0 10v1M13 3v1m0 3v1m0 39v1m0 5v1m0 3v1m0 5v1m0 14v1m0 4v1m0 1v2m0 3v1m0 2v1M14 4v1m0 21v1m0 9v1m0 11v1m0 21v1m0 9v1m0 11v1M15 2v1m0 2v1m0 16v1m0 2v1m0 37v2m0 8v1m0 1v1m0 5v1m0 15v2M16 0v1m0 12v1m0 37v1m0 1v1m0 2v1m0 4v2m0 10v1m0 14v1m0 1v1m0 1v1m0 4v1M17 2v1m0 4v1m0 13v1m0 5v2m0 23v1m0 7v1m0 5v1m0 7v1m0 7v1m0 7v1M18 0v1m0 4v1m0 6v1m0 2v1m0 3v2m0 1v1m0 35v1m0 1v1m0 10v3m0 3v1m0 5v1m0 10v1M19 2v1m0 2v1m0 18v1m0 14v1m0 6v3m0 8v1m0 24v1m0 6v2m0 1v1M20 3v1m0 8v2m0 1v2m0 2v1m0 14v1m0 23v2m0 1v3m0 17v1m0 1v1m0 1v2m0 2v1M21 0v2m0 4v1m0 12v1m0 7v1m0 5v4m0 25v1m0 9v1m0 3v1m0 1v1m0 2v1m0 6v2M22 3v1m0 3v1m0 2v1m0 9v1m0 6v1m0 6v1m0 16v1m0 6v1m0 9v1m0 7v1M23 5v1m0 29v2m0 1v1m0 4v1m0 7v1m0 5v1m0 6v1m0 2v1m0 1v1m0 3v1m0 11v1m0 9v2M24 2v1m0 9v1m0 36v2m0 3v1m0 12v1m0 3v1m0 10v1m0 12v1M25 17v1m0 4v1m0 1v1m0 8v1m0 17v1m0 7v1m0 17v1m0 10v2m0 3v1M26 9v1m0 19v2m0 31v1m0 8v1m0 22v1M27 11v1m0 4v2m0 6v1m0 1v1m0 3v1m0 2v1m0 20v1m0 5v1m0 10v1m0 8v2m0 6v1M28 6v1m0 8v1m0 8v1m0 7v1m0 12v1m0 4v3m0 5v1m0 11v1m0 2v1m0 2v1m0 6v1m0 11v1M29 15v1m0 15v1m0 8v1m0 3v1m0 5v1m0 4v1m0 1v1m0 3v1m0 3v1m0 18v2M30 1v1m0 1v1m0 7v1m0 4v1m0 14v1m0 4v1m0 2v1m0 1v1m0 2v1m0 2v1m0 8v4m0 9v1m0 7v1m0 5v1m0 3v1m0 2v1M31 18v1m0 4v1m0 20v1m0 2v1m0 8v1m0 7v1m0 7v1m0 21v1M32 29v1m0 1v1m0 9v1m0 20v1m0 1v2m0 3v1m0 8v1m0 2v1M33 9v1m0 8v1m0 8v1m0 8v1m0 12v1m0 14v1m0 5v1m0 2v1m0 1v1m0 13v1m0 2v1M34 18v1m0 8v2m0 1v2m0 7v1m0 32v1m0 13v1m0 5v1M35 10v2m0 13v1m0 12v1m0 16v1m0 7v1m0 21v2m0 11v1M36 5v1m0 16v1m0 2v1m0 2v3m0 10v2m0 8v1m0 12v1m0 6v1m0 4v1m0 7v1m0 5v1m0 2v1M37 8v1m0 6v1m0 6v1m0 8v1m0 1v1m0 7v1m0 21v1m0 11v1m0 3v1m0 19v1M38 27v1m0 10v1m0 48v1m0 4v2M39 13v1m0 14v1m0 6v1m0 19v1m0 1v1m0 2v2m0 10v2m0 2v1m0 7v1m0 1v1m0 4v1M40 3v2m0 10v1m0 4v2m0 16v1m0 20v1m0 12v1m0 4v1m0 4v2m0 3v1m0 3v1m0 7v1M41 0v1m0 7v1m0 12v1m0 31v1m0 6v1m0 6v1m0 1v1m0 6v1m0 1v1m0 4v1m0 10v1M42 3v1m0 2v1m0 3v1m0 4v1m0 33v1m0 14v1m0 4v1m0 3v1m0 10v1m0 5v1m0 6v1M43 35v1m0 29v1m0 18v1m0 5v1m0 1v1m0 5v1M44 9v1m0 17v1m0 1v1m0 24v1m0 2v1m0 18v2m0 2v1m0 1v1m0 1v1M45 1v1m0 27v1m0 8v1m0 2v1m0 14v1m0 17v1m0 19v1m0 3v1M46 1v1m0 1v1m0 3v1m0 6v1m0 26v1m0 1v1m0 1v1m0 1v1m0 1v1m0 5v1m0 8v1m0 7v1m0 22v1M47 3v1m0 3v1m0 19v1m0 4v1m0 9v1m0 12v1m0 2v1m0 6v2m0 11v1M48 0v2m0 13v1m0 3v1m0 11v1m0 2v1m0 14v1m0 15v2m0 2v1m0 1v1m0 11v3M49 5v1m0 6v1m0 5v1m0 42v1m0 4v1m0 13v1m0 10v1M50 2v1m0 8v1m0 10v1m0 4v1m0 41v1m0 12v1m0 6v1M51 1v1m0 4v1m0 11v1m0 10v1m0 1v1m0 25v1m0 5v1m0 1v1m0 1v1m0 1v1m0 6v1m0 5v2m0 3v1M52 11v2m0 15v1m0 7v1m0 11v1m0 14v1m0 12v1m0 1v1m0 5v1M53 0v2m0 1v1m0 2v1m0 11v1m0 4v1m0 11v1m0 3v1m0 1v1m0 1v2m0 17v1m0 6v2m0 11v1m0 3v1m0 4v1M54 2v1m0 1v1m0 4v1m0 15v1m0 6v1m0 2v1m0 5v1m0 6v1m0 1v1m0 16v1m0 8v1m0 13v1m0 1v1m0 1v1M55 0v1m0 8v1m0 4v2m0 9v1m0 6v1m0 2v1m0 3v1m0 7v1m0 21v1m0 14v1m0 7v1M56 1v1m0 22v1m0 1v1m0 2v1m0 4v2m0 1v1m0 31v1m0 5v1m0 2v5m0 2v2m0 10v1M57 3v1m0 7v1m0 4v2m0 3v1m0 6v1m0 4v1m0 2v1m0 20v1m0 1v1m0 25v1M58 17v1m0 15v2m0 2v1m0 8v1m0 14v1m0 14v1m0 7v1m0 3v1M59 4v1m0 13v1m0 7v1m0 19v1m0 16v1m0 6v1m0 2v1m0 5v1m0 18v1M60 18v1m0 8v1m0 22v1m0 6v2m0 3v2m0 2v1m0 7v1m0 6v1m0 16v1M61 8v3m0 19v1m0 6v1m0 3v3m0 3v1m0 1v1m0 5v1m0 1v1m0 8v1m0 2v1m0 9v1m0 14v1M62 0v1m0 8v1m0 11v2m0 1v1m0 19v1m0 4v1m0 6v1m0 14v1m0 13v2m0 5v3M63 0v1m0 2v2m0 9v1m0 9v1m0 8v1m0 13v1m0 1v1m0 6v2m0 12v1m0 1v1m0 6v1m0 9v2m0 4v1M64 11v1m0 10v1m0 1v1m0 1v1m0 5v1m0 11v2m0 6v1m0 21v1m0 6v1m0 2v1m0 6v1m0 1v1m0 5v1M65 5v1m0 9v1m0 1v1m0 6v1m0 4v1m0 8v2m0 6v2m0 4v1m0 4v1m0 4v1m0 2v1m0 5v1m0 6v1m0 12v2m0 1v1M66 4v1m0 9v1m0 4v1m0 9v1m0 13v1m0 4v1m0 3v1m0 9v2m0 3v1m0 5v1m0 13v1m0 3v1M67 9v1m0 16v1m0 21v1m0 2v2m0 29v1m0 12v1m0 1v1M68 0v1m0 2v1m0 2v2m0 3v1m0 11v1m0 10v1m0 3v2m0 9v1m0 12v1m0 11v2m0 3v1m0 2v1m0 12v1M69 4v1m0 6v1m0 10v4m0 16v1m0 30v1m0 4v1m0 2v3M70 0v1m0 18v1m0 3v1m0 1v1m0 14v1m0 14v1m0 3v1m0 9v1m0 2v1m0 9v1m0 4v1m0 3v3M71 10v1m0 5v2m0 1v1m0 23v1m0 8v2m0 2v1m0 12v1M72 4v1m0 5v2m0 12v1m0 4v1m0 14v1m0 5v1m0 5v1m0 10v2m0 6v1m0 12v1m0 1v1m0 4v1M73 1v1m0 5v1m0 2v1m0 1v1m0 11v1m0 2v3m0 10v1m0 2v1m0 4v1m0 17v1m0 1v1m0 6v1m0 1v2m0 9v1m0 5v1m0 1v1M74 1v1m0 10v1m0 17v1m0 3v1m0 3v2m0 1v1m0 3v1m0 29v1m0 1v1m0 13v1m0 7v1M75 6v1m0 25v3m0 8v1m0 6v1m0 22v1m0 8v1m0 7v1m0 4v2M76 2v1m0 4v1m0 3v1m0 10v1m0 9v1m0 8v1m0 4v1m0 1v2m0 2v1m0 1v1m0 8v1m0 7v1m0 8v1m0 13v1M77 0v1m0 2v1m0 2v2m0 10v1m0 15v1m0 18v1m0 3v1m0 26v1m0 10v1m0 2v1M78 15v1m0 6v1m0 12v1m0 5v1m0 17v1m0 19v1m0 5v1M79 45v2m0 5v1m0 2v1m0 4v1m0 3v1m0 1v1m0 2v1m0 19v2M80 3v1m0 9v1m0 2v2m0 5v1m0 38v1m0 11v1m0 11v1M81 0v1m0 30v1m0 8v1m0 9v2m0 5v1m0 1v1m0 2v1m0 2v1m0 2v1m0 2v1m0 6v1m0 1v1m0 3v1m0 3v1M82 28v1m0 1v1m0 12v1m0 3v1m0 6v1m0 4v1m0 5v2m0 8v1m0 10v3M83 2v1m0 4v2m0 22v1m0 11v1m0 6v1m0 12v1m0 9v3m0 8v1m0 1v1m0 1v1m0 10v1M84 6v2m0 3v1m0 3v1m0 2v1m0 1v1m0 1v2m0 39v2m0 11v1m0 10v1m0 5v1M85 15v1m0 1v1m0 1v2m0 4v1m0 11v1m0 1v1m0 3v1m0 8v1m0 1v2m0 3v1m0 4v1m0 26v1M86 6v1m0 3v3m0 2v1m0 4v2m0 31v1m0 16v1m0 12v1m0 9v1M87 3v1m0 32v1m0 12v1m0 1v1m0 2v2m0 7v1m0 21v1m0 10v1m0 2v1M88 12v1m0 20v1m0 3v1m0 2v1m0 10v1m0 1v1m0 1v3m0 3v1m0 2v1m0 7v2m0 3v1m0 20v1M89 3v1m0 3v1m0 12v2m0 7v1m0 31v2m0 1v1m0 32v1M90 9v1m0 3v1m0 3v1m0 4v1m0 13v3m0 2v1m0 1v1m0 21v1m0 29v1M91 1v1m0 2v1m0 1v1m0 5v3m0 6v1m0 3v1m0 2v1m0 24v1m0 10v1m0 2v1m0 2v1M92 1v1m0 26v1m0 1v2m0 38v1m0 1v1m0 1v1M93 0v1m0 19v1m0 1v1m0 2v1m0 9v1m0 17v1m0 1v2m0 11v1m0 2v1m0 15v1m0 3v2m0 5v1M94 15v1m0 25v1m0 5v1m0 11v1m0 9v2m0 8v1m0 17v1M95 6v1m0 3v1m0 13v1m0 3v1m0 27v1m0 2v1m0 2v2m0 6v1m0 23v1m0 3v1M96 0v1m0 3v1m0 23v1m0 1v1m0 11v1m0 1v1m0 7v1m0 8v1m0 5v1m0 2v1m0 15v1m0 9v1M97 37v1m0 20v1m0 1v2m0 3v1m0 2v1m0 30v1M98 4v1m0 1v1m0 1v1m0 3v1m0 6v1m0 3v1m0 10v1m0 6v1m0 11v1m0 2v1m0 11v1M99 10v1m0 1v1m0 3v3m0 19v1m0 1v1m0 11v1m0 11v1m0 9v1m0 10v1m0 7v1m0 2v1"/><path stroke="#4a4a4a" d="M0 0v1m0 8v1m0 7v1m0 6v2m0 20v1m0 1v1m0 26v1m0 6v1M1 9v1m0 15v1m0 4v1m0 1v1m0 4v1m0 1v1m0 1v1m0 12v1m0 5v1m0 5v1m0 17v1M2 2v1m0 1v1m0 8v1m0 12v1m0 3v1m0 6v1m0 7v1m0 1v1m0 1v1m0 3v1m0 21v2m0 4v1m0 2v1M3 19v1m0 7v1m0 5v1m0 3v2m0 11v1m0 7v1m0 3v1m0 1v1m0 5v3m0 8v1m0 9v1M4 5v1m0 14v2m0 15v1m0 3v1m0 11v1m0 5v1m0 20v1m0 10v1M5 1v1m0 20v1m0 3v1m0 2v1m0 2v1m0 20v1m0 5v1m0 9v2m0 5v1m0 3v2M6 8v1m0 5v1m0 17v1m0 7v1m0 1v3m0 5v1m0 10v1m0 16v2m0 5v1m0 1v1m0 10v1M7 27v1m0 11v1m0 1v1m0 1v1m0 13v1m0 10v1m0 21v1M8 4v2m0 7v1m0 5v1m0 1v1m0 16v3m0 11v1m0 31v1m0 7v1m0 2v1m0 1v1M9 0v1m0 19v1m0 1v1m0 1v1m0 13v1m0 1v1m0 2v1m0 2v1m0 11v2m0 27v1M10 2v1m0 1v2m0 2v1m0 20v1m0 1v1m0 16v1m0 36v2m0 3v1m0 4v1m0 1v1M11 25v2m0 7v1m0 4v1m0 4v1m0 7v1m0 2v1m0 4v2m0 7v1m0 12v1m0 16v1M12 7v1m0 20v1m0 5v1m0 13v1m0 5v1m0 6v1m0 2v1m0 3v1m0 8v1m0 11v1M13 0v1m0 10v1m0 15v2m0 12v1m0 4v1m0 14v1m0 2v1m0 1v1m0 21v1m0 9v1M14 2v1m0 8v1m0 5v1m0 9v1m0 16v1m0 6v1m0 4v1m0 5v2m0 13v1m0 5v1m0 3v1m0 3v1M15 1v1m0 1v1m0 10v2m0 10v2m0 11v1m0 3v1m0 1v1m0 6v1m0 4v1m0 3v1m0 7v1m0 4v1m0 4v2m0 1v3m0 3v1m0 7v1m0 2v1M16 6v1m0 14v1m0 21v1m0 1v1m0 3v1m0 10v1m0 2v2m0 22v1M17 0v1m0 9v1m0 4v2m0 3v1m0 30v1m0 16v1m0 8v1m0 1v1m0 7v1m0 1v1m0 1v1M18 4v1m0 5v1m0 2v1m0 2v1m0 7v2m0 24v1m0 2v1m0 10v1m0 11v1m0 3v1m0 1v1m0 1v1m0 7v1M19 9v1m0 12v1m0 11v1m0 14v1m0 1v1m0 9v1m0 2v1M20 2v1m0 2v1m0 12v1m0 1v1m0 2v1m0 2v1m0 2v1m0 3v1m0 12v2m0 1v1m0 2v1m0 1v1m0 11v2m0 1v1m0 5v1m0 14v1m0 1v1M21 11v1m0 1v1m0 6v1m0 11v1m0 9v1m0 17v1m0 12v1m0 3v1m0 2v1m0 1v2m0 2v1m0 9v1M22 2v1m0 18v1m0 8v2m0 1v1m0 9v2m0 7v1m0 4v1m0 4v1m0 7v1m0 3v1m0 4v2m0 2v1m0 10v1M23 2v1m0 25v1m0 3v1m0 4v1m0 8v1m0 1v1m0 1v1m0 3v1m0 1v1m0 6v1m0 1v2m0 4v1m0 4v1m0 9v1m0 1v1M24 5v1m0 14v1m0 22v3m0 5v1m0 1v1m0 1v1m0 7v1m0 6v1m0 2v1m0 3v1m0 6v1M25 8v3m0 1v2m0 7v1m0 1v1m0 5v2m0 1v1m0 1v1m0 2v2m0 4v1m0 1v1m0 7v1m0 26v1m0 13v1m0 2v1M26 5v1m0 12v1m0 15v1m0 12v1m0 9v1m0 5v1M27 9v1m0 5v1m0 2v1m0 1v1m0 25v2m0 4v1m0 6v1m0 7v1m0 8v1m0 5v1m0 1v1m0 2v1m0 2v1M28 1v1m0 1v1m0 8v1m0 4v1m0 11v1m0 8v1m0 7v2m0 32v1m0 1v1m0 4v2m0 4v1M29 7v1m0 10v2m0 6v2m0 4v1m0 1v1m0 13v1m0 2v1m0 31v1m0 8v1M30 9v2m0 7v1m0 11v1m0 1v2m0 6v1m0 14v1m0 4v1m0 3v1m0 8v1m0 12v1M31 2v1m0 4v2m0 20v2m0 14v2m0 5v1m0 4v1m0 1v1m0 18v1m0 19v1M32 8v1m0 8v1m0 3v1m0 8v1m0 6v1m0 11v1m0 21v1m0 11v1m0 6v1m0 5v1M33 7v2m0 2v1m0 29v1m0 6v1m0 4v1m0 30v1M34 8v5m0 8v1m0 2v1m0 8v1m0 12v1m0 3v1m0 10v1m0 13v1m0 9v1M35 8v1m0 11v1m0 21v1m0 3v1m0 7v1m0 1v1m0 1v1m0 12v1M36 1v1m0 6v4m0 1v1m0 7v1m0 5v1m0 32v1m0 2v1m0 16v1m0 11v1M37 0v1m0 3v1m0 9v1m0 4v1m0 3v2m0 13v1m0 1v1m0 11v1m0 31v1m0 6v1M38 0v1m0 5v1m0 9v1m0 9v1m0 2v2m0 8v1m0 18v2m0 25v1m0 12v1M39 26v2m0 8v1m0 12v1m0 6v1m0 14v1M40 9v1m0 2v1m0 1v1m0 1v1m0 9v3m0 20v1m0 7v1m0 11v2m0 7v1m0 15v2M41 7v1m0 6v1m0 23v1m0 5v1m0 4v1m0 9v1m0 2v1m0 1v1m0 10v1m0 6v1m0 3v1M42 4v1m0 3v1m0 11v1m0 2v1m0 23v1m0 14v1m0 30v1m0 2v1M43 6v1m0 2v1m0 11v1m0 1v2m0 26v1m0 12v1m0 20v1m0 7v1m0 2v1M44 1v2m0 1v1m0 3v1m0 8v1m0 7v1m0 26v1m0 6v1m0 6v1m0 5v1m0 5v1m0 4v1m0 2v1m0 1v1m0 8v1m0 1v1M45 3v1m0 10v1m0 10v2m0 3v1m0 6v1m0 4v1m0 2v2m0 8v1m0 3v1m0 8v1m0 9v1m0 16v1M46 25v2m0 12v1m0 16v1m0 4v1m0 25v1m0 1v1m0 8v1M47 9v1m0 4v1m0 1v1m0 1v1m0 22v1m0 4v2m0 14v1m0 4v1m0 7v1m0 21v2M48 22v1m0 3v4m0 5v1m0 10v1m0 5v1m0 3v1m0 4v1m0 10v1m0 9v1m0 3v1m0 11v1M49 13v1m0 3v1m0 2v1m0 2v1m0 2v1m0 7v1m0 3v1m0 7v2m0 7v1m0 1v1m0 4v1m0 9v1m0 4v1m0 3v1m0 7v1M50 1v1m0 2v1m0 1v1m0 7v1m0 8v1m0 4v1m0 3v1m0 13v1m0 14v2m0 2v1m0 5v1m0 2v1M51 0v1m0 7v1m0 1v1m0 8v1m0 3v1m0 2v1m0 8v1m0 1v2m0 3v1m0 5v2m0 18v1m0 10v1m0 1v1m0 8v1m0 4v1m0 2v1M52 3v1m0 25v1m0 4v1m0 4v1m0 2v1m0 11v1m0 4v1m0 4v1m0 4v1m0 12v2m0 1v2m0 1v1M53 4v2m0 4v1m0 5v1m0 14v1m0 16v1m0 3v1m0 1v1m0 2v1m0 20v1m0 4v2m0 2v1M54 6v1m0 9v1m0 7v1m0 1v1m0 19v2m0 9v1m0 6v1m0 5v1m0 11v1M55 8v1m0 1v1m0 1v1m0 24v1m0 6v1m0 25v1m0 4v1m0 2v1m0 4v1m0 3v1m0 2v1M56 0v1m0 27v1m0 2v1m0 8v1m0 7v1m0 1v1m0 41v1m0 1v1m0 1v1M57 1v2m0 48v1m0 2v1m0 18v1m0 2v1m0 3v1m0 3v1M58 5v1m0 3v2m0 4v1m0 20v1m0 6v1m0 16v1m0 13v2m0 1v1m0 13v1M59 5v1m0 3v1m0 9v1m0 11v2m0 3v1m0 10v1m0 7v1m0 8v1m0 6v2m0 2v1m0 2v1m0 1v1m0 6v1m0 2v1M60 9v1m0 1v1m0 7v1m0 8v3m0 9v1m0 7v1m0 22v1m0 4v2m0 13v1m0 2v1M61 25v1m0 1v1m0 1v1m0 2v1m0 6v1m0 13v1m0 7v2m0 14v1m0 12v1m0 2v1m0 3v1M62 4v1m0 3v1m0 3v1m0 28v1m0 4v1m0 14v1m0 5v1m0 11v1m0 16v1M63 11v2m0 3v1m0 51v2m0 14v1m0 13v1M64 8v1m0 6v2m0 8v1m0 13v1m0 22v1m0 12v1m0 6v1m0 14v1M65 1v1m0 4v1m0 1v1m0 3v1m0 15v1m0 7v1m0 11v1m0 2v1m0 2v1m0 5v1m0 3v1m0 14v1m0 3v1m0 3v1m0 9v1M66 0v1m0 2v1m0 12v1m0 4v1m0 10v1m0 1v2m0 17v1m0 12v1m0 5v1m0 3v1m0 9v1M67 14v1m0 7v1m0 2v1m0 10v1m0 3v1m0 1v1m0 20v2m0 10v1m0 14v1M68 18v1m0 5v1m0 2v1m0 12v1m0 19v2m0 26v1m0 2v1m0 1v1M69 2v1m0 9v1m0 2v1m0 2v2m0 14v2m0 1v1m0 3v1m0 15v1m0 9v1m0 3v1m0 3v1m0 12v1m0 4v1m0 5v1M70 6v1m0 11v1m0 17v1m0 4v1m0 20v1m0 7v1m0 9v1m0 2v1M71 1v1m0 16v1m0 3v3m0 8v3m0 13v1m0 5v1m0 2v1m0 19v1m0 4v1m0 1v1m0 5v1m0 3v2M72 0v1m0 5v1m0 1v1m0 4v1m0 1v1m0 4v1m0 4v2m0 10v1m0 2v2m0 5v1m0 18v1m0 7v1m0 11v1m0 2v1m0 6v1m0 2v1M73 8v2m0 22v2m0 8v1m0 1v1m0 18v1m0 7v1m0 4v1m0 2v2m0 1v1m0 4v1m0 11v1M74 28v2m0 1v1m0 3v1m0 4v1m0 3v1m0 13v1m0 9v1m0 14v1m0 2v1m0 3v1M75 17v1m0 10v1m0 6v1m0 16v1m0 1v1m0 14v1m0 2v1m0 7v1m0 17v2M76 13v2m0 1v1m0 2v1m0 1v1m0 2v2m0 7v1m0 16v1m0 16v1m0 30v1M77 4v1m0 11v1m0 10v1m0 2v1m0 7v1m0 7v1m0 3v1m0 8v2m0 7v1m0 5v1m0 18v1M78 8v1m0 5v1m0 9v2m0 8v1m0 20v1m0 7v2m0 11v1m0 1v1m0 10v2m0 3v1M79 3v1m0 4v1m0 1v1m0 6v1m0 1v1m0 6v1m0 9v1m0 1v1m0 15v1m0 4v1m0 2v1m0 14v1m0 4v1m0 13v1M80 4v1m0 1v1m0 38v2m0 4v1m0 1v1m0 24v2m0 4v2m0 2v2M81 3v2m0 1v1m0 5v1m0 2v1m0 4v1m0 18v1m0 16v1m0 22v1m0 1v1m0 17v1M82 3v1m0 3v2m0 2v1m0 1v3m0 6v1m0 6v1m0 14v1m0 10v1m0 7v1m0 10v1m0 2v1m0 1v1m0 19v1M83 1v1m0 2v1m0 7v1m0 8v2m0 5v2m0 2v1m0 20v2m0 11v1m0 10v1m0 1v1m0 2v1m0 9v1m0 3v1M84 0v1m0 7v1m0 4v1m0 16v1m0 6v1m0 7v1m0 8v1m0 16v1m0 24v2M85 7v1m0 3v1m0 2v1m0 8v1m0 9v1m0 27v1m0 9v2m0 6v1m0 6v1m0 2v1m0 6v1m0 1v1M86 2v1m0 2v1m0 10v1m0 1v1m0 22v1m0 8v1m0 3v1m0 1v1m0 5v2m0 22v1M87 4v1m0 10v2m0 13v1m0 9v1m0 23v1m0 11v1m0 3v1m0 5v1m0 4v1m0 1v1M88 20v1m0 15v1m0 11v1m0 3v1m0 1v1m0 10v1m0 8v1M89 0v1m0 29v1m0 5v1m0 5v2m0 9v1m0 4v1m0 7v1M90 2v1m0 1v1m0 11v1m0 27v1m0 6v1m0 2v1m0 9v1m0 20v1m0 6v1M91 0v1m0 17v1m0 13v1m0 19v1m0 8v1m0 7v1m0 7v1m0 18v1M92 0v1m0 6v2m0 7v1m0 1v1m0 2v1m0 17v1m0 6v1m0 3v1m0 20v1m0 1v1m0 14v1m0 3v1M93 7v1m0 8v1m0 6v1m0 18v2m0 13v1m0 4v1m0 9v1m0 1v1m0 4v1M94 6v1m0 18v1m0 3v1m0 16v1m0 31v1m0 19v1M95 2v1m0 4v1m0 19v1m0 5v2m0 7v1m0 21v1m0 12v2m0 2v1m0 1v1m0 6v1m0 2v1M96 2v1m0 5v1m0 5v1m0 12v1m0 3v1m0 2v1m0 18v1m0 2v1m0 8v2M97 10v1m0 2v1m0 15v1m0 1v1m0 9v1m0 12v1m0 2v1m0 11v1m0 1v1m0 2v1m0 10v1m0 1v1M98 3v1m0 9v1m0 15v1m0 9v2m0 3v1m0 26v2m0 2v1m0 9v2m0 5v1m0 3v1M99 0v3m0 3v1m0 21v1m0 14v1m0 1v1m0 1v1m0 2v1m0 22v1m0 2v1m0 4v1m0 7v1"/><path stroke="#5d5d5d" d="M0 14v2m0 17v1m0 17v1m0 7v1m0 18v3m0 9v1m0 3v1M1 0v1m0 2v1m0 1v1m0 4v2m0 4v1m0 4v1m0 2v1m0 19v1m0 35v1m0 8v2m0 1v1m0 1v1M2 7v1m0 10v1m0 5v1m0 9v1m0 1v1m0 9v1m0 8v1m0 1v1m0 2v1m0 6v1m0 5v2m0 4v1m0 2v1m0 2v1m0 6v1M3 1v1m0 19v1m0 12v1m0 1v1m0 2v1m0 2v1m0 6v1m0 15v1m0 2v1m0 4v1m0 22v1M4 11v2m0 5v1m0 17v1m0 3v1m0 10v1m0 5v1m0 8v2m0 3v1m0 12v1m0 2v1M5 4v2m0 9v1m0 7v3m0 1v1m0 9v1m0 16v1m0 9v1m0 18v1m0 9v2m0 3v1M6 0v1m0 3v1m0 2v1m0 31v1m0 5v1m0 1v1m0 1v1m0 22v1m0 20v2m0 2v1M7 14v1m0 2v1m0 3v1m0 9v1m0 4v1m0 12v1m0 3v1m0 2v1m0 6v1m0 7v1M8 6v2m0 2v1m0 5v1m0 29v1m0 7v1m0 7v1m0 9v1m0 1v1m0 4v1m0 3v1m0 6v1M9 18v1m0 7v1m0 1v1m0 5v1m0 9v2m0 9v1m0 7v1m0 10v1m0 8v1m0 1v1m0 2v1m0 1v1m0 1v2m0 2v1m0 2v1M10 21v1m0 8v1m0 23v1m0 3v1m0 11v1m0 5v1m0 7v1m0 3v1M11 1v1m0 2v2m0 18v1m0 7v2m0 4v1m0 12v1m0 24v1m0 9v4m0 5v2m0 1v1M12 0v1m0 28v1m0 22v1m0 7v1m0 2v1m0 14v2m0 12v2M13 1v2m0 2v1m0 18v1m0 4v2m0 5v1m0 1v2m0 2v1m0 1v1m0 4v1m0 2v1m0 1v1m0 12v1m0 2v2m0 10v1m0 6v1M14 1v1m0 4v1m0 5v1m0 18v1m0 7v1m0 27v1m0 20v1m0 4v1M15 0v1m0 11v1m0 6v2m0 3v1m0 11v1m0 12v1m0 3v1m0 4v1m0 12v2m0 16v1m0 1v1M16 20v1m0 1v1m0 4v1m0 2v1m0 1v1m0 6v1m0 36v1m0 1v1m0 12v1m0 2v1M17 4v1m0 3v1m0 3v1m0 1v1m0 14v1m0 1v1m0 1v1m0 25v1m0 3v2m0 10v1m0 12v1M18 14v1m0 2v2m0 14v1m0 2v1m0 1v1m0 26v1m0 4v1m0 4v1m0 5v1m0 4v1m0 3v1m0 6v1M19 8v1m0 5v2m0 4v2m0 16v1m0 11v1m0 3v3m0 10v1m0 1v1M20 6v1m0 4v1m0 13v1m0 5v1m0 6v1m0 12v1m0 8v1m0 7v1m0 28v2M21 40v1m0 5v1m0 6v1m0 16v1m0 4v1m0 16v1m0 1v1M22 4v1m0 41v2m0 2v1m0 10v1m0 1v1m0 24v1m0 9v1M23 27v1m0 5v1m0 11v1m0 3v1m0 22v1m0 9v1m0 1v1m0 6v1m0 6v1M24 16v2m0 4v1m0 7v1m0 6v3m0 28v1m0 7v1m0 3v2m0 14v2M25 0v1m0 1v1m0 1v3m0 8v1m0 2v1m0 16v2m0 5v1m0 9v1m0 25v2m0 15v1M26 14v2m0 17v1m0 8v1m0 2v2M27 1v1m0 10v1m0 16v1m0 2v1m0 9v1m0 10v1m0 9v1m0 5v1m0 25v2m0 2v1M28 2v1m0 8v1m0 4v1m0 20v1m0 11v1m0 34v1M29 12v1m0 24v1m0 3v1m0 11v2m0 5v1m0 1v1m0 35v1M30 7v1m0 7v1m0 3v1m0 23v1m0 6v1m0 1v1m0 21v1m0 24v1M31 10v1m0 1v1m0 12v1m0 28v2m0 7v1m0 2v1m0 1v2m0 3v2m0 6v1m0 14v1M32 6v1m0 4v1m0 4v1m0 1v1m0 4v1m0 2v1m0 5v1m0 14v1m0 9v1m0 14v1m0 2v1m0 3v1m0 6v2M33 1v1m0 4v1m0 3v1m0 2v1m0 23v1m0 12v1m0 4v1m0 6v1m0 3v1m0 10v2m0 2v1m0 3v1m0 13v1M34 0v1m0 3v1m0 17v1m0 28v1m0 11v1m0 1v1m0 29v1M35 1v1m0 3v1m0 6v1m0 14v2m0 2v1m0 9v1m0 6v1m0 4v1m0 5v1m0 12v2m0 1v1m0 5v1M36 23v1m0 23v1m0 4v3m0 14v1M37 34v1m0 2v1m0 1v1m0 4v1m0 3v1m0 17v1m0 3v1m0 5v1m0 1v1M38 5v1m0 7v1m0 7v1m0 10v2m0 3v1m0 2v1m0 16v1m0 5v1m0 3v1m0 7v1m0 2v2M39 4v1m0 2v1m0 11v1m0 1v1m0 17v3m0 9v1m0 1v1m0 13v1m0 30v1M40 10v1m0 2v1m0 11v1m0 3v1m0 7v1m0 14v1m0 1v2m0 11v1m0 13v1M41 15v2m0 16v1m0 1v2m0 20v1M42 21v1m0 18v3m0 1v1m0 5v2m0 3v1m0 7v1m0 6v1m0 1v1m0 2v1m0 5v1M43 5v1m0 33v1m0 4v2m0 14v1m0 1v1m0 7v1m0 1v1m0 1v1m0 1v3m0 2v1m0 9v1M44 0v1m0 2v1m0 15v1m0 2v1m0 12v1m0 9v1m0 16v1m0 8v1m0 17v1m0 3v1m0 2v1m0 1v1M45 12v1m0 8v1m0 67v1m0 3v1M46 8v2m0 3v1m0 9v2m0 6v1m0 21v1m0 3v1m0 13v1m0 1v1m0 16v1m0 1v1M47 2v1m0 2v1m0 17v1m0 10v3m0 3v1m0 2v1m0 29v1m0 5v1m0 10v1m0 5v1M48 5v1m0 24v1m0 7v1m0 4v1m0 6v1m0 4v1m0 2v1m0 8v2m0 4v1m0 16v1m0 3v1m0 2v1M49 4v1m0 9v1m0 1v1m0 16v1m0 1v1m0 6v1m0 5v1m0 5v1m0 16v1m0 10v1m0 9v1m0 5v1M50 8v2m0 11v1m0 2v1m0 9v1m0 1v1m0 3v1m0 6v2m0 4v1m0 3v1m0 1v1m0 8v1m0 29v1M51 4v1m0 2v1m0 7v1m0 12v1m0 5v1m0 11v2m0 8v1m0 2v1m0 32v1m0 4v1M52 17v1m0 2v1m0 2v1m0 1v1m0 9v1m0 4v2m0 5v1m0 9v1m0 31v3m0 1v1m0 3v1M53 2v1m0 21v1m0 13v1m0 1v1m0 4v3m0 2v1m0 7v2m0 14v1m0 14v1m0 3v1m0 4v1M54 22v1m0 17v1m0 4v1m0 5v1m0 3v1m0 3v1m0 2v1m0 3v1m0 10v2m0 10v1M55 45v1m0 10v1m0 2v2m0 2v2m0 7v1m0 15v1M56 13v1m0 1v1m0 16v1m0 5v1m0 6v1m0 1v1m0 5v1m0 1v1m0 4v2m0 12v1M57 29v1m0 15v1m0 1v1m0 10v1m0 1v1m0 1v1m0 3v1m0 23v1m0 7v1M58 2v1m0 16v1m0 10v1m0 1v1m0 6v1m0 4v1m0 7v1m0 10v1m0 3v1m0 14v1m0 14v1m0 1v1M59 1v1m0 13v1m0 14v1m0 2v1m0 6v1m0 2v1m0 21v1m0 1v1m0 1v1m0 23v1M60 31v1m0 2v1m0 9v1m0 9v1m0 10v1m0 19v1m0 2v1M61 21v1m0 9v1m0 2v2m0 16v1m0 36v1M62 10v1m0 6v1m0 7v1m0 8v1m0 30v1m0 21v1m0 9v1M63 6v1m0 6v1m0 14v1m0 5v1m0 15v1m0 2v1m0 42v1M64 34v1m0 26v1m0 17v1m0 7v1m0 6v1m0 1v1M65 9v2m0 31v1m0 15v2m0 6v1m0 21v1m0 7v1M66 9v1m0 23v1m0 10v2m0 8v2m0 1v1m0 3v1m0 2v1m0 6v1m0 18v1m0 2v1M67 32v1m0 20v2m0 24v2m0 4v2m0 2v1m0 1v1M68 22v1m0 5v1m0 30v1m0 8v1m0 2v1m0 20v1M69 58v1m0 6v1m0 2v1m0 3v1m0 13v1M70 1v1m0 24v3m0 1v2m0 22v1m0 8v1m0 11v1m0 22v1M71 5v2m0 18v1m0 14v1m0 25v3m0 10v1m0 4v1m0 12v1M72 12v1m0 9v1m0 7v1m0 52v1m0 9v1m0 3v1M73 0v1m0 2v1m0 10v1m0 1v1m0 6v1m0 30v1m0 10v1m0 15v1m0 2v1m0 13v1M74 0v1m0 14v1m0 11v1m0 22v1m0 1v1m0 8v1m0 3v1m0 5v2m0 25v1M75 0v1m0 4v1m0 4v1m0 12v1m0 3v1m0 1v1m0 14v1m0 13v1m0 5v1m0 2v1m0 13v1m0 10v1M76 10v1m0 23v1m0 2v3m0 13v1m0 1v1m0 4v1m0 3v1m0 9v1m0 10v1M77 11v1m0 1v1m0 1v1m0 5v1m0 6v1m0 8v1m0 3v2m0 2v1m0 32v1m0 8v2m0 2v1M78 0v1m0 1v1m0 3v1m0 3v1m0 25v2m0 1v1m0 3v1m0 6v1m0 3v1m0 5v2m0 6v1m0 22v1m0 1v1M79 0v1m0 17v1m0 10v1m0 9v1m0 1v1m0 5v1m0 3v1m0 23v1m0 10v1m0 6v1M80 8v1m0 2v1m0 6v2m0 2v1m0 2v3m0 9v1m0 12v1m0 1v1m0 1v1m0 3v2m0 13v1m0 1v1m0 5v1M81 11v1m0 30v1m0 17v1m0 8v2m0 21v1m0 1v1M82 4v2m0 4v1m0 1v1m0 3v1m0 3v2m0 10v1m0 1v1m0 21v1m0 28v1M83 34v1m0 12v1m0 1v1m0 1v1m0 7v1m0 29v1M84 19v1m0 6v1m0 9v1m0 12v1m0 2v1m0 2v1m0 1v1m0 21v2m0 9v1M85 8v1m0 7v1m0 9v1m0 18v1m0 11v1m0 18v2m0 14v2M86 30v1m0 2v1m0 5v1m0 2v1m0 8v2m0 4v1m0 1v1m0 7v1m0 1v1m0 11v1m0 2v1m0 2v1m0 4v1m0 3v1M87 2v1m0 8v1m0 2v1m0 3v1m0 15v2m0 6v2m0 2v1m0 5v1m0 3v1m0 8v1m0 13v1m0 3v1m0 3v1m0 6v1M88 4v1m0 18v2m0 4v1m0 13v1m0 14v1m0 1v1m0 23v1m0 1v1M89 4v1m0 7v1m0 31v1m0 11v1m0 6v1m0 10v2m0 3v1m0 4v1m0 1v1m0 3v1m0 4v1M90 25v1m0 5v2m0 19v1m0 4v1m0 33v1m0 5v1M91 5v1m0 5v1m0 11v1m0 2v1m0 9v1m0 3v1m0 2v2m0 4v1m0 1v1m0 13v2m0 11v2m0 3v1m0 8v1M92 4v1m0 36v1m0 15v2m0 9v1m0 9v3m0 3v1m0 2v1m0 3v1M93 4v1m0 8v1m0 17v1m0 29v1m0 21v1m0 2v1m0 1v2M94 11v1m0 11v1m0 11v1m0 20v2m0 14v1m0 1v1m0 2v1m0 11v1M95 22v1m0 2v1m0 3v1m0 5v2m0 3v1m0 17v1m0 2v1m0 3v1m0 3v1m0 5v2m0 2v1M96 1v1m0 5v1m0 9v1m0 2v1m0 4v2m0 6v1m0 2v2m0 2v1m0 10v1m0 3v1m0 1v1m0 1v2m0 2v1m0 7v1m0 4v1m0 6v1m0 7v1m0 3v1M97 14v1m0 7v1m0 1v1m0 3v1m0 21v1m0 8v1m0 7v1m0 7v1m0 12v1M98 14v1m0 20v1m0 7v1m0 8v1m0 8v1m0 3v1m0 27v1M99 3v1m0 5v1m0 1v1m0 7v2m0 8v1m0 3v1m0 2v1m0 9v1m0 14v1m0 10v1m0 5v2m0 14v1"/><path stroke="#676767" d="M0 16v1m0 15v1m0 7v1m0 25v1m0 4v1m0 2v1m0 13v2m0 8v1M1 6v1m0 10v1m0 8v1m0 4v1m0 4v1m0 13v1m0 6v1m0 1v1m0 22v1m0 8v1m0 4v1M2 17v1m0 3v1m0 13v1m0 58v1M3 14v2m0 14v1m0 15v1m0 35v1m0 6v1M4 13v1m0 1v1m0 16v1m0 15v1m0 7v1m0 3v1m0 4v1m0 13v1m0 1v1m0 10v1m0 1v2m0 3v1M5 36v1m0 12v1m0 27v1m0 7v1m0 9v1m0 1v1M6 5v2m0 14v1m0 12v1m0 1v1m0 14v2m0 2v1m0 3v1m0 21v1m0 2v1M7 1v2m0 6v1m0 2v1m0 12v1m0 6v2m0 18v1m0 25v1M8 3v1m0 37v2m0 8v1m0 3v1m0 1v1m0 8v1m0 4v1m0 6v1m0 2v1m0 17v1M9 3v1m0 2v1m0 2v1m0 27v1m0 38v2m0 1v1m0 1v1m0 2v1m0 1v1m0 10v2M10 9v1m0 4v1m0 5v1m0 6v1m0 28v1m0 12v1m0 9v1M11 12v1m0 2v1m0 2v1m0 1v1m0 28v1m0 7v2M12 4v1m0 28v1m0 15v1m0 35v1M13 51v1m0 3v1m0 13v1m0 9v2m0 14v1M14 0v1m0 17v1m0 13v2m0 11v1m0 1v1m0 2v1m0 1v1m0 15v2m0 9v1m0 17v1M15 6v1m0 10v1m0 11v2m0 7v1m0 20v1m0 10v1m0 21v1M16 4v1m0 3v1m0 3v1m0 1v1m0 1v1m0 12v1m0 28v1m0 12v1m0 26v1M17 18v1m0 27v1m0 24v1m0 23v1m0 1v1M18 6v1m0 23v2m0 2v1m0 8v1m0 2v1m0 51v2M19 10v1m0 7v2m0 13v1m0 18v2m0 6v1m0 14v1m0 10v1M20 10v1m0 28v1m0 16v1m0 14v1m0 24v1M21 2v1m0 18v1m0 1v1m0 17v1m0 6v1m0 1v1m0 3v1m0 11v2M22 49v1m0 17v1m0 18v1m0 4v1m0 3v1M23 24v1m0 72v1M24 3v1m0 14v1m0 4v1m0 74v1M25 20v1m0 33v1m0 2v1m0 9v1m0 8v1m0 5v1M26 11v1m0 1v1m0 5v2m0 22v1m0 21v1m0 15v1m0 11v1m0 3v1M27 38v1m0 4v1m0 1v1m0 29v1m0 17v1M28 9v2m0 10v1m0 1v1m0 43v1M29 9v1m0 54v1M30 0v1m0 4v1m0 8v1m0 11v1m0 36v1m0 14v1M31 9v1m0 6v1m0 9v1m0 10v1m0 24v1m0 23v1m0 10v1M32 1v1m0 38v1m0 11v2m0 2v1m0 11v1M33 0v1m0 4v1m0 8v1m0 32v1m0 13v1M34 15v1m0 21v1m0 5v1m0 15v1m0 7v2M35 2v2m0 89v1M36 7v1m0 4v1m0 11v1m0 6v1m0 4v1m0 3v1m0 8v1m0 8v1m0 3v1m0 16v1M37 1v1m0 30v1m0 3v1m0 17v1m0 2v1M38 3v2m0 14v1m0 36v1M39 6v1m0 3v1m0 39v1m0 3v1m0 11v1m0 11v1m0 1v1m0 9v1m0 3v1m0 1v1m0 2v1M40 1v1m0 3v1m0 57v1M41 2v1m0 78v1M42 1v2m0 8v1m0 7v1m0 13v1m0 3v1m0 1v1m0 3v1m0 8v1m0 25v1m0 7v1m0 8v1M43 0v1m0 3v1m0 5v1m0 18v1m0 1v1m0 15v1m0 2v1m0 12v1m0 9v1m0 6v1m0 13v1M44 6v2m0 4v1m0 10v1m0 9v1m0 17v1M45 0v1m0 8v1m0 17v1m0 7v1m0 13v1m0 2v1m0 7v1m0 4v1m0 22v1M46 4v3m0 27v2m0 15v1m0 39v1M47 22v1m0 1v1m0 5v2m0 18v1m0 20v1M48 3v1m0 5v1m0 4v1m0 2v1m0 30v1m0 29v1m0 10v1m0 3v1M49 0v1m0 1v1m0 5v1m0 16v1m0 19v1m0 12v1m0 8v1m0 2v1m0 2v1m0 22v1m0 2v1M50 10v1m0 5v1m0 2v1m0 23v2m0 6v2m0 42v1M51 2v1m0 13v1m0 3v2m0 31v1M52 32v1m0 12v2m0 3v2m0 1v1m0 4v1m0 12v1m0 1v1M53 11v2m0 4v1m0 35v1m0 17v1m0 1v1m0 11v1M54 54v1m0 3v1m0 2v1m0 1v1m0 19v1M55 27v1m0 12v1m0 5v1m0 4v1m0 9v2m0 26v1m0 4v1m0 3v2M56 12v1m0 26v1m0 22v1m0 13v2m0 17v1M57 12v1m0 25v1m0 7v1m0 3v1m0 10v1m0 25v1m0 3v2M58 11v1m0 4v1m0 14v1m0 15v1m0 2v1m0 20v1m0 21v1m0 1v1m0 2v1M59 11v1m0 5v1m0 17v1m0 12v1m0 1v1m0 23v1m0 17v1M60 35v2m0 2v1m0 3v1m0 9v1m0 1v1m0 3v2m0 3v1m0 3v1m0 26v1M61 58v1m0 4v2m0 18v1m0 15v1M62 27v1m0 5v1m0 1v1m0 30v1m0 22v1m0 9v1M63 58v2m0 1v1m0 25v1M64 0v1m0 46v2m0 4v1m0 3v1m0 2v1m0 3v1m0 2v1m0 20v2M65 7v1m0 14v1m0 3v1m0 6v3m0 48v1m0 14v1M66 58v2M67 16v2m0 13v1m0 36v1m0 15v1m0 3v1M68 30v1m0 2v1m0 2v1m0 17v1M69 69v1M70 2v1m0 30v1m0 11v1m0 2v1m0 17v1m0 4v1m0 23v1M71 73v1m0 20v1M72 3v1m0 34v1m0 38v1m0 6v1M73 30v1m0 10v1m0 8v1m0 8v1m0 1v1m0 2v1m0 32v1M74 21v1m0 51v1M75 14v1m0 30v1m0 15v1m0 3v1M76 1v1m0 24v1m0 13v1m0 1v1m0 16v1m0 9v1m0 5v1m0 23v1M77 1v1m0 6v1m0 14v1m0 12v1m0 3v1m0 30v1M78 4v1m0 13v2m0 25v1m0 21v1m0 4v1m0 19v1m0 5v1M79 7v1m0 20v1m0 5v1m0 8v2m0 13v1m0 11v2m0 15v1m0 9v1M80 34v1m0 12v1m0 17v1m0 6v1m0 9v1m0 8v1m0 6v1M81 8v1m0 1v1m0 24v1m0 1v2m0 7v2m0 5v1m0 1v1m0 5v1m0 29v1M82 1v2m0 15v1m0 8v1m0 18v1M83 5v1m0 4v1m0 14v1m0 20v1m0 17v2m0 15v1m0 8v1m0 6v1M84 24v1m0 8v1m0 16v1m0 10v1m0 4v2M85 0v1m0 28v1m0 38v1m0 15v2M86 8v2m0 16v2m0 1v1m0 2v1m0 2v1m0 4v1m0 17v1m0 29v1m0 9v1M87 0v1m0 20v1m0 1v1m0 1v1m0 1v1m0 17v1m0 27v1m0 7v1M88 22v1m0 21v2m0 29v1M89 26v1m0 13v1m0 5v1m0 2v1m0 1v2m0 38v1m0 2v1m0 3v1M90 28v1m0 11v1m0 4v2m0 11v1m0 22v1m0 4v1M91 29v1m0 9v1m0 6v1m0 1v1m0 6v1m0 2v3m0 21v1m0 4v3M92 29v1m0 14v1m0 4v1m0 9v1m0 5v1M93 30v1m0 6v1m0 1v2m0 18v1m0 4v1m0 13v1M94 14v1m0 19v1m0 15v1m0 13v1m0 8v1m0 9v1M95 21v1m0 10v1m0 20v1m0 1v1m0 1v1m0 2v1m0 13v1m0 7v1m0 16v1M96 11v1m0 7v1m0 1v1m0 28v1m0 7v1m0 10v1m0 5v1m0 9v1m0 4v1M97 17v1m0 3v1m0 16v1m0 5v2m0 36v1m0 12v1M98 20v1m0 3v1m0 22v1m0 3v1m0 15v1m0 8v1m0 2v4m0 11v2M99 25v2m0 3v1m0 3v1"/><path stroke="#717171" d="M0 44v2m0 12v1m0 10v1m0 13v4M1 7v1m0 26v1m0 8v1m0 27v1m0 13v1m0 2v1m0 9v1M2 11v1m0 30v1m0 47v1M3 28v1m0 15v1m0 8v1m0 2v2m0 9v1m0 6v1M4 29v2m0 33v1m0 17v1M5 11v1m0 19v1m0 16v1m0 35v1m0 11v1M6 11v1m0 1v1m0 1v1m0 2v3m0 14v1M7 11v1m0 4v1m0 6v1m0 42v2m0 1v1m0 9v1m0 2v2m0 5v1m0 8v1M8 44v1m0 5v1m0 16v1m0 2v1m0 17v1M9 2v1m0 2v1m0 5v2m0 34v1m0 8v1m0 9v1M10 13v1m0 1v1m0 2v2m0 2v2m0 2v1m0 11v1m0 16v1m0 27v1m0 14v1M11 30v1m0 6v1m0 12v1M12 5v1m0 30v1m0 44v1M13 4v1m0 10v1m0 17v1m0 1v1m0 14v1m0 46v1M14 10v1m0 2v1m0 7v2m0 26v1M15 9v2m0 7v1m0 23v1m0 52v1M16 28v1m0 8v1m0 21v1m0 9v1m0 10v1m0 18v1M17 3v1m0 33v1m0 3v1m0 39v1m0 14v1M18 28v1m0 8v1m0 2v1m0 1v1m0 6v1m0 35v1m0 5v1M19 40v2m0 56v1M20 35v1m0 14v1m0 19v1M21 28v1m0 29v1m0 12v1m0 2v1m0 4v1m0 5v1M22 1v1M23 3v1m0 13v1m0 7v1m0 3v1M24 0v1m0 91v1M25 1v1m0 24v1m0 54v1M26 35v1m0 18v1m0 28v1m0 12v1m0 2v1M27 8v1m0 26v1m0 1v1m0 53v1M28 36v1M29 6v1m0 29v1m0 42v1M30 6v1m0 54v1m0 5v1M31 1v1m0 1v1M32 0v1m0 41v1M33 43v1m0 8v1m0 7v1M34 5v1m0 51v1m0 13v1m0 6v1m0 3v1M35 6v1m0 54v1m0 12v1M36 6v1m0 25v2m0 10v2m0 9v1m0 9v3M37 10v1m0 31v2m0 1v1m0 9v1m0 11v1M39 1v1m0 1v1m0 16v1m0 4v1m0 36v2m0 15v1M40 7v1m0 11v1m0 10v1m0 2v1m0 2v1M41 17v1m0 6v1m0 7v1m0 19v1M42 5v1m0 16v1m0 7v1m0 1v1m0 47v1M43 1v3m0 44v1m0 34v1M44 28v1m0 32v1M45 4v1m0 1v1m0 16v1m0 12v1m0 10v1m0 3v1M46 93v1M47 0v1m0 52v1m0 20v1M48 12v1m0 32v1m0 5v1M49 19v1m0 19v1M50 0v1m0 66v1M51 9v1m0 23v1m0 20v1m0 25v1m0 15v1M52 0v1m0 3v1m0 17v1m0 58v1M53 20v1m0 42v1m0 8v1m0 6v1M54 27v1m0 10v1m0 21v1M55 36v1m0 20v1m0 13v1m0 2v1M56 54v1m0 3v1m0 7v2M57 39v1m0 28v1m0 28v1M58 68v1M59 16v1m0 34v1m0 2v1m0 27v1M60 78v1m0 4v1m0 8v1m0 3v1M61 36v1m0 22v1m0 10v1M62 32v1m0 26v2m0 8v1M63 31v1m0 23v1m0 7v1m0 24v1M64 29v1m0 16v1m0 2v1m0 13v1M65 67v1M66 56v1M67 49v2m0 10v1m0 11v1m0 18v1M68 19v1m0 9v1M69 31v1m0 4v1m0 27v1m0 30v1M70 65v1m0 11v1m0 18v1M71 28v1m0 10v1m0 19v1m0 5v1m0 5v1m0 21v1M72 9v1m0 26v1m0 22v1m0 25v1M73 13v1m0 17v1m0 5v1m0 17v1m0 16v1m0 1v1m0 8v1M74 49v1m0 4v1m0 15v1M75 26v1m0 11v1m0 21v1m0 9v1m0 4v1M76 6v1m0 20v1m0 49v1M77 5v1m0 3v2m0 18v1m0 62v1m0 6v1M78 20v1m0 7v1m0 11v1m0 5v1m0 30v1M79 1v1m0 63v1m0 10v1m0 7v1M80 5v1m0 3v1M81 24v1m0 3v1m0 12v1m0 1v2m0 4v1m0 2v1M82 0v1m0 30v1m0 28v1m0 10v1m0 10v3M83 14v1m0 63v1M84 10v1m0 21v1m0 1v1m0 30v1m0 11v1M85 10v1m0 13v1m0 3v1m0 1v1m0 3v1m0 12v1m0 2v1M86 17v1m0 7v1m0 5v1m0 2v1M87 19v1m0 12v1m0 8v1m0 16v1m0 13v1M88 15v1m0 73v1m0 1v1M89 6v1m0 16v1m0 3v1m0 3v1m0 56v1m0 3v1m0 3v1M90 18v1m0 1v1m0 26v2m0 7v1m0 36v1M91 19v1m0 17v1m0 9v1m0 8v1m0 34v1m0 5v1M92 45v1m0 5v1m0 15v1m0 13v1m0 1v1m0 13v1M93 29v1m0 20v1m0 33v1M94 17v1m0 12v1m0 9v1m0 12v1m0 22v1m0 8v1m0 2v1M95 73v1M96 32v1m0 6v1m0 22v1m0 5v1m0 20v1m0 3v1M97 0v1m0 19v1m0 45v1m0 5v2m0 6v1m0 9v1m0 2v2M98 9v1m0 12v1m0 5v1m0 17v1m0 3v1m0 4v1m0 32v1M99 21v1m0 9v2m0 55v1"/><path stroke="#7b7b7b" d="M0 42v1m0 53v1M1 35v1m0 45v1M2 22v1m0 60v1m0 2v1m0 2v1m0 5v2M3 35v1m0 42v1m0 4v1m0 4v1M4 23v1m0 19v1m0 5v1m0 11v1m0 8v1m0 12v1M5 13v1m0 7v1m0 19v1M6 54v1m0 5v1M7 46v1m0 3v1m0 13v1m0 31v1M8 89v1M9 48v1m0 16v1m0 9v1m0 2v1M10 82v1m0 6v1m0 2v1m0 6v1M11 10v1m0 68v1m0 1v1M12 80v1M13 34v1M14 8v1m0 5v1m0 5v1m0 7v1m0 25v1M15 31v1m0 2v1M16 33v1m0 2v1M17 11v1m0 36v1m0 50v1M18 3v1m0 3v1m0 15v1m0 11v1M19 17v1m0 17v1m0 1v1m0 7v1m0 53v1M20 7v1m0 68v1M21 3v1m0 45v1M22 65v2M23 4v1m0 25v1M24 24v2m0 31v1m0 16v1M25 3v1m0 10v1m0 4v1m0 35v1M26 4v1m0 16v1m0 9v1m0 36v1M27 2v1m0 83v1M28 0v1m0 21v1m0 36v1m0 3v1M29 43v1m0 19v1m0 18v1M30 79v1M31 6v1m0 31v1m0 50v1m0 9v1M32 5v1m0 29v1m0 8v1m0 6v1m0 3v1m0 3v1m0 29v1M33 2v1M34 1v1m0 12v1m0 19v1m0 6v1m0 2v1m0 11v1M35 7v1m0 14v1m0 44v1M37 13v1m0 7v1m0 13v1m0 11v1m0 29v1M38 12v1m0 1v1m0 49v1m0 1v1M39 11v1M40 2v1m0 28v1m0 34v1M41 5v2m0 5v1m0 16v2m0 12v1m0 48v1M42 59v1M43 12v1m0 20v1M44 10v1m0 49v1m0 12v1m0 21v1M45 5v1m0 14v1m0 7v1m0 35v1m0 5v1m0 21v1M46 0v1m0 11v1m0 9v1m0 14v1M47 8v1m0 4v1M48 8v1m0 2v1M49 36v1m0 4v1m0 7v2M50 26v1m0 6v1m0 4v1M51 3v1m0 28v1m0 7v1m0 30v1m0 2v1M52 21v1m0 2v1M53 25v1m0 62v1M54 36v1m0 37v1M55 52v1m0 20v1m0 21v1M56 49v1m0 7v1M57 14v1m0 73v1m0 10v1M58 27v1m0 52v1m0 9v1M59 10v1m0 16v1m0 6v1m0 17v2m0 31v1M60 42v1M61 91v1M62 64v1m0 25v1M63 7v1m0 57v1m0 31v1M64 36v1m0 17v1m0 3v1M65 50v1m0 34v1M66 2v1m0 85v1M67 19v1m0 10v1m0 8v1M68 25v1m0 72v1M69 16v1M70 43v1M71 32v1m0 44v1M72 21v1m0 10v1M73 22v1m0 13v1m0 49v1M74 24v1m0 39v1M75 15v2m0 19v1m0 54v1M76 20v1m0 8v1m0 61v1M77 22v1m0 26v1m0 14v1m0 29v1M78 21v1M80 39v1m0 36v1m0 13v1m0 1v1M81 9v1m0 26v1M82 25v1m0 38v1m0 5v1m0 1v1m0 3v1m0 21v1M83 27v1m0 28v1m0 1v1M84 35v1M85 13v1m0 13v1m0 20v1m0 11v1M86 72v1m0 12v1M87 57v1m0 8v1m0 7v2M88 19v1m0 27v1m0 20v1m0 7v1M89 55v1m0 22v1M90 5v1m0 5v1m0 11v1m0 5v1m0 47v1m0 2v1m0 3v1m0 3v1m0 7v1M91 24v1m0 13v1m0 15v1m0 26v1m0 4v1M92 61v1m0 27v1M94 22v1M95 11v1m0 18v1m0 17v1m0 1v1m0 1v1m0 1v1m0 33v2m0 2v1M96 74v1M97 39v1m0 2v1m0 13v1m0 24v1m0 2v1M98 1v1m0 87v1M99 80v1m0 2v1m0 2v1m0 3v1"/><path stroke="#848484" d="M0 21v1m0 32v1m0 1v1M1 58v1m0 36v1M2 1v1m0 41v1m0 12v1M3 43v1m0 43v1m0 5v1m0 1v1M4 77v1M5 18v1m0 67v1M6 17v1m0 7v1m0 5v1m0 64v1M7 72v1M9 67v1m0 2v1M10 67v1m0 23v1M11 17v1m0 1v1m0 48v1m0 25v1M12 8v1m0 5v1m0 7v1M13 8v1m0 72v1M14 15v1m0 3v1m0 10v1m0 4v1M15 16v1m0 15v1m0 2v1M16 26v1m0 11v1m0 7v1m0 48v1M17 69v1M18 26v1M19 3v1m0 89v1m0 3v1M21 84v1M24 19v1m0 6v1m0 52v1M25 11v1m0 54v1M26 7v1m0 17v1m0 6v1M27 65v1m0 19v1M28 5v1m0 91v1M29 21v1M30 53v2M31 20v1m0 21v1m0 8v1m0 15v1M32 3v1m0 62v1m0 13v1M33 4v1m0 40v1m0 13v1m0 36v1M34 19v1m0 27v1m0 18v1M35 15v1m0 8v1M36 0v1m0 67v1M37 46v1m0 22v1M38 42v1m0 56v1M39 22v1m0 7v1m0 33v1M40 32v1m0 10v1M41 34v1m0 4v1m0 40v1M42 12v1m0 18v1m0 6v1m0 40v1M43 32v1m0 53v1M44 21v1m0 2v1m0 11v1m0 27v1M45 19v1m0 70v1M46 36v1M47 21v1m0 17v1M48 2v1m0 1v1m0 5v1m0 13v1m0 14v1m0 2v1M49 15v1m0 8v1m0 72v1M50 37v1m0 17v1m0 41v1M51 25v1M52 75v1M53 37v1m0 54v1M54 12v1m0 24v1m0 59v1M55 28v1m0 26v1m0 2v1M57 32v1m0 38v1m0 9v1m0 14v1M58 48v1m0 10v1M59 94v1M60 70v1M61 60v1m0 17v1m0 7v1m0 1v1M62 30v1m0 32v1M63 54v1M64 4v1m0 61v1M65 2v1m0 40v1m0 5v1M66 49v1m0 34v1M67 76v1M68 69v1M71 3v1m0 59v1m0 8v1M72 61v1m0 1v1m0 1v1M74 25v2m0 32v2m0 28v1M75 13v1m0 45v1M76 70v1M77 43v1m0 18v1M78 1v1m0 42v1m0 4v1m0 49v1M79 6v1m0 4v1M80 35v1m0 2v1m0 5v1M81 7v1m0 13v1m0 41v1M82 17v1M83 0v1m0 56v1M84 29v1m0 16v1m0 4v1m0 18v1M85 12v1m0 36v1M86 49v1m0 25v1M87 6v1m0 3v1m0 33v1M88 7v1m0 9v1m0 13v1m0 34v1M89 5v1m0 10v2m0 1v1m0 25v1m0 34v1m0 6v1M90 34v1m0 20v1m0 26v1M91 34v1m0 63v1M92 52v1m0 32v1M93 19v1m0 24v1m0 7v1m0 7v1M94 37v1m0 14v1M95 37v1M96 38v1m0 10v1M97 11v1M98 31v1m0 22v1M99 54v1"/><path stroke="#8e8e8e" d="M0 4v1m0 7v1M1 4v1m0 37v1m0 43v1M2 0v1m0 86v1m0 10v1M3 13v1m0 83v1M4 1v1m0 36v1M5 19v1m0 40v1M6 24v1M7 3v1m0 3v1m0 18v1m0 7v1m0 9v1m0 10v1M8 36v1m0 31v1M9 16v1m0 72v1M11 9v1m0 12v1M12 24v1m0 18v1m0 7v1M13 96v1M14 34v1m0 6v1m0 47v1M15 7v1m0 20v1m0 11v1m0 7v1M16 7v1m0 23v1m0 8v1m0 14v1M17 22v1m0 13v1m0 3v1m0 4v1M18 8v1m0 20v1m0 2v1M19 28v1M20 77v1m0 17v1M21 4v2m0 16v1m0 24v1m0 43v1M22 22v1M23 22v1m0 3v1M24 4v1m0 24v1M25 68v1m0 30v1M26 44v1m0 50v1M28 94v1M29 4v2m0 16v1m0 35v1m0 8v1M30 4v1m0 37v1m0 39v1M32 45v2M33 51v1m0 41v1M34 7v1m0 28v1m0 25v1M36 48v1m0 7v1M37 2v1m0 65v1m0 21v1M38 62v1m0 27v1M41 79v1M43 95v1M45 48v1m0 1v1m0 10v1m0 7v1M46 11v1m0 56v1M47 4v1m0 7v1m0 25v1m0 54v1M48 95v1M49 11v1M50 83v1M51 52v1m0 22v1M53 80v1M54 11v1m0 60v1M55 24v1m0 40v1M56 72v1M59 59v1m0 21v1m0 13v1M60 69v1M62 88v1M63 67v1M64 1v3m0 31v1m0 23v1M65 30v1m0 13v1m0 36v1m0 4v1M66 1v1m0 29v1m0 57v1M67 83v1M68 20v1m0 36v1m0 18v1m0 9v1m0 10v1M69 20v1m0 28v1M70 4v1m0 48v1M71 64v1M73 21v1m0 38v1M74 37v1M75 9v1m0 29v1M76 44v1M77 63v1m0 21v1M78 65v1m0 22v1M79 5v1m0 6v1m0 8v1m0 18v1m0 44v1M80 41v2M81 1v1m0 23v2M83 9v1m0 25v1m0 35v1M84 28v1m0 39v1M85 31v1m0 3v1m0 15v1M86 0v1m0 27v1M87 9v1m0 23v1m0 61v1M88 6v1m0 18v1m0 4v1m0 48v1m0 14v1M89 24v2m0 51v1M90 78v1M91 80v1m0 3v2M92 5v1m0 54v1M93 12v1m0 25v1m0 6v1m0 20v1M94 55v1m0 28v1M96 77v1m0 10v1M97 76v1m0 6v1m0 7v1M98 87v1M99 22v1m0 42v1m0 32v1"/><path stroke="#989898" d="M0 36v1m0 58v1M2 23v1m0 67v1M3 22v1m0 56v1M4 39v1m0 4v1m0 51v1M6 27v1M7 0v1m0 14v1m0 64v1M8 2v1m0 53v1m0 41v1M9 10v1m0 25v1m0 32v1M10 10v1m0 64v1m0 2v1M11 13v1m0 2v1M12 10v1m0 75v1m0 9v1M13 13v1m0 9v1M14 29v1M15 37v1M16 18v1m0 62v1M18 69v1M19 76v1M20 22v1m0 76v1M21 56v1M22 54v1M24 1v1m0 97v1M25 25v1m0 49v1M26 12v1m0 57v1m0 17v1M27 98v1M28 43v1m0 30v1m0 10v1M29 59v1m0 15v1M30 62v1m0 31v1m0 2v1M31 0v1m0 42v1m0 6v1M32 60v1m0 38v1M34 48v1m0 20v2M35 34v1m0 17v1m0 9v1m0 17v1M36 61v1M37 11v2m0 7v1m0 35v1M38 22v1m0 20v1m0 21v1M39 2v1m0 20v1m0 7v1M40 22v1m0 1v1m0 15v1M41 18v1m0 23v1m0 48v1M43 27v2M44 90v1M45 10v2m0 12v1M48 96v1M49 3v1m0 5v1m0 74v1M50 7v1m0 31v1M53 21v2M54 88v1M55 66v1m0 9v1M56 11v1m0 61v1M57 0v1M58 49v1m0 8v1M61 44v1M62 78v1M66 20v1m0 29v1M67 0v1M68 17v1m0 69v1M69 3v1m0 29v1m0 26v1m0 35v1M70 97v1M71 61v1M74 13v1m0 62v1M75 40v1m0 25v1M76 43v1m0 32v1M77 44v1M79 20v1m0 28v2m0 47v1M80 20v1m0 8v1m0 19v1M81 75v1M82 19v1m0 15v1m0 54v1M83 18v1M84 9v1m0 68v1M85 56v1m0 10v1M86 14v1m0 9v1m0 22v1m0 18v1M87 47v1m0 19v1m0 10v1m0 9v1M88 16v1m0 24v1M89 76v1M90 26v1m0 60v1m0 1v1M91 57v1M93 6v1m0 4v1M96 72v1M98 25v1M99 4v1m0 65v1"/><path stroke="#a2a2a2" d="M0 34v1M1 87v1M2 97v1M3 86v1M4 78v1m0 6v1m0 7v1m0 3v1M5 20v1m0 12v1m0 6v1M6 12v1m0 13v1m0 21v1M7 47v1m0 3v1m0 2v1m0 26v1M8 34v1m0 34v1M14 23v1m0 18v1m0 35v1M15 46v1m0 39v1m0 6v1M16 34v1M17 44v1m0 2v1m0 22v1M18 47v1M19 4v1m0 1v1m0 87v1M20 27v1m0 4v1m0 3v1M21 68v1M22 5v1m0 47v1M23 1v1M24 69v1m0 21v1M25 90v1M27 66v1M28 35v1m0 28v1m0 10v1M29 11v1M30 51v1m0 46v1M32 4v1m0 4v1m0 63v1M33 3v1m0 19v1m0 10v1m0 59v1M34 3v1m0 54v1m0 20v1M35 36v1m0 33v1M36 39v1M38 1v1m0 8v1m0 66v1m0 8v1M39 43v1m0 51v1M40 80v1M41 19v1M42 25v1m0 50v1M43 11v1m0 26v1M44 65v1M48 91v1m0 7v1M50 15v1m0 4v1M51 70v1M54 85v1M55 54v1m0 22v1M56 89v1M57 49v1M58 1v1m0 87v1M59 0v1m0 48v1m0 36v1M60 10v1m0 41v1M62 70v1M63 35v1m0 28v1M65 3v2M66 80v2M67 56v1m0 2v1M69 30v1M70 61v1M71 47v2M73 53v1M74 9v1m0 4v1M76 5v1m0 2v1M77 76v1M78 66v1M79 35v1M80 28v1m0 11v1m0 7v1m0 44v1M81 72v2M82 26v1m0 30v1M83 26v1M84 56v1M85 69v1M86 23v1m0 19v1M87 22v1m0 5v1M88 95v1M89 11v1m0 35v1M91 99v1M92 66v1m0 23v1M94 54v1M95 84v2M96 48v1m0 24v1m0 10v1M97 62v1M98 83v1"/><path stroke="#acacac" d="M0 30v1m0 68v1M3 29v1M5 12v1M6 95v1M7 95v1M9 82v1M10 77v1M11 14v1m0 20v1m0 55v1M12 50v1m0 46v1M13 10v1M14 16v1m0 29v1M16 3v1m0 7v1m0 23v1M17 35v1m0 44v1m0 17v1M18 27v1m0 16v1M19 7v1M20 41v1M21 24v1m0 32v1M23 87v1M27 4v1m0 18v1m0 20v1M29 80v1M30 93v1M31 33v1m0 48v1M32 74v1m0 13v1M33 79v1M34 77v1M35 0v1M36 35v1m0 41v1M38 23v1M39 65v1m0 8v1M42 29v1m0 53v1M43 26v1m0 19v1M44 50v1M48 13v1M49 40v1M51 55v1M55 11v1M56 56v1M57 13v1m0 53v1M59 68v1M63 66v1M64 6v1m0 79v1M66 25v1m0 59v1M67 1v1M68 77v1M69 29v1M71 76v1M73 49v1M74 10v1m0 12v1M77 48v1M78 5v1m0 63v1M80 43v1m0 19v1M82 48v1m0 9v1m0 14v1M85 65v1M86 78v1M88 18v1m0 64v1M91 33v1M92 38v1m0 43v1M95 1v1m0 47v1m0 22v1M96 78v1M97 26v2m0 4v1M98 27v1m0 56v1m0 6v1M99 35v1m0 31v1"/><path stroke="#b5b5b5" d="M0 31v1m0 38v1M4 35v1M6 16v1m0 63v1M7 45v1M10 68v1M11 29v1M12 13v1M13 21v1m0 21v1M14 95v1M16 54v1M17 34v1M19 11v1m0 14v1m0 5v1m0 3v1M22 24v1m0 59v1M23 99v1M24 56v1M27 36v1M29 74v1m0 19v1M30 80v1M31 5v1m0 9v1m0 5v1M32 10v1M34 80v1M35 92v1M40 6v1M46 21v1m0 30v1M47 37v1m0 30v1M50 54v1M51 50v1M52 9v1M56 25v1M58 94v1M62 28v1m0 2v1M63 29v1M64 31v1M66 30v1M68 16v1M69 77v1M70 32v1M72 34v1m0 44v1M78 47v1M79 48v1M81 29v1m0 18v1m0 41v1M82 69v1M84 27v1M86 44v1m0 1v1m0 1v1M88 10v1m0 56v1m0 25v1M92 86v1m0 11v1M93 85v1M96 79v1m0 12v1M97 79v1m0 12v1M98 42v1M99 68v2m0 7v1m0 19v1"/><path stroke="#bfbfbf" d="M1 97v1M4 86v1M7 24v1M8 65v1m0 16v1M10 37v1m0 43v1M16 17v1m0 30v1M22 26v1M25 92v1M27 97v1M29 35v1m0 57v1M30 34v2M31 4v1m0 55v1M33 95v1M34 35v1m0 58v1M40 23v1M41 65v1M42 26v1M43 25v1M44 46v2m0 44v1M48 41v1M50 25v1M51 41v1M52 79v1m0 12v1M56 52v1M57 25v1M58 0v1m0 71v1M59 42v1M65 14v1M68 31v1M70 42v1M72 78v1M73 34v1M75 53v1M83 48v1m0 20v1M86 73v2M87 7v1M88 11v1m0 30v1m0 37v1m0 6v1M89 18v1M90 27v1m0 5v1m0 56v1M92 99v1M93 17v1M94 18v1m0 46v1M95 51v1M97 55v1M98 66v1m0 23v1"/><path stroke="#c9c9c9" d="M0 87v1m0 9v1M7 6v1M8 1v1M10 94v1M12 44v1M13 14v1M14 9v1m0 45v1m0 40v1M16 23v1M18 41v1m0 6v1M20 40v1M22 18v1M26 2v1m0 5v1M27 3v1M30 22v1M31 87v1M32 61v1M33 57v1M35 35v1m0 29v1M40 65v1M41 22v2m0 32v1M47 95v1M50 70v1m0 25v1M53 97v1M56 71v1M60 51v1M64 14v1M65 11v1m0 13v1m0 56v1M68 73v1M69 87v1m0 10v1M70 76v1M71 80v1M75 12v1m0 63v1M78 11v1M79 72v1M80 21v1M83 70v1M86 79v1M93 5v1m0 59v1M94 51v1M98 21v1M99 71v1"/><path stroke="#d3d3d3" d="M3 16v1m0 82v1M4 33v2M5 16v2M8 0v1m0 62v1M9 17v1M10 80v1M11 78v1M15 23v1M20 28v1M21 99v1M26 90v1M28 4v1M32 50v1M33 68v1m0 11v1M34 2v1m0 78v1M35 79v1M38 76v1M39 24v1M43 49v1M47 94v1M48 92v1M52 74v1M56 14v1M57 30v1M65 13v1M67 57v1M86 45v1M87 82v1M89 48v1m0 32v1m0 11v1M90 24v1M98 26v1m0 51v1M99 91v1"/><path stroke="#dddddd" d="M0 35v1m0 5v1M1 99v1M5 30v1m0 8v1M7 35v1M12 9v1M14 94v1M15 47v1M16 77v1M20 94v1M26 92v1M28 42v1M29 81v1M33 67v1M36 78v1M38 91v1M39 33v1m0 8v1M41 31v1M42 27v1M49 83v1M54 99v1M59 41v1M72 72v1M79 99v1M80 2v1M86 65v1M88 88v1M95 39v1M98 10v1"/><path stroke="#e6e6e6" d="M1 69v2M3 23v1m0 70v1M5 35v1m0 2v1M10 93v1M11 80v1m0 11v2M15 77v2M16 70v1M22 87v1M27 21v1M28 65v1M31 61v1M32 33v1m0 9v1M34 6v1M38 20v1M42 92v1M47 92v1M61 87v1M65 31v1M67 58v1m0 12v1M70 49v1M74 22v1M76 9v1M80 1v1M84 69v1M85 46v1M90 60v1M91 90v1M97 63v1M98 0v1"/><path stroke="#f0f0f0" d="M3 17v1m0 80v1M5 34v1M7 48v1M9 35v1M10 35v1M13 22v1M15 41v1M16 47v1M21 95v1M26 36v1m0 29v1M30 20v1M32 58v1m0 8v1M33 44v1M39 32v1M40 42v1M43 36v1M62 29v1M63 30v1M69 97v1M72 31v1M77 69v1M78 71v1M81 2v1M83 36v1M87 5v1M88 5v1m0 53v1M90 83v1M93 51v1M98 11v1m0 65v1"/><path stroke="#fafafa" d="M0 55v1M1 55v2M2 88v1m0 10v1M4 16v2m0 80v1M8 35v1m0 11v2m0 15v1M9 68v1M10 11v2m0 3v2m0 18v1M11 23v1m0 12v1m0 40v1M12 23v1M13 9v1M15 54v2m0 38v1M17 23v1M18 45v1M19 27v1M21 25v1M22 19v1m0 5v1m0 73v1M23 18v2M25 69v1m0 21v1M26 3v1m0 65v1m0 12v1m0 8v1M27 22v1M28 66v1M29 10v1m0 31v1M30 21v1m0 59v1M31 34v2M32 34v1M33 56v1m0 1v1M35 66v1m0 10v2M36 34v1M38 2v1m0 8v1M40 41v1M41 40v2M42 28v1m0 31v1m0 30v1M43 37v1M44 11v1m0 8v1m0 27v2m0 24v1m0 16v1M45 91v1M46 69v2M47 51v2m0 16v2m0 20v1M48 40v1M49 10v1M50 49v2M51 51v1M52 80v1M54 73v1m0 24v1M56 46v1M57 31v1m0 40v1m0 16v1M58 81v1M60 86v2M64 7v1m0 5v1m0 16v1M67 20v1m0 51v1M68 32v1m0 25v1m0 13v1M69 32v1m0 43v1M70 3v1m0 56v1M71 31v1m0 28v1M72 35v1m0 24v1m0 3v1m0 8v1m0 6v1M73 35v1m0 37v1M74 53v1M75 37v1M76 65v2M77 19v2m0 44v2m0 3v1m0 6v1M78 12v1m0 35v1m0 21v1M80 64v1M81 64v1m0 11v1M82 36v1m0 24v1M83 19v1m0 40v2M84 60v1M85 9v1m0 56v1M87 8v1M88 81v2M89 59v2m0 21v2M90 19v1m0 39v1M92 37v1M93 18v1M94 38v2M95 38v1M97 77v2M98 32v1M99 66v1m0 20v1"/></g></g>
</g>
<rect x="1795.50" y="611.00" width="280.00" height="1.00" fill="#fff" stroke="none" stroke-width="1.1" />
<rect x="1795.50" y="332.50" width="280.00" height="280.00" fill="none" stroke="#000" stroke-width="1.1" />
<line x1="1798.50" y1="332.50" x2="1798.50" y2="327.20" stroke="#000" stroke-width="1.1" />
<line x1="1866.50" y1="332.50" x2="1866.50" y2="327.20" stroke="#000" stroke-width="1.1" />
<line x1="1935.50" y1="332.50" x2="1935.50" y2="327.20" stroke="#000" stroke-width="1.1" />
<line x1="2003.50" y1="332.50" x2="2003.50" y2="327.20" stroke="#000" stroke-width="1.1" />
<line x1="2071.50" y1="332.50" x2="2071.50" y2="327.20" stroke="#000" stroke-width="1.1" />
<line x1="1863.50" y1="612.50" x2="1863.50" y2="617.80" stroke="#000" stroke-width="1.1" />
<line x1="1931.50" y1="612.50" x2="1931.50" y2="617.80" stroke="#000" stroke-width="1.1" />
<line x1="1999.50" y1="612.50" x2="1999.50" y2="617.80" stroke="#000" stroke-width="1.1" />
<line x1="2068.50" y1="612.50" x2="2068.50" y2="617.80" stroke="#000" stroke-width="1.1" />
<line x1="1795.50" y1="341.50" x2="1790.20" y2="341.50" stroke="#000" stroke-width="1.1" />
<line x1="1795.50" y1="410.50" x2="1790.20" y2="410.50" stroke="#000" stroke-width="1.1" />
<line x1="1795.50" y1="479.50" x2="1790.20" y2="479.50" stroke="#000" stroke-width="1.1" />
<line x1="1795.50" y1="548.50" x2="1790.20" y2="548.50" stroke="#000" stroke-width="1.1" />
<line x1="2075.50" y1="348.50" x2="2080.80" y2="348.50" stroke="#000" stroke-width="1.1" />
<line x1="2075.50" y1="417.50" x2="2080.80" y2="417.50" stroke="#000" stroke-width="1.1" />
<line x1="2075.50" y1="485.50" x2="2080.80" y2="485.50" stroke="#000" stroke-width="1.1" />
<line x1="2075.50" y1="554.50" x2="2080.80" y2="554.50" stroke="#000" stroke-width="1.1" />
<text x="1783.2" y="345.1" font-size="14.17" text-anchor="end" fill="#000" textLength="43.8" lengthAdjust="spacingAndGlyphs">11°45'</text>
<text x="1783.2" y="414.1" font-size="14.17" text-anchor="end" fill="#000" textLength="19.3" lengthAdjust="spacingAndGlyphs">30'</text>
<text x="1783.2" y="483.1" font-size="14.17" text-anchor="end" fill="#000" textLength="19.3" lengthAdjust="spacingAndGlyphs">15'</text>
<text x="1783.2" y="552.1" font-size="14.17" text-anchor="end" fill="#000" textLength="19.3" lengthAdjust="spacingAndGlyphs">00'</text>
<text transform="translate(1728.6 473.5) rotate(-90)" font-size="14.17" text-anchor="middle" fill="#000" textLength="24.7" lengthAdjust="spacingAndGlyphs">Dec</text>
<path d="M1867.0 399.7L1874.8 407.5M1867.0 407.5L1874.8 399.7" stroke="#008000" stroke-width="1.5" fill="none"/>
<path d="M1895.0 473.0L1902.8 480.8M1895.0 480.8L1902.8 473.0" stroke="#ff0000" stroke-width="1.5" fill="none"/>
<circle cx="1992.5" cy="445.7" r="4.1" fill="none" stroke="#008000" stroke-width="1.4"/>
<text x="1986.0" y="438.5" font-size="14.17" text-anchor="start" fill="#008000" opacity="1.0" textLength="112.0" lengthAdjust="spacingAndGlyphs">PSRJ1951+1123</text>
<path d="M1928.5 473.7L1935.2 467.3L1937.7 467.7L1939.2 469.1L1939.6 470.5L1939.6 474.3L1935.2 478.5L1932.7 478.4Z" fill="none" stroke="#2020e0" stroke-width="1.1"/>
<rect x="2096.50" y="332.50" width="14.00" height="280.00" fill="url(#gray)" stroke="none" stroke-width="1.1" />
<rect x="2096.50" y="332.50" width="14.00" height="280.00" fill="none" stroke="#000" stroke-width="1.1" />
<line x1="2110.50" y1="337.50" x2="2115.80" y2="337.50" stroke="#000" stroke-width="1.1" />
<text x="2120.4" y="343.3" font-size="14.17" text-anchor="start" fill="#000" textLength="19.9" lengthAdjust="spacingAndGlyphs">5.0</text>
<line x1="2110.50" y1="373.50" x2="2115.80" y2="373.50" stroke="#000" stroke-width="1.1" />
<text x="2120.4" y="378.7" font-size="14.17" text-anchor="start" fill="#000" textLength="19.9" lengthAdjust="spacingAndGlyphs">4.5</text>
<line x1="2110.50" y1="408.50" x2="2115.80" y2="408.50" stroke="#000" stroke-width="1.1" />
<text x="2120.4" y="414.1" font-size="14.17" text-anchor="start" fill="#000" textLength="19.9" lengthAdjust="spacingAndGlyphs">4.0</text>
<line x1="2110.50" y1="444.50" x2="2115.80" y2="444.50" stroke="#000" stroke-width="1.1" />
<text x="2120.4" y="449.5" font-size="14.17" text-anchor="start" fill="#000" textLength="19.9" lengthAdjust="spacingAndGlyphs">3.5</text>
<line x1="2110.50" y1="479.50" x2="2115.80" y2="479.50" stroke="#000" stroke-width="1.1" />
<text x="2120.4" y="484.9" font-size="14.17" text-anchor="start" fill="#000" textLength="19.9" lengthAdjust="spacingAndGlyphs">3.0</text>
<line x1="2110.50" y1="514.50" x2="2115.80" y2="514.50" stroke="#000" stroke-width="1.1" />
<text x="2120.4" y="520.3" font-size="14.17" text-anchor="start" fill="#000" textLength="19.9" lengthAdjust="spacingAndGlyphs">2.5</text>
<line x1="2110.50" y1="550.50" x2="2115.80" y2="550.50" stroke="#000" stroke-width="1.1" />
<text x="2120.4" y="555.7" font-size="14.17" text-anchor="start" fill="#000" textLength="19.9" lengthAdjust="spacingAndGlyphs">2.0</text>
<line x1="2110.50" y1="585.50" x2="2115.80" y2="585.50" stroke="#000" stroke-width="1.1" />
<text x="2120.4" y="591.1" font-size="14.17" text-anchor="start" fill="#000" textLength="19.9" lengthAdjust="spacingAndGlyphs">1.5</text>
<text transform="translate(2156.7 472.4) rotate(-90)" font-size="14.17" text-anchor="middle" fill="#000" textLength="140.5" lengthAdjust="spacingAndGlyphs">spike = 4.62 (0.616)</text>
<g clip-path="none">
<rect x="1795.50" y="626.50" width="280.00" height="280.00" fill="#444"/><g transform="translate(1795.50 626.50) scale(2.8000)" filter="url(#sm2)"><rect width="100" height="100" fill="#4a4a4a"/><g transform="translate(.5 0)" fill="none" stroke-width="1.06" shape-rendering="crispEdges"><path stroke="#050505" d="M0 6v1m0 6v2m0 30v1m0 12v1m0 34v1M1 11v3m0 53v1M2 8v1m0 2v1m0 11v1m0 51v1M3 11v2m0 1v1m0 37v1M4 11v3m0 10v1m0 23v1m0 12v1M5 23v2m0 25v1m0 9v1m0 7v2m0 15v1m0 7v1M6 21v1m0 27v1m0 17v2m0 6v1m0 11v1m0 5v1M7 31v1m0 11v2m0 1v3m0 7v1m0 35v1M8 17v1m0 9v1m0 17v2m0 8v1m0 40v1M9 24v3m0 17v2m0 13v1M10 5v1m0 19v2m0 46v1M11 12v2m0 11v1m0 39v1m0 12v2M12 11v3m0 29v2M13 11v1m0 11v1m0 19v1m0 3v1m0 35v1M14 14v4m0 4v1m0 17v1m0 6v1m0 26v2M15 13v2m0 23v1M16 2v1m0 9v1m0 24v1m0 5v1m0 11v1m0 28v2M17 11v1m0 24v1m0 5v1m0 40v2m0 11v1M18 20v1m0 14v1m0 6v1m0 26v2M19 7v1m0 4v1m0 6v1m0 8v1m0 31v1M20 5v1m0 1v1m0 52v1M21 4v1m0 36v1m0 29v1M22 18v1m0 34v1M23 52v1m0 4v1m0 23v1M24 14v1m0 11v2m0 22v2m0 25v1M25 26v1m0 48v2m0 16v1M26 14v1m0 52v2m0 24v1M27 26v1M28 25v1m0 31v1m0 12v1m0 4v2M29 55v3m0 26v3m0 6v1M30 34v1m0 48v1m0 3v1m0 4v2M31 34v1m0 45v1m0 5v2M32 23v1m0 10v1M33 15v1m0 18v1m0 27v1m0 27v1M34 33v1m0 18v2M35 52v1m0 11v1m0 3v1m0 22v1M36 8v2m0 29v3m0 21v1m0 10v2M37 74v1M40 19v2m0 4v2m0 13v1m0 4v2m0 1v1m0 44v2M41 19v1m0 8v2m0 21v2M42 6v2m0 19v2m0 22v1M43 6v2m0 19v1m0 47v1M44 26v1m0 43v1M45 25v1m0 48v1m0 4v1M46 25v1m0 44v1m0 1v1m0 5v1M47 20v2m0 12v2m0 27v1m0 13v1m0 7v1M48 20v1m0 13v1M49 34v1M50 33v2m0 22v2M53 61v1m0 19v2m0 16v1M54 29v1m0 50v2M55 28v1m0 20v1m0 4v2M56 46v1m0 1v1m0 4v2m0 25v2M57 30v2m0 14v2m0 11v2m0 16v1m0 2v1M58 8v1m0 1v1m0 19v1m0 34v2M59 35v1m0 28v2M60 35v1m0 23v2m0 6v2M61 59v1m0 6v3M62 34v1m0 14v1m0 8v1m0 6v1M63 3v2m0 59v1M64 2v2m0 89v1M65 1v1m0 33v1m0 13v1m0 17v1m0 24v1M66 35v1m0 30v1m0 14v2M67 60v1m0 2v1M68 15v1m0 39v1m0 3v1m0 2v1M69 62v1M70 7v1m0 6v2m0 41v1M71 13v2m0 3v1m0 16v1m0 10v1m0 5v1m0 3v2m0 31v2m0 7v1M72 34v2m0 16v1m0 3v1m0 2v1m0 15v1m0 13v2m0 6v2M73 33v2m0 19v2m0 9v1m0 8v2M74 26v1m0 67v1M75 23v1m0 11v1m0 54v4M76 6v2m0 8v1m0 18v1m0 32v1m0 24v1M77 6v1m0 12v1m0 5v1m0 11v2m0 11v1M78 18v2m0 5v1m0 1v1m0 20v3M79 13v1m0 37v2m0 30v1M80 13v1m0 37v1m0 30v2M81 1v1m0 10v2m0 12v1m0 16v3m0 35v2M82 36v1m0 7v2m0 35v1M83 5v1m0 8v1m0 70v2M84 2v2m0 12v1m0 15v1m0 27v4M85 22v4m0 33v2M86 11v1m0 7v1m0 1v2m0 5v1m0 38v1M87 67v2m0 2v1M88 1v1m0 4v1m0 80v1M89 18v1m0 23v1m0 1v1m0 35v1m0 10v1M90 13v2m0 2v1m0 1v1m0 21v1m0 9v2m0 14v2m0 19v1M91 24v1m0 5v1m0 5v1m0 3v1m0 20v1m0 17v1m0 15v1M92 16v1m0 5v2m0 15v1m0 4v2m0 32v2m0 14v2m0 3v1M93 13v1m0 30v2m0 47v2M94 12v1m0 9v3m0 68v1m0 1v2M95 4v1m0 47v1m0 2v1m0 39v1M96 36v1m0 8v2m0 4v1m0 2v1M97 29v1m0 12v1m0 2v1m0 7v1m0 3v2m0 29v1M98 17v1m0 7v1m0 5v2m0 11v1m0 8v1m0 3v2M99 16v1m0 7v2m0 45v2m0 11v4"/><path stroke="#0f0f0f" d="M0 44v1m0 22v1M1 8v2m0 48v1m0 7v1M2 19v2m0 31v1M3 18v1m0 43v1M4 3v1m0 77v1m0 1v1m0 2v1M5 25v1m0 60v1M6 9v1m0 24v1m0 13v1m0 1v1m0 31v1m0 9v1m0 1v1M7 8v1m0 9v1M8 30v1m0 30v1M9 7v1m0 52v1M10 24v1m0 25v1m0 14v1M11 67v2m0 7v1M12 67v1M13 12v1m0 9v1m0 7v1M14 10v1m0 12v1m0 5v1m0 9v1m0 4v1M15 43v1m0 13v1M16 1v1m0 11v1m0 28v1m0 20v1M17 37v1m0 5v1m0 27v1M18 32v1M19 38v1M20 6v1M21 42v1m0 7v1M22 45v1M23 5v1m0 12v1m0 1v1m0 30v1m0 46v1M24 18v2m0 54v1M25 13v1m0 80v1M27 14v1m0 82v1M28 68v2m0 11v1M29 75v1m0 11v1m0 6v1M30 71v1M31 39v1m0 39v1M32 15v1m0 46v1M33 33v1m0 1v1M34 61v2m0 21v1M35 9v2m0 30v1m0 25v1m0 4v1m0 10v1M36 24v1m0 13v1m0 37v1M37 39v1M38 16v1M39 4v1m0 8v1m0 6v1m0 20v1m0 3v1m0 48v2M40 16v2m0 29v1m0 51v1M42 12v2m0 36v1M43 60v1m0 10v1m0 20v2m0 5v1M44 94v1M45 8v1m0 10v1m0 4v1m0 1v1m0 51v1M46 33v2M47 4v1m0 59v1M48 21v1m0 17v1m0 45v1m0 7v1M49 21v1m0 11v1M50 21v1m0 6v1M51 95v1M53 33v1m0 3v1m0 24v1m0 6v1m0 13v2M54 36v1m0 13v1M56 47v1m0 4v1m0 45v1M57 35v2m0 25v1m0 15v2m0 1v1M60 34v1m0 6v1m0 21v1M61 58v1M63 11v2M64 79v2M67 16v1m0 18v1M70 24v1M71 30v1m0 45v1m0 14v1m0 7v1M72 30v1m0 20v1m0 5v1m0 2v1m0 4v2m0 7v1M73 73v1M74 27v1m0 65v1M75 8v1m0 25v1m0 59v1M76 20v1m0 1v1m0 6v1m0 19v1M77 20v1m0 33v1m0 12v1M78 20v1m0 32v1m0 7v2M79 17v1m0 7v2m0 55v1M80 12v1m0 37v1m0 30v1M81 25v1m0 11v2M82 1v1m0 35v1m0 8v1M83 6v1m0 10v1M84 49v1m0 35v1M85 15v1m0 15v1M86 10v1m0 12v1m0 42v1m0 5v1m0 4v1M88 75v1m0 4v1M89 17v1m0 25v1m0 8v2m0 30v1M90 71v1m0 7v1m0 9v1m0 1v1M91 18v1m0 4v1m0 11v1M92 40v1m0 39v1M93 23v1m0 38v1M96 4v1m0 47v1m0 6v1m0 12v1M97 3v1m0 37v1M98 72v1m0 20v1M99 19v1m0 48v1m0 14v1m0 9v1"/><path stroke="#191919" d="M0 12v1m0 55v1M1 21v1m0 2v1M2 12v1m0 2v1m0 47v1m0 12v1M3 19v1m0 31v1m0 23v1M4 18v1m0 25v1m0 2v1m0 3v1m0 6v1m0 25v2M5 5v1M6 22v1m0 10v1m0 50v1M7 4v1M8 3v1m0 4v1m0 33v1m0 17v1M9 6v1m0 13v1m0 6v1m0 55v1M10 4v1m0 61v1M11 26v1m0 2v1m0 15v1m0 4v1m0 15v1m0 10v1m0 2v1M12 14v1m0 22v1m0 13v1m0 41v1M13 17v1m0 10v1m0 13v1m0 8v1m0 8v1m0 2v1m0 17v2m0 9v1M14 27v1m0 36v1m0 3v1M15 44v1m0 13v2m0 3v1M16 11v1m0 7v1m0 1v1m0 14v1m0 27v1m0 17v2m0 9v1m0 3v1M17 6v1m0 3v1m0 9v1m0 5v1m0 37v1m0 27v1m0 2v1M18 10v1m0 16v2m0 2v1M19 8v1m0 18v1m0 33v1m0 34v1M20 18v1m0 18v1m0 4v1m0 29v1M21 3v1M22 70v1m0 10v2M23 1v1m0 17v1m0 17v2m0 19v1m0 6v1M24 4v2m0 9v1m0 1v1m0 2v1m0 28v1m0 26v1m0 9v1m0 7v1M25 12v1m0 12v1m0 23v1m0 23v1m0 3v1m0 1v1M26 64v2m0 3v1M27 68v1m0 27v1M28 55v1M29 69v2m0 10v1m0 10v1M30 22v1m0 12v1m0 8v1m0 16v1m0 7v2m0 15v1M31 88v1M32 13v2m0 7v1m0 12v1m0 1v2M33 22v2m0 20v1m0 10v1M34 54v1m0 35v1m0 3v1m0 4v1M35 32v1m0 59v2M36 67v1m0 3v1M37 20v1m0 19v1m0 21v1m0 7v1M38 1v1m0 43v1M39 27v1m0 18v1M40 41v1M41 7v1m0 7v1m0 4v1m0 25v2m0 2v1m0 40v1M42 5v1m0 8v1m0 37v1m0 22v1m0 18v1M43 9v1m0 26v1m0 57v1M44 20v1m0 14v1m0 23v1m0 5v1M45 62v1m0 7v1M46 43v1m0 25v1M47 7v1m0 63v2m0 3v1m0 15v1M48 40v1m0 48v3M49 29v1m0 8v1M50 77v1m0 15v1M51 13v2M52 1v1m0 12v1m0 6v1M53 78v1M54 82v1M55 2v1m0 26v1m0 5v1m0 5v1m0 4v1m0 35v1m0 5v1M56 45v1m0 5v1m0 8v1m0 18v1M57 0v1m0 16v1m0 27v1m0 2v1m0 48v1M58 11v1m0 19v1m0 3v1m0 11v1m0 4v2m0 39v1m0 2v1M59 7v1m0 28v1M60 69v1m0 5v1m0 14v1M62 8v1m0 41v1M63 33v1m0 15v1m0 49v1M64 49v1m0 39v1M65 2v1m0 17v1m0 50v1m0 2v1M66 11v1m0 26v1m0 44v1M67 34v1m0 3v1m0 42v1M68 4v1m0 32v1m0 18v1m0 6v1M69 23v3m0 18v1M70 8v1M71 38v1m0 19v1m0 1v1M72 18v1m0 14v1m0 49v1M73 10v1m0 40v1m0 34v1M74 1v1m0 7v1m0 25v1m0 3v1m0 20v1m0 34v1M75 4v1m0 2v1m0 9v1m0 32v1M76 21v1m0 21v1m0 1v1m0 44v1m0 8v1M77 14v1m0 11v1m0 17v2m0 16v1M78 21v1m0 2v1m0 1v1m0 28v1m0 30v1M79 14v1m0 9v1m0 22v1m0 2v1M80 21v2m0 3v1M81 20v2M82 19v1m0 27v1m0 11v2M83 1v1m0 13v1m0 27v1m0 43v1M84 25v1m0 22v1m0 15v1m0 32v1M85 48v1m0 23v1m0 8v1m0 17v1M86 7v1m0 29v1m0 38v1M87 53v1m0 10v1m0 1v1m0 5v1m0 3v1M88 76v1m0 9v1M89 0v2m0 39v1m0 33v1M90 18v1m0 43v1m0 9v1m0 3v1M91 17v1m0 21v1m0 38v1m0 1v1m0 1v1m0 11v1M92 29v1m0 16v1m0 16v1m0 9v1M93 12v1m0 9v1m0 2v1m0 7v1m0 9v1m0 7v1m0 27v1M94 51v1m0 18v1m0 7v2m0 8v1m0 5v1M95 37v1m0 3v1m0 7v3m0 20v1m0 5v1M96 37v1M97 54v1m0 4v1m0 31v1M98 3v1m0 38v1m0 13v1m0 30v1m0 11v1M99 12v1m0 4v1m0 72v1"/><path stroke="#222222" d="M0 7v1m0 38v1M1 6v1m0 86v1M2 9v2m0 18v1m0 3v1m0 30v1m0 22v1M3 10v1m0 2v1m0 1v1m0 43v1m0 3v1m0 20v3M4 14v1m0 50v1m0 27v2M5 34v1m0 13v1m0 4v1m0 7v1m0 2v1m0 11v1m0 6v1m0 10v1M6 29v1m0 2v1m0 11v1m0 2v1m0 11v2m0 17v1m0 9v1M7 1v1m0 12v1m0 30v1m0 11v2m0 3v1m0 8v2m0 8v1m0 5v1m0 5v1m0 3v1M8 25v1m0 21v1m0 49v1M9 5v1m0 10v1m0 4v1m0 51v1m0 3v1m0 18v1M10 6v1m0 35v2m0 24v1m0 7v1m0 5v2m0 4v2M11 14v1m0 23v2m0 4v1m0 26v1M12 23v2m0 4v1m0 20v1m0 15v1M13 16v1m0 7v1m0 8v1m0 14v1m0 1v1m0 40v1M14 19v3m0 2v1m0 5v1m0 15v1m0 3v2m0 7v2M15 12v1m0 2v2m0 20v1m0 16v1m0 9v1M16 7v1m0 6v1m0 1v3m0 35v1m0 1v1m0 5v1m0 2v1m0 2v1M17 27v1m0 16v1m0 25v1M18 26v1m0 9v1m0 6v1M19 45v1m0 27v2M20 4v1m0 18v1m0 27v1m0 34v2M21 19v1m0 3v1m0 67v1M22 6v1m0 19v1m0 11v1m0 51v1M23 17v1m0 8v1m0 9v1m0 27v1M24 0v1m0 2v1m0 9v1m0 20v1m0 22v1M25 39v1m0 10v1m0 23v1m0 3v1M26 15v1m0 10v1m0 39v1m0 31v1M27 8v1m0 4v1m0 56v2m0 9v2M28 7v1m0 20v1m0 25v1m0 1v1m0 1v1m0 12v1m0 8v1m0 15v1M29 45v1m0 8v1m0 19v1m0 13v1m0 7v1M30 72v1M31 23v1m0 19v1m0 16v1m0 2v1m0 17v2m0 16v1M32 1v1m0 61v1m0 16v1M33 45v1m0 17v1m0 25v1M34 10v1m0 40v1m0 16v1m0 14v1m0 5v1m0 1v1m0 1v1M35 42v1m0 7v2m0 1v1m0 6v1m0 23v1m0 5v1M36 23v1M37 7v2m0 3v1m0 10v1m0 14v1m0 29v2M38 17v2m0 33v2m0 11v2m0 12v1M39 12v1m0 2v1m0 5v1m0 4v1m0 17v1m0 4v2m0 2v1M40 9v3m0 18v1m0 18v1m0 37v1m0 4v1M41 16v1m0 1v1m0 26v1m0 7v1m0 29v1m0 8v1M42 8v1m0 6v1m0 6v1m0 59v1m0 7v1m0 2v1M43 5v1m0 20v1m0 53v1m0 15v1M44 9v1m0 64v1m0 4v1m0 15v1m0 3v1M45 34v1M46 7v1m0 13v1m0 2v1m0 30v2m0 20v1m0 8v1M47 25v1m0 6v2m0 28v1m0 23v1M48 62v1m0 25v1M49 35v1m0 22v2m0 21v1m0 8v1M50 92v1M51 1v2m0 2v1m0 53v1M52 13v1m0 62v1m0 5v2m0 11v1M53 34v1m0 63v1M54 2v1m0 32v1m0 2v1m0 23v1m0 20v1m0 2v1M55 3v1m0 65v2m0 10v1m0 13v1M56 27v1m0 3v1m0 23v1m0 5v1m0 30v1M57 11v1m0 4v1m0 33v1m0 10v1m0 4v1M58 16v1m0 12v1M59 8v1m0 1v1m0 49v1m0 2v1M60 12v1m0 84v1M61 35v1m0 26v1m0 2v1m0 16v1M63 7v2m0 73v1M64 72v2m0 18v1m0 1v1M65 36v1m0 11v1m0 26v1M66 0v1m0 17v1M68 14v1m0 1v1m0 12v1m0 55v1M69 63v1m0 14v1M70 25v1m0 22v1m0 9v1m0 21v2m0 16v1M71 19v1m0 14v1m0 12v1M72 17v1m0 11v1m0 25v1m0 20v1m0 7v1M73 29v1m0 5v1m0 24v1m0 22v1m0 3v1m0 1v1m0 5v1M74 10v1m0 13v1m0 9v1m0 7v1m0 11v1m0 18v1m0 9v1M75 2v1m0 46v1M76 10v1m0 35v1m0 1v1M77 28v1m0 20v1m0 1v1m0 11v1m0 2v1m0 13v1m0 12v1M78 17v1m0 19v1m0 6v1m0 36v1M79 33v1m0 6v1m0 7v1m0 46v1M80 8v1m0 14v1m0 14v2m0 4v1m0 7v1M82 43v1m0 17v1m0 7v1M83 0v1m0 51v1m0 7v2m0 18v1M84 15v1m0 36v1m0 12v2m0 19v1M85 1v2m0 23v1m0 38v1m0 16v1m0 14v1M86 18v1m0 5v1M87 28v1m0 34v1m0 24v1M88 2v1m0 50v1m0 17v1m0 2v1m0 6v1M89 62v1m0 23v1M90 25v1m0 10v1m0 3v1m0 2v2m0 8v1m0 9v1m0 26v1M91 11v3m0 23v1m0 12v1m0 20v1m0 9v1M92 15v1m0 1v1m0 19v1m0 22v1m0 16v1M93 34v1M94 11v1m0 30v2m0 25v1m0 7v1M95 5v1m0 40v1m0 40v1m0 6v1M96 3v1m0 29v1m0 4v1m0 1v1m0 6v1m0 43v1m0 2v1M97 2v1m0 20v1m0 8v1m0 13v1m0 9v1m0 18v1m0 14v1M98 12v1m0 8v2m0 5v2m0 24v1m0 20v1m0 14v1M99 0v1m0 5v1m0 11v1m0 11v2m0 34v2m0 5v1m0 5v1m0 11v1"/><path stroke="#2c2c2c" d="M0 4v2M1 10v1m0 46v1m0 10v1m0 23v1M2 42v1m0 10v1m0 12v1m0 4v1m0 14v1m0 5v1M3 48v1M4 17v1m0 42v1M5 22v1m0 10v1m0 9v1m0 5v1m0 32v1m0 1v1m0 7v1M6 23v1m0 7v1m0 13v1m0 23v1m0 1v1m0 2v1m0 20v2M7 15v1m0 10v1m0 3v1m0 1v1m0 33v1m0 7v1m0 16v1M8 7v1m0 5v2m0 3v1m0 7v1M9 12v1m0 9v1m0 20v1m0 22v1m0 28v1M10 21v1m0 36v1m0 27v1M11 41v1m0 30v1m0 12v1m0 1v1M12 33v1m0 11v1m0 29v1M13 10v1m0 2v1m0 30v1m0 39v1m0 12v1M14 26v1m0 21v2m0 8v1m0 2v1m0 14v2M15 19v1m0 19v1m0 6v1m0 1v1m0 11v1m0 7v1m0 3v2m0 19v1M16 0v1m0 5v1m0 8v1m0 4v1m0 3v1M17 41v1m0 3v1m0 8v1M18 12v1m0 9v1m0 52v1m0 15v1M19 10v1m0 2v1m0 4v1m0 1v1m0 25v1M20 11v2m0 37v1m0 42v1M21 35v1m0 56v1M22 10v1m0 39v1m0 1v1m0 8v1m0 12v1m0 5v1M23 4v1m0 1v1m0 18v1m0 73v1M24 16v1m0 8v1m0 6v1m0 7v1m0 11v1m0 3v1m0 11v1m0 4v1m0 5v1m0 3v1m0 13v1M25 15v2m0 51v1M26 39v2m0 46v1m0 9v1M27 25v1m0 3v1m0 36v2m0 1v1M28 86v1M29 51v1m0 21v1m0 9v1M30 23v1m0 15v1m0 28v1m0 13v1m0 5v1m0 10v1M31 22v1m0 21v1m0 22v1M32 33v1m0 10v1m0 33v1m0 7v1m0 3v1M33 8v1m0 4v2m0 38v1m0 7v1M34 8v2m0 1v1m0 43v1m0 9v1m0 26v1m0 5v1M35 46v1m0 11v2m0 5v1m0 5v1m0 3v2M36 51v1M37 24v1m0 1v1m0 10v1m0 23v1m0 5v1m0 25v1M38 13v1m0 1v1m0 26v1m0 21v1m0 2v2m0 26v1M39 14v1m0 2v1m0 34v1m0 1v2m0 13v1M40 12v1m0 38v3m0 19v1M41 23v1m0 66v1M42 19v1m0 9v1m0 6v1m0 3v1m0 28v1m0 11v1m0 13v1M43 10v1m0 2v2m0 6v1m0 17v1m0 9v2m0 23v1m0 20v1m0 2v1M44 6v1m0 20v1m0 32v1m0 14v1m0 11v1m0 4v2M45 20v1m0 23v1m0 19v2m0 7v1m0 1v1M46 8v1m0 9v1m0 40v1m0 4v1m0 6v1m0 1v1m0 22v1M47 3v1m0 9v1m0 31v1m0 23v1m0 25v1M48 1v3m0 20v1m0 10v1m0 39v1M50 13v2m0 63v1m0 1v1M51 4v1m0 10v1m0 4v2m0 4v1m0 6v1m0 19v1m0 23v1m0 14v1M52 0v1m0 57v1m0 18v1m0 1v1m0 8v1M53 13v1M54 9v1m0 18v1m0 4v1m0 3v1m0 8v1m0 13v2m0 15v1m0 21v1M55 4v1m0 35v1m0 1v1m0 10v1m0 22v1m0 3v1M56 1v2m0 33v1m0 2v2m0 37v1m0 10v2m0 2v2M57 1v1m0 37v1m0 13v1m0 44v1M58 9v1m0 8v1m0 17v1m0 9v1m0 12v1M59 11v1m0 22v1m0 56v1M60 5v2m0 6v1m0 19v1m0 32v1M61 10v1m0 39v1m0 1v2m0 15v1m0 4v1m0 22v1M62 4v1m0 59v1m0 3v1m0 11v1m0 16v1M63 65v1m0 14v2m0 2v1m0 8v1m0 4v1M64 4v1m0 30v1m0 14v1m0 4v1m0 25v1m0 16v1M65 21v1m0 48v1m0 17v1M66 1v1m0 8v1m0 6v1m0 16v1m0 14v1m0 20v1M67 15v1m0 8v1m0 12v1m0 4v1m0 13v1m0 2v1M68 28v1m0 9v1m0 19v1m0 1v1M69 8v2m0 12v1m0 26v1m0 7v1m0 6v1m0 18v1M70 13v1m0 8v1m0 33v1m0 34v1M71 1v1m0 13v1m0 20v1m0 18v1m0 24v1m0 16v1M72 38v1m0 19v1m0 29v1m0 7v1m0 2v1M73 27v1m0 2v1m0 21v1m0 8v1m0 2v1m0 29v1m0 1v1M74 2v1m0 22v1m0 12v1m0 11v2M75 5v1m0 38v1m0 7v1M76 4v1m0 10v1m0 18v1m0 3v1m0 53v1M77 15v1m0 2v1m0 2v1m0 12v1m0 26v1m0 24v1m0 2v1m0 2v1m0 6v1M78 10v1m0 1v3m0 21v1m0 14v1m0 4v1m0 2v1M79 21v1m0 12v1m0 20v1m0 17v1m0 10v1m0 11v2M80 5v1m0 21v1m0 15v1m0 10v1m0 39v1M81 2v1m0 1v1m0 2v1m0 14v1m0 23v1m0 4v1m0 28v1M82 2v1m0 3v1m0 5v1m0 12v1m0 6v1m0 20v1m0 26v1m0 5v1M83 44v1m0 8v1m0 4v2m0 10v2m0 3v1M84 14v1m0 8v1m0 23v1m0 11v1m0 13v1m0 8v2m0 9v1M85 32v1m0 16v1m0 16v1m0 6v1m0 19v1M86 0v1m0 3v1m0 20v3m0 1v1m0 6v1m0 20v1m0 7v1M87 7v1m0 19v1m0 47v1M88 0v1m0 27v1m0 21v1m0 1v1m0 13v3M89 20v1m0 24v1m0 17v1m0 1v1m0 2v1m0 10v1m0 5v1m0 4v1m0 1v1M90 20v1m0 14v1m0 14v1m0 15v1m0 2v2m0 4v1m0 4v1M91 29v1m0 11v1m0 1v1m0 3v1m0 14v1M92 38v1m0 2v1m0 16v1m0 3v1m0 9v1m0 3v1M93 10v1m0 3v1m0 6v1m0 15v2m0 13v1m0 17v1m0 2v1m0 4v1m0 6v2m0 1v1m0 7v1M94 4v1m0 20v1m0 26v1m0 32v1m0 1v1m0 4v1M95 23v1m0 23v1m0 25v1m0 2v1m0 19v1M96 24v1m0 7v1m0 8v1m0 16v1m0 31v1m0 7v1M97 1v1m0 2v1m0 25v1m0 7v1m0 1v1m0 3v1m0 27v1m0 21v1M98 4v1m0 18v1m0 17v1m0 10v1m0 2v1m0 13v1m0 4v1m0 9v1m0 6v1m0 2v1M99 14v1m0 20v1"/><path stroke="#363636" d="M0 73v1M1 5v1m0 47v1m0 7v1M2 28v1m0 5v2m0 7v1m0 16v1m0 24v1M3 74v1m0 12v1M4 2v1m0 20v1m0 1v1m0 19v2m0 2v1m0 37v1M5 6v1m0 4v2m0 19v1m0 11v1m0 2v1m0 3v1m0 35v1m0 9v1M6 5v1m0 14v1m0 3v1m0 1v1m0 56v1m0 1v1m0 5v1M7 3v1m0 5v1m0 15v1m0 35v1m0 5v1m0 2v1m0 11v1m0 7v1M8 31v1m0 11v1m0 12v2m0 31v1M9 3v1m0 9v1m0 60v1m0 1v1m0 7v1m0 5v1M10 11v3m0 43v1m0 6v1m0 7v1M11 5v1m0 5v1m0 30v1m0 38v1M12 22v1m0 15v1m0 9v1m0 12v1m0 1v2m0 14v1m0 6v1M13 6v1m0 20v1m0 1v1m0 2v1m0 19v1m0 11v2m0 9v1M14 11v1m0 1v1m0 4v1m0 72v1M15 17v1m0 4v1m0 13v1m0 8v1m0 1v1m0 3v1m0 3v1m0 11v1m0 1v1m0 6v1M16 27v1m0 10v1m0 12v1m0 15v1m0 24v1m0 3v1M17 12v1m0 3v1m0 1v1m0 4v1m0 31v1m0 7v1m0 21v1M18 11v1m0 7v1m0 3v1m0 10v1m0 6v1m0 2v2m0 9v1m0 5v1m0 2v1m0 6v1m0 2v1M19 11v1m0 18v1m0 3v1m0 2v1m0 3v1m0 14v1m0 7v1m0 10v1M20 9v1m0 35v1m0 13v1m0 4v3m0 25v1M21 6v2m0 10v1m0 15v1m0 4v1m0 5v1m0 3v1m0 15v1m0 31v1M22 17v1m0 1v1m0 14v1m0 4v1m0 4v1m0 1v1m0 13v1m0 4v1M23 14v2m0 8v1m0 18v1m0 6v1m0 9v1m0 8v1m0 4v1m0 7v1m0 3v2M24 6v1m0 35v1m0 2v1m0 32v1m0 1v1m0 12v1M25 14v1m0 2v1m0 22v1m0 2v1m0 4v1m0 16v1m0 1v1m0 2v1M26 7v2m0 69v2m0 12v1M27 28v1m0 10v1M28 59v1m0 22v1m0 4v1m0 9v1M29 22v1m0 1v1m0 51v1m0 3v1m0 14v1M30 0v1m0 1v2m0 3v1m0 25v1m0 16v1m0 3v1m0 20v1m0 8v2m0 8v1M31 1v2m0 11v1m0 39v1m0 34v1M32 9v1m0 33v1m0 9v1m0 10v1m0 16v1m0 17v1M33 12v1m0 41v1m0 1v1m0 14v1M34 7v1m0 24v1m0 14v1M35 8v1m0 11v1m0 19v1m0 8v1m0 13v1m0 25v1M36 3v1m0 3v1m0 2v1m0 14v1m0 26v1m0 2v1m0 6v1m0 1v1m0 3v1M37 2v1m0 3v1m0 9v1m0 37v1m0 11v1M38 19v1m0 5v1m0 20v1m0 4v1m0 3v2m0 6v1m0 22v2m0 8v1M39 42v1m0 4v1M40 3v1m0 10v1m0 3v1m0 63v2M41 22v1m0 16v1m0 15v2m0 18v1m0 13v1m0 3v1M42 96v1M43 19v1m0 61v1m0 8v1M44 19v1m0 13v2m0 14v1m0 2v1M45 9v1m0 23v1m0 15v1m0 4v2m0 3v1m0 11v1M46 65v1m0 13v1M47 8v1m0 3v1m0 42v1m0 12v1m0 6v1m0 22v1M48 44v1m0 16v1m0 30v1m0 1v1M49 10v1m0 11v1m0 7v1m0 32v1m0 25v1m0 3v1M50 17v1m0 2v1m0 16v1m0 2v1m0 15v1m0 2v1m0 1v2m0 2v1m0 13v1M51 12v1m0 45v1M52 15v1m0 43v1m0 2v1m0 3v1m0 2v2m0 7v1m0 5v1M53 2v1m0 17v1m0 17v1m0 6v1m0 29v1m0 11v1M54 8v1m0 2v1m0 18v1m0 12v1m0 27v1M55 5v1m0 39v1m0 2v1m0 7v1m0 22v1m0 9v2M56 3v1m0 2v1m0 19v1m0 8v1m0 13v1m0 16v1m0 2v1m0 12v1m0 14v1M57 5v1m0 70v1m0 22v1M58 7v1m0 4v1m0 4v1m0 16v1m0 6v1m0 22v1m0 12v2m0 13v1m0 1v1M59 9v1m0 3v1m0 3v1m0 23v1M60 11v1m0 24v1m0 52v1m0 9v1M61 31v1m0 2v1m0 59v1M62 3v1m0 5v1m0 7v1m0 6v1m0 8v1m0 32v1m0 27v1m0 1v1M63 63v1m0 8v2m0 5v1m0 14v3M64 10v1m0 10v1m0 2v2m0 2v1m0 1v1m0 5v1m0 27v2m0 5v1m0 2v1m0 3v1m0 3v1m0 5v1m0 1v1M65 7v2m0 3v1m0 9v1m0 9v1m0 1v1m0 2v1m0 12v1m0 1v1m0 20v1m0 3v2m0 3v1m0 1v1m0 4v1m0 1v1M66 8v1m0 10v1m0 5v1m0 5v2m0 6v1m0 51v1M67 4v2m0 19v1m0 17v1m0 9v1m0 23v1m0 2v1M68 13v1m0 40v1m0 29v1m0 1v1M69 15v1m0 27v1m0 10v1m0 3v1m0 10v1m0 12v1M70 21v1m0 20v1m0 3v2m0 29v1m0 19v1m0 1v1M71 6v1m0 10v1m0 6v1m0 8v1m0 17v1m0 1v1m0 15v1m0 5v1m0 12v1M72 0v1m0 36v1m0 8v1m0 6v2m0 6v1m0 25v1M73 11v1m0 16v1m0 8v1m0 12v1m0 5v1m0 12v1m0 27v2M74 0v1m0 13v1m0 37v2m0 7v1m0 12v1m0 9v1m0 6v1M75 0v2m0 1v1m0 32v1m0 10v1m0 11v1M76 5v1m0 2v1m0 8v1m0 12v1m0 13v1m0 5v2m0 2v1m0 12v1m0 18v1m0 7v1M77 5v1m0 1v1m0 1v1m0 14v1m0 14v1m0 8v1m0 11v1m0 18v1m0 10v1M78 16v1m0 37v1m0 5v1m0 2v1m0 2v1m0 2v1m0 12v1m0 4v2m0 9v1M79 9v1m0 6v1m0 1v1m0 8v1m0 11v1m0 32v1M80 25v1m0 7v1m0 38v2m0 2v1m0 11v1m0 8v1M81 8v1m0 33v1m0 30v1M82 11v1m0 3v1m0 2v1m0 12v1m0 10v1m0 15v1m0 3v1m0 9v1M83 7v1m0 8v1m0 1v1m0 17v1m0 2v1m0 48v1M84 31v1m0 42v1m0 4v1m0 4v1M85 10v2m0 7v1m0 7v1m0 18v1m0 9v2m0 4v1m0 15v1m0 13v1m0 3v1m0 1v1M86 8v2m0 2v1m0 7v1m0 14v1m0 20v1m0 7v1m0 8v1m0 6v1m0 18v1M87 10v1m0 26v1m0 31v1m0 7v1m0 9v1M88 13v1m0 13v1m0 1v1m0 1v1m0 17v1m0 41v1m0 2v1M89 2v1m0 5v1m0 17v1m0 24v1m0 12v1m0 5v1m0 5v1M90 15v1m0 67v1M91 19v1m0 2v1m0 8v1m0 16v1m0 17v2m0 4v1M92 5v1m0 20v1m0 3v1m0 11v1m0 18v1m0 20v1M93 36v1m0 40v1M94 5v1m0 12v1m0 2v1m0 7v1m0 14v1m0 5v1m0 5v1m0 40v1M95 44v2m0 7v1m0 28v1m0 5v1m0 9v1M96 35v1m0 17v1M97 13v1m0 4v1m0 20v1m0 11v2m0 36v1m0 3v1M98 1v1m0 33v1m0 7v1m0 22v1m0 6v1M99 13v1m0 1v1m0 4v1m0 13v1m0 22v1m0 30v1m0 3v1"/><path stroke="#404040" d="M0 3v1m0 21v1m0 1v1m0 3v1m0 24v2m0 36v1M1 4v1m0 15v1m0 5v2m0 1v2m0 12v1m0 15v2m0 11v1m0 13v1m0 4v1m0 4v1M2 7v1m0 14v1m0 1v1m0 11v1m0 1v1m0 26v1m0 6v1M3 8v1m0 19v1m0 16v1m0 53v1M4 1v1m0 14v1m0 9v1m0 23v1m0 1v1m0 6v1m0 2v1m0 5v2M5 10v1m0 54v1m0 1v1m0 12v2m0 9v1M6 4v1m0 11v1m0 13v1m0 6v2m0 7v1m0 10v1m0 3v1m0 1v1m0 8v1M7 5v1m0 31v1m0 11v1m0 15v1m0 7v1m0 4v1m0 17v1m0 1v1M8 28v1m0 12v1m0 24v1m0 14v1m0 8v1M9 2v1m0 54v2m0 30v1M10 2v1m0 11v1m0 5v1m0 6v1m0 6v2m0 8v1m0 3v1m0 2v1m0 1v1m0 13v1m0 1v1m0 7v1m0 3v1m0 3v1M11 24v1m0 3v1m0 20v1m0 14v1m0 10v1m0 6v1M12 17v1m0 10v1m0 5v1m0 7v1m0 4v1m0 1v1m0 15v1m0 12v1m0 1v1m0 3v1m0 9v1M13 15v1m0 9v1m0 15v1m0 3v2m0 12v1m0 2v1m0 3v1M14 25v1m0 2v1m0 12v1m0 3v1m0 8v1m0 18v1m0 8v1m0 13v1M15 18v1m0 1v2m0 3v2m0 23v1m0 2v1m0 2v1m0 13v1m0 23v1M16 5v1m0 19v1m0 18v2m0 11v1m0 23v1m0 12v1M17 17v1m0 7v1m0 6v1m0 13v1m0 15v1m0 9v1m0 9v1M18 8v2m0 3v1m0 19v1m0 12v1m0 35v1M19 26v1m0 4v1m0 10v1m0 8v1m0 11v1m0 8v1M20 8v1m0 1v1m0 8v1m0 4v1m0 11v1m0 1v1m0 22v1m0 1v1m0 7v1m0 1v1m0 24v1M21 11v1m0 34v1m0 4v1m0 9v2m0 9v1M22 2v1m0 30v1m0 3v1m0 19v1m0 21v1M23 0v1m0 15v1m0 32v1m0 3v1m0 5v1m0 6v1m0 13v1m0 16v1M24 21v1m0 11v1m0 1v1m0 22v3m0 9v1M25 44v1m0 24v1m0 12v1m0 2v1M26 0v1m0 12v1m0 13v1m0 24v1m0 21v2m0 6v1m0 1v1m0 1v1m0 1v1M27 7v1m0 43v1m0 6v1m0 29v1m0 6v1M28 4v1m0 3v1m0 4v1m0 10v1m0 27v2m0 12v1m0 7v1m0 10v1m0 2v1m0 5v2M29 4v1m0 1v2m0 15v1m0 1v1m0 8v2m0 8v1m0 13v1m0 6v1m0 2v1M30 1v1m0 41v1m0 11v1m0 4v1m0 5v1m0 13v2m0 9v1M31 0v1m0 32v1m0 1v1m0 2v1m0 14v1m0 7v1m0 2v3m0 24v2M32 0v1m0 9v1m0 13v1m0 11v1m0 2v1m0 14v1m0 5v1m0 4v1m0 13v1m0 5v1M33 0v2m0 7v1m0 31v1m0 1v1m0 47v1m0 7v1M34 21v1m0 12v1m0 8v1m0 25v4M35 6v1m0 54v1m0 7v1m0 12v1m0 4v1m0 10v1M36 32v1m0 12v1m0 4v1m0 19v1m0 6v1m0 5v1m0 9v1M37 9v1m0 3v1m0 5v1m0 5v1m0 15v1M38 0v1m0 13v1m0 8v1m0 19v2m0 16v1m0 7v2m0 5v1m0 1v1M39 40v1m0 27v1m0 9v1m0 7v1M40 31v1m0 4v1m0 7v1m0 9v1m0 1v1m0 2v1m0 24v1M41 6v1m0 6v2m0 6v1m0 2v1m0 11v1m0 11v1m0 12v1m0 8v1m0 2v1m0 8v1m0 3v2m0 8v1M42 11v1m0 6v1m0 1v1m0 20v1m0 7v1m0 26v1m0 14v2M43 8v1m0 2v1m0 8v1m0 7v1m0 2v1m0 1v1m0 55v1M44 4v1m0 3v1m0 16v1m0 43v1m0 1v1m0 16v1m0 2v1M45 3v1m0 6v1m0 7v1m0 37v1m0 3v2m0 1v1m0 16v1m0 5v1m0 12v1M46 19v1m0 6v1m0 8v1m0 10v1m0 7v1m0 5v1m0 2v1m0 21v1M47 42v3m0 11v1m0 8v1m0 12v1m0 17v1M48 0v1m0 14v1m0 9v1m0 12v1m0 6v1m0 13v1m0 10v2m0 4v1M49 0v1m0 7v2m0 10v1m0 45v1m0 24v2M50 5v1m0 21v1m0 10v1m0 2v1m0 11v1M51 3v1m0 12v1m0 2v1m0 5v1m0 1v1m0 50v1m0 17v1M52 25v1m0 8v2m0 25v1m0 27v1M53 0v1m0 2v1m0 32v1m0 9v1m0 16v1m0 1v1m0 11v1m0 7v1M54 0v2m0 8v1m0 7v1m0 26v1m0 1v1m0 1v1m0 5v1m0 9v1m0 4v1m0 7v1m0 17v3M55 25v1m0 1v1m0 22v1m0 36v1m0 5v1m0 5v1M56 0v1m0 4v1m0 1v1m0 17v1m0 2v1m0 1v1m0 1v1m0 4v1m0 29v2m0 6v1m0 10v2m0 11v1M57 32v1m0 18v1m0 15v1m0 23v1m0 1v2M58 13v1m0 1v1m0 24v1m0 7v1m0 18v1m0 27v1m0 1v3M59 12v1m0 9v3m0 5v1m0 6v1m0 4v1m0 23v1m0 23v1m0 7v1M60 32v1m0 4v2m0 5v1m0 19v1M61 1v1m0 2v1m0 4v1m0 2v1m0 19v1m0 8v1m0 1v2m0 4v1m0 10v1m0 32v1m0 2v1M62 0v1m0 11v1m0 22v1m0 23v1m0 1v1m0 5v1m0 13v2m0 10v1M63 0v1m0 12v1m0 11v1m0 6v1m0 22v1m0 15v1m0 11v1m0 1v2m0 5v1M64 7v1m0 12v1m0 8v1m0 3v1m0 17v1m0 6v1m0 40v1M65 9v1m0 9v1m0 9v1m0 3v1m0 6v1m0 25v1m0 12v1m0 3v1m0 9v1M66 7v1m0 28v2m0 5v1m0 4v1M67 10v1m0 6v1m0 11v1m0 19v1m0 36v1m0 12v1M68 2v1m0 21v1m0 9v1m0 22v1m0 3v1m0 7v3m0 1v1M69 7v1m0 6v1m0 1v1m0 4v1m0 4v1m0 34v1m0 3v1m0 4v1m0 4v1m0 5v1M70 18v1m0 16v1m0 17v1m0 15v1M71 0v1m0 4v1m0 14v1m0 18v1m0 19v1m0 1v1m0 6v1m0 10v1m0 5v1M72 5v1m0 4v1m0 10v1m0 42v1m0 2v2M73 26v1m0 12v2m0 12v1m0 22v1m0 7v2m0 2v1m0 4v1M74 13v1m0 9v1m0 16v1m0 14v1m0 16v1m0 2v1m0 6v1m0 7v1m0 1v1M75 9v1m0 12v1m0 1v2m0 20v1m0 4v1m0 3v1m0 2v1m0 2v1m0 20v2m0 11v1M76 3v1m0 5v1m0 9v1m0 8v1m0 7v1m0 2v1m0 26v1m0 8v1m0 19v2M77 13v1m0 3v1m0 37v1m0 9v1m0 21v1m0 10v1M78 11v1m0 3v1m0 14v2m0 1v1m0 7v3m0 35v2m0 8v1M79 6v1m0 5v1m0 7v1m0 14v1m0 2v1m0 2v1m0 11v1m0 2v3m0 15v1m0 2v1m0 20v1M80 2v1m0 11v1m0 13v1m0 5v1m0 11v1m0 8v1m0 36v2m0 1v1M81 0v1m0 2v1m0 10v1m0 4v1m0 12v1m0 20v2M82 20v1m0 3v1m0 29v1m0 13v1m0 1v1M83 4v1m0 6v2m0 7v1m0 3v1m0 32v1m0 6v2m0 3v1m0 6v1m0 7v1M84 0v1m0 5v1m0 6v1m0 3v1m0 6v1m0 8v1m0 17v1m0 1v1m0 18v1m0 23v1M85 14v1m0 6v1m0 25v1m0 4v1m0 5v1m0 2v1m0 1v1m0 13v1M86 54v1m0 4v1m0 8v1m0 2v1m0 9v1M87 6v1m0 2v1m0 1v1m0 6v2m0 16v1m0 9v1m0 18v1m0 4v1m0 3v1m0 3v1M88 18v1m0 16v2m0 4v3m0 1v1m0 17v1M89 37v1m0 8v1m0 2v1m0 19v1m0 1v1m0 2v1m0 2v1m0 3v1m0 15v1M90 7v1m0 18v1m0 10v1m0 4v1m0 18v1m0 15v1M91 6v1m0 7v1m0 1v1m0 17v1m0 7v1m0 6v1m0 1v1m0 21v3m0 7v1m0 15v1M92 0v1m0 9v1m0 23v1m0 1v1m0 6v1m0 5v2m0 1v2m0 5v1m0 11v1m0 9v1m0 1v1m0 14v1M93 15v1m0 8v1m0 7v1m0 2v1m0 3v1m0 10v1m0 12v1m0 5v1m0 2v1m0 3v1m0 10v1m0 7v1M94 10v1m0 2v1m0 39v1m0 10v1m0 8v1m0 24v1M95 22v1m0 1v1m0 4v1m0 3v1m0 2v1m0 1v1m0 9v1m0 9v1m0 18v1m0 21v1M96 29v2m0 8v1m0 10v1m0 9v1m0 4v1M97 12v1m0 2v1m0 10v1m0 1v1m0 6v1m0 19v1m0 15v1m0 4v1m0 22v1M98 2v1m0 13v1m0 13v1m0 14v1m0 22v1m0 2v1m0 11v1m0 1v1m0 6v1M99 5v1m0 20v1m0 23v1m0 5v1m0 6v1m0 1v1m0 4v1m0 11v1"/><path stroke="#535353" d="M0 9v1m0 11v1m0 25v1m0 21v1m0 14v1m0 1v1m0 11v1M1 2v1m0 13v1m0 5v1m0 13v1m0 1v2m0 4v2M2 1v1m0 2v1m0 11v1m0 28v2m0 22v1m0 7v1m0 3v1m0 8v2m0 1v1M3 4v1m0 12v1m0 4v1m0 1v1m0 6v2m0 5v1m0 2v1m0 7v1m0 26v1M4 7v1m0 13v1m0 13v1m0 56v1M5 2v1m0 4v1m0 10v1m0 2v1m0 13v1m0 4v1m0 4v1m0 6v1m0 3v2m0 5v1m0 11v1m0 2v1M6 15v1m0 11v1m0 15v1m0 9v1m0 4v1m0 11v1M7 10v1m0 2v1m0 15v1m0 6v1m0 18v1m0 7v1m0 4v1M8 4v1m0 4v1m0 6v1m0 7v1m0 27v1m0 1v1m0 7v2m0 3v1m0 12v1m0 11v2m0 1v1M9 17v1m0 1v1m0 16v1m0 5v1m0 8v3m0 7v1m0 7v1m0 23v1M10 22v1m0 15v2m0 7v1m0 22v1m0 4v1m0 8v1m0 2v1M11 0v1m0 2v2m0 10v1m0 1v1m0 15v2m0 17v2m0 15v2m0 12v2m0 3v1m0 2v1m0 2v1M12 0v1m0 6v1m0 10v1m0 34v2m0 5v1m0 9v1m0 21v1M13 0v1m0 13v1m0 19v1m0 18v3m0 18v1m0 2v1m0 2v1m0 4v1m0 4v1M14 31v1m0 25v1m0 5v1m0 1v1m0 24v1m0 6v1M15 10v1m0 12v2m0 4v1m0 3v1m0 54v1m0 9v1M16 22v1m0 23v2m0 23v2m0 25v1M17 1v1m0 19v1m0 6v1m0 22v1m0 13v1m0 20v1M18 6v2m0 21v1m0 24v1m0 3v1m0 24v1m0 6v1m0 1v1m0 3v1m0 2v1M19 23v1m0 1v1m0 6v1m0 7v1m0 2v1m0 8v1m0 16v1m0 21v1m0 1v1m0 4v2M20 27v2m0 11v1m0 2v1m0 2v1m0 15v1m0 28v1m0 2v2m0 1v1M21 1v2m0 5v1m0 1v1m0 9v1m0 5v1m0 1v1m0 11v1m0 3v1m0 21v1m0 19v1m0 11v1M22 20v1m0 6v1m0 12v2m0 14v1m0 20v2m0 8v1m0 11v1M23 7v1m0 1v1m0 17v2m0 4v1m0 5v1m0 4v1m0 1v1m0 30v1m0 12v1M24 2v1m0 5v1m0 15v1m0 12v1m0 6v1m0 24v1m0 1v1m0 3v1m0 5v1m0 3v1m0 6v1M25 2v1m0 5v1m0 2v1m0 19v2m0 1v1m0 3v1m0 6v1m0 20v1m0 20v2m0 3v1M26 11v1m0 4v1m0 27v1m0 3v1m0 27v2m0 7v1M27 27v1m0 10v1m0 4v2m0 32v1m0 5v1m0 1v1m0 1v1m0 1v1M28 6v1m0 5v1m0 13v2m0 3v1m0 2v1m0 30v1m0 11v1m0 15v1M29 5v1m0 20v1m0 3v1m0 8v1m0 8v1m0 3v1m0 37v1M30 6v1m0 25v1m0 34v1m0 5v1m0 2v1m0 21v1M31 6v1m0 6v1m0 28v1m0 27v1m0 22v1m0 4v1M32 2v2m0 4v1m0 2v2m0 32v1m0 9v1m0 5v1m0 13v1m0 15v1M33 2v2m0 32v1m0 3v1m0 18v2m0 9v1m0 4v1m0 4v1M34 3v2m0 15v1m0 1v1m0 18v1m0 6v1m0 10v1m0 6v1m0 18v1M35 3v1m0 20v1m0 14v1m0 7v1m0 26v1M36 13v1m0 8v1m0 31v1m0 5v1m0 8v1m0 20v1m0 1v1m0 1v1M37 33v2m0 7v2m0 3v1m0 2v1m0 12v2m0 8v1m0 3v1m0 4v2m0 10v1M38 5v1m0 42v1m0 8v1m0 22v1m0 8v1m0 2v1M39 18v1m0 37v1m0 5v1m0 24v2m0 8v1M40 27v1m0 11v1m0 3v1m0 6v1m0 30v1m0 3v1m0 2v1m0 7v1M41 27v1m0 2v1m0 9v1m0 13v1m0 33v1m0 6v1M42 1v1m0 7v1m0 11v1m0 1v1m0 8v2m0 3v1m0 36v1m0 22v1M43 40v1m0 7v1m0 7v1m0 10v1M44 10v1m0 1v1m0 8v1m0 8v1m0 13v1m0 8v1m0 8v2m0 32v3M45 4v1m0 2v1m0 42v1m0 26v1m0 19v1M46 4v1m0 4v1m0 10v1m0 1v1m0 9v1m0 11v1m0 8v1m0 4v1M47 0v1m0 5v1m0 47v1m0 2v2m0 1v1M48 14v1m0 4v1m0 2v1m0 7v1m0 10v1m0 1v1m0 4v1m0 5v1m0 13v1m0 3v2m0 12v1m0 11v1M49 1v1m0 9v1m0 2v1m0 3v2m0 63v1M50 18v1m0 62v1m0 6v2m0 4v1m0 1v1M51 17v1m0 4v1m0 16v1m0 21v2m0 5v1m0 15v1m0 4v1m0 3v1M52 4v2m0 2v1m0 22v2m0 8v1m0 10v1m0 18v1m0 8v2m0 5v1m0 6v1m0 1v1m0 2v1M53 7v1m0 16v1m0 35v1m0 15v1m0 3v1m0 14v1M54 6v2m0 4v1m0 2v1m0 1v1m0 6v1m0 19v1m0 18v1m0 2v1m0 1v1m0 3v1m0 6v1m0 4v2m0 8v1M55 0v1m0 5v1m0 27v1m0 1v1m0 30v2m0 3v1m0 2v1m0 7v1m0 8v1m0 1v1M56 4v1m0 28v2m0 28v1m0 12v1m0 8v1m0 2v1m0 2v1m0 3v1M57 18v1m0 6v2m0 11v1m0 13v1m0 15v1m0 4v1m0 16v1M58 23v1m0 8v2m0 15v1m0 8v1m0 1v1m0 2v1m0 21v1M59 5v1m0 19v1m0 1v2m0 17v1m0 12v1m0 7v2m0 15v1m0 7v1m0 2v1M60 4v1m0 4v1m0 6v1m0 2v1m0 25v1m0 16v1m0 2v1m0 5v1m0 7v2m0 15v1m0 1v1M61 20v1m0 16v1m0 13v1m0 4v1m0 6v1m0 8v2m0 24v1M62 2v1m0 10v1m0 17v2m0 14v2m0 3v1m0 2v1m0 16v2m0 2v1m0 22v1M63 10v1m0 8v1m0 3v2m0 6v1m0 12v1m0 5v1m0 6v1M64 22v2m0 20v1m0 3v1m0 8v1m0 10v1m0 6v1m0 19v1m0 1v1M65 3v1m0 6v1m0 5v2m0 7v1m0 13v1m0 1v1m0 13v1m0 29v1M66 9v1m0 6v1m0 9v1m0 18v1m0 5v2m0 4v1m0 15v1m0 4v1M67 22v1m0 3v3m0 7v1m0 11v1m0 6v1m0 9v1m0 26v1M68 3v1m0 6v1m0 6v1m0 3v1m0 4v1m0 5v1m0 32v1m0 2v1m0 5v1m0 4v1m0 1v1m0 7v3M69 1v1m0 15v1m0 9v1m0 27v1m0 15v1m0 4v1m0 15v1m0 5v1M70 1v1m0 1v1m0 15v1m0 3v1m0 2v1m0 6v1m0 9v1m0 1v1m0 3v1m0 14v1m0 5v1m0 19v1M71 12v1m0 8v1m0 4v1m0 2v1m0 18v1m0 1v1m0 23v1M72 8v1m0 2v3m0 13v1m0 4v1m0 3v1m0 34v2M73 24v1m0 7v1m0 8v2m0 15v1m0 3v2m0 4v1m0 1v1m0 28v1M74 15v1m0 12v1m0 12v1m0 44v1M75 6v1m0 9v1m0 13v1m0 6v1m0 4v1m0 10v1m0 11v1m0 3v1m0 11v1m0 17v1M76 2v1m0 8v1m0 13v1m0 1v1m0 9v1m0 14v1m0 5v1m0 1v2m0 23v1M77 3v1m0 23v1m0 1v1m0 5v2m0 6v1m0 41v1M78 22v1m0 5v1m0 6v1m0 40v1M79 5v1m0 16v2m0 8v1m0 3v1m0 34v1m0 3v1m0 9v1m0 2v1m0 4v1M80 1v1m0 45v1m0 20v1m0 5v1m0 2v1M81 27v1m0 20v1m0 9v1m0 5v1m0 7v1M82 13v1m0 2v1m0 18v1m0 2v1m0 9v1m0 27v1m0 2v1m0 10v1M83 2v1m0 7v1m0 8v1m0 3v1m0 2v1m0 5v1m0 5v1m0 3v1m0 2v1m0 8v1m0 7v1m0 4v1m0 11v1M84 4v1m0 14v2m0 17v3m0 9v1m0 5v3m0 12v1M85 30v1m0 6v1m0 6v2m0 9v1m0 11v1m0 11v1m0 3v1m0 1v1m0 1v1M86 14v1m0 2v1m0 13v1m0 52v1m0 2v3M87 0v1m0 1v1m0 9v1m0 3v2m0 3v1m0 8v1m0 2v1m0 7v1m0 7v1m0 30v1M88 5v1m0 3v1m0 14v2m0 4v1m0 6v1m0 8v1m0 1v1m0 13v1m0 16v1m0 8v1m0 3v2M89 14v1m0 9v2m0 8v1m0 3v1m0 20v1m0 13v1m0 13v1m0 1v1M90 6v1m0 27v1m0 13v2m0 15v1m0 18v1m0 2v1m0 8v2M91 27v1m0 18v1m0 5v1m0 6v2m0 4v1m0 4v1m0 19v1M92 1v1m0 1v1m0 10v1m0 3v1m0 14v1m0 1v1m0 11v2m0 7v1m0 7v1m0 4v2m0 16v1m0 1v1M93 2v1m0 6v1m0 19v1m0 19v1m0 3v1m0 2v1m0 1v1m0 22v1m0 2v1M94 3v1m0 16v1m0 13v2m0 19v1m0 5v2m0 2v1M95 17v1m0 7v1m0 2v1m0 30v1m0 1v1m0 3v1m0 3v1m0 22v1M96 2v1m0 8v1m0 7v1m0 3v1m0 20v1m0 16v1m0 13v1m0 2v1m0 10v1m0 2v2m0 5v1M97 22v1m0 1v1m0 6v1m0 18v1m0 18v1M98 0v1m0 14v1m0 18v1m0 1v2m0 48v1M99 1v1m0 34v1m0 7v1m0 19v1m0 9v1m0 3v1m0 10v1"/><path stroke="#5d5d5d" d="M0 17v1m0 14v1m0 10v1m0 15v1m0 6v1m0 32v1M1 1v1m0 1v1m0 33v1m0 24v1m0 18v1M2 18v1m0 11v1m0 6v1m0 1v2m0 3v1m0 33v1m0 5v1m0 10v2M3 2v1m0 27v1m0 8v1m0 18v1m0 36v1m0 1v2M4 10v1m0 4v1m0 6v1m0 13v2m0 2v1m0 26v1m0 22v1m0 7v1M5 19v1m0 6v1m0 2v1m0 24v2m0 23v1m0 16v1M6 2v1m0 16v1m0 34v2m0 8v1m0 1v1m0 9v1M7 12v1m0 4v1m0 9v1m0 5v1m0 65v1M8 0v1m0 38v1m0 13v1m0 5v1m0 14v1m0 4v1m0 4v1M9 4v1m0 3v1m0 6v1m0 24v2m0 6v1m0 1v1m0 3v1m0 1v1m0 18v1m0 2v1m0 15v1M10 1v1m0 27v1m0 30v1m0 13v1m0 3v1m0 11v1m0 2v2M11 18v2m0 3v1m0 3v1m0 4v1m0 13v1m0 9v1m0 6v1m0 29v1M12 4v1m0 4v1m0 31v1m0 32v1m0 6v1m0 17v1M13 18v1m0 2v1m0 13v2m0 30v1m0 30v1M14 5v1m0 27v2m0 1v1m0 16v1m0 15v2m0 12v1m0 1v1m0 7v1M15 0v1m0 6v3m0 17v1m0 24v1m0 18v1m0 2v1m0 6v2m0 8v1M16 3v1m0 4v1m0 14v1m0 8v1m0 19v1m0 17v1m0 4v1m0 10v1M17 0v1m0 13v1m0 32v1m0 2v1m0 15v2m0 5v2m0 5v1M18 21v1m0 29v1m0 5v1m0 2v1m0 4v1m0 6v1m0 5v1m0 15v2M19 54v1m0 4v1m0 11v1m0 11v1m0 3v4m0 1v1M20 29v1m0 3v1m0 7v1m0 2v1m0 8v1m0 2v1m0 18v1M21 0v1m0 8v1m0 27v2m0 14v1m0 3v1m0 5v2m0 10v1m0 8v1m0 3v1M22 0v1m0 10v1m0 2v1m0 43v2m0 6v1m0 9v1m0 11v1M23 3v1m0 4v1m0 4v1m0 18v1m0 2v1m0 4v1m0 1v1m0 33v1m0 6v2m0 6v1m0 2v1M24 65v1m0 24v1M25 9v1m0 9v1m0 7v1m0 32v1m0 20v1m0 1v1M26 1v1m0 4v1m0 18v1m0 2v1m0 1v1m0 6v1m0 12v1m0 10v2M27 48v1m0 3v1m0 1v1m0 5v1m0 3v1m0 13v1m0 15v1M28 11v1m0 20v1m0 5v1m0 11v2M29 13v2m0 23v1m0 1v1m0 12v1m0 17v1m0 5v1m0 21v1M30 4v1m0 3v1m0 15v1m0 27v1m0 3v1m0 32v1M31 12v1m0 13v1m0 23v1m0 18v1m0 1v1m0 1v2m0 3v1m0 11v1M32 25v1m0 14v1m0 18v1m0 27v1M33 10v1m0 53v1m0 1v1m0 5v1m0 10v2M34 1v1m0 38v1m0 9v1m0 5v1m0 10v1m0 13v1M35 7v1m0 15v1m0 1v2m0 10v1m0 32v1m0 6v1m0 8v1m0 1v1M36 6v1m0 14v1m0 4v1m0 7v1m0 2v1m0 8v1m0 14v1m0 4v1m0 11v1m0 1v1m0 5v1M37 3v2m0 22v1m0 17v1m0 2v2m0 5v1m0 20v1m0 20v1M38 4v1m0 7v1m0 9v1m0 1v1m0 9v2m0 4v1m0 17v1m0 14v1m0 3v1m0 12v1M39 0v1m0 2v1m0 5v1m0 6v1m0 11v1m0 2v1m0 1v1m0 30v1m0 8v1m0 15v1m0 3v1m0 2v1M40 8v1m0 6v1m0 13v1m0 5v1m0 21v1m0 4v1m0 12v1m0 19v1M41 5v1m0 26v3m0 6v2m0 1v1m0 21v1m0 5v1m0 3v1m0 7v1m0 14v1M42 10v1m0 24v1m0 19v1m0 29v1M43 18v1m0 3v1m0 7v1m0 6v1m0 19v1m0 10v1m0 10v1m0 6v1m0 1v1M44 3v1m0 14v1m0 12v1m0 13v1m0 1v1m0 10v1m0 5v1m0 13v1m0 10v2M45 0v1m0 4v1m0 6v1m0 22v1m0 10v1m0 25v1m0 17v1m0 3v1M46 5v2m0 54v1m0 4v1m0 22v2m0 2v1m0 3v3M47 9v1m0 26v1m0 11v1m0 4v1m0 27v1m0 2v1m0 12v1M48 6v1m0 20v1m0 5v1m0 13v1m0 16v1m0 17v2M49 5v1m0 22v1m0 16v1m0 1v1m0 9v1m0 22v1m0 3v1m0 3v1m0 5v1m0 2v1m0 1v1M50 15v1m0 3v1m0 15v1m0 9v1m0 17v1m0 21v1M51 6v1m0 4v1m0 16v1m0 5v1m0 11v2m0 4v1m0 11v1m0 1v1m0 13v1m0 7v1m0 1v1m0 3v1M52 2v1m0 17v1m0 15v1m0 10v1m0 19v1m0 17v1M53 4v1m0 3v1m0 17v2m0 7v1m0 28v1m0 3v1m0 1v1m0 8v1m0 8v1M54 5v1m0 10v1m0 2v1m0 5v1m0 67v1M55 17v2m0 11v2m0 11v1m0 8v1m0 5v2m0 17v1M56 20v2m0 16v1m0 20v1M57 6v1m0 1v1m0 4v1m0 15v1m0 28v1m0 6v1m0 3v3m0 10v1m0 6v1m0 6v1M58 1v1m0 12v1m0 10v1m0 46v1m0 3v1m0 4v1M59 19v1m0 9v1m0 3v1m0 4v1m0 6v1m0 31v1m0 2v1m0 16v1m0 1v1M60 2v1m0 17v1m0 1v1m0 3v1m0 3v1m0 39v1m0 1v1m0 18v1m0 3v1M61 0v1m0 7v1m0 13v1m0 6v1m0 6v1m0 3v1m0 14v1m0 5v1m0 8v1m0 12v1m0 15v1M62 7v1m0 6v1m0 1v1m0 1v1m0 4v1m0 29v1m0 2v1m0 5v1m0 21v1M63 1v1m0 4v1m0 32v1m0 16v1m0 17v1M64 5v1m0 2v1m0 8v3m0 66v1M65 5v1m0 9v1m0 2v1m0 5v1m0 5v1m0 25v1m0 11v1m0 7v1M66 6v1m0 15v1m0 17v1m0 3v1m0 2v1m0 2v1m0 2v1m0 2v1m0 6v1m0 3v1m0 3v1m0 2v1m0 9v1m0 2v2m0 10v1M67 0v1m0 32v1m0 6v2m0 22v1m0 6v1m0 22v1M68 5v1m0 1v1m0 1v1m0 15v1m0 16v3m0 8v1m0 10v1m0 1v2m0 8v1m0 22v1M69 0v1m0 9v1m0 18v1m0 3v1m0 2v1m0 8v1m0 7v1m0 2v1m0 2v1m0 8v1m0 4v1m0 5v2m0 16v1M70 11v1m0 8v1m0 9v1m0 5v1m0 1v2m0 12v1M71 8v1m0 14v1m0 1v1m0 28v1m0 12v1m0 15v1M72 9v1m0 9v1m0 5v1m0 24v1m0 40v1m0 1v1M73 0v1m0 65v1m0 4v2M74 3v2m0 13v1m0 25v1m0 4v1m0 12v1m0 2v1m0 2v1m0 27v2M75 18v1m0 7v1m0 11v2m0 5v1m0 2v1m0 25v1M76 14v1m0 8v1m0 16v1m0 1v1m0 22v1m0 3v1m0 4v1m0 1v1m0 1v1m0 2v1M77 2v1m0 44v1m0 5v1m0 2v1m0 15v1m0 22v1M78 6v2m0 1v1m0 13v1m0 33v1m0 25v1M79 11v1m0 17v3m0 10v3m0 4v1m0 9v1m0 8v1m0 11v1m0 6v1M80 6v2m0 24v1m0 29v1m0 4v1m0 1v1m0 10v1M81 5v1m0 3v1m0 40v1m0 15v1m0 3v1m0 5v1m0 16v1M82 3v1m0 3v1m0 18v1m0 12v2m0 16v1m0 5v1m0 7v1m0 10v1m0 2v1m0 2v1m0 2v1M83 13v1m0 17v1m0 8v1m0 6v1m0 1v1m0 5v2m0 6v1m0 10v1m0 15v2m0 5v1M84 12v1m0 9v1m0 22v2M85 7v1m0 4v1m0 3v1m0 11v1m0 9v1m0 15v1m0 15v1m0 17v1M86 3v1m0 43v1m0 21v2m0 12v1m0 14v1M87 1v1m0 2v1m0 8v1m0 11v1m0 28v1m0 6v2m0 10v1m0 5v1m0 2v2M88 8v1m0 3v1m0 1v1m0 19v1m0 9v1m0 20v1m0 3v1m0 8v1m0 3v1m0 1v1m0 13v1M89 15v1m0 11v1m0 7v1m0 21v1m0 9v1m0 10v1m0 4v1m0 12v1M90 2v1m0 21v1m0 5v2m0 1v1m0 5v1m0 6v2m0 6v1m0 19v1m0 3v1m0 3v1m0 11v2M91 7v1m0 2v1m0 15v1m0 5v1m0 12v1m0 31v1m0 15v1M92 24v1m0 26v1m0 22v1m0 9v1m0 3v1m0 4v1M93 4v1m0 13v1m0 21v2m0 17v1m0 15v1m0 21v1M94 9v1m0 7v1m0 13v1m0 17v1m0 4v1m0 13v1m0 2v1m0 8v2M95 9v1m0 1v1m0 8v1m0 9v1m0 9v1m0 21v3m0 10v1M96 1v1m0 3v1m0 7v1m0 17v1m0 2v1m0 20v1m0 7v2m0 16v1m0 13v1M97 11v1m0 4v1m0 20v1m0 5v1m0 3v1m0 16v1m0 2v1m0 5v2m0 2v2m0 8v1m0 4v1M98 5v3m0 5v2m0 5v1m0 17v1m0 1v1m0 9v1m0 13v1m0 11v1M99 2v2m0 29v1m0 9v1m0 8v2m0 21v1"/><path stroke="#676767" d="M0 1v1m0 35v4m0 7v1m0 3v1m0 22v2m0 6v1M1 14v1m0 4v1m0 11v1m0 1v2m0 11v1m0 4v1m0 3v1m0 21v1m0 1v1m0 4v1m0 2v1m0 9v1m0 1v1M2 25v1m0 5v1m0 9v1m0 6v2m0 1v1m0 2v1m0 2v1m0 22v1m0 7v1m0 10v1M3 16v1m0 16v1m0 1v3m0 12v1m0 10v1m0 2v1m0 3v1m0 2v1m0 9v1m0 1v1M4 0v1m0 19v1m0 9v1m0 10v1m0 32v1m0 4v1m0 16v2M5 4v1m0 4v1m0 21v1m0 30v1m0 3v1m0 10v1m0 17v1M6 6v1m0 1v1m0 8v1m0 38v1m0 20v1M7 2v1m0 13v1m0 25v1m0 26v1m0 10v1m0 5v1m0 1v1m0 5v1M8 6v1m0 8v1m0 13v1m0 10v1m0 7v1m0 20v1m0 3v1M9 0v1m0 10v1m0 17v1m0 2v1m0 2v1m0 1v1m0 1v1m0 9v1m0 5v1m0 6v1m0 1v1m0 3v1m0 1v1m0 11v1m0 3v2m0 9v1M10 9v1m0 20v1m0 49v1M11 16v1m0 26v1m0 3v1m0 7v1m0 1v1m0 15v2m0 24v1M12 56v1M13 49v1m0 26v1m0 1v1M14 32v1m0 19v1m0 3v1m0 10v1m0 10v1m0 7v1m0 2v1M15 11v1m0 30v1m0 6v1m0 12v1m0 20v1m0 11v1M16 80v1m0 18v1M17 2v1m0 1v1m0 4v1m0 5v1m0 15v1m0 1v1m0 19v1m0 6v2m0 27v1m0 3v1M18 24v1m0 5v1m0 6v1m0 9v1m0 15v1m0 2v1M19 5v1m0 8v1m0 6v1m0 2v1m0 14v1m0 13v1m0 16v1m0 13v1m0 9v2M20 3v1m0 18v1m0 9v1m0 2v1m0 3v1m0 44v1m0 4v1m0 6v1M21 32v1m0 15v1m0 7v1m0 17v1m0 10v1m0 4v1m0 2v1M22 32v1m0 3v1m0 14v1m0 12v1m0 8v1m0 22v1M23 21v1m0 26v1m0 14v1m0 9v1m0 4v2M24 28v1m0 2v1m0 4v1m0 1v1m0 2v1m0 5v1m0 13v1m0 29v1m0 4v1M25 3v1m0 3v1m0 2v1m0 35v1m0 11v1M26 9v1m0 13v1m0 17v1m0 1v1m0 1v1m0 5v1m0 1v1m0 1v1m0 14v1m0 2v1m0 7v1m0 17v1M27 12v1m0 2v1m0 19v1m0 21v1m0 1v1m0 5v1m0 18v1m0 1v1m0 6v1M28 21v3m0 5v1m0 9v2m0 32v1M29 0v3m0 17v1m0 11v2m0 15v2m0 8v1m0 1v1m0 27v1M30 5v1m0 20v1m0 4v1m0 47v1M31 4v1m0 6v1m0 4v1m0 2v1m0 25v1m0 16v1m0 9v1m0 2v1m0 18v1M32 50v1m0 5v1m0 20v1m0 18v1M33 11v1m0 9v1m0 46v1m0 23v1m0 1v1m0 1v2M34 6v1m0 5v2m0 1v1m0 19v1m0 51v1m0 7v1M35 2v1m0 2v1m0 5v1m0 7v1m0 1v1m0 9v1m0 4v1m0 19v2m0 15v1m0 6v1m0 18v1M36 5v1m0 27v1m0 1v1m0 17v1m0 2v2m0 23v2m0 1v1m0 12v1M37 21v1m0 24v1m0 4v1m0 4v1m0 23v1m0 6v1m0 2v2M38 7v2m0 2v1m0 16v1m0 12v1m0 7v2m0 20v1m0 2v1m0 19v1M39 7v1m0 35v1m0 16v1m0 9v1m0 3v1m0 4v1m0 3v1m0 1v1m0 6v1M40 13v1m0 9v1m0 13v1m0 17v1m0 11v1m0 4v1m0 17v1M41 31v1m0 3v1m0 21v1M42 0v1m0 15v1m0 7v1m0 1v1m0 36v3m0 14v1m0 8v1m0 8v1M43 38v1m0 6v1m0 6v1m0 8v1m0 10v2m0 10v1M44 7v1m0 16v1m0 11v1m0 5v1m0 12v2m0 28v1M45 13v1m0 7v1m0 1v1m0 3v1m0 19v1m0 3v1m0 6v1m0 7v1m0 20v1m0 1v1M46 1v1m0 11v1m0 3v1m0 5v1m0 38v1m0 13v1m0 15v1M47 5v1m0 8v2m0 22v1m0 7v1m0 14v1m0 37v1M48 7v2m0 3v2m0 17v1m0 35v1m0 29v1m0 1v1M49 23v2m0 6v1m0 35v1m0 6v1m0 3v1m0 6v1m0 12v1M50 6v1m0 1v1m0 37v1m0 13v1m0 13v1m0 7v1m0 1v1m0 10v1M51 65v1m0 19v1m0 5v1M52 3v1m0 7v1m0 6v1m0 3v1m0 14v1m0 7v1m0 22v1m0 22v2M53 10v1m0 5v2m0 7v1m0 21v1m0 26v1m0 14v1m0 1v2m0 1v1m0 1v1M54 23v1m0 18v1m0 21v1m0 23v1m0 1v1m0 1v1M55 10v1m0 4v1m0 3v1m0 31v1m0 8v2m0 9v1m0 6v1m0 5v1m0 12v1M56 19v1m0 9v1m0 11v2m0 1v1m0 11v1m0 13v1m0 12v1M57 7v1m0 7v1m0 5v1m0 2v1m0 16v1m0 2v1m0 27v1M58 2v1m0 18v1m0 20v1m0 2v1m0 22v1m0 15v1m0 1v1m0 3v1M59 0v1m0 1v1m0 11v1m0 6v1m0 17v1m0 12v1m0 16v1m0 1v1M60 17v1m0 5v2m0 2v1m0 3v1m0 18v1m0 25v1m0 16v1M61 2v1m0 12v1m0 12v1m0 4v1m0 4v1m0 3v1m0 34v1m0 8v1m0 1v1M62 25v1m0 20v1m0 7v1m0 5v1m0 16v1m0 5v1m0 1v1m0 1v1m0 7v1M63 16v2m0 3v1m0 7v1m0 15v1m0 2v1m0 9v1m0 7v1m0 24v1M64 1v1m0 7v1m0 6v1m0 21v1m0 15v1m0 4v1m0 23v1M65 13v1m0 12v1m0 4v1m0 33v1m0 14v2m0 5v1m0 9v1M66 4v1m0 9v2m0 8v1m0 2v1m0 5v1m0 24v1m0 5v2m0 3v1m0 5v1M67 8v1m0 4v1m0 9v1m0 7v1m0 12v1m0 9v1m0 3v1m0 7v1m0 5v1m0 1v1m0 3v1m0 4v1m0 7v1m0 6v1M68 1v1m0 10v1m0 10v1m0 6v1m0 14v1m0 31v1m0 4v1M69 6v1m0 6v1m0 18v1m0 15v1m0 17v1m0 17v1m0 11v1M70 0v1m0 3v1m0 22v1m0 3v1m0 12v1m0 17v1m0 13v1m0 6v1m0 5v1m0 2v1m0 3v1M71 31v1m0 9v1m0 2v1m0 4v1m0 14v1m0 8v1m0 12v1m0 5v1M72 1v1m0 2v1m0 15v1m0 1v1m0 25v1m0 14v1m0 15v1M73 1v1m0 12v2m0 1v1m0 2v2m0 35v1m0 21v1m0 12v1M74 11v1m0 25v1m0 5v1m0 1v1m0 1v1m0 11v1m0 4v1m0 4v1m0 15v1M75 10v1m0 1v2m0 42v1m0 7v1m0 8v1m0 1v1m0 1v1m0 18v1m0 1v1M76 0v1m0 17v1m0 7v1m0 5v1m0 31v1m0 5v1m0 16v1M77 31v1m0 8v1m0 5v1m0 22v1m0 3v2m0 6v1m0 9v1M78 3v1m0 1v1m0 2v1m0 23v1m0 6v2m0 52v1m0 2v1M79 2v2m0 3v1m0 52v1m0 17v1M80 29v1m0 10v1m0 8v1m0 6v3m0 25v1m0 2v1m0 1v1M81 23v1m0 5v2m0 3v1m0 1v1m0 2v1m0 1v1m0 5v1m0 9v1m0 1v1m0 1v2m0 14v2m0 4v1m0 3v2m0 1v1m0 3v1m0 1v1M82 14v1m0 35v1m0 13v1m0 12v2m0 16v3M83 8v1m0 16v1m0 24v1m0 30v1m0 1v1m0 5v1m0 2v1M84 42v1m0 1v1m0 47v1m0 5v1M85 6v1m0 44v1m0 22v1m0 1v1m0 9v1M86 6v1m0 6v1m0 32v1m0 8v1m0 7v1m0 18v1m0 7v1m0 3v1M87 8v1m0 17v1m0 18v1m0 1v1m0 2v1m0 5v1m0 3v1M88 19v1m0 27v1m0 8v2m0 1v1m0 39v1M89 4v1m0 7v1m0 3v1m0 11v1m0 11v1m0 7v1m0 12v1m0 4v1M90 11v1m0 9v1m0 38v1m0 25v1m0 5v1M91 8v1m0 12v1m0 6v1m0 4v1m0 20v1m0 3v1m0 9v1m0 18v1M92 2v1m0 51v1m0 20v1M93 8v1m0 7v2m0 80v1M94 6v1m0 21v1m0 1v1m0 5v1m0 1v1m0 6v1m0 2v1m0 9v1m0 27v1m0 2v1M95 6v1m0 1v1m0 3v1m0 6v1m0 15v1m0 3v1m0 3v1m0 12v1m0 13v2M96 14v1m0 10v1m0 31v1m0 10v1m0 8v1m0 10v1M97 19v1m0 29v1m0 10v1m0 4v1m0 18v2m0 11v1M98 48v2m0 15v1m0 13v1M99 11v1m0 30v1"/><path stroke="#717171" d="M0 2v1m0 12v2m0 55v1m0 1v1m0 2v2m0 16v1M1 0v1m0 49v1m0 3v1m0 1v1m0 12v1m0 1v1m0 6v1m0 9v1M2 0v1m0 46v1m0 2v1m0 28v1M3 0v2m0 18v2m0 18v1m0 13v1m0 10v1m0 3v1m0 10v1m0 9v3M4 29v1m0 4v1m0 3v1m0 24v1m0 9v1M5 1v1m0 11v1m0 44v1m0 13v1m0 15v1M6 0v1m0 10v1m0 6v1m0 16v1m0 3v1m0 33v1m0 5v1m0 19v1M7 21v1m0 2v1m0 13v1m0 40v1M8 5v1m0 6v1m0 19v1m0 5v1m0 12v1m0 16v1m0 1v1m0 7v1m0 19v2M9 14v1m0 15v2m0 2v1m0 12v1m0 15v1m0 3v1m0 31v1M10 8v1m0 9v1m0 4v1m0 4v1m0 7v1m0 9v1m0 14v1m0 1v1M11 6v2m0 2v1m0 9v1m0 10v1m0 28v1m0 1v1m0 29v1M12 2v1m0 3v1m0 28v1m0 3v1m0 29v1m0 15v1M13 7v1m0 32v1m0 15v3m0 27v1m0 2v1m0 6v1M14 9v1m0 32v1m0 19v1m0 8v1m0 15v1m0 6v1M15 2v2m0 26v1m0 9v1m0 24v1m0 18v1m0 4v1M16 9v1m0 18v1m0 4v1m0 1v1m0 5v1m0 16v1m0 2v1m0 25v1m0 7v1M17 8v1m0 25v1m0 42v3m0 1v1m0 5v1M18 4v1m0 9v1m0 2v1m0 20v1m0 10v1m0 3v1m0 8v1M19 4v1m0 30v1m0 8v1m0 2v2m0 13v1m0 3v3m0 17v1M20 0v1m0 16v1m0 7v1m0 22v1m0 5v2m0 11v1m0 31v1M21 21v1m0 2v1m0 8v1m0 46v1M22 55v1m0 6v1m0 29v1m0 2v1M23 11v1m0 77v1m0 6v1M24 9v1m0 12v2m0 31v1m0 10v1m0 5v1M25 0v1m0 3v1m0 1v1m0 30v1m0 33v1m0 27v1M26 24v1m0 6v1m0 6v1m0 19v2m0 20v1M27 21v1m0 10v1m0 4v1m0 2v1m0 9v1m0 10v1m0 17v2M28 3v1m0 79v1m0 5v2M29 60v1m0 36v1M30 12v2m0 2v1m0 1v2m0 18v1m0 6v1m0 16v1m0 33v1M31 9v1m0 11v1m0 2v1m0 21v1m0 2v1m0 9v1m0 23v1m0 12v2M32 4v1m0 16v1m0 24v1m0 4v1m0 14v1m0 6v1m0 2v1m0 16v1M33 4v1m0 2v1m0 8v1m0 9v1m0 19v1m0 11v1m0 6v1M34 0v1m0 4v1m0 32v1m0 7v1m0 2v1m0 13v1m0 9v1m0 22v2M35 22v1m0 4v1m0 26v1m0 7v1m0 3v1m0 18v1M36 14v3m0 10v1m0 3v1m0 33v1m0 13v1m0 5v1M37 0v1m0 4v1m0 12v1m0 17v1m0 42v1m0 15v1M38 3v1m0 2v1m0 26v1m0 54v1m0 2v1m0 1v1M39 23v1m0 8v1m0 2v1m0 1v1m0 37v1m0 4v1M40 4v1m0 1v2m0 24v2m0 46v1M41 10v3m0 13v1m0 11v1m0 23v1m0 2v1m0 14v1m0 16v1M42 2v1m0 31v1m0 19v1m0 13v1m0 3v1m0 6v1m0 3v1M43 0v1m0 23v1m0 9v1m0 18v1m0 9v1M44 14v1m0 14v1m0 9v1m0 8v1m0 8v1M45 22v1m0 5v1m0 14v1m0 48v1m0 5v1M46 2v1m0 7v1m0 1v1m0 24v1m0 7v1m0 22v1m0 22v1M47 2v1m0 7v1m0 40v1m0 30v2m0 3v1M48 9v1m0 36v1m0 11v1m0 18v1M49 12v1m0 2v2m0 8v3m0 4v1m0 8v1m0 2v1m0 1v1m0 28v1m0 1v1M50 3v1m0 3v1m0 2v1m0 14v1m0 17v1m0 20v1m0 2v1m0 8v1m0 6v1M51 36v1m0 17v1m0 32v1M52 7v1m0 19v1m0 5v1m0 17v1m0 13v1m0 24v1M53 5v2m0 24v1m0 7v2m0 2v1m0 7v1m0 6v1m0 13v1m0 20v1M54 4v1m0 21v2m0 6v1m0 4v1m0 11v1m0 4v1m0 2v1m0 7v1m0 5v1m0 13v1M55 21v1m0 4v1m0 6v1m0 5v1m0 17v1m0 6v1m0 1v1M56 11v1m0 5v1m0 6v1m0 33v1m0 14v1M57 27v1m0 5v1m0 6v1m0 2v1m0 30v1m0 8v1m0 11v1M58 26v1m0 1v1m0 58v1M59 32v1m0 18v1m0 18v1m0 1v1M60 21v1m0 3v1m0 28v1m0 6v1m0 11v1m0 8v1M61 18v1m0 2v1m0 8v1m0 33v1m0 6v1m0 8v1m0 6v1m0 1v1m0 5v1M62 5v1m0 32v2m0 5v1m0 33v1M63 9v1m0 10v1m0 1v1m0 12v1m0 1v1m0 2v1m0 10v1m0 16v1m0 8v1m0 12v1M64 13v1m0 12v1m0 16v1m0 32v2m0 6v2m0 1v1m0 8v1M65 47v1m0 6v1M66 30v1m0 15v1m0 33v1m0 9v1m0 1v1m0 1v1M67 2v2m0 7v1m0 6v1m0 2v1m0 10v1m0 13v1m0 21v1m0 6v1M68 6v1m0 43v1m0 21v1m0 24v2M69 4v1m0 13v1m0 16v1m0 10v1m0 20v1m0 19v1m0 3v1M70 5v1m0 48v2m0 3v1m0 5v1m0 2v1m0 5v2m0 2v1m0 7v1M71 11v1m0 54v1m0 15v1m0 13v1M72 6v2m0 31v1m0 5v1m0 23v2m0 21v1m0 2v1M73 2v1m0 1v1m0 3v1m0 22v1m0 11v1m0 15v1m0 18v1M74 5v1m0 70v2M75 11v1m0 16v1m0 2v1m0 9v1m0 20v1m0 4v2M76 62v2m0 8v1m0 25v1M77 4v1m0 6v1m0 11v1m0 33v1m0 13v1m0 3v1m0 12v1M78 4v1m0 40v1m0 24v1m0 4v1m0 1v1m0 6v1M79 0v1m0 45v1m0 14v3m0 2v1m0 19v1M80 0v1m0 2v1m0 11v1m0 21v1m0 3v1m0 22v1m0 10v1m0 22v1M81 6v1m0 8v1m0 8v1m0 6v1m0 17v1m0 5v1m0 7v1m0 31v1M82 5v1m0 3v2m0 6v1m0 3v1m0 29v2m0 14v1M83 41v1m0 6v1m0 19v1m0 25v1M84 7v1m0 2v1m0 24v1m0 5v1m0 52v1m0 4v1M85 0v1m0 8v1m0 3v1m0 15v1m0 64v1M86 32v2m0 10v1m0 15v1m0 1v1m0 12v1m0 16v2M87 14v1m0 8v1m0 20v1M88 22v2m0 2v1m0 5v1m0 5v1m0 16v1m0 4v1m0 11v1M89 11v1m0 17v1m0 6v1m0 23v1M90 3v1m0 69v1M91 63v1m0 5v1m0 14v2m0 6v1M92 19v1m0 7v2m0 38v2m0 17v1m0 3v1m0 5v2M93 0v1m0 18v1m0 10v1m0 15v1m0 8v1m0 5v1m0 4v1m0 7v1m0 7v1M94 7v2m0 10v1m0 6v1m0 10v1m0 3v1m0 32v1m0 24v1M95 2v1m0 7v1m0 7v1m0 48v1m0 12v1m0 8v2M96 0v1m0 11v1m0 15v1m0 40v1m0 10v1m0 6v1M97 27v1m0 6v1m0 1v1m0 26v1M98 19v1m0 13v1m0 12v1m0 48v1m0 2v1M99 4v1m0 17v1m0 15v1m0 23v1m0 17v1m0 17v1"/><path stroke="#7b7b7b" d="M0 0v1m0 23v1m0 3v1m0 33v1m0 26v1M1 18v1m0 9v1m0 3v1m0 14v1m0 15v1m0 19v1M2 2v1m0 23v1m0 29v1m0 4v1m0 5v1m0 26v1M3 88v1m0 4v1M4 27v1m0 3v3m0 20v1M5 15v1m0 4v1m0 6v1m0 45v1m0 24v1M6 12v1m0 1v1m0 13v1m0 7v1m0 28v1m0 32v1M7 11v1m0 8v1m0 39v1m0 22v2M8 2v1m0 7v2m0 24v1m0 13v1m0 37v1M9 10v1m0 17v1m0 4v1m0 37v1m0 8v2m0 10v1M10 16v1m0 14v2m0 4v1m0 2v1m0 50v1m0 3v1m0 3v1M11 8v1m0 39v1m0 10v1m0 1v1M12 32v1m0 25v2m0 30v1m0 4v2m0 1v1M13 8v1m0 17v1m0 10v1m0 57v1M14 0v1m0 34v1m0 2v1m0 49v1m0 6v1M15 5v1m0 26v1m0 28v1m0 4v1m0 20v1m0 2v1m0 6v1M16 31v1m0 21v1m0 5v1m0 30v1M17 38v1m0 9v1m0 7v1m0 2v1m0 34v1M18 15v1m0 63v1m0 9v1m0 8v1M19 49v2m0 7v1m0 23v1M20 2v1m0 23v1m0 3v1m0 3v1m0 39v1m0 2v1M21 36v1m0 10v1m0 6v1m0 24v1m0 1v1m0 7v1m0 6v1M22 4v1m0 3v1m0 4v1m0 1v1m0 8v1m0 17v1m0 5v1m0 18v1m0 25v2m0 3v1M23 12v1m0 9v1m0 18v1m0 5v1m0 7v1m0 6v1m0 5v1m0 26v1M24 10v1m0 1v1m0 16v2m0 53v1M25 1v1m0 3v1m0 17v1m0 23v1m0 4v1m0 2v1m0 6v1m0 21v1m0 4v1M26 10v1m0 7v1m0 23v1m0 14v1m0 13v1m0 17v1m0 4v1M27 17v1m0 2v1m0 13v1m0 12v1m0 1v1m0 3v1m0 18v2m0 18v1M28 20v1m0 15v1m0 6v1m0 5v1m0 42v1M29 12v1m0 15v2m0 6v1M30 15v1m0 1v1m0 24v1m0 35v1m0 11v1M31 7v1m0 2v1m0 6v1m0 14v1m0 7v1m0 14v1m0 20v1M32 41v1m0 46v1M33 48v1m0 8v1m0 9v1m0 1v1m0 4v1m0 3v2m0 2v1m0 3v1m0 1v1m0 4v1M34 23v1m0 51v1m0 3v1M35 14v1m0 33v1m0 29v2m0 17v1M36 4v1m0 7v1m0 6v1m0 24v1m0 50v1M37 11v1m0 10v1m0 9v1m0 2v1m0 35v1m0 14v1m0 2v1m0 9v1M38 2v1m0 18v1m0 5v1m0 53v1M39 8v1m0 2v1m0 54v2m0 9v1m0 13v1M40 1v1m0 26v1m0 60v1M41 49v1m0 14v1m0 16v1M42 17v1m0 7v1m0 4v1m0 11v1m0 3v1m0 6v1m0 2v1m0 30v1m0 11v1M43 3v1m0 12v1m0 45v1m0 13v1m0 10v1M44 41v1m0 12v1m0 6v1M45 17v1m0 20v1m0 2v1m0 43v1M46 3v1m0 7v1m0 37v1m0 2v1m0 21v1m0 7v1M47 16v1m0 9v1m0 40v1m0 6v1M48 16v1m0 9v1m0 5v1m0 23v1m0 38v1M49 7v1m0 5v1m0 46v1m0 9v1m0 2v1m0 13v1M50 0v1m0 21v1m0 9v1m0 9v1m0 26v1m0 3v1m0 12v1M51 0v1m0 34v1m0 1v1m0 3v2m0 12v1m0 7v1m0 17v1m0 1v1m0 2v1M52 6v1m0 5v1m0 35v1m0 5v1m0 5v1m0 25v1M53 19v1m0 3v1m0 66v1M54 20v1m0 20v1m0 12v1M55 14v1m0 1v1m0 6v1m0 38v1m0 2v1M56 43v1m0 13v1m0 38v1M57 4v1m0 7v1m0 6v1m0 65v2M58 5v1m0 13v2m0 29v2m0 28v1M59 1v1m0 13v2m0 9v1m0 4v1m0 11v1m0 3v1m0 14v1m0 30v1m0 2v1M60 14v1m0 28v1m0 11v2m0 1v1M61 16v1m0 28v1m0 11v1M62 10v2m0 3v1m0 4v3m0 40v1m0 7v1m0 2v1M63 14v1m0 3v1m0 11v1m0 7v1m0 13v1m0 1v1m0 7v1m0 7v1m0 4v1M64 27v1m0 17v1m0 24v1M65 43v2m0 14v1m0 38v1M66 2v1m0 25v2m0 12v1m0 11v1m0 42v1M67 1v1m0 7v1m0 9v2m0 30v1m0 38v1M68 20v1m0 10v1m0 7v2m0 5v2m0 1v1M69 3v1m0 1v1m0 28v1m0 7v1m0 4v1m0 12v1m0 28v1m0 3v1M70 9v1m0 30v2m0 53v1M71 2v1m0 29v1m0 7v1m0 24v1m0 12v1m0 2v1m0 5v1m0 5v1M72 28v1m0 12v1m0 35v1m0 3v1M73 5v1m0 61v1m0 9v1M74 12v1m0 19v1m0 15v1m0 29v1m0 8v1M75 71v1m0 6v1M76 1v1m0 22v1m0 28v1m0 3v1m0 1v1m0 19v1m0 17v1M77 59v1m0 18v1M78 74v1m0 17v1m0 1v1M79 1v1m0 2v1m0 14v1m0 8v1M80 16v1m0 13v1m0 4v1m0 6v1m0 36v1m0 11v1M81 60v1m0 14v1m0 9v1m0 3v1M82 83v1M83 9v1m0 27v1m0 34v1m0 4v2m0 17v1M84 21v1m0 12v1m0 8v1m0 11v1m0 11v1m0 23v1M86 39v2m0 2v1m0 5v1m0 2v1m0 33v1M87 48v1m0 2v1m0 5v2m0 27v1M88 15v1M89 30v1m0 27v1m0 36v1M90 32v1m0 5v1m0 17v1m0 1v1m0 26v1M91 1v1m0 18v1m0 68v1m0 8v1M92 6v1m0 2v1m0 15v1m0 39v1m0 19v1m0 5v1M93 6v1m0 13v1m0 21v1m0 21v1m0 18v1M94 27v1m0 4v1m0 6v1m0 19v1m0 3v1m0 18v1M95 7v1m0 8v1m0 9v1m0 41v1m0 5v1m0 8v1m0 1v2M96 15v1m0 54v1m0 3v1m0 4v1m0 2v1m0 3v1M97 68v1m0 17v1M98 27v1m0 19v1m0 13v1m0 8v1m0 10v1m0 7v1M99 21v1m0 5v1m0 9v1m0 22v2"/><path stroke="#848484" d="M0 10v1m0 7v1m0 14v1m0 17v1m0 3v1m0 5v1m0 25v1M1 15v1m0 1v1m0 47v1m0 7v1m0 6v1M2 5v2m0 61v1M3 6v1m0 19v1m0 30v1M4 5v1m0 3v1m0 18v1m0 47v1M5 0v1m0 37v1M6 13v1M7 39v2m0 35v1M8 1v1m0 19v2m0 14v1m0 11v1m0 27v1m0 4v1m0 11v1M9 85v1m0 5v1M10 0v1m0 9v1m0 30v1m0 54v1M12 5v1m0 13v1m0 37v1m0 13v1m0 19v1M13 5v1m0 81v1m0 6v1M14 3v1m0 2v1m0 72v1m0 19v1M15 34v2m0 43v2M16 39v1m0 8v1m0 11v1m0 27v1M17 75v1m0 14v1M18 0v2m0 14v1m0 31v1m0 35v1M19 0v1m0 77v1m0 6v1M20 13v1m0 6v1m0 10v1m0 15v1m0 1v1m0 7v1m0 32v1M21 29v1m0 1v1m0 20v1m0 2v1m0 2v2m0 18v1m0 4v1M22 12v1m0 8v1m0 25v1m0 6v1M23 29v1m0 37v1m0 17v1M24 11v1m0 55v1m0 21v1M25 53v1m0 2v2m0 6v1m0 33v1M26 2v1m0 14v1m0 3v2m0 31v1m0 1v1m0 39v1M27 4v1m0 4v1m0 1v1m0 29v1m0 32v1M28 15v1m0 1v1m0 15v1m0 7v2m0 2v2m0 1v1m0 12v1m0 29v1M29 15v1m0 21v1m0 24v1m0 1v1M30 21v1m0 3v1m0 1v1m0 1v2m0 5v1m0 20v1m0 19v1M31 5v1m0 19v1m0 5v1m0 63v1M32 28v1m0 20v1m0 17v1m0 1v1m0 14v1m0 7v1M33 24v1m0 52v1m0 3v1M34 19v1m0 19v1m0 5v1m0 11v1m0 16v1m0 1v1M35 1v1m0 11v1m0 14v1m0 9v1m0 4v1m0 1v1m0 49v1M36 1v1m0 15v1m0 55v1m0 15v1m0 6v1M37 44v1m0 13v1m0 1v1M38 36v1m0 35v1m0 2v1M39 39v1m0 32v1m0 3v1m0 5v1m0 1v1m0 5v1M40 0v1m0 57v1m0 5v1m0 11v2m0 20v1M41 1v2m0 34v1m0 5v1m0 15v1m0 9v1M42 3v1m0 80v1m0 3v1M43 25v1m0 18v1m0 9v1m0 28v1M44 67v1m0 4v1M45 6v1m0 25v1m0 15v1m0 18v1m0 28v1M46 0v1m0 26v2m0 13v1m0 5v1m0 26v1m0 11v1M47 73v1m0 6v1M48 17v1m0 24v1m0 14v1m0 22v2M49 6v1m0 35v2m0 20v1m0 21v1m0 8v1M50 30v1m0 8v1m0 47v1M51 29v1m0 10v1M52 24v1m0 17v1m0 14v1m0 35v1M53 9v1m0 1v1m0 3v1m0 13v1m0 11v2m0 10v1m0 5v1m0 11v1M54 22v1m0 53v1M56 22v1m0 42v1M57 84v1M58 43v2m0 12v1m0 13v1m0 1v1m0 5v1m0 2v1M59 4v1m0 53v1m0 19v2m0 14v1M60 18v1m0 32v1m0 1v1M61 3v1m0 2v1m0 7v1m0 2v1m0 7v1m0 20v1m0 28v1m0 8v2M62 26v1m0 9v2M63 28v1m0 7v1m0 22v1m0 1v1m0 5v1m0 1v1m0 6v1m0 1v1M64 41v2m0 4v1m0 5v1m0 8v1m0 6v1M65 4v1m0 37v1m0 51v1m0 4v1M66 3v1m0 37v1m0 19v1m0 31v1M67 47v1m0 25v1m0 2v1m0 2v1m0 5v1M68 0v1m0 50v1m0 26v1M69 2v1m0 8v1m0 25v1m0 52v1M70 17v1m0 11v1m0 2v1m0 4v1m0 22v1m0 2v1m0 15v1m0 8v1m0 5v1M71 4v1m0 17v1m0 5v1m0 13v1M72 16v1m0 23v1m0 2v1m0 18v1m0 17v1M73 3v1m0 3v1m0 36v1m0 3v2m0 31v1m0 9v1M74 16v2m0 1v1m0 9v1m0 26v2m0 5v1m0 24v1M75 32v1m0 24v1m0 5v1M76 12v1m0 18v1m0 45v1m0 4v1M77 77v1m0 4v1M79 92v1M80 31v1m0 34v1m0 11v1m0 20v1M81 74v1m0 9v1m0 12v1M82 23v1m0 3v1m0 2v1m0 24v1m0 10v1m0 6v1m0 1v1m0 16v1M83 82v1M84 69v1m0 11v1m0 6v1M85 3v1m0 14v1m0 72v1M86 41v2m0 18v1m0 29v1M87 22v1m0 1v1m0 13v1m0 4v1m0 11v1m0 3v1m0 24v1m0 6v2M88 4v1m0 16v1m0 36v1m0 5v1m0 25v1m0 6v1M89 9v1m0 29v1m0 15v1m0 32v1m0 5v1M90 27v1m0 53v1M92 20v1m0 45v1M93 3v1m0 50v1m0 34v1M94 57v1m0 33v1M95 13v3m0 5v1M96 6v1m0 13v1M97 10v1m0 3v1m0 33v1m0 31v2M98 8v1m0 2v1m0 47v1m0 17v1m0 4v1M99 7v1m0 38v1m0 11v1m0 36v1"/><path stroke="#8e8e8e" d="M0 29v1m0 33v1m0 7v1m0 10v1M1 48v1m0 45v1M2 58v1M3 34v1m0 20v2m0 9v1m0 3v1m0 2v1m0 8v1m0 11v1M4 39v1m0 2v1m0 32v1m0 15v1m0 7v1M5 28v1M6 51v1M7 7v1m0 14v2m0 26v1m0 44v1M8 23v1m0 51v2m0 6v1m0 2v1M9 18v1M11 21v2m0 35v1m0 36v1M12 8v1m0 31v1M13 1v1m0 1v1m0 15v1m0 59v1M14 37v1M15 1v1m0 29v1m0 45v1M16 49v1m0 39v1M17 29v2m0 18v1m0 18v1m0 29v1M18 18v1m0 48v1m0 20v1m0 4v1M19 17v1M20 1v1m0 66v3M21 68v1M22 23v1m0 4v1m0 40v1m0 14v1M23 10v1m0 23v1m0 19v1m0 33v1M24 53v2m0 7v1m0 24v1M25 20v1m0 8v2m0 23v1M26 32v1m0 27v1m0 2v1m0 8v1M27 1v1m0 54v1m0 18v1m0 14v1m0 7v1M28 1v1m0 8v1m0 7v1m0 11v1M29 9v1m0 6v2m0 23v1m0 56v1M30 14v1m0 22v1m0 9v1M32 26v1m0 31v1m0 11v1m0 3v1m0 20v1m0 1v1M33 20v1M34 37v1m0 26v1m0 15v1M36 48v2m0 22v1M37 28v1m0 2v1m0 56v1M38 60v1m0 38v1M39 36v1m0 44v1M40 2v1m0 60v1m0 7v1m0 6v1M41 3v1m0 56v1m0 10v1m0 7v1m0 5v1M42 62v1m0 3v1M43 17v1m0 5v1m0 19v1m0 2v1m0 19v1m0 15v1M44 2v1m0 40v1m0 37v1M45 29v1m0 12v1m0 10v1m0 14v1m0 7v1M46 16v1M47 19v1m0 3v1m0 3v2m0 8v1M48 4v1m0 13v1m0 9v1M49 40v1m0 12v1m0 1v1m0 40v1M50 24v1m0 72v1M51 8v1m0 1v1m0 12v1m0 19v3m0 23v1m0 2v1m0 9v1M52 19v1m0 10v1m0 18v1M53 14v1m0 3v1M54 13v1m0 17v1m0 42v1M55 9v1m0 10v1m0 1v1m0 21v1m0 29v1M56 8v1m0 3v1m0 51v1M57 3v1m0 5v1m0 4v1m0 5v1m0 36v1m0 29v2M58 22v1m0 66v1M59 48v1m0 26v1m0 5v1m0 7v1M60 39v1m0 38v1m0 9v1m0 3v1M61 7v1m0 40v1m0 27v1m0 2v1m0 10v3M62 30v1m0 11v1m0 1v1M63 43v1m0 2v1m0 42v1M64 39v1m0 27v1M65 14v1m0 38v1M66 55v1M67 50v1m0 19v1m0 26v1M68 75v1m0 12v1M69 20v1m0 10v1m0 8v1m0 47v1M70 28v1m0 58v1M71 10v1M72 15v1m0 8v1m0 19v1m0 4v1M73 13v1M74 7v1m0 62v1m0 28v1M75 27v1m0 1v1m0 54v2M76 13v1m0 27v1m0 46v1M77 12v1m0 17v1m0 21v1m0 43v1M78 1v1m0 44v1m0 24v2m0 22v1M79 8v1m0 55v1m0 2v1M80 11v1m0 49v1m0 28v1M81 18v1m0 9v1m0 42v1M82 4v1m0 28v1M83 51v1m0 21v1M84 8v2m0 17v1m0 2v1m0 47v1m0 1v1M85 34v1m0 6v1M86 74v1m0 10v1M87 40v1m0 53v1M88 16v2m0 2v1m0 12v1m0 6v1M89 22v1m0 8v1M90 5v1m0 51v1M91 2v1m0 1v1m0 81v1M93 28v1m0 2v1m0 16v1m0 11v1m0 7v1m0 23v1M94 1v1m0 14v1m0 16v1m0 6v1m0 6v1M95 32v1M96 27v1M97 6v1m0 18v1m0 53v1m0 16v1m0 1v1M98 60v1M99 28v1m0 16v1m0 8v2m0 20v1"/><path stroke="#989898" d="M0 19v2m0 33v1m0 5v1m0 9v1m0 9v1M1 35v1m0 4v1m0 1v1m0 27v1M2 55v1m0 17v1m0 23v1M3 72v1m0 4v1M4 77v1m0 11v1M5 36v2m0 4v1m0 31v1M6 52v1M7 6v1m0 46v1M9 72v1m0 6v1M12 3v1M13 20v1m0 49v1m0 17v1M14 4v1m0 67v1m0 25v1M15 4v1m0 91v1M17 3v1m0 18v1m0 29v1m0 35v1m0 10v1M18 3v1M19 3v1m0 32v1M20 58v1m0 24v1M21 12v1m0 12v1m0 4v1m0 36v1m0 1v1m0 3v1M22 86v1M24 64v1M25 35v1m0 25v1M26 36v1m0 10v1M27 2v1m0 16v1m0 2v3m0 5v1m0 11v1M28 2v1m0 6v1m0 27v1m0 26v1M29 19v1M30 63v1M31 8v1m0 20v1m0 11v1m0 35v1M32 5v1m0 12v1M33 19v1m0 18v1m0 37v1M34 18v1m0 6v2m0 50v2M35 0v1m0 16v2m0 16v1m0 60v1M36 11v1m0 75v1M37 57v1m0 1v1m0 18v1m0 2v1M38 10v1m0 26v1m0 1v1m0 42v1m0 2v1M39 1v1m0 3v1m0 18v1m0 73v1M40 65v1m0 3v1M41 4v1m0 58v1M42 43v1m0 3v1m0 22v2m0 1v1M43 29v1m0 12v1m0 15v1m0 10v1M44 17v1m0 4v2m0 16v1m0 5v1m0 21v1m0 4v1M45 52v1m0 28v1m0 6v1M46 14v1m0 24v1m0 27v1M47 17v1M48 36v2m0 41v1m0 16v1M49 36v2m0 34v1m0 3v1m0 2v1M50 2v1m0 28v1m0 4v1M51 7v1m0 22v1m0 7v1M52 28v1m0 21v1m0 4v1m0 7v1m0 33v1M53 32v1m0 21v1m0 12v1m0 5v1M54 14v1M56 16v1M57 75v1M58 6v1M59 49v1m0 7v1m0 28v1M60 0v1m0 14v1m0 30v1m0 2v1m0 7v1m0 23v1m0 2v1M61 23v2m0 1v1m0 51v1M62 6v1m0 20v1m0 60v1M63 15v1m0 44v1M64 14v2m0 24v1m0 20v1M65 46v1m0 39v1M66 13v1m0 65v1M67 45v1M68 8v1m0 2v1m0 40v1m0 41v1m0 1v1M69 19v1m0 10v1m0 55v1m0 8v1M70 50v2m0 15v1m0 3v1M71 16v1M72 3v1m0 19v1m0 70v1M73 18v1M74 46v1M75 14v1m0 6v1m0 18v1m0 38v1M76 33v1M77 33v1m0 7v1m0 55v1M78 29v1m0 60v1M79 45v1M80 48v1m0 14v1M81 40v1m0 45v1M82 56v1m0 36v2M83 21v1m0 11v1m0 64v1M84 68v1m0 7v1M85 33v1m0 9v1m0 6v1m0 17v2M86 16v1m0 34v1m0 45v1M87 90v1M88 83v1m0 5v1m0 6v1M89 33v1m0 48v1M90 10v1m0 12v1m0 4v2m0 25v1M91 0v1m0 56v1M92 12v1m0 18v1m0 23v1M93 7v1M94 0v1m0 1v1m0 11v1m0 31v1m0 13v1m0 6v1M95 57v1M96 8v1m0 8v2m0 66v1M97 21v1m0 60v2m0 11v1M98 63v1M99 41v1m0 17v1"/><path stroke="#a2a2a2" d="M0 23v1m0 25v1m0 29v1M1 49v1m0 24v1M2 17v1m0 9v1m0 55v1M4 88v1M5 41v1M6 3v1M8 85v1m0 1v1M9 1v1m0 7v1M11 90v1m0 6v1M12 73v1m0 23v1M13 4v1m0 4v1m0 89v1M15 41v1M16 4v1m0 86v1M17 40v1M18 2v1m0 78v1m0 4v1M19 81v1M21 14v1m0 61v2m0 17v1M26 91v1M27 33v1M28 0v1m0 46v1m0 24v1m0 6v1m0 18v1M29 42v2m0 34v1M30 97v1M31 28v1m0 1v1m0 53v1M32 27v1m0 1v1m0 22v1m0 15v1M33 18v1m0 6v1m0 11v1M34 36v1M36 18v1m0 9v1m0 7v1m0 6v1m0 54v2M37 10v1M38 9v1m0 28v1m0 58v1M39 2v1m0 58v1m0 9v1M40 38v1M42 45v1m0 32v1M43 41v1m0 36v1M44 37v1M45 36v1m0 3v1m0 4v1M46 40v1m0 42v1M47 47v1M48 29v1M49 48v1m0 22v1M50 9v1m0 13v1m0 31v1M51 9v1m0 14v1m0 46v1M53 28v1M54 53v1M55 11v1M57 64v1M58 4v1m0 70v1M59 73v1m0 11v1M60 28v1m0 48v1M61 39v1m0 7v1M62 29v1m0 13v1m0 31v1m0 2v1m0 13v1M63 27v1m0 25v1m0 34v1M64 0v1m0 59v1m0 5v1M65 96v1M66 60v1m0 25v1m0 2v1m0 8v1M67 6v1m0 5v1m0 54v1m0 16v1M69 41v1m0 10v1m0 21v1M70 66v1m0 26v1M71 9v1M72 78v1M73 12v1m0 67v1M74 71v1m0 7v1M75 87v1M77 32v1m0 43v1M78 73v1m0 17v1M79 79v1M80 19v1m0 40v1M82 22v1m0 26v1m0 24v1M83 30v1m0 62v1M84 18v1M85 35v1m0 54v1M86 15v1M87 5v1m0 79v1M88 11v1m0 83v1M89 99v1M90 9v1m0 83v1m0 5v1M91 15v1M92 8v1m0 23v1m0 59v1M93 47v1M94 66v1m0 8v1M96 10v1m0 11v1m0 43v1M97 8v1m0 57v1M98 96v1M99 81v1m0 15v1"/><path stroke="#acacac" d="M0 64v1M1 64v1m0 25v1m0 7v1M2 82v1m0 6v1M3 60v1m0 28v1M5 8v1m0 5v1m0 84v1M6 40v1m0 39v1M7 34v1m0 17v1m0 32v1M10 17v1m0 53v1M11 36v1m0 59v1M12 21v1M15 78v1M16 34v1M17 39v1M18 40v1m0 46v1M19 2v1m0 76v1M20 81v2M21 16v1M22 29v1m0 42v1M23 31v1m0 39v2M24 63v1m0 35v1M25 36v1m0 58v1m0 1v1M26 95v1M27 16v1m0 46v1m0 27v1M30 41v1m0 17v1M31 36v2M32 17v1m0 64v2M33 27v1m0 19v1m0 1v1M34 17v1M36 0v1M37 29v1m0 54v1M38 32v1M40 5v1m0 73v1M41 77v1M42 58v1M43 1v1m0 53v1M44 28v1M45 14v1M46 41v1m0 5v1m0 33v1M47 18v1m0 12v1M48 53v1M49 56v1M50 52v1M51 31v1M52 29v1m0 13v1m0 28v1m0 1v1m0 23v1M56 13v1m0 9v1M58 27v1m0 28v1m0 12v1M60 3v1m0 43v1M62 70v1M63 47v1M65 63v1M66 23v1M69 38v1m0 46v1M70 72v1M71 3v1m0 66v2M72 2v1m0 39v1M75 15v1m0 54v1m0 17v1M79 89v1M80 59v1m0 26v1M81 10v1m0 24v1M83 22v1m0 4v1m0 6v1m0 60v1M84 28v1m0 60v2M87 15v1m0 77v1m0 4v1M88 10v1m0 28v1M89 23v1M90 0v1m0 97v1M91 56v1M92 7v1M95 27v1m0 3v1m0 52v1M96 7v1M98 10v1M99 9v1"/><path stroke="#b5b5b5" d="M0 81v1M4 56v1M7 54v1M8 33v1m0 1v1M14 7v1M16 29v2m0 42v2m0 4v1M18 39v1m0 40v1m0 4v1M19 1v1M20 14v1M22 35v1M25 21v1m0 41v1m0 27v1M26 5v1m0 84v1M27 31v1M28 19v1m0 42v1m0 15v1m0 20v1M31 27v1m0 19v1m0 8v1M33 17v1m0 55v1M34 27v1M35 12v1m0 31v1M36 30v1m0 16v1m0 40v1M37 85v1M38 29v1m0 53v1M39 58v2M40 61v1M41 67v1M42 44v1m0 3v1M43 47v1M44 82v1M46 38v1m0 12v1m0 28v1m0 3v1M47 66v1m0 12v1M48 78v1M49 2v1m0 62v1M50 72v1M51 48v1m0 24v1m0 23v1M53 57v1M54 21v1m0 30v1m0 5v1m0 16v1M55 63v1M56 10v1m0 3v1M57 22v1m0 32v1M58 70v1m0 17v1M59 44v1m0 11v1m0 17v1M62 28v1M66 96v1M69 51v1M71 63v1M73 19v1M74 6v1m0 51v1M76 83v1M80 10v1m0 6v2M81 16v1m0 81v1M82 29v1M84 77v1M85 4v1m0 70v1m0 13v1M86 50v1m0 44v2M88 61v1M90 4v1m0 17v1M91 9v1m0 54v1M93 27v1M94 90v1M95 1v1M96 26v1m0 57v1M97 9v1m0 10v1M98 62v1m0 15v1M99 10v1m0 85v1"/><path stroke="#bfbfbf" d="M0 41v1m0 46v1M2 98v1M4 78v1M8 19v2M10 62v1M11 9v1m0 25v1M13 39v1M14 2v1M16 40v1m0 35v1m0 1v1M17 57v1m0 18v1M20 78v2M21 15v1m0 66v1m0 11v1M22 22v1m0 40v1M25 90v1M26 19v1m0 26v1M27 46v1M28 44v1M29 18v1m0 28v1m0 15v1M30 48v1M32 20v1m0 9v1m0 26v1M33 51v1M34 28v2m0 56v1M38 84v1M39 6v1m0 22v2m0 68v1M42 77v1M43 2v1m0 61v2M44 15v1M46 15v1M48 5v1M49 4v1M50 1v1m0 68v1m0 4v1M51 51v1M52 9v1m0 34v1m0 19v1M53 22v1m0 29v1M54 40v1M55 13v1M58 3v1m0 50v1M59 83v1M60 52v1M61 27v1M65 45v1m0 14v1m0 34v1M66 59v1M67 96v1M70 10v1m0 74v1M71 43v1m0 18v1m0 9v1m0 21v1M73 6v1m0 16v1M74 31v1M77 58v1m0 25v1M82 34v1M85 36v1M87 95v1M89 10v1M90 1v1M91 55v1M93 67v1M95 0v1M96 56v1m0 10v1m0 28v1M97 7v1M98 9v1"/><path stroke="#c9c9c9" d="M0 42v1m0 7v1m0 40v1M3 5v1m0 61v1m0 11v1M7 41v1M11 89v1M12 26v1m0 62v1M13 73v1M14 66v1M19 15v1M21 99v1M22 68v1m0 16v1M23 30v1M26 33v1m0 1v1M27 3v1m0 6v1m0 51v1M28 63v1M32 31v1m0 16v1m0 45v1M33 87v1M34 16v1M39 38v1M40 66v1M42 59v1M44 1v1m0 75v1M45 39v1M46 95v1M52 10v1m0 45v1M53 55v1M54 57v1M57 23v1m0 4v1m0 27v1M58 74v1M59 3v1m0 46v1M62 90v2M63 41v1M65 69v1M67 95v1M68 95v1M69 39v1M73 22v1M74 81v1M76 56v1M77 1v1M78 0v1M80 85v1M81 56v1M82 98v1M84 29v1m0 7v1m0 57v1M85 42v1M91 3v1m0 93v1M94 15v1M98 97v1M99 8v1"/><path stroke="#d3d3d3" d="M0 34v1M6 42v1M9 98v1M10 97v1M11 98v1M12 88v1M21 13v1M22 31v1M25 28v1m0 67v1M27 45v1M29 46v1M30 28v1m0 20v1M32 19v1m0 12v1M33 5v1m0 23v1m0 2v1M34 24v1M35 34v1M36 29v1M37 30v1m0 41v1M38 59v1m0 38v1M40 60v1M42 67v1M43 77v1M44 76v1M45 82v1M47 49v1M48 52v1m0 13v1M51 70v1m0 4v1m0 23v1M53 56v1M60 48v1M65 61v2M66 62v1m0 32v1M70 84v1M74 20v1m0 9v1M75 20v1M81 17v1M82 28v1M83 99v1M85 17v1M87 39v1M99 39v1m0 37v1"/><path stroke="#dddddd" d="M0 65v1m0 24v1M4 71v1M5 71v1M7 35v1m0 15v1M12 27v1M13 2v1m0 35v1M14 1v1M17 58v1M20 15v1m0 64v1M24 88v1M26 3v1m0 16v1M29 11v1M30 20v1m0 37v1M32 7v1M33 28v1M35 16v1M37 98v1M44 0v1M47 50v1M50 71v1m0 27v1M52 40v1m0 32v1M60 86v1M64 46v1M66 85v1M67 88v1M74 22v1M75 19v1m0 60v1M79 91v1M80 36v1M96 9v1m0 73v1"/><path stroke="#e6e6e6" d="M6 7v1m0 33v1M10 98v1M12 20v1M13 71v1M14 8v1M19 16v1m0 63v1M20 21v1M25 22v1M32 6v1M33 30v1M35 15v1M40 70v1M41 78v1M45 31v1M49 3v1M51 74v1M52 23v1m0 15v1M55 12v1M56 15v1M58 83v1M59 55v1m0 31v1M60 87v1M69 94v1M70 73v1M77 0v1M81 99v1M83 29v1M96 21v1"/><path stroke="#f0f0f0" d="M1 41v1m0 47v1M13 72v1M26 34v1M29 10v1M35 29v1M38 31v1M44 16v1M45 16v1M48 49v1M50 98v1M56 9v1M60 85v1M71 95v1M77 83v1M79 90v1M82 99v1M84 36v1M89 32v1"/><path stroke="#fafafa" d="M0 35v2M3 78v1M4 55v1m0 16v1M8 34v1M12 72v1M16 77v1M20 16v1M22 30v1M26 4v1M27 99v1M28 16v1M30 9v3m0 34v1M31 20v1m0 27v1m0 8v2M32 47v1M33 6v1m0 24v1m0 18v1M34 30v2M35 30v1M38 30v1M41 68v1M44 83v2M45 15v1m0 14v1m0 52v2m0 10v1M46 29v3m0 18v1m0 43v1M47 29v2M48 50v2m0 13v1M49 49v4M50 48v4M51 49v2m0 47v1M58 55v1M59 53v2m0 27v1m0 5v1M62 89v1M63 42v1M66 68v1M67 89v1M74 21v1m0 58v1M76 84v1M83 28v1M87 96v2M93 90v2M99 40v1"/></g></g>
</g>
<rect x="1795.50" y="905.00" width="280.00" height="1.00" fill="#fff" stroke="none" stroke-width="1.1" />
<rect x="1795.50" y="626.50" width="280.00" height="280.00" fill="none" stroke="#000" stroke-width="1.1" />
<line x1="1798.50" y1="626.50" x2="1798.50" y2="621.20" stroke="#000" stroke-width="1.1" />
<line x1="1866.50" y1="626.50" x2="1866.50" y2="621.20" stroke="#000" stroke-width="1.1" />
<line x1="1935.50" y1="626.50" x2="1935.50" y2="621.20" stroke="#000" stroke-width="1.1" />
<line x1="2003.50" y1="626.50" x2="2003.50" y2="621.20" stroke="#000" stroke-width="1.1" />
<line x1="2071.50" y1="626.50" x2="2071.50" y2="621.20" stroke="#000" stroke-width="1.1" />
<line x1="1863.50" y1="906.50" x2="1863.50" y2="911.80" stroke="#000" stroke-width="1.1" />
<line x1="1931.50" y1="906.50" x2="1931.50" y2="911.80" stroke="#000" stroke-width="1.1" />
<line x1="1999.50" y1="906.50" x2="1999.50" y2="911.80" stroke="#000" stroke-width="1.1" />
<line x1="2068.50" y1="906.50" x2="2068.50" y2="911.80" stroke="#000" stroke-width="1.1" />
<line x1="1795.50" y1="635.50" x2="1790.20" y2="635.50" stroke="#000" stroke-width="1.1" />
<line x1="1795.50" y1="704.50" x2="1790.20" y2="704.50" stroke="#000" stroke-width="1.1" />
<line x1="1795.50" y1="773.50" x2="1790.20" y2="773.50" stroke="#000" stroke-width="1.1" />
<line x1="1795.50" y1="842.50" x2="1790.20" y2="842.50" stroke="#000" stroke-width="1.1" />
<line x1="2075.50" y1="642.50" x2="2080.80" y2="642.50" stroke="#000" stroke-width="1.1" />
<line x1="2075.50" y1="711.50" x2="2080.80" y2="711.50" stroke="#000" stroke-width="1.1" />
<line x1="2075.50" y1="779.50" x2="2080.80" y2="779.50" stroke="#000" stroke-width="1.1" />
<line x1="2075.50" y1="848.50" x2="2080.80" y2="848.50" stroke="#000" stroke-width="1.1" />
<text x="1783.2" y="639.1" font-size="14.17" text-anchor="end" fill="#000" textLength="43.8" lengthAdjust="spacingAndGlyphs">11°45'</text>
<text x="1783.2" y="708.1" font-size="14.17" text-anchor="end" fill="#000" textLength="19.3" lengthAdjust="spacingAndGlyphs">30'</text>
<text x="1783.2" y="777.1" font-size="14.17" text-anchor="end" fill="#000" textLength="19.3" lengthAdjust="spacingAndGlyphs">15'</text>
<text x="1783.2" y="846.1" font-size="14.17" text-anchor="end" fill="#000" textLength="19.3" lengthAdjust="spacingAndGlyphs">00'</text>
<text x="1838.3" y="926.1" font-size="14.17" text-anchor="start" fill="#000" textLength="17.6" lengthAdjust="spacingAndGlyphs">19</text>
<text x="1855.9" y="920.8" font-size="9.92" text-anchor="start" fill="#000" textLength="6.1" lengthAdjust="spacingAndGlyphs">h</text>
<text x="1862.0" y="926.1" font-size="14.17" text-anchor="start" fill="#000" textLength="17.6" lengthAdjust="spacingAndGlyphs">53</text>
<text x="1879.6" y="920.8" font-size="9.92" text-anchor="start" fill="#000" textLength="9.4" lengthAdjust="spacingAndGlyphs">m</text>
<text x="1918.1" y="926.1" font-size="14.17" text-anchor="start" fill="#000" textLength="17.6" lengthAdjust="spacingAndGlyphs">52</text>
<text x="1935.8" y="920.8" font-size="9.92" text-anchor="start" fill="#000" textLength="9.4" lengthAdjust="spacingAndGlyphs">m</text>
<text x="1986.7" y="926.1" font-size="14.17" text-anchor="start" fill="#000" textLength="17.6" lengthAdjust="spacingAndGlyphs">51</text>
<text x="2004.3" y="920.8" font-size="9.92" text-anchor="start" fill="#000" textLength="9.4" lengthAdjust="spacingAndGlyphs">m</text>
<text x="2055.5" y="926.1" font-size="14.17" text-anchor="start" fill="#000" textLength="17.6" lengthAdjust="spacingAndGlyphs">50</text>
<text x="2073.2" y="920.8" font-size="9.92" text-anchor="start" fill="#000" textLength="9.4" lengthAdjust="spacingAndGlyphs">m</text>
<text x="1934.8" y="948.0" font-size="14.17" text-anchor="middle" fill="#000" textLength="17.2" lengthAdjust="spacingAndGlyphs">RA</text>
<text transform="translate(1728.6 767.5) rotate(-90)" font-size="14.17" text-anchor="middle" fill="#000" textLength="24.7" lengthAdjust="spacingAndGlyphs">Dec</text>
<path d="M1867.0 693.7L1874.8 701.5M1867.0 701.5L1874.8 693.7" stroke="#008000" stroke-width="1.5" fill="none"/>
<path d="M1895.0 767.0L1902.8 774.8M1895.0 774.8L1902.8 767.0" stroke="#ff0000" stroke-width="1.5" fill="none"/>
<circle cx="1992.5" cy="739.7" r="4.1" fill="none" stroke="#008000" stroke-width="1.4"/>
<text x="1986.0" y="732.5" font-size="14.17" text-anchor="start" fill="#008000" opacity="1.0" textLength="112.0" lengthAdjust="spacingAndGlyphs">PSRJ1951+1123</text>
<path d="M1928.5 767.7L1935.2 761.3L1937.7 761.7L1939.2 763.1L1939.6 764.5L1939.6 768.3L1935.2 772.5L1932.7 772.4Z" fill="none" stroke="#2020e0" stroke-width="1.1"/>
<rect x="2096.50" y="626.50" width="14.00" height="280.00" fill="url(#gray)" stroke="none" stroke-width="1.1" />
<rect x="2096.50" y="626.50" width="14.00" height="280.00" fill="none" stroke="#000" stroke-width="1.1" />
<line x1="2110.50" y1="660.50" x2="2115.80" y2="660.50" stroke="#000" stroke-width="1.1" />
<text x="2120.4" y="666.1" font-size="14.17" text-anchor="start" fill="#000" textLength="28.7" lengthAdjust="spacingAndGlyphs">0.35</text>
<line x1="2110.50" y1="706.50" x2="2115.80" y2="706.50" stroke="#000" stroke-width="1.1" />
<text x="2120.4" y="711.8" font-size="14.17" text-anchor="start" fill="#000" textLength="28.7" lengthAdjust="spacingAndGlyphs">0.30</text>
<line x1="2110.50" y1="751.50" x2="2115.80" y2="751.50" stroke="#000" stroke-width="1.1" />
<text x="2120.4" y="757.4" font-size="14.17" text-anchor="start" fill="#000" textLength="28.7" lengthAdjust="spacingAndGlyphs">0.25</text>
<line x1="2110.50" y1="797.50" x2="2115.80" y2="797.50" stroke="#000" stroke-width="1.1" />
<text x="2120.4" y="803.0" font-size="14.17" text-anchor="start" fill="#000" textLength="28.7" lengthAdjust="spacingAndGlyphs">0.20</text>
<line x1="2110.50" y1="843.50" x2="2115.80" y2="843.50" stroke="#000" stroke-width="1.1" />
<text x="2120.4" y="848.7" font-size="14.17" text-anchor="start" fill="#000" textLength="28.7" lengthAdjust="spacingAndGlyphs">0.15</text>
<line x1="2110.50" y1="888.50" x2="2115.80" y2="888.50" stroke="#000" stroke-width="1.1" />
<text x="2120.4" y="894.4" font-size="14.17" text-anchor="start" fill="#000" textLength="28.7" lengthAdjust="spacingAndGlyphs">0.10</text>
<text transform="translate(2166.4 766.4) rotate(-90)" font-size="14.17" text-anchor="middle" fill="#000" font-weight="bold" textLength="140.0" lengthAdjust="spacingAndGlyphs">tcg = 0.485 (1.05)</text>
<rect x="647.50" y="38.50" width="1050.00" height="420.00" fill="#fff" stroke="none" stroke-width="1.1" />
<path d="M694.0 262.0L707.8 291.0L721.7 290.0L735.5 307.0L749.4 278.0L763.2 249.6L777.0 245.6L790.9 177.2L804.7 221.0L818.6 179.0L832.4 174.6L846.2 183.4L860.1 205.6L873.9 171.4L887.8 189.4L901.6 171.4L915.4 247.6L929.3 207.6L943.1 241.0L957.0 266.0L970.8 308.4L984.6 289.6L998.5 280.4L1012.3 267.0L1026.2 301.6L1040.0 336.4L1053.8 335.6L1067.7 239.0L1081.5 325.6L1095.4 296.0L1109.2 241.0L1123.0 244.0L1136.9 268.4L1150.7 218.0L1164.6 234.0L1178.4 214.0L1192.2 195.0L1206.1 232.0L1219.9 202.6L1233.8 225.0L1247.6 214.0L1261.4 273.6L1275.3 269.0L1289.1 323.0L1303.0 234.4L1316.8 270.0L1330.6 291.0L1344.5 257.0L1358.3 269.6L1372.2 290.0L1386.0 276.0L1399.8 266.0L1413.7 274.0L1427.5 244.0L1441.4 197.6L1455.2 272.0L1469.0 251.0L1482.9 245.0L1496.7 267.0L1510.6 232.0L1524.4 270.0L1538.2 264.0L1552.1 315.0L1565.9 274.0L1579.8 300.0L1593.6 301.0L1607.4 322.0L1621.3 296.0L1635.1 258.0L1649.0 244.0" fill="none" stroke="#ff0000" stroke-width="2.1" stroke-opacity="0.5" stroke-linejoin="round" stroke-linecap="butt"/>
<path d="M694.0 251.6L707.8 251.6L721.7 252.8L735.5 274.0L749.4 246.4L763.2 236.0L777.0 272.0L790.9 210.0L804.7 240.0L818.6 205.0L832.4 188.4L846.2 210.0L860.1 232.0L873.9 252.0L887.8 257.0L901.6 307.0L915.4 322.0L929.3 247.6L943.1 256.0L957.0 302.4L970.8 314.0L984.6 334.4L998.5 298.4L1012.3 283.0L1026.2 219.4L1040.0 268.4L1053.8 256.0L1067.7 232.0L1081.5 249.6L1095.4 237.6L1109.2 243.0L1123.0 216.0L1136.9 257.0L1150.7 199.6L1164.6 242.0L1178.4 251.0L1192.2 301.0L1206.1 261.0L1219.9 297.0L1233.8 269.0L1247.6 225.0L1261.4 261.0L1275.3 264.0L1289.1 241.6L1303.0 248.0L1316.8 252.4L1330.6 251.6L1344.5 241.0L1358.3 233.0L1372.2 231.6L1386.0 283.0L1399.8 304.0L1413.7 225.0L1427.5 288.0L1441.4 261.0L1455.2 154.6L1469.0 181.4L1482.9 242.0L1496.7 180.0L1510.6 201.6L1524.4 271.0L1538.2 213.5L1552.1 191.5L1565.9 189.0L1579.8 207.0L1593.6 194.5L1607.4 200.5L1621.3 248.0L1635.1 313.0L1649.0 272.0" fill="none" stroke="#008000" stroke-width="2.1" stroke-opacity="0.5" stroke-linejoin="round" stroke-linecap="butt"/>
<path d="M694.0 177.2V271.8M707.8 108.0V202.6M721.7 79.0V173.6M735.5 57.0V151.6M749.4 116.0V210.6M763.2 177.0V271.6M777.0 142.0V236.6M790.9 187.0V281.6M804.7 162.0V256.6M818.6 232.3V326.9M832.4 216.7V311.3M846.2 281.7V376.3M860.1 261.1V355.7M873.9 253.1V347.7M887.8 222.3V316.9M901.6 257.3V351.9M915.4 257.3V351.9M929.3 267.7V362.3M943.1 274.7V369.3M957.0 282.3V376.9M970.8 244.3V338.9M984.6 256.7V351.3M998.5 299.7V394.3M1012.3 259.7V354.3M1026.2 313.7V408.3M1040.0 265.7V360.3M1053.8 273.1V367.7M1067.7 296.1V390.7M1081.5 288.7V383.3M1095.4 300.3V394.9M1109.2 342.7V437.3M1123.0 287.1V381.7M1136.9 304.7V399.3M1150.7 291.1V385.7M1164.6 266.7V361.3M1178.4 322.3V416.9M1192.2 285.7V380.3M1206.1 207.7V302.3M1219.9 222.7V317.3M1233.8 173.1V267.7M1247.6 171.1V265.7M1261.4 214.7V309.3M1275.3 240.7V335.3M1289.1 205.7V300.3M1303.0 215.7V310.3M1316.8 264.3V358.9M1330.6 283.7V378.3M1344.5 283.7V378.3M1358.3 293.1V387.7M1372.2 271.7V366.3M1386.0 230.3V324.9M1399.8 239.1V333.7M1413.7 228.3V322.9M1427.5 264.3V358.9M1441.4 249.7V344.3M1455.2 215.7V310.3M1469.0 288.7V383.3M1482.9 267.7V362.3M1496.7 294.1V388.7M1510.6 297.7V392.3M1524.4 271.1V365.7M1538.2 260.3V354.9M1552.1 288.7V383.3M1565.9 251.7V346.3M1579.8 244.3V338.9M1593.6 264.3V358.9M1607.4 253.7V348.3M1621.3 279.7V374.3M1635.1 263.1V357.7M1649.0 225.3V319.9" fill="none" stroke="#0000ff" stroke-width="2.1"/>
<path d="M694.0 224.5L707.8 155.3L721.7 126.3L735.5 104.3L749.4 163.3L763.2 224.3L777.0 189.3L790.9 234.3L804.7 209.3L818.6 279.6L832.4 264.0L846.2 329.0L860.1 308.4L873.9 300.4L887.8 269.6L901.6 304.6L915.4 304.6L929.3 315.0L943.1 322.0L957.0 329.6L970.8 291.6L984.6 304.0L998.5 347.0L1012.3 307.0L1026.2 361.0L1040.0 313.0L1053.8 320.4L1067.7 343.4L1081.5 336.0L1095.4 347.6L1109.2 390.0L1123.0 334.4L1136.9 352.0L1150.7 338.4L1164.6 314.0L1178.4 369.6L1192.2 333.0L1206.1 255.0L1219.9 270.0L1233.8 220.4L1247.6 218.4L1261.4 262.0L1275.3 288.0L1289.1 253.0L1303.0 263.0L1316.8 311.6L1330.6 331.0L1344.5 331.0L1358.3 340.4L1372.2 319.0L1386.0 277.6L1399.8 286.4L1413.7 275.6L1427.5 311.6L1441.4 297.0L1455.2 263.0L1469.0 336.0L1482.9 315.0L1496.7 341.4L1510.6 345.0L1524.4 318.4L1538.2 307.6L1552.1 336.0L1565.9 299.0L1579.8 291.6L1593.6 311.6L1607.4 301.0L1621.3 327.0L1635.1 310.4L1649.0 272.6" fill="none" stroke="#0000ff" stroke-width="2.1" stroke-opacity="1.0" stroke-linejoin="round" stroke-linecap="butt"/>
<line x1="647.50" y1="230.00" x2="1697.50" y2="230.00" stroke="#000" stroke-width="2.1" stroke-dasharray="2.15 3.40" stroke-dashoffset="0.7"/>
<line x1="647.50" y1="278.00" x2="1697.50" y2="278.00" stroke="#000" stroke-width="2.1" stroke-dasharray="2.15 3.40" stroke-dashoffset="0.7"/>
<line x1="647.50" y1="325.20" x2="1697.50" y2="325.20" stroke="#000" stroke-width="2.1" stroke-dasharray="2.15 3.40" stroke-dashoffset="0.7"/>
<rect x="647.50" y="38.50" width="1050.00" height="420.00" fill="none" stroke="#000" stroke-width="1.1" />
<line x1="647.50" y1="42.50" x2="642.20" y2="42.50" stroke="#000" stroke-width="1.1" />
<line x1="647.50" y1="89.50" x2="642.20" y2="89.50" stroke="#000" stroke-width="1.1" />
<line x1="647.50" y1="136.50" x2="642.20" y2="136.50" stroke="#000" stroke-width="1.1" />
<line x1="647.50" y1="183.50" x2="642.20" y2="183.50" stroke="#000" stroke-width="1.1" />
<line x1="647.50" y1="231.50" x2="642.20" y2="231.50" stroke="#000" stroke-width="1.1" />
<line x1="647.50" y1="278.50" x2="642.20" y2="278.50" stroke="#000" stroke-width="1.1" />
<line x1="647.50" y1="325.50" x2="642.20" y2="325.50" stroke="#000" stroke-width="1.1" />
<line x1="647.50" y1="372.50" x2="642.20" y2="372.50" stroke="#000" stroke-width="1.1" />
<line x1="647.50" y1="419.50" x2="642.20" y2="419.50" stroke="#000" stroke-width="1.1" />
<line x1="694.50" y1="458.50" x2="694.50" y2="463.80" stroke="#000" stroke-width="1.1" />
<text x="694.5" y="478.7" font-size="14.17" text-anchor="middle" fill="#000" textLength="6.7" lengthAdjust="spacingAndGlyphs">0</text>
<line x1="867.50" y1="458.50" x2="867.50" y2="463.80" stroke="#000" stroke-width="1.1" />
<text x="867.4" y="478.7" font-size="14.17" text-anchor="middle" fill="#000" textLength="15.5" lengthAdjust="spacingAndGlyphs">50</text>
<line x1="1040.50" y1="458.50" x2="1040.50" y2="463.80" stroke="#000" stroke-width="1.1" />
<text x="1040.3" y="478.7" font-size="14.17" text-anchor="middle" fill="#000" textLength="24.3" lengthAdjust="spacingAndGlyphs">100</text>
<line x1="1213.50" y1="458.50" x2="1213.50" y2="463.80" stroke="#000" stroke-width="1.1" />
<text x="1213.2" y="478.7" font-size="14.17" text-anchor="middle" fill="#000" textLength="24.3" lengthAdjust="spacingAndGlyphs">150</text>
<line x1="1386.50" y1="458.50" x2="1386.50" y2="463.80" stroke="#000" stroke-width="1.1" />
<text x="1386.1" y="478.7" font-size="14.17" text-anchor="middle" fill="#000" textLength="24.3" lengthAdjust="spacingAndGlyphs">200</text>
<line x1="1559.50" y1="458.50" x2="1559.50" y2="463.80" stroke="#000" stroke-width="1.1" />
<text x="1559.0" y="478.7" font-size="14.17" text-anchor="middle" fill="#000" textLength="24.3" lengthAdjust="spacingAndGlyphs">250</text>
<text x="1172.7" y="499.3" font-size="14.17" text-anchor="middle" fill="#000" textLength="54.2" lengthAdjust="spacingAndGlyphs">Time (s)</text>
<rect x="1568.4" y="44.5" width="122.3" height="67.2" rx="2.8" fill="#fff" fill-opacity="0.8" stroke="#ccc" stroke-opacity="0.8" stroke-width="1.1"/>
<line x1="1573.2" y1="55.9" x2="1603.0" y2="55.9" stroke="#ff0000" stroke-opacity="0.5" stroke-width="2.1"/>
<text x="1612.8" y="61.7" font-size="14.17" text-anchor="start" fill="#000" textLength="57.5" lengthAdjust="spacingAndGlyphs">Known 1</text>
<line x1="1573.2" y1="76.8" x2="1603.0" y2="76.8" stroke="#008000" stroke-opacity="0.5" stroke-width="2.1"/>
<text x="1612.8" y="81.8" font-size="14.17" text-anchor="start" fill="#000" textLength="57.5" lengthAdjust="spacingAndGlyphs">Known 2</text>
<line x1="1573.2" y1="97.9" x2="1603.0" y2="97.9" stroke="#0000ff" stroke-opacity="1" stroke-width="2.1"/>
<line x1="1588.1" y1="91.0" x2="1588.1" y2="104.80000000000001" stroke="#0000ff" stroke-width="2.1"/>
<text x="1612.8" y="102.8" font-size="14.17" text-anchor="start" fill="#000" textLength="68.6" lengthAdjust="spacingAndGlyphs">Candidate</text>
<rect x="1263.50" y="486.50" width="434.00" height="420.00" fill="#fff" stroke="none" stroke-width="1.1" />
<path d="M1282.4 906.5V886.0H1302.1V801.8H1321.9V724.9H1341.6V663.0H1361.3V611.0H1381.1V573.0H1400.8V544.0H1420.5V523.0H1440.2V510.0H1460.0V505.0H1479.7V506.0H1499.4V515.0H1519.2V532.0H1538.9V557.0H1558.6V590.0H1578.4V629.0H1598.1V679.6H1617.8V730.3H1637.5V790.1H1657.3V868.0H1677.0V906.5Z" fill="#8080ff"/>
<line x1="1634.90" y1="486.50" x2="1634.90" y2="906.50" stroke="#ff0000" stroke-width="2.1" />
<rect x="1263.50" y="486.50" width="434.00" height="420.00" fill="none" stroke="#000" stroke-width="1.1" />
<line x1="1301.50" y1="906.50" x2="1301.50" y2="911.80" stroke="#000" stroke-width="1.1" />
<text x="1301.4" y="926.8" font-size="14.17" text-anchor="middle" fill="#000" textLength="31.5" lengthAdjust="spacingAndGlyphs">−0.4</text>
<line x1="1388.50" y1="906.50" x2="1388.50" y2="911.80" stroke="#000" stroke-width="1.1" />
<text x="1388.4" y="926.8" font-size="14.17" text-anchor="middle" fill="#000" textLength="31.5" lengthAdjust="spacingAndGlyphs">−0.2</text>
<line x1="1475.50" y1="906.50" x2="1475.50" y2="911.80" stroke="#000" stroke-width="1.1" />
<text x="1475.4" y="926.8" font-size="14.17" text-anchor="middle" fill="#000" textLength="19.9" lengthAdjust="spacingAndGlyphs">0.0</text>
<line x1="1562.50" y1="906.50" x2="1562.50" y2="911.80" stroke="#000" stroke-width="1.1" />
<text x="1562.4" y="926.8" font-size="14.17" text-anchor="middle" fill="#000" textLength="19.9" lengthAdjust="spacingAndGlyphs">0.2</text>
<line x1="1649.50" y1="906.50" x2="1649.50" y2="911.80" stroke="#000" stroke-width="1.1" />
<text x="1649.4" y="926.8" font-size="14.17" text-anchor="middle" fill="#000" textLength="19.9" lengthAdjust="spacingAndGlyphs">0.4</text>
<text x="1480.0" y="945.7" font-size="14.17" text-anchor="middle" fill="#000" textLength="54.1" lengthAdjust="spacingAndGlyphs">Flux (Jy)</text>
<line x1="1263.50" y1="555.50" x2="1258.20" y2="555.50" stroke="#000" stroke-width="1.1" />
<line x1="1263.50" y1="529.50" x2="1260.30" y2="529.50" stroke="#000" stroke-width="0.85" />
<line x1="1263.50" y1="515.50" x2="1260.30" y2="515.50" stroke="#000" stroke-width="0.85" />
<line x1="1263.50" y1="504.50" x2="1260.30" y2="504.50" stroke="#000" stroke-width="0.85" />
<line x1="1263.50" y1="496.50" x2="1260.30" y2="496.50" stroke="#000" stroke-width="0.85" />
<line x1="1263.50" y1="489.50" x2="1260.30" y2="489.50" stroke="#000" stroke-width="0.85" />
<line x1="1263.50" y1="639.50" x2="1258.20" y2="639.50" stroke="#000" stroke-width="1.1" />
<line x1="1263.50" y1="613.50" x2="1260.30" y2="613.50" stroke="#000" stroke-width="0.85" />
<line x1="1263.50" y1="599.50" x2="1260.30" y2="599.50" stroke="#000" stroke-width="0.85" />
<line x1="1263.50" y1="588.50" x2="1260.30" y2="588.50" stroke="#000" stroke-width="0.85" />
<line x1="1263.50" y1="580.50" x2="1260.30" y2="580.50" stroke="#000" stroke-width="0.85" />
<line x1="1263.50" y1="573.50" x2="1260.30" y2="573.50" stroke="#000" stroke-width="0.85" />
<line x1="1263.50" y1="568.50" x2="1260.30" y2="568.50" stroke="#000" stroke-width="0.85" />
<line x1="1263.50" y1="563.50" x2="1260.30" y2="563.50" stroke="#000" stroke-width="0.85" />
<line x1="1263.50" y1="559.50" x2="1260.30" y2="559.50" stroke="#000" stroke-width="0.85" />
<line x1="1263.50" y1="722.50" x2="1258.20" y2="722.50" stroke="#000" stroke-width="1.1" />
<line x1="1263.50" y1="697.50" x2="1260.30" y2="697.50" stroke="#000" stroke-width="0.85" />
<line x1="1263.50" y1="682.50" x2="1260.30" y2="682.50" stroke="#000" stroke-width="0.85" />
<line x1="1263.50" y1="672.50" x2="1260.30" y2="672.50" stroke="#000" stroke-width="0.85" />
<line x1="1263.50" y1="664.50" x2="1260.30" y2="664.50" stroke="#000" stroke-width="0.85" />
<line x1="1263.50" y1="657.50" x2="1260.30" y2="657.50" stroke="#000" stroke-width="0.85" />
<line x1="1263.50" y1="652.50" x2="1260.30" y2="652.50" stroke="#000" stroke-width="0.85" />
<line x1="1263.50" y1="647.50" x2="1260.30" y2="647.50" stroke="#000" stroke-width="0.85" />
<line x1="1263.50" y1="642.50" x2="1260.30" y2="642.50" stroke="#000" stroke-width="0.85" />
<line x1="1263.50" y1="806.50" x2="1258.20" y2="806.50" stroke="#000" stroke-width="1.1" />
<line x1="1263.50" y1="781.50" x2="1260.30" y2="781.50" stroke="#000" stroke-width="0.85" />
<line x1="1263.50" y1="766.50" x2="1260.30" y2="766.50" stroke="#000" stroke-width="0.85" />
<line x1="1263.50" y1="756.50" x2="1260.30" y2="756.50" stroke="#000" stroke-width="0.85" />
<line x1="1263.50" y1="748.50" x2="1260.30" y2="748.50" stroke="#000" stroke-width="0.85" />
<line x1="1263.50" y1="741.50" x2="1260.30" y2="741.50" stroke="#000" stroke-width="0.85" />
<line x1="1263.50" y1="735.50" x2="1260.30" y2="735.50" stroke="#000" stroke-width="0.85" />
<line x1="1263.50" y1="731.50" x2="1260.30" y2="731.50" stroke="#000" stroke-width="0.85" />
<line x1="1263.50" y1="726.50" x2="1260.30" y2="726.50" stroke="#000" stroke-width="0.85" />
<line x1="1263.50" y1="890.50" x2="1258.20" y2="890.50" stroke="#000" stroke-width="1.1" />
<line x1="1263.50" y1="865.50" x2="1260.30" y2="865.50" stroke="#000" stroke-width="0.85" />
<line x1="1263.50" y1="850.50" x2="1260.30" y2="850.50" stroke="#000" stroke-width="0.85" />
<line x1="1263.50" y1="840.50" x2="1260.30" y2="840.50" stroke="#000" stroke-width="0.85" />
<line x1="1263.50" y1="831.50" x2="1260.30" y2="831.50" stroke="#000" stroke-width="0.85" />
<line x1="1263.50" y1="825.50" x2="1260.30" y2="825.50" stroke="#000" stroke-width="0.85" />
<line x1="1263.50" y1="819.50" x2="1260.30" y2="819.50" stroke="#000" stroke-width="0.85" />
<line x1="1263.50" y1="814.50" x2="1260.30" y2="814.50" stroke="#000" stroke-width="0.85" />
<line x1="1263.50" y1="810.50" x2="1260.30" y2="810.50" stroke="#000" stroke-width="0.85" />
<line x1="1263.50" y1="903.50" x2="1260.30" y2="903.50" stroke="#000" stroke-width="0.85" />
<line x1="1263.50" y1="898.50" x2="1260.30" y2="898.50" stroke="#000" stroke-width="0.85" />
<line x1="1263.50" y1="894.50" x2="1260.30" y2="894.50" stroke="#000" stroke-width="0.85" />
<text x="1245.7" y="561.4" font-size="14.17" text-anchor="end" fill="#000" textLength="15.5" lengthAdjust="spacingAndGlyphs">10</text>
<text x="1246.8" y="557.7" font-size="9.92" text-anchor="start" fill="#000" textLength="4.7" lengthAdjust="spacingAndGlyphs">0</text>
<text x="1237.6" y="645.3" font-size="14.17" text-anchor="end" fill="#000" textLength="15.5" lengthAdjust="spacingAndGlyphs">10</text>
<text x="1238.7" y="641.6" font-size="9.92" text-anchor="start" fill="#000" textLength="12.8" lengthAdjust="spacingAndGlyphs">−1</text>
<text x="1237.6" y="729.1" font-size="14.17" text-anchor="end" fill="#000" textLength="15.5" lengthAdjust="spacingAndGlyphs">10</text>
<text x="1238.7" y="725.4" font-size="9.92" text-anchor="start" fill="#000" textLength="12.8" lengthAdjust="spacingAndGlyphs">−2</text>
<text x="1237.6" y="813.0" font-size="14.17" text-anchor="end" fill="#000" textLength="15.5" lengthAdjust="spacingAndGlyphs">10</text>
<text x="1238.7" y="809.2" font-size="9.92" text-anchor="start" fill="#000" textLength="12.8" lengthAdjust="spacingAndGlyphs">−3</text>
<text x="1237.6" y="896.8" font-size="14.17" text-anchor="end" fill="#000" textLength="15.5" lengthAdjust="spacingAndGlyphs">10</text>
<text x="1238.7" y="893.1" font-size="9.92" text-anchor="start" fill="#000" textLength="12.8" lengthAdjust="spacingAndGlyphs">−4</text>
<text transform="translate(1210.5 696.5) rotate(-90)" font-size="14.17" text-anchor="middle" fill="#000" textLength="238.8" lengthAdjust="spacingAndGlyphs">Number density of pixels in cutout</text>
<rect x="1376.4" y="853.1" width="207.3" height="46.1" rx="2.8" fill="#fff" fill-opacity="0.8" stroke="#ccc" stroke-opacity="0.8" stroke-width="1.1"/>
<rect x="1381.9" y="859.2" width="27.8" height="9.7" fill="#0000ff" fill-opacity="0.5"/>
<line x1="1381.9" y1="885.2" x2="1409.7" y2="885.2" stroke="#ff0000" stroke-width="2.1"/>
<text x="1421.3" y="869.2" font-size="14.17" text-anchor="start" fill="#000" textLength="156.4" lengthAdjust="spacingAndGlyphs">Transient cutout pixels</text>
<text x="1421.3" y="890.8" font-size="14.17" text-anchor="start" fill="#000" textLength="108.9" lengthAdjust="spacingAndGlyphs">Candidate peak</text>
</svg>
</body></html>
